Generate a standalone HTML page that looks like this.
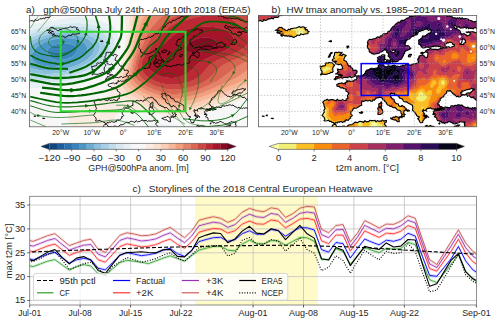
<!DOCTYPE html>
<html><head><meta charset="utf-8"><style>
html,body{margin:0;padding:0;background:#fff;width:500px;height:323px;overflow:hidden}
svg{display:block;font-family:"Liberation Sans",sans-serif}
</style></head><body>
<svg width="500" height="323" viewBox="0 0 500 323">
<defs>
<clipPath id="ca"><rect x="29.5" y="15.5" width="218.5" height="111.5"/></clipPath>
<clipPath id="cb"><rect x="258" y="15.5" width="218.8" height="111.5"/></clipPath>
<clipPath id="landb"><path d="M334.3 124L332.1 122.4L328.6 120.2L326.8 120.8L324 120.8L324.3 117.7L322.1 115.4L323.6 112.9L324.6 109.4L324 104.9L322.7 102.1L325.8 100.2L329.9 99.9L333.6 99.9L339.9 100.2L346.2 100.5L347.7 97L348 92.2L344.9 88.7L338 86.5L336.8 84.6L340.8 83.3L345.5 84L346.8 80.5L348 81.4L352.4 81.1L356.8 78.9L356.8 76.6L359.6 76L363 75L365.2 72.8L366.8 70L370.2 68.7L373.7 68.7L376.8 68.1L378.7 67.1L379.3 64.9L378.7 62.3L377.4 60.4L378.7 56.9L384.9 55L384.6 56.6L384 58.8L385.9 59.5L383 61.4L382.4 63.6L383.4 64.9L385.9 66.8L389.6 66.1L394.3 65.2L396.2 67.1L401.8 65.8L408 64.2L410.2 65.5L414 63.9L418.1 63L417.7 59.1L419.3 56L422.4 55L425.6 57.2L427.7 56.3L428.1 53.1L425.2 51.2L427.4 49.6L431.5 49L439.3 49.3L446.2 48L442.4 47.1L436.2 46.1L429.9 47.1L423.7 48L421.2 46.4L418.7 44.2L419 39.8L422.1 37.2L428.4 33.4L431.2 31.8L430.9 29.9L427.4 29.3L421.2 29.9L418.4 32.4L415.9 35L411.2 37.2L407.4 39.1L405.9 42.3L405.2 45.2L409.3 46.7L410.9 48.3L408 49.9L404.6 52.2L403.4 55.6L401.8 58.5L398.7 60.1L396.5 61.7L392.4 62.3L391.8 59.8L389.3 56.9L388.7 54.7L386.8 52.5L386.2 50.2L384.6 49.9L384.9 48L383 50.9L379.9 52.2L376.8 53.7L373.7 54.1L369.6 52.2L369.3 49.9L367.4 46.4L367.4 42.9L368.3 40.4L372.4 39.4L376.8 37.5L381.8 36.3L384.9 33.7L389.3 31.5L391.2 28.6L394.3 25.4L397.4 22.9L400.5 21.3L403.4 20.4L407.4 18.1L411.2 16.5L419 14.9L425.9 13L432.4 12.4L439.3 12.7L445.6 14.6L450.2 16.5L454.9 17.8L464.3 18.8L472.1 21L478.4 22.9L483.1 23.9L483.1 130.4L464 130.4L464 127.2L464.3 124L464.9 122.1L463.1 122.1L459.9 121.5L456.5 123.4L453.4 123.7L448.7 121.5L447.1 122.7L444.3 123.4L440.2 121.5L437.7 120.8L436.8 118L434.3 116.7L435.9 114.8L433.7 112.9L434.3 110.7L437.7 110L442.4 108.4L440.9 108.1L434.6 109.4L433.1 108.8L429 108.4L425.9 110.3L426.8 111.3L423.7 110.7L423.4 109.4L422.4 111.3L424.6 113.8L423.4 115.8L426.8 117L425.9 118L424 119.6L422.7 122.4L421.8 122.7L419.6 121.5L417.7 118.6L419.3 116.7L417.7 116.4L416.5 114.5L414.9 112.6L412.4 110L412.7 107.2L412.4 105.3L409.6 103.7L406.5 101.8L403 100.2L399.3 97.9L396.5 94.8L394.3 95.1L394.6 93.2L390.2 94.1L390.5 97L394.3 100.2L396.8 103.7L401.5 106.5L401.8 105.3L404.9 107.8L409.6 111L407.7 111.3L405.5 110L403.7 112.3L405.2 114.5L402.1 117.7L400.9 116.7L402.4 114.5L400.9 111.3L398.4 110.3L396.5 108.8L392.4 107.2L389.3 105.3L386.5 103.4L384.6 100.2L382.4 98.3L379.3 97.3L375.2 99.2L372.4 101.1L368.3 100.8L365.8 100.2L362.1 100.8L361.5 103.7L361.8 105.3L358.7 106.8L354.6 108.1L352.4 110.7L350.8 113.2L352.4 115.4L350.2 116.7L349.3 118.9L346.5 119.9L344.9 121.8L338 121.8L334.9 123.7ZM334 79.3L338.7 78.2L341.2 77.6L345.5 77.3L348.7 77L352.7 77L356.2 75.7L354.6 74.7L356.8 72.8L357.1 70.9L355.5 70.1L352.7 70.3L352.7 68.7L352.1 68.1L350.5 65.8L348 64.9L347.1 63L345.5 61.1L343.7 60.1L344 58.8L346.2 55.6L345.2 55L340.8 55L339.3 55.3L342.1 52.2L336.1 52.2L334.6 54.1L333.6 56.3L334.3 58.5L332.4 59.5L334.3 62.3L336.5 61.4L335.8 63.9L338 64.6L340.5 63.9L341.5 65.2L342.4 66.8L342.7 68.7L341.5 69L337.4 69L337.7 70.6L339 72.2L335.5 73.8L338.7 74.4L341.8 75L342.4 75.7L338.7 75.7L335.8 76.6ZM320.5 74.4L322.1 71.2L320.8 68.7L320.2 66.1L324.9 65.8L325.2 63.6L329 62.3L332.4 63L334.6 65.2L333 67.1L332.7 69L332.1 72.5L328.3 73.5L325.2 74.4L321.1 75ZM275.2 30.2L278.3 28.3L281.8 27.3L286.1 30.5L290.8 28.6L294.9 28L301.8 27L306.1 27.7L305.5 29.9L309.3 31.5L306.5 33.7L302.1 34.3L296.1 36.3L292.4 36.9L286.1 35.6L280.8 35.6L283 34L276.8 32.4L282.1 31.8ZM248.6 9.5L248.6 21.9L258 21.3L267.4 19.7L275.2 17.5L281.4 15.6L283 9.5ZM378.7 106.8L380.5 106.8L381.5 104.6L381.2 101.8L378.7 104L379 105.9ZM378 114.5L379.9 114.5L381.8 113.8L382.4 109.7L381.5 107.5L377.7 108.1L378.4 110.3L378 112.6ZM390.5 118L393.4 117L400.5 116.7L399 119.9L399.3 121.8L396.5 120.8L391.2 118.9ZM425.2 126.2L426.8 125.3L431.5 126.2L434 126.6L433.4 127.2L429 127.2ZM359.3 112.6L361.5 111.6L362.7 112.3L361.8 113.5L360.2 112.9ZM386.2 62.6L389.3 63.9L391.2 61.7L390.2 60.1L386.5 60.7ZM382.4 62.6L385.5 63.3L384.9 61.7L383 62ZM408.4 56.6L410.9 55.6L411.5 54.4L409.6 54.4ZM420.6 53.1L422.1 52.2L424.6 52.5L422.4 54.1ZM452.7 127.2L454.9 126.1L459.9 125L458.1 126.9L454.9 128.5ZM329.9 130.4L332.1 127.2L333.3 124.7L335.2 124.3L337.7 126.6L342.4 126.2L345.5 126.9L348.7 125L352.1 124.3L356.5 122.4L361.2 121.5L367.4 121.5L372.4 120.5L378.7 121.2L382.4 119.9L384 121.2L386.5 120.5L384.6 123.1L385.5 125.3L386.5 126.6L384.6 129.1L386.2 131L389.3 132L389.3 133.6ZM329 41.3L331.1 40.4L331.5 41.7ZM347.4 48L348.7 46.1L346.8 46.4ZM328.3 57.2L332.4 52.8L330.2 53.7ZM423.7 114.8L428.7 117.3L427.4 116.4ZM432.7 114.2L434.9 113.5L433.7 114.5ZM438.7 123.7L439.9 122.7L439.6 124ZM271.1 118.3L273.3 118.3L273 118.6ZM266.1 115.4L267.4 115.1L267.1 115.8ZM262.4 116.1L264.3 116.2L263 116.4Z"/></clipPath>
<clipPath id="cc"><rect x="29.7" y="196.3" width="446.7" height="108.7"/></clipPath>
</defs>
<rect width="500" height="323" fill="#fff"/>
<!-- MAP A -->
<g clip-path="url(#ca)">
<path fill="#3884bb" stroke="#3884bb" stroke-width="0.3" d="M52.9 58.9l1.6 0.6l1.5 0.3l1.6 0.2l1.5 0.1l1.6-0.1l1.6-0.1l1.5-0.3l1.6-0.3l1.6-0.4l0.1-0.1l1.4-0.5l1.6-0.7l0.9-0.4l0.6-0.3l1.6-1l0.4-0.3l1.2-0.9l0.6-0.6l0.9-1.3l0.3-0.3l0.5-1.6l0-1.6l-0.6-1.6l-0.2-0.3l-1.2-1.3l-0.3-0.2l-1.6-0.9l-0.9-0.5l-0.7-0.2l-1.5-0.4l-1.6-0.4l-1.5-0.2l-1.6-0.1l-1.6-0.1l-1.5 0.1l-1.6 0.1l-1.6 0.3l-1.5 0.3l-1.6 0.4l-0.9 0.2l-0.6 0.3l-1.6 0.7l-1.3 0.6l-0.3 0.2l-1.5 1.2l-0.3 0.2l-1.2 1.6l-0.1 0.1l-0.5 1.5l0 1.6l0.5 1.6l0.8 1.5l0.8 1l0.5 0.6l1 0.8l1.3 0.8z"/>
<path fill="#4a97c5" stroke="#4a97c5" stroke-width="0.3" d="M49.8 66.9l1.5 0l1.6 0l1.6 0l1.3-0.1l0.2 0l1.6-0.2l1.5-0.2l1.6-0.2l1.6-0.3l1.5-0.3l1.6-0.4l0.2 0l1.4-0.4l1.5-0.5l1.6-0.4l0.7-0.3l0.8-0.3l1.6-0.6l1.6-0.7l1.5-0.7l1.6-0.8l0.1-0.1l1.4-0.8l1.2-0.8l0.4-0.2l1.6-1.2l0.1-0.2l1.4-1.3l0.3-0.2l1.3-1.6l0-0.1l0.8-1.5l0.6-1.6l0.1-1.1l0.1-0.5l-0.1-0.8l0-0.8l-0.6-1.6l-0.9-1.5l-0.1-0.1l-1.5-1.5l-0.1-0.1l-1.4-1l-1-0.6l-0.6-0.3l-1.6-0.6l-1.5-0.6l-0.1 0l-1.5-0.5l-1.5-0.3l-1.6-0.3l-1.6-0.2l-1.5-0.2l-1.6-0.1l-1.1 0l-0.4-0.1l-1.6 0l-1.3 0.1l-0.3 0l-1.5 0l-1.6 0.2l-1.6 0.1l-1.5 0.3l-1.6 0.2l-1.5 0.3l-1.6 0.3l-0.6 0.2l-1 0.2l-1.5 0.5l-1.6 0.5l-1 0.3l-0.5 0.2l-1.6 0.7l-1.6 0.7l-0.1 0l-1.4 0.8l-1.4 0.8l-0.2 0.1l-1.5 1.1l-0.6 0.4l-1 0.8l-0.9 0.8l-0.7 0.7l-0.9 0.9l-0.6 0.8l-0.6 0.8l-1 1.6l-0.6 1.6l-0.4 1.5l0 1.6l0.5 1.6l0.5 1.1l0.3 0.5l1.3 1.4l0.2 0.2l1.3 1l0.9 0.6l0.7 0.3l1.6 0.7l1.3 0.6l0.2 0.1l1.6 0.4l1.5 0.4l1.6 0.3l1.6 0.2l1.5 0.2l0.2 0zM52.6 58.8l-1.3-0.8l-1-0.8l-0.5-0.6l-0.8-1l-0.8-1.5l-0.5-1.6l0-1.6l0.5-1.5l0.1-0.1l1.2-1.6l0.3-0.2l1.5-1.2l0.3-0.2l1.3-0.6l1.6-0.7l0.6-0.3l0.9-0.2l1.6-0.4l1.5-0.3l1.6-0.3l1.6-0.1l1.5-0.1l1.6 0.1l1.6 0.1l1.5 0.2l1.6 0.4l1.5 0.4l0.7 0.2l0.9 0.5l1.6 0.9l0.3 0.2l1.2 1.3l0.2 0.3l0.6 1.6l0 1.6l-0.5 1.6l-0.3 0.3l-0.9 1.3l-0.6 0.6l-1.2 0.9l-0.4 0.3l-1.6 1l-0.6 0.3l-0.9 0.4l-1.6 0.7l-1.4 0.5l-0.1 0.1l-1.6 0.4l-1.6 0.3l-1.5 0.3l-1.6 0.1l-1.6 0.1l-1.5-0.1l-1.6-0.2l-1.5-0.3l-1.6-0.6z"/>
<path fill="#6bacd0" stroke="#6bacd0" stroke-width="0.3" d="M38.9 70.1l1.5 0.2l1.6 0.2l1.5 0.2l1.6 0.1l1.6 0l1.5 0.1l1.6-0.1l1.5 0l1.6-0.1l1.6-0.1l1.5-0.1l1.6-0.2l1.5-0.2l0.8-0.1l0.8-0.2l1.6-0.3l1.5-0.3l1.6-0.3l1.6-0.4l0.4-0.1l1.1-0.3l1.6-0.5l1.5-0.5l1-0.3l0.6-0.2l1.6-0.6l1.5-0.7l0.4-0.1l1.2-0.5l1.5-0.7l0.8-0.4l0.8-0.4l1.6-0.8l0.6-0.4l0.9-0.5l1.6-1l0-0.1l1.5-1.1l0.7-0.5l0.9-0.8l0.8-0.8l0.8-0.8l0.6-0.8l0.9-1.2l0.3-0.3l0.8-1.6l0.5-1.1l0.2-0.5l0.3-1.6l0.1-1.6l-0.2-1.6l-0.4-1.1l-0.2-0.5l-1-1.6l-0.4-0.4l-1-1.2l-0.5-0.4l-1.5-1.1l-0.1-0.1l-1.6-0.9l-1.2-0.6l-0.3-0.2l-1.6-0.6l-1.5-0.5l-1-0.3l-0.6-0.2l-1.6-0.4l-1.5-0.3l-1.6-0.2l-1.5-0.2l-1.6-0.2l-1.5-0.1l-0.1 0l-1.5-0.1l-1.6 0l-1.5 0l-1.6 0l-1.6 0.1l-0.2 0l-1.3 0.1l-1.6 0.1l-1.6 0.2l-1.5 0.1l-1.6 0.3l-1.5 0.2l-1.6 0.3l-1.4 0.3l-0.2 0l-1.5 0.4l-1.6 0.4l-1.5 0.4l-1.2 0.4l-0.4 0.1l-1.6 0.5l-1.5 0.6l-0.9 0.4l-0.7 0.3l-1.5 0.7l-1.3 0.5l-0.3 0.2l-1.6 0.9l-1 0.5l-0.5 0.4l-1.6 1l-0.4 0.2l-1.1 0.9l-1.1 0.7l-0.5 0.4l-1.3 1.2l-0.3 0.2l-1.2 1.4l-0.3 0.3l0 1.3l0 1.6l0 1.6l0 1.5l0 1.6l0 1.6l0 1.6l0 1.6l0 1.6l0 1.6l1.5 1.1l0.8 0.5l0.8 0.4l1.6 0.7l1.1 0.5l0.4 0.1l1.6 0.5l1.5 0.4l1.6 0.4l0.9 0.2zM48.4 66.8l-0.2 0l-1.5-0.2l-1.6-0.2l-1.6-0.3l-1.5-0.4l-1.6-0.4l-0.2-0.1l-1.3-0.6l-1.6-0.7l-0.7-0.3l-0.9-0.6l-1.3-1l-0.2-0.2l-1.3-1.4l-0.3-0.5l-0.5-1.1l-0.5-1.6l0-1.6l0.4-1.5l0.6-1.6l1-1.6l0.6-0.8l0.6-0.8l0.9-0.9l0.7-0.7l0.9-0.8l1-0.8l0.6-0.4l1.5-1.1l0.2-0.1l1.4-0.8l1.4-0.8l0.1 0l1.6-0.7l1.6-0.7l0.5-0.2l1-0.3l1.6-0.5l1.5-0.5l1-0.2l0.6-0.2l1.6-0.3l1.5-0.3l1.6-0.2l1.5-0.3l1.6-0.1l1.6-0.2l1.5 0l0.3 0l1.3-0.1l1.6 0l0.4 0.1l1.1 0l1.6 0.1l1.5 0.2l1.6 0.2l1.6 0.3l1.5 0.3l1.5 0.5l0.1 0l1.5 0.6l1.6 0.6l0.6 0.3l1 0.6l1.4 1l0.1 0.1l1.5 1.5l0.1 0.1l0.9 1.5l0.6 1.6l0 0.8l0.1 0.8l-0.1 0.5l-0.1 1.1l-0.6 1.6l-0.8 1.5l0 0.1l-1.3 1.5l-0.3 0.3l-1.4 1.3l-0.1 0.2l-1.6 1.2l-0.4 0.2l-1.2 0.8l-1.4 0.8l-0.1 0.1l-1.6 0.8l-1.5 0.7l-1.6 0.7l-1.6 0.6l-0.8 0.3l-0.7 0.3l-1.6 0.4l-1.5 0.5l-1.4 0.4l-0.2 0l-1.6 0.4l-1.5 0.3l-1.6 0.3l-1.6 0.2l-1.5 0.2l-1.6 0.2l-0.2 0l-1.3 0.1l-1.6 0l-1.6 0l-1.5 0z"/>
<path fill="#8bc1dc" stroke="#8bc1dc" stroke-width="0.3" d="M35.7 73.3l1.6 0.2l1.6 0.2l1.5 0.1l1.6 0.1l1.5 0.1l1.6 0l1.6 0l1.5 0l1.6 0l1.5-0.1l1.6-0.1l1.6-0.2l1.5-0.1l1.6-0.2l1-0.2l0.5 0l1.6-0.3l1.6-0.3l1.5-0.3l1.6-0.3l1.4-0.3l0.2-0.1l1.5-0.4l1.6-0.4l1.5-0.5l0.8-0.2l0.8-0.3l1.6-0.5l1.5-0.6l0.6-0.2l1-0.4l1.5-0.7l1.3-0.5l0.3-0.1l1.6-0.8l1.5-0.7l1.6-0.8l1.4-0.8l0.1-0.1l1.6-1l0.8-0.5l0.8-0.5l1.4-1.1l0.1-0.1l1.6-1.3l0.1-0.2l1.4-1.4l0.2-0.2l1.3-1.6l0.1-0.1l1-1.4l0.6-1l0.3-0.6l0.7-1.6l0.4-1.6l0.1-0.5l0.2-1.1l-0.1-1.6l-0.1-0.7l-0.2-0.9l-0.6-1.6l-0.7-1.3l-0.2-0.3l-1.4-1.5l-1.6-1.4l-0.3-0.2l-1.2-0.8l-1.4-0.8l-0.2-0.1l-1.5-0.8l-1.6-0.6l-0.2-0.1l-1.4-0.5l-1.5-0.5l-1.6-0.4l-1-0.2l-0.5-0.1l-1.6-0.3l-1.6-0.3l-1.5-0.2l-1.6-0.1l-1.5-0.2l-1.6 0l-1.6-0.1l-1.5 0l-1.6 0l-1.5 0l-1.6 0.1l-1.6 0.1l-1.5 0.1l-1.6 0.1l-1.6 0.2l-1.5 0.1l-1.6 0.2l-1.5 0.3l-0.8 0.1l-0.8 0.1l-1.6 0.3l-1.5 0.3l-1.6 0.4l-1.5 0.3l-0.5 0.2l-1.1 0.3l-1.6 0.4l-1.5 0.5l-1.1 0.4l-0.5 0.1l-1.5 0.6l-1.6 0.6l-0.5 0.3l-1.1 0.4l-1.5 0.7l-0.9 0.5l-0.7 0.3l-1.5 0.8l-0.8 0.4l-0.8 0.5l-1.6 1l-0.2 0.1l-1.3 1l0 0.6l0 1.6l0 1.6l0 1.6l0 0.3l0.3-0.3l1.2-1.4l0.3-0.2l1.3-1.2l0.5-0.4l1.1-0.7l1.1-0.9l0.4-0.2l1.6-1l0.5-0.4l1-0.5l1.6-0.9l0.3-0.2l1.3-0.5l1.5-0.7l0.7-0.3l0.9-0.4l1.5-0.6l1.6-0.5l0.4-0.1l1.2-0.4l1.5-0.4l1.6-0.4l1.5-0.4l0.2 0l1.4-0.3l1.6-0.3l1.5-0.2l1.6-0.3l1.5-0.1l1.6-0.2l1.6-0.1l1.3-0.1l0.2 0l1.6-0.1l1.6 0l1.5 0l1.6 0l1.5 0.1l0.1 0l1.5 0.1l1.6 0.2l1.5 0.2l1.6 0.2l1.5 0.3l1.6 0.4l0.6 0.2l1 0.3l1.5 0.5l1.6 0.6l0.3 0.2l1.2 0.6l1.6 0.9l0.1 0.1l1.5 1.1l0.5 0.4l1 1.2l0.4 0.4l1 1.6l0.2 0.5l0.4 1.1l0.2 1.6l-0.1 1.6l-0.3 1.6l-0.2 0.5l-0.5 1.1l-0.8 1.6l-0.3 0.3l-0.9 1.2l-0.6 0.8l-0.8 0.8l-0.8 0.8l-0.9 0.8l-0.7 0.5l-1.5 1.1l0 0.1l-1.6 1l-0.9 0.5l-0.6 0.4l-1.6 0.8l-0.8 0.4l-0.8 0.4l-1.5 0.7l-1.2 0.5l-0.4 0.1l-1.5 0.7l-1.6 0.6l-0.6 0.2l-1 0.3l-1.5 0.5l-1.6 0.5l-1.1 0.3l-0.4 0.1l-1.6 0.4l-1.6 0.3l-1.5 0.3l-1.6 0.3l-0.8 0.2l-0.8 0.1l-1.5 0.2l-1.6 0.2l-1.5 0.1l-1.6 0.1l-1.6 0.1l-1.5 0l-1.6 0.1l-1.5-0.1l-1.6 0l-1.6-0.1l-1.5-0.2l-1.6-0.2l-1.5-0.2l-0.7-0.1l-0.9-0.2l-1.6-0.4l-1.5-0.4l-1.6-0.5l-0.4-0.1l-1.1-0.5l-1.6-0.7l-0.8-0.4l-0.8-0.5l-1.5-1.1l0 1.6l0 1.6l0 1.6l0 0.9l1.5 0.6l0.2 0.1l1.4 0.4l1.6 0.4l1.5 0.3l1.6 0.3l0.6 0.1z"/>
<path fill="#a7d0e4" stroke="#a7d0e4" stroke-width="0.3" d="M34.2 76.4l1.5 0.2l1.6 0.1l1.6 0.1l1.5 0.1l1.6 0.1l1.5 0l1.6 0l1.6 0l1.5-0.1l1.6-0.1l1.5-0.1l1.6-0.1l1.6-0.2l1-0.1l0.5 0l1.6-0.2l1.5-0.3l1.6-0.2l1.6-0.3l1.5-0.3l1.4-0.3l0.2 0l1.6-0.3l1.5-0.4l1.6-0.4l1.4-0.5l0.1 0l1.6-0.5l1.6-0.5l1.5-0.5l0.1 0l1.5-0.6l1.5-0.6l1.1-0.4l0.5-0.2l1.6-0.7l1.5-0.7l0.2 0l1.4-0.7l1.5-0.7l0.4-0.2l1.2-0.6l1.6-0.9l0.2-0.1l1.3-0.8l1.3-0.8l0.3-0.2l1.5-1.2l0.3-0.2l1.3-1l0.6-0.6l1-0.9l0.7-0.7l0.8-0.9l0.6-0.7l1-1.2l0.3-0.4l1.1-1.5l0.1-0.4l0.7-1.2l0.7-1.6l0.2-0.6l0.3-1l0.3-1.6l0.1-1.6l-0.1-1.6l-0.4-1.6l-0.2-0.6l-0.4-1l-0.9-1.5l-0.3-0.4l-1-1.2l-0.5-0.5l-1.3-1.1l-0.3-0.2l-1.5-1.1l-0.6-0.3l-1-0.6l-1.6-0.8l-0.5-0.2l-1-0.4l-1.6-0.6l-1.5-0.6l-0.2 0l-1.4-0.4l-1.6-0.4l-1.5-0.3l-1.6-0.3l-0.9-0.2l-0.6-0.1l-1.6-0.2l-1.6-0.2l-1.5-0.1l-1.6-0.1l-1.5-0.1l-1.6 0l-1.6 0l-1.5 0l-1.6 0l-1.5 0.1l-1.6 0.1l-1.6 0.1l-1.5 0.1l-1.6 0.1l-1.6 0.2l-0.9 0.1l-0.6 0.1l-1.6 0.2l-1.5 0.2l-1.6 0.2l-1.6 0.3l-1.5 0.3l-1.6 0.3l-1.5 0.3l-1.6 0.4l-1.6 0.4l-1.5 0.4l-0.3 0.1l-1.3 0.4l-1.5 0.5l-1.6 0.5l-0.4 0.2l-1.2 0.4l-1.5 0.6l-1.4 0.6l-0.2 0.1l-1.5 0.7l-1.6 0.7l-0.1 0.1l-1.5 0.8l-1.3 0.8l-0.2 0.1l0 1.4l0 1.6l0 1l1.3-1l0.2-0.1l1.6-1l0.8-0.5l0.8-0.4l1.5-0.8l0.7-0.3l0.9-0.5l1.5-0.7l1.1-0.4l0.5-0.3l1.6-0.6l1.5-0.6l0.5-0.1l1.1-0.4l1.5-0.5l1.6-0.4l1.1-0.3l0.5-0.2l1.5-0.3l1.6-0.4l1.5-0.3l1.6-0.3l0.8-0.1l0.8-0.1l1.5-0.3l1.6-0.2l1.5-0.1l1.6-0.2l1.6-0.1l1.5-0.1l1.6-0.1l1.6-0.1l1.5 0l1.6 0l1.5 0l1.6 0.1l1.6 0l1.5 0.2l1.6 0.1l1.5 0.2l1.6 0.3l1.6 0.3l0.5 0.1l1 0.2l1.6 0.4l1.5 0.5l1.4 0.5l0.2 0.1l1.6 0.6l1.5 0.8l0.2 0.1l1.4 0.8l1.2 0.8l0.3 0.2l1.6 1.4l1.4 1.5l0.2 0.3l0.7 1.3l0.6 1.6l0.2 0.9l0.1 0.7l0.1 1.6l-0.2 1.1l-0.1 0.5l-0.4 1.6l-0.7 1.6l-0.3 0.6l-0.6 1l-1 1.4l-0.1 0.1l-1.3 1.6l-0.2 0.2l-1.4 1.4l-0.1 0.2l-1.6 1.3l-0.1 0.1l-1.4 1.1l-0.8 0.5l-0.8 0.5l-1.6 1l-0.1 0.1l-1.4 0.8l-1.6 0.8l-1.5 0.7l-1.6 0.8l-0.3 0.1l-1.3 0.5l-1.5 0.7l-1 0.4l-0.6 0.2l-1.5 0.6l-1.6 0.5l-0.8 0.3l-0.8 0.2l-1.5 0.5l-1.6 0.4l-1.5 0.4l-0.2 0.1l-1.4 0.3l-1.6 0.3l-1.5 0.3l-1.6 0.3l-1.6 0.3l-0.5 0l-1 0.2l-1.6 0.2l-1.5 0.1l-1.6 0.2l-1.6 0.1l-1.5 0.1l-1.6 0l-1.5 0l-1.6 0l-1.6 0l-1.5-0.1l-1.6-0.1l-1.5-0.1l-1.6-0.2l-1.6-0.2l-0.9-0.2l-0.6-0.1l-1.6-0.3l-1.5-0.3l-1.6-0.4l-1.4-0.4l-0.2-0.1l-1.5-0.6l0 0.7l0 1.5l0 1.6l0 0.2l1.5 0.4l1.6 0.3l1.6 0.3l1.5 0.3l1.1 0.1z"/>
<path fill="#c1ddec" stroke="#c1ddec" stroke-width="0.3" d="M34.2 79.6l1.5 0.1l1.6 0.2l1.6 0l1.5 0.1l1.6 0l1.5 0l1.6 0l1.6-0.1l1.5-0.1l1.6-0.1l1.5-0.1l1.1-0.1l0.5 0l1.6-0.2l1.5-0.2l1.6-0.2l1.5-0.2l1.6-0.2l1.6-0.3l1.5-0.3l1.6-0.3l1.6-0.3l1.5-0.4l1.6-0.4l0.7-0.2l0.8-0.2l1.6-0.4l1.6-0.5l1.2-0.5l0.3-0.1l1.6-0.5l1.5-0.6l1-0.4l0.6-0.2l1.6-0.6l1.5-0.7l0.2 0l1.4-0.6l1.5-0.7l0.8-0.3l0.8-0.4l1.6-0.7l1-0.5l0.5-0.3l1.6-0.8l0.9-0.5l0.6-0.4l1.6-1l0.3-0.2l1.3-0.9l0.9-0.7l0.6-0.5l1.2-1.1l0.4-0.3l1.3-1.3l0.2-0.2l1.3-1.4l0.3-0.3l1.1-1.3l0.5-0.6l0.7-1l0.8-1.3l0.2-0.2l0.8-1.6l0.6-1.6l0.4-1.6l0.3-1.6l0.1-1.6l0-1.6l-0.1-1.6l-0.4-1.6l-0.3-1l-0.2-0.5l-0.9-1.6l-0.5-0.8l-0.6-0.8l-0.9-1l-0.7-0.6l-0.9-0.7l-1.2-0.9l-0.4-0.2l-1.5-1l-0.8-0.4l-0.8-0.4l-1.5-0.7l-1.3-0.5l-0.3-0.1l-1.6-0.6l-1.5-0.4l-1.6-0.5l-1.5-0.4l-1.6-0.3l-1.6-0.3l-1.5-0.3l-1.6-0.2l-0.8-0.1l-0.7-0.1l-1.6-0.1l-1.6-0.1l-1.5-0.1l-1.6 0l-1.5-0.1l-1.6 0l-1.6 0.1l-1.5 0l-1.6 0.1l-1.5 0.1l-1.6 0.1l-1.6 0.1l-0.2 0l-1.3 0.1l-1.6 0.2l-1.6 0.1l-1.5 0.2l-1.6 0.2l-1.5 0.2l-1.6 0.2l-1.6 0.3l-0.7 0.1l-0.8 0.2l-1.6 0.2l-1.5 0.3l-1.6 0.4l-1.6 0.3l-0.7 0.2l-0.8 0.2l-1.6 0.4l-1.5 0.4l-1.6 0.5l-0.3 0.1l-1.3 0.4l-1.5 0.6l-1.6 0.5l-0.1 0.1l-1.4 0.5l-1.6 0.7l-0.8 0.4l-0.8 0.3l-1.5 0.8l0 0.5l0 1.6l0 1.6l0 0.1l0.2-0.1l1.3-0.8l1.5-0.8l0.1-0.1l1.6-0.7l1.5-0.7l0.2-0.1l1.4-0.6l1.5-0.6l1.2-0.4l0.4-0.2l1.6-0.5l1.5-0.5l1.3-0.4l0.3-0.1l1.5-0.4l1.6-0.4l1.6-0.4l1.5-0.3l1.6-0.3l1.5-0.3l1.6-0.3l1.6-0.2l1.5-0.2l1.6-0.2l0.6-0.1l0.9-0.1l1.6-0.2l1.6-0.1l1.5-0.1l1.6-0.1l1.6-0.1l1.5-0.1l1.6 0l1.5 0l1.6 0l1.6 0l1.5 0.1l1.6 0.1l1.5 0.1l1.6 0.2l1.6 0.2l0.6 0.1l0.9 0.2l1.6 0.3l1.5 0.3l1.6 0.4l1.4 0.4l0.2 0l1.5 0.6l1.6 0.6l1 0.4l0.5 0.2l1.6 0.8l1 0.6l0.6 0.3l1.5 1.1l0.3 0.2l1.3 1.1l0.5 0.5l1 1.2l0.3 0.4l0.9 1.5l0.4 1l0.2 0.6l0.4 1.6l0.1 1.6l-0.1 1.6l-0.3 1.6l-0.3 1l-0.2 0.6l-0.7 1.6l-0.7 1.2l-0.1 0.4l-1.1 1.5l-0.3 0.4l-1 1.2l-0.6 0.7l-0.8 0.9l-0.7 0.7l-1 0.9l-0.6 0.6l-1.3 1l-0.3 0.2l-1.5 1.2l-0.3 0.2l-1.3 0.8l-1.3 0.8l-0.2 0.1l-1.6 0.9l-1.2 0.6l-0.4 0.2l-1.5 0.7l-1.4 0.7l-0.2 0l-1.5 0.7l-1.6 0.7l-0.5 0.2l-1.1 0.4l-1.5 0.6l-1.5 0.6l-0.1 0l-1.5 0.5l-1.6 0.5l-1.6 0.5l-0.1 0l-1.4 0.5l-1.6 0.4l-1.5 0.4l-1.6 0.3l-0.2 0l-1.4 0.3l-1.5 0.3l-1.6 0.3l-1.6 0.2l-1.5 0.3l-1.6 0.2l-0.5 0l-1 0.1l-1.6 0.2l-1.6 0.1l-1.5 0.1l-1.6 0.1l-1.5 0.1l-1.6 0l-1.6 0l-1.5 0l-1.6-0.1l-1.5-0.1l-1.6-0.1l-1.6-0.1l-1.5-0.2l-0.5-0.1l-1.1-0.1l-1.5-0.3l-1.6-0.3l-1.6-0.3l-1.5-0.4l0 1.4l0 1.6l0 0.7l1.5 0.2l1.6 0.2l1.6 0.3l1.5 0.2l0.5 0z"/>
<path fill="#d7e8f1" stroke="#d7e8f1" stroke-width="0.3" d="M29.5 82.7l1.6 0.2l1.5 0.2l1.6 0.1l1.5 0.1l1.6 0.1l1.6 0l1.5 0l1.6 0l1.5 0l1.6-0.1l1.6-0.1l1.5-0.1l1.6-0.1l1.5-0.1l1.6-0.2l0.4 0l1.2-0.1l1.5-0.2l1.6-0.2l1.5-0.2l1.6-0.3l1.6-0.2l1.5-0.3l0.6-0.1l1-0.2l1.6-0.3l1.5-0.3l1.6-0.4l1.5-0.4l1.6-0.4l1.6-0.5l1.5-0.5l0.6-0.2l1-0.3l1.5-0.6l1.6-0.6l0.2-0.1l1.4-0.5l1.5-0.6l1.1-0.5l0.5-0.1l1.5-0.7l1.6-0.6l0.4-0.2l1.2-0.4l1.5-0.6l1.3-0.5l0.3-0.2l1.5-0.6l1.6-0.8l0.1 0l1.5-0.8l1.2-0.8l0.3-0.2l1.6-1.1l0.3-0.3l1.2-1l0.8-0.6l0.8-0.8l0.9-0.8l0.7-0.6l1-1l0.5-0.5l1-1.1l0.6-0.6l0.8-1l0.7-0.9l0.5-0.7l0.9-1.6l0.2-0.4l0.5-1.1l0.6-1.6l0.4-1.6l0.1-0.4l0.2-1.2l0.2-1.6l0.1-1.6l0.1-1.6l0-1.6l-0.1-1.6l-0.3-1.5l-0.2-1.3l-0.1-0.3l-0.6-1.6l-0.8-1.6l-0.1-0.2l-1-1.4l-0.6-0.6l-1-1l-0.5-0.4l-1.6-1l-0.2-0.2l-1.3-0.7l-1.6-0.8l-0.2-0.1l-1.4-0.6l-1.5-0.6l-0.9-0.4l-0.7-0.2l-1.5-0.6l-1.6-0.4l-1.2-0.4l-0.4-0.1l-1.5-0.4l-1.6-0.3l-1.5-0.3l-1.6-0.3l-1.1-0.2l-0.5 0l-1.5-0.2l-1.6-0.2l-1.5-0.1l-1.6-0.1l-1.6-0.1l-1.5 0l-1.6 0l-1.5 0l-1.6 0.1l-1.6 0l-1.5 0.1l-1.6 0.1l-1.5 0.2l-1.6 0.1l-1.3 0.1l-0.3 0.1l-1.5 0.1l-1.6 0.2l-1.6 0.1l-1.5 0.2l-1.6 0.2l-1.5 0.2l-1.6 0.2l-1.6 0.3l-0.3 0l-1.2 0.2l-1.6 0.3l-1.5 0.2l-1.6 0.3l-1.6 0.3l-1.3 0.3l-0.2 0.1l-1.6 0.3l-1.5 0.4l-1.6 0.4l-1.5 0.4l-0.1 0l-1.5 0.5l-1.6 0.5l-1.5 0.5l-0.2 0.1l-1.4 0.5l-1.6 0.7l-0.9 0.4l-0.6 0.3l0 1.3l0 1.6l0 1.1l1.5-0.8l0.8-0.3l0.8-0.4l1.6-0.7l1.4-0.5l0.1-0.1l1.6-0.5l1.5-0.6l1.3-0.4l0.3-0.1l1.6-0.5l1.5-0.4l1.6-0.4l0.8-0.2l0.7-0.2l1.6-0.3l1.6-0.4l1.5-0.3l1.6-0.2l0.8-0.2l0.7-0.1l1.6-0.3l1.6-0.2l1.5-0.2l1.6-0.2l1.5-0.2l1.6-0.1l1.6-0.2l1.3-0.1l0.2 0l1.6-0.1l1.6-0.1l1.5-0.1l1.6-0.1l1.5 0l1.6-0.1l1.6 0l1.5 0.1l1.6 0l1.5 0.1l1.6 0.1l1.6 0.1l0.7 0.1l0.8 0.1l1.6 0.2l1.5 0.3l1.6 0.3l1.6 0.3l1.5 0.4l1.6 0.5l1.5 0.4l1.6 0.6l0.3 0.1l1.3 0.5l1.5 0.7l0.8 0.4l0.8 0.4l1.5 1l0.4 0.2l1.2 0.9l0.9 0.7l0.7 0.6l0.9 1l0.6 0.8l0.5 0.8l0.9 1.6l0.2 0.5l0.3 1l0.4 1.6l0.1 1.6l0 1.6l-0.1 1.6l-0.3 1.6l-0.4 1.6l-0.6 1.6l-0.8 1.6l-0.2 0.2l-0.8 1.3l-0.7 1l-0.5 0.6l-1.1 1.3l-0.3 0.3l-1.3 1.4l-0.2 0.2l-1.3 1.3l-0.4 0.3l-1.2 1.1l-0.6 0.5l-0.9 0.7l-1.3 0.9l-0.3 0.2l-1.6 1l-0.6 0.4l-0.9 0.5l-1.6 0.8l-0.5 0.3l-1 0.5l-1.6 0.7l-0.8 0.4l-0.8 0.3l-1.5 0.7l-1.4 0.6l-0.2 0l-1.5 0.7l-1.6 0.6l-0.6 0.2l-1 0.4l-1.5 0.6l-1.6 0.5l-0.3 0.1l-1.2 0.5l-1.6 0.5l-1.6 0.4l-0.8 0.2l-0.7 0.2l-1.6 0.4l-1.5 0.4l-1.6 0.3l-1.6 0.3l-1.5 0.3l-1.6 0.3l-1.6 0.2l-1.5 0.2l-1.6 0.2l-1.5 0.2l-1.6 0.2l-0.5 0l-1.1 0.1l-1.5 0.1l-1.6 0.1l-1.5 0.1l-1.6 0.1l-1.6 0l-1.5 0l-1.6 0l-1.5-0.1l-1.6 0l-1.6-0.2l-1.5-0.1l-1.1-0.1l-0.5 0l-1.5-0.2l-1.6-0.3l-1.6-0.2l-1.5-0.2l0 0.9l0 1.6l0 1.3l1.5 0.2l1.2 0.1z"/>
<path fill="#e7f0f4" stroke="#e7f0f4" stroke-width="0.3" d="M145 130.4l1.5 0l1.6 0l1.6 0l1.5 0l1.6 0l1.5 0l1.6 0l1.6 0l1.5 0l1.6 0l1.5 0l1.6 0l1.6 0l1.5 0l1.6 0l1.5 0l1.6 0l1.6 0l1.5 0l1.6 0l1.5 0l1.6 0l1.6 0l1.5 0l1.6 0l1.6 0l1.5 0l1.6 0l1.5 0l1.5 0l0-1.6l0-1.6l-1.5-0.3l-1.5-0.2l-1.6-0.2l-1.5-0.2l-1.6-0.2l-1.6-0.2l-1.5-0.2l-1.3-0.1l-0.3 0l-1.6-0.2l-1.5-0.1l-1.6-0.2l-1.5-0.1l-1.6-0.1l-1.6-0.1l-1.5-0.1l-1.6-0.1l-1.5-0.1l-1.6-0.1l-1.6-0.1l-1.5 0l-1.6-0.1l-1.5 0l-1.6 0l-1.6 0.1l-1.5 0.2l-1.6 0.2l-1.5 0.3l-1.6 0.4l-0.8 0.2l-0.8 0.3l-1.5 0.8l-0.8 0.5l0 1.6l0 1.6zM27.9 87.6l1.6 0.1l1.6 0.2l1.5 0.1l1.6 0.1l1.5 0.1l1.6 0l1.6 0.1l1.5 0l1.6-0.1l1.5 0l1.6-0.1l1.6-0.1l1.5-0.2l1.6-0.1l1.5-0.2l0.2-0.1l1.4-0.1l1.6-0.2l1.5-0.2l1.6-0.2l1.5-0.2l1.6-0.3l1.6-0.2l0.6-0.1l0.9-0.2l1.6-0.2l1.6-0.3l1.5-0.3l1.6-0.4l0.9-0.2l0.6-0.2l1.6-0.3l1.6-0.5l1.5-0.5l0.4-0.1l1.2-0.4l1.5-0.6l1.6-0.6l1.6-0.6l1.5-0.6l1-0.4l0.6-0.2l1.5-0.6l1.6-0.6l0.7-0.2l0.9-0.3l1.5-0.4l1.6-0.4l1.5-0.4l0.4-0.1l1.2-0.3l1.6-0.4l1.5-0.6l0.6-0.3l1-0.5l1.5-1.1l1.6-1.3l0.2-0.3l1.4-1.3l0.2-0.2l1.3-1.4l0.2-0.2l1.4-1.5l0.1-0.1l1.4-1.5l0.1-0.1l1.5-1.6l0.1 0l1.3-1.6l0.2-0.2l0.9-1.4l0.6-1.1l0.3-0.5l0.7-1.6l0.5-1.6l0.1-0.2l0.3-1.3l0.3-1.6l0.3-1.6l0.2-1.6l0.1-1.6l0.2-1.6l0.1-1.6l0-1l0.1-0.6l0-1.6l0-1.5l-0.1-1.3l0-0.3l-0.1-1.6l-0.3-1.6l-0.3-1.6l-0.5-1.6l-0.3-0.8l-0.4-0.8l-0.9-1.6l-0.3-0.4l-1.1-1.2l-0.4-0.4l-1.6-1.1l-0.1-0.1l-1.5-0.7l-1.5-0.7l-0.5-0.2l-1.1-0.3l-1.5-0.6l-1.6-0.5l-0.4-0.1l-1.2-0.5l-1.5-0.5l-1.6-0.4l-0.7-0.2l-0.8-0.3l-1.6-0.5l-1.6-0.4l-1.5-0.3l-0.5-0.1l-1.1-0.3l-1.5-0.3l-1.6-0.3l-1.6-0.3l-1.5-0.2l-1.6-0.2l-0.2 0l-1.3-0.2l-1.6-0.2l-1.6-0.1l-1.5-0.1l-1.6 0l-1.5 0.1l-1.6 0.2l-1.6 0.2l-0.2 0.1l-1.3 0.1l-1.6 0.3l-1.5 0.2l-1.6 0.3l-1.6 0.3l-1.5 0.4l-0.1 0l-1.5 0.2l-1.6 0.2l-1.5 0.3l-1.6 0.2l-1.5 0.3l-1.6 0.3l-0.6 0.1l-1 0.1l-1.5 0.2l-1.6 0.2l-1.5 0.3l-1.6 0.2l-1.6 0.3l-1.3 0.3l-0.2 0l-1.6 0.3l-1.5 0.2l-1.6 0.4l-1.6 0.3l-1.3 0.3l-0.2 0.1l-1.6 0.4l-1.5 0.4l-1.6 0.5l-0.7 0.2l-0.9 0.3l-1.5 0.6l0 0.7l0 1.6l0 1.6l0 1.6l0 0.3l0.6-0.3l0.9-0.4l1.6-0.7l1.4-0.5l0.2-0.1l1.5-0.5l1.6-0.5l1.5-0.5l0.1 0l1.5-0.4l1.6-0.4l1.5-0.4l1.6-0.3l0.2-0.1l1.3-0.3l1.6-0.3l1.6-0.3l1.5-0.2l1.6-0.3l1.2-0.2l0.3 0l1.6-0.3l1.6-0.2l1.5-0.2l1.6-0.2l1.5-0.2l1.6-0.1l1.6-0.2l1.5-0.1l0.3-0.1l1.3-0.1l1.6-0.1l1.5-0.2l1.6-0.1l1.5-0.1l1.6 0l1.6-0.1l1.5 0l1.6 0l1.5 0l1.6 0.1l1.6 0.1l1.5 0.1l1.6 0.2l1.5 0.2l0.5 0l1.1 0.2l1.6 0.3l1.5 0.3l1.6 0.3l1.5 0.4l0.4 0.1l1.2 0.4l1.6 0.4l1.5 0.6l0.7 0.2l0.9 0.4l1.5 0.6l1.4 0.6l0.2 0.1l1.6 0.8l1.3 0.7l0.2 0.2l1.6 1l0.5 0.4l1 1l0.6 0.6l1 1.4l0.1 0.2l0.8 1.6l0.6 1.6l0.1 0.3l0.2 1.3l0.3 1.5l0.1 1.6l0 1.6l-0.1 1.6l-0.1 1.6l-0.2 1.6l-0.2 1.2l-0.1 0.4l-0.4 1.6l-0.6 1.6l-0.5 1.1l-0.2 0.5l-0.9 1.5l-0.5 0.7l-0.7 0.9l-0.8 1l-0.6 0.6l-1 1.1l-0.5 0.5l-1 1l-0.7 0.6l-0.9 0.8l-0.8 0.8l-0.8 0.6l-1.2 1l-0.3 0.3l-1.6 1.1l-0.3 0.2l-1.2 0.8l-1.5 0.8l-0.1 0l-1.6 0.8l-1.5 0.6l-0.3 0.2l-1.3 0.5l-1.5 0.6l-1.2 0.4l-0.4 0.2l-1.6 0.6l-1.5 0.7l-0.5 0.1l-1.1 0.5l-1.5 0.6l-1.4 0.5l-0.2 0.1l-1.6 0.6l-1.5 0.6l-1 0.3l-0.6 0.2l-1.5 0.5l-1.6 0.5l-1.6 0.4l-1.5 0.4l-1.6 0.4l-1.5 0.3l-1.6 0.3l-1 0.2l-0.6 0.1l-1.5 0.3l-1.6 0.2l-1.6 0.3l-1.5 0.2l-1.6 0.2l-1.5 0.2l-1.2 0.1l-0.4 0l-1.6 0.2l-1.5 0.1l-1.6 0.1l-1.5 0.1l-1.6 0.1l-1.6 0.1l-1.5 0l-1.6 0l-1.5 0l-1.6 0l-1.6-0.1l-1.5-0.1l-1.6-0.1l-1.5-0.2l-1.6-0.2l-0.4 0l-1.2-0.1l-1.5-0.2l0 0.3l0 1.6l0 1.6l0 1.5l0 0.1z"/>
<path fill="#f7f7f7" stroke="#f7f7f7" stroke-width="0.3" d="M31.1 130.4l1.5 0l1.6 0l1.5 0l1.6 0l1.6 0l1.5 0l1.6 0l1.5 0l1.6 0l0-1.6l0-1.6l-1.6-0.6l-1.5-0.4l-1.6-0.4l-1.3-0.2l-0.2 0l-1.6-0.3l-1.6-0.1l-1.5 0l-1.6 0.2l-0.8 0.2l-0.7 0.2l-1.6 1.4l0 1.6l0 1.6zM120 130.4l1.6 0l1.5 0l1.6 0l1.6 0l1.5 0l1.6 0l1.5 0l1.6 0l1.6 0l1.5 0l1.6 0l1.5 0l1.6 0l1.6 0l1.5 0l0.8 0l0-1.6l0-1.6l0.8-0.5l1.5-0.8l0.8-0.3l0.8-0.2l1.6-0.4l1.5-0.3l1.6-0.2l1.5-0.2l1.6-0.1l1.6 0l1.5 0l1.6 0.1l1.5 0l1.6 0.1l1.6 0.1l1.5 0.1l1.6 0.1l1.5 0.1l1.6 0.1l1.6 0.1l1.5 0.1l1.6 0.2l1.5 0.1l1.6 0.2l0.3 0l1.3 0.1l1.5 0.2l1.6 0.2l1.6 0.2l1.5 0.2l1.6 0.2l1.5 0.2l1.5 0.3l0 1.6l0 1.6l0.1 0l1.6 0l1.5 0l1.6 0l1.5 0l1.6 0l1.6 0l1.5 0l1.6 0l1.5 0l1.6 0l1.6 0l1.5 0l1.6 0l1.5 0l1.6 0l1.6 0l1.5 0l1.6 0l1.5 0l1.6 0l1.6 0l1.5 0l1.6 0l1.5 0l1.6 0l1.6 0l1.5 0l1.6 0l1.5 0l1.6 0l1.6 0l1.5 0l1.6 0l1.5 0l1.6 0l1.6 0l0-1.6l0-1.6l1.5 0l1.6 0l0-1.6l0-1.6l0-1.6l0-1.6l0-1.5l0-1.6l0-1.6l0-1.6l0-1.6l0-1.6l0-1.6l0-1.6l0-1.6l0-1.6l0-0.3l-1.6 0l-1.5 0l-1.5 0.3l-0.1 0.1l-1.6 0.4l-1.5 0.4l-1.6 0.4l-1.3 0.3l-0.2 0.1l-1.6 0.4l-1.6 0.5l-1.5 0.4l-0.6 0.2l-1 0.3l-1.5 0.5l-1.6 0.5l-0.9 0.3l-0.7 0.2l-1.5 0.6l-1.6 0.5l-0.7 0.3l-0.8 0.3l-1.6 0.6l-1.6 0.6l-0.2 0.1l-1.3 0.6l-1.6 0.6l-1 0.4l-0.5 0.2l-1.6 0.7l-1.6 0.6l-0.1 0.1l-1.4 0.6l-1.6 0.6l-1.1 0.4l-0.4 0.1l-1.6 0.6l-1.6 0.5l-1.2 0.4l-0.3 0l-1.6 0.5l-1.5 0.3l-1.6 0.4l-1.6 0.2l-0.7 0.1l-0.8 0.2l-1.6 0.2l-1.5 0.2l-1.6 0.1l-1.6 0.1l-1.5 0.1l-1.6 0l-1.5 0.1l-1.6-0.1l-1.6 0l-1.5 0l-1.6-0.1l-1.6-0.1l-1.5-0.1l-1.6-0.1l-1.5-0.1l-1.6-0.2l-1.5-0.2l-0.1 0l-1.5-0.1l-1.6-0.2l-1.5-0.3l-1.6-0.2l-1.6-0.2l-1.5-0.3l-1.5-0.2l-0.1-0.1l-1.5-0.2l-1.6-0.3l-1.6-0.2l-1.5-0.3l-1.6-0.2l-1.5-0.2l-1.2-0.1l-0.4-0.1l-1.6-0.1l-1.5-0.1l-1.6-0.1l-1.5 0l-1.6 0l-1.6 0.1l-1.5 0.1l-1 0.2l-0.6 0.1l-1.5 0.3l-1.6 0.5l-1.6 0.6l-0.1 0.1l-1.4 0.7l-1.5 0.8l-0.1 0.1l-1.5 1l-0.8 0.5l-0.8 0.6l-1.5 1l-0.1 0.1l-1.5 1l-0.7 0.5l-0.9 0.6l-1.5 1l0 1.6l0 1.6zM27.9 127.4l1.6-0.2l-1.6 0l-1.5 0l0 0.3zM27.9 111.3l1.6 0l1-1.6l0.6-0.8l0.7-0.8l0.8-0.6l1.6-1l1.5-0.6l1.6-0.5l1.6-0.4l0.1-0.1l1.4-0.3l1.6-0.3l1.5-0.4l1.6-0.4l0.7-0.1l0.9-0.3l1.5-0.4l1.6-0.5l1.1-0.4l0.4-0.2l1.6-0.6l1.6-0.7l0.2-0.1l1.3-0.6l1.6-0.7l0.6-0.3l0.9-0.4l1.6-0.7l1.1-0.5l0.5-0.2l1.5-0.6l1.6-0.6l0.7-0.2l0.9-0.3l1.5-0.5l1.6-0.4l1.2-0.4l0.3-0.1l1.6-0.4l1.6-0.4l1.5-0.5l0.7-0.2l0.9-0.2l1.5-0.5l1.6-0.6l0.8-0.3l0.8-0.2l1.5-0.6l1.6-0.6l0.3-0.2l1.2-0.4l1.6-0.6l1.6-0.4l0.7-0.2l0.8-0.1l1.6-0.2l1.5 0l1.6-0.1l1.6-0.1l1.5-0.3l1.6-0.4l0.9-0.3l0.6-0.3l1.6-1l0.4-0.3l1.2-1.2l0.3-0.4l1-1.6l0.2-0.4l0.6-1.2l0.7-1.6l0.3-0.6l0.4-1l0.7-1.6l0.4-0.7l0.5-0.9l0.9-1.5l0.2-0.3l0.9-1.3l0.7-0.9l0.5-0.7l1-1.3l0.3-0.3l1.2-1.6l0.1-0.2l0.9-1.4l0.6-1.2l0.3-0.4l0.6-1.6l0.6-1.6l0.1-0.5l0.3-1.1l0.3-1.6l0.3-1.5l0.2-1.6l0.2-1.6l0.1-1.6l0.2-1.5l0-0.1l0.1-1.6l0.2-1.6l0.1-1.6l0.2-1.6l0.1-1.5l0.1-1.6l0-1.6l0-1.6l0-1.6l-0.1-1.6l-0.1-1.6l-0.2-1.6l-0.2-1.6l-0.2-1l-0.2-0.6l-0.4-1.6l-0.5-1.5l-0.5-1.1l-0.3-0.5l-1-1.6l-0.3-0.4l-1.1-1.2l-0.4-0.4l-1.4-1.2l-0.2-0.3l-0.7-1.3l-0.8-1.6l-1.6 0l-1.6 0l-1.5 0l-1.6 0l-1.5 0l-1.6 0l-1.6 0l-1.5 0l-1.6 0l-1.5 0l-1.6 0l-1.6 0l-1.5 0l-1.6 0l-1.5 0l-1.6 0l-1.6 0l-1.5 0l-1.6 0l-1.5 0l-1.6 0l-1.6 0l-1.5 0l-1.6 0l-1.5 0l-1.6 0l-1.6 0l-1.5 0l-1.6 0l-1.5 0l-1.6 0l-1.6 0l-1.5 0l-1.6 0l-1.6 0l-1.5 0l-1.6 0l-1.5 0l-1.6 0l-1.6 0l-1.5 0l-1.6 0l-1.5 0l-1.6 0l-1.6 0l-1.5 0l-1.6 0l-1.5 0l-1.6 0l-1.6 0l-1.5 0l-1.6 0l-1.5 0l-1.6 0l-1.6 0l-1.5 0l0 1.6l0 1.6l0 1.6l0 1.6l0 1.6l0 1.6l0 1.5l0 1.6l0 0.9l1.5-0.6l0.9-0.3l0.7-0.2l1.6-0.5l1.5-0.4l1.6-0.4l0.2-0.1l1.3-0.3l1.6-0.3l1.6-0.4l1.5-0.2l1.6-0.3l0.2 0l1.3-0.3l1.6-0.3l1.6-0.2l1.5-0.3l1.6-0.2l1.5-0.2l1-0.1l0.6-0.1l1.6-0.3l1.5-0.3l1.6-0.2l1.5-0.3l1.6-0.2l1.5-0.2l0.1 0l1.5-0.4l1.6-0.3l1.6-0.3l1.5-0.2l1.6-0.3l1.3-0.1l0.2-0.1l1.6-0.2l1.6-0.2l1.5-0.1l1.6 0l1.5 0.1l1.6 0.1l1.6 0.2l1.3 0.2l0.2 0l1.6 0.2l1.5 0.2l1.6 0.3l1.6 0.3l1.5 0.3l1.1 0.3l0.5 0.1l1.5 0.3l1.6 0.4l1.6 0.5l0.8 0.3l0.7 0.2l1.6 0.4l1.5 0.5l1.2 0.5l0.4 0.1l1.6 0.5l1.5 0.6l1.1 0.3l0.5 0.2l1.5 0.7l1.5 0.7l0.1 0.1l1.6 1.1l0.4 0.4l1.1 1.2l0.3 0.4l0.9 1.6l0.4 0.8l0.3 0.8l0.5 1.6l0.3 1.6l0.3 1.6l0.1 1.6l0 0.3l0.1 1.3l0 1.5l0 1.6l-0.1 0.6l0 1l-0.1 1.6l-0.2 1.6l-0.1 1.6l-0.2 1.6l-0.3 1.6l-0.3 1.6l-0.3 1.3l-0.1 0.2l-0.5 1.6l-0.7 1.6l-0.3 0.5l-0.6 1.1l-0.9 1.4l-0.2 0.2l-1.3 1.6l-0.1 0l-1.5 1.6l-0.1 0.1l-1.4 1.5l-0.1 0.1l-1.4 1.5l-0.2 0.2l-1.3 1.4l-0.2 0.2l-1.4 1.4l-0.2 0.2l-1.6 1.3l-1.5 1.1l-1 0.5l-0.6 0.3l-1.5 0.6l-1.6 0.4l-1.2 0.3l-0.4 0.1l-1.5 0.4l-1.6 0.4l-1.5 0.4l-0.9 0.3l-0.7 0.2l-1.6 0.6l-1.5 0.6l-0.6 0.2l-1 0.4l-1.5 0.6l-1.6 0.6l-1.6 0.6l-1.5 0.6l-1.2 0.4l-0.4 0.1l-1.5 0.5l-1.6 0.5l-1.6 0.3l-0.6 0.2l-0.9 0.2l-1.6 0.4l-1.5 0.3l-1.6 0.3l-1.6 0.2l-0.9 0.2l-0.6 0.1l-1.6 0.2l-1.6 0.3l-1.5 0.2l-1.6 0.2l-1.5 0.2l-1.6 0.2l-1.4 0.1l-0.2 0.1l-1.5 0.2l-1.6 0.1l-1.5 0.2l-1.6 0.1l-1.6 0.1l-1.5 0l-1.6 0.1l-1.5 0l-1.6-0.1l-1.6 0l-1.5-0.1l-1.6-0.1l-1.5-0.1l-1.6-0.2l-1.6-0.1l-1.5-0.1l0 1.5l0 1.6l0 1.6l0 1.6l0 1.6l0 1.6l0 1.6l0 1.6l0 1.6l0 1.6l0 1.5l0 1.6l0 1.6l0 1.6l0 1.6z"/>
<path fill="#f7f7f7" stroke="#f7f7f7" stroke-width="0.3" d="M27.9 130.4l1.6 0l0-1.6l0-1.6l1.6-1.4l0.7-0.2l0.8-0.2l1.6-0.2l1.5 0l1.6 0.1l1.6 0.3l0.2 0l1.3 0.2l1.6 0.4l1.5 0.4l1.6 0.6l0 1.6l0 1.6l1.6 0l1.5 0l1.6 0l1.5 0l1.6 0l1.6 0l1.5 0l1.6 0l1.5 0l1.6 0l1.6 0l1.5 0l1.6 0l1.6 0l1.5 0l1.6 0l1.5 0l1.6 0l1.6 0l1.5 0l0-1.6l0-1.6l-1.5-0.5l-1.6-0.7l-0.8-0.4l-0.8-0.5l-1.2-1.1l-0.3-0.4l-0.8-1.2l-0.6-1.6l-0.2-1.5l0-0.1l0.1-1.5l0.3-1.6l0.6-1.6l0.6-1l0.3-0.6l1.2-1.6l0-0.1l1.5-1.5l0.1-0.1l1.6-1.2l0.4-0.3l1.1-0.6l1.6-0.8l0.5-0.2l1-0.4l1.6-0.5l1.6-0.4l1-0.3l0.5-0.1l1.6-0.4l1.5-0.3l1.6-0.4l1-0.3l0.6-0.2l1.5-0.5l1.6-0.6l0.7-0.3l0.8-0.4l1.6-0.7l1.2-0.5l0.4-0.2l1.5-0.7l1.6-0.7l1.5-0.7l1.6-0.7l0.4-0.2l1.2-0.6l1.5-1l1.6-1.4l0.2-0.2l1-1.6l0.3-0.6l0.4-1l0.5-1.6l0.4-1.6l0.3-1.5l0-0.1l0.3-1.5l0.3-1.6l0.3-1.6l0.4-1.6l0.3-0.9l0.2-0.7l0.5-1.6l0.7-1.6l0.1-0.1l0.7-1.5l0.9-1.4l0.1-0.1l1-1.6l0.4-0.8l0.6-0.8l1-1.6l0.9-1.6l0.7-1.5l0-0.1l0.6-1.6l0.5-1.6l0.4-1.6l0-0.3l0.3-1.3l0.2-1.6l0.2-1.5l0.2-1.6l0.2-1.6l0.2-1.6l0.2-1.6l0.1-0.8l0.1-0.8l0.2-1.6l0.2-1.6l0.2-1.6l0.1-1.5l0.2-1.6l0.1-1.6l0.1-1.6l0.1-1.6l0-1.6l0-1.6l0-1.6l0-1.6l-0.1-1.6l-0.1-1.6l-0.1-1.5l-0.2-1.6l-0.2-1.6l-0.4-1.6l-0.2-0.7l-0.3-0.9l-0.2-1.6l-0.1-1.6l-1 0l-1.5 0l-1.6 0l-1.6 0l-1.5 0l-1.6 0l-1.5 0l0.8 1.6l0.7 1.3l0.2 0.3l1.4 1.2l0.4 0.4l1.1 1.2l0.3 0.4l1 1.6l0.3 0.5l0.5 1.1l0.5 1.5l0.4 1.6l0.2 0.6l0.2 1l0.2 1.6l0.2 1.6l0.1 1.6l0.1 1.6l0 1.6l0 1.6l0 1.6l-0.1 1.6l-0.1 1.5l-0.2 1.6l-0.1 1.6l-0.2 1.6l-0.1 1.6l0 0.1l-0.2 1.5l-0.1 1.6l-0.2 1.6l-0.2 1.6l-0.3 1.5l-0.3 1.6l-0.3 1.1l-0.1 0.5l-0.6 1.6l-0.6 1.6l-0.3 0.4l-0.6 1.2l-0.9 1.4l-0.1 0.2l-1.2 1.6l-0.3 0.3l-1 1.3l-0.5 0.7l-0.7 0.9l-0.9 1.3l-0.2 0.3l-0.9 1.5l-0.5 0.9l-0.4 0.7l-0.7 1.6l-0.4 1l-0.3 0.6l-0.7 1.6l-0.6 1.2l-0.2 0.4l-1 1.6l-0.3 0.4l-1.2 1.2l-0.4 0.3l-1.6 1l-0.6 0.3l-0.9 0.3l-1.6 0.4l-1.5 0.3l-1.6 0.1l-1.6 0.1l-1.5 0l-1.6 0.2l-0.8 0.1l-0.7 0.2l-1.6 0.4l-1.6 0.6l-1.2 0.4l-0.3 0.2l-1.6 0.6l-1.5 0.6l-0.8 0.2l-0.8 0.3l-1.6 0.6l-1.5 0.5l-0.9 0.2l-0.7 0.2l-1.5 0.5l-1.6 0.4l-1.6 0.4l-0.3 0.1l-1.2 0.4l-1.6 0.4l-1.5 0.5l-0.9 0.3l-0.7 0.2l-1.6 0.6l-1.5 0.6l-0.5 0.2l-1.1 0.5l-1.6 0.7l-0.9 0.4l-0.6 0.3l-1.6 0.7l-1.3 0.6l-0.2 0.1l-1.6 0.7l-1.6 0.6l-0.4 0.2l-1.1 0.4l-1.6 0.5l-1.5 0.4l-0.9 0.3l-0.7 0.1l-1.6 0.4l-1.5 0.4l-1.6 0.3l-1.4 0.3l-0.1 0.1l-1.6 0.4l-1.6 0.5l-1.5 0.6l-1.6 1l-0.8 0.6l-0.7 0.8l-0.6 0.8l-1 1.6l-1.6 0l-1.5 0l0 1.6l0 1.6l0 1.6l0 1.6l0 1.6l0 1.5l0 1.6l0 1.6l0 1.6l0 1.6l1.5 0l1.6 0l-1.6 0.2l-1.5 0.1l0 1.3l0 1.6zM104.4 130.4l1.6 0l1.5 0l1.6 0l1.5 0l1.6 0l1.6 0l1.5 0l1.6 0l1.5 0l0.1 0l0-1.6l0-1.6l1.5-1l0.9-0.6l0.7-0.5l1.5-1l0.1-0.1l1.5-1l0.8-0.6l0.8-0.5l1.5-1l0.1-0.1l1.5-0.8l1.4-0.7l0.1-0.1l1.6-0.6l1.6-0.5l1.5-0.3l0.6-0.1l1-0.2l1.5-0.1l1.6-0.1l1.6 0l1.5 0l1.6 0.1l1.5 0.1l1.6 0.1l0.4 0.1l1.2 0.1l1.5 0.2l1.6 0.2l1.5 0.3l1.6 0.2l1.6 0.3l1.5 0.2l0.1 0.1l1.5 0.2l1.5 0.3l1.6 0.2l1.6 0.2l1.5 0.3l1.6 0.2l1.5 0.1l0.1 0l1.5 0.2l1.6 0.2l1.5 0.1l1.6 0.1l1.5 0.1l1.6 0.1l1.6 0.1l1.5 0l1.6 0l1.6 0.1l1.5-0.1l1.6 0l1.5-0.1l1.6-0.1l1.6-0.1l1.5-0.2l1.6-0.2l0.8-0.2l0.7-0.1l1.6-0.2l1.6-0.4l1.5-0.3l1.6-0.5l0.3 0l1.2-0.4l1.6-0.5l1.6-0.6l0.4-0.1l1.1-0.4l1.6-0.6l1.4-0.6l0.1-0.1l1.6-0.6l1.6-0.7l0.5-0.2l1-0.4l1.6-0.6l1.3-0.6l0.2-0.1l1.6-0.6l1.6-0.6l0.8-0.3l0.7-0.3l1.6-0.5l1.5-0.6l0.7-0.2l0.9-0.3l1.6-0.5l1.5-0.5l1-0.3l0.6-0.2l1.5-0.4l1.6-0.5l1.6-0.4l0.2-0.1l1.3-0.3l1.6-0.4l1.5-0.4l1.6-0.4l0.1-0.1l1.5-0.3l1.5 0l1.6 0l0-1.2l0-1.6l0-1.6l0-1.6l0-1.1l-1.6 0l-1.5 0l-1.6 0.6l-1.5 0.5l-0.1 0l-1.5 0.5l-1.6 0.6l-1.5 0.5l-1.6 0.5l-1.6 0.6l-1.4 0.5l-0.1 0l-1.6 0.5l-1.5 0.6l-1.4 0.5l-0.2 0l-1.6 0.6l-1.5 0.5l-1.2 0.4l-0.4 0.2l-1.5 0.5l-1.6 0.6l-0.9 0.3l-0.7 0.3l-1.5 0.6l-1.6 0.5l-0.5 0.2l-1 0.4l-1.6 0.6l-1.5 0.6l-0.1 0l-1.5 0.6l-1.6 0.6l-1 0.4l-0.5 0.2l-1.6 0.6l-1.6 0.5l-0.7 0.3l-0.8 0.3l-1.6 0.5l-1.5 0.5l-0.9 0.3l-0.7 0.2l-1.6 0.5l-1.5 0.4l-1.6 0.4l-0.4 0.1l-1.1 0.2l-1.6 0.3l-1.6 0.3l-1.5 0.2l-1.6 0.2l-1.5 0.2l-1.6 0.1l-1.6 0l-0.8 0.1l-0.7 0l-1.6 0l-0.4 0l-1.2-0.1l-1.5 0l-1.6-0.1l-1.5-0.2l-1.6-0.1l-1.6-0.2l-1.5-0.2l-1.6-0.3l-1.5-0.3l-0.7-0.1l-0.9-0.2l-1.6-0.4l-1.5-0.3l-1.6-0.4l-1.1-0.3l-0.4-0.1l-1.6-0.4l-1.6-0.4l-1.5-0.4l-1.1-0.3l-0.5-0.1l-1.5-0.4l-1.6-0.4l-1.6-0.3l-1.5-0.4l-0.2 0l-1.4-0.3l-1.5-0.3l-1.6-0.4l-1.6-0.3l-1.3-0.3l-0.2 0l-1.6-0.4l-1.5-0.3l-1.6-0.4l-1.6-0.3l-0.7-0.2l-0.8-0.1l-1.6-0.3l-1.5-0.2l-1.6-0.1l-1.6 0.2l-1.4 0.5l-0.1 0.1l-1.6 1.1l-0.4 0.4l-1.2 1.6l-1 1.6l-0.5 0.9l-0.4 0.7l-1 1.6l-0.2 0.2l-0.9 1.4l-0.6 0.9l-0.6 0.7l-1 1.2l-0.3 0.3l-1.3 1.3l-0.3 0.3l-1.2 1.1l-0.6 0.5l-1 0.8l-1.2 0.8l-0.3 0.2l-1.6 0.9l-1.1 0.5l0 1.6l0 1.6zM248 130.4l1.5 0l1.6 0l0-1.6l0-1.6l-1.6 0l-1.5 0l0 1.6l0 1.6z"/>
<path fill="#faebe3" stroke="#faebe3" stroke-width="0.3" d="M76.3 130.4l1.6 0l1.5 0l1.6 0l1.6 0l1.5 0l1.6 0l1.5 0l1.6 0l1.6 0l1.5 0l1.6 0l1.5 0l1.6 0l1.6 0l1.5 0l1.6 0l1.5 0l0.5 0l0-1.6l0-1.6l1.1-0.5l1.6-0.9l0.3-0.2l1.2-0.8l1-0.8l0.6-0.5l1.2-1.1l0.3-0.3l1.3-1.3l0.3-0.3l1-1.2l0.6-0.7l0.6-0.9l0.9-1.4l0.2-0.2l1-1.6l0.4-0.7l0.5-0.9l1-1.6l1.2-1.6l0.4-0.4l1.6-1.1l0.1-0.1l1.4-0.5l1.6-0.2l1.6 0.1l1.5 0.2l1.6 0.3l0.8 0.1l0.7 0.2l1.6 0.3l1.6 0.4l1.5 0.3l1.6 0.4l0.2 0l1.3 0.3l1.6 0.3l1.6 0.4l1.5 0.3l1.4 0.3l0.2 0l1.5 0.4l1.6 0.3l1.6 0.4l1.5 0.4l0.5 0.1l1.1 0.3l1.5 0.4l1.6 0.4l1.6 0.4l0.4 0.1l1.1 0.3l1.6 0.4l1.5 0.3l1.6 0.4l0.9 0.2l0.7 0.1l1.5 0.3l1.6 0.3l1.5 0.2l1.6 0.2l1.6 0.1l1.5 0.2l1.6 0.1l1.5 0l1.2 0.1l0.4 0l1.6 0l0.7 0l0.8-0.1l1.6 0l1.6-0.1l1.5-0.2l1.6-0.2l1.5-0.2l1.6-0.3l1.6-0.3l1.1-0.2l0.4-0.1l1.6-0.4l1.5-0.4l1.6-0.5l0.7-0.2l0.9-0.3l1.5-0.5l1.6-0.5l0.8-0.3l0.7-0.3l1.6-0.5l1.6-0.6l0.5-0.2l1-0.4l1.6-0.6l1.5-0.6l0.1 0l1.5-0.6l1.6-0.6l1-0.4l0.5-0.2l1.6-0.5l1.5-0.6l0.7-0.3l0.9-0.3l1.6-0.6l1.5-0.5l0.4-0.2l1.2-0.4l1.5-0.5l1.6-0.6l0.2 0l1.4-0.5l1.5-0.6l1.6-0.5l0.1 0l1.4-0.5l1.6-0.6l1.6-0.5l1.5-0.5l1.6-0.6l1.5-0.5l0.1 0l1.5-0.5l1.6-0.6l1.5 0l1.6 0l0-0.5l0-1.6l0-1.6l0-1.2l-1.6 0l-1.5 0l-1.6 0.5l-1.6 0.5l-0.5 0.2l-1 0.4l-1.6 0.5l-1.5 0.5l-0.5 0.2l-1.1 0.4l-1.6 0.6l-1.5 0.5l-0.2 0.1l-1.4 0.5l-1.5 0.6l-1.5 0.5l-0.1 0l-1.6 0.6l-1.5 0.6l-1.2 0.4l-0.4 0.1l-1.5 0.6l-1.6 0.6l-0.8 0.3l-0.8 0.2l-1.5 0.6l-1.6 0.6l-0.4 0.2l-1.1 0.4l-1.6 0.6l-1.5 0.5l-0.1 0.1l-1.5 0.6l-1.6 0.5l-1.1 0.4l-0.4 0.2l-1.6 0.6l-1.6 0.6l-0.7 0.2l-0.8 0.3l-1.6 0.6l-1.5 0.5l-0.7 0.2l-0.9 0.3l-1.6 0.5l-1.5 0.5l-1.2 0.3l-0.4 0.1l-1.5 0.4l-1.6 0.4l-1.6 0.3l-1.5 0.3l-0.3 0.1l-1.3 0.2l-1.5 0.2l-1.6 0.2l-1.6 0.1l-1.5 0.1l-1.6 0.1l-1.6 0l-1.5 0l-1.6-0.1l-1.5-0.1l-1.6-0.2l-1.6-0.2l-1.5-0.3l-0.2 0l-1.4-0.3l-1.5-0.3l-1.6-0.4l-1.6-0.4l-0.6-0.2l-0.9-0.2l-1.6-0.5l-1.5-0.5l-1.3-0.4l-0.3-0.1l-1.6-0.4l-1.5-0.5l-1.6-0.5l-0.2-0.1l-1.3-0.4l-1.6-0.4l-1.6-0.5l-0.8-0.3l-0.7-0.2l-1.6-0.5l-1.5-0.5l-1.1-0.4l-0.5-0.1l-1.6-0.6l-1.5-0.7l-0.5-0.1l-1.1-0.5l-1.5-0.8l-0.8-0.3l-0.8-0.5l-1.6-0.8l-0.5-0.3l-1-0.6l-1.6-1l-0.1 0l-1.4-0.9l-1-0.7l-0.6-0.4l-1.6-1.2l-1.5-1.3l-0.3-0.3l-1.3-1.4l-0.1-0.2l-1-1.6l-0.5-0.9l-0.2-0.7l-0.5-1.6l-0.3-1.5l-0.1-1.6l-0.1-1.6l0.1-1.6l0.3-1.6l0.4-1.6l0.4-1.4l0.1-0.2l0.7-1.6l0.8-1.6l0-0.1l0.8-1.4l0.8-1.5l0.1-0.1l0.8-1.6l0.6-1.4l0.1-0.2l0.7-1.6l0.6-1.6l0.2-0.8l0.2-0.8l0.4-1.6l0.3-1.6l0.3-1.6l0.3-1.6l0.1-0.6l0.1-0.9l0.2-1.6l0.3-1.6l0.2-1.6l0.2-1.6l0.3-1.6l0.2-1.5l0-0.1l0.3-1.6l0.2-1.6l0.2-1.5l0.2-1.6l0.2-1.6l0.1-1.6l0.1-1.6l0.1-1.6l0.1-1.6l0-1.6l0.1-0.9l0-0.7l0-1.6l0.1-1.6l0-1.5l0-1.6l0-1.6l0-1.6l0-1.6l-0.1-1.6l0-1.2l0-0.4l-1.6 0l-1.5 0l-1.6 0l-0.6 0l0.1 1.6l0.2 1.6l0.3 0.9l0.2 0.7l0.4 1.6l0.2 1.6l0.2 1.6l0.1 1.5l0.1 1.6l0.1 1.6l0 1.6l0 1.6l0 1.6l0 1.6l-0.1 1.6l-0.1 1.6l-0.1 1.6l-0.2 1.6l-0.1 1.5l-0.2 1.6l-0.2 1.6l-0.2 1.6l-0.1 0.8l-0.1 0.8l-0.2 1.6l-0.2 1.6l-0.2 1.6l-0.2 1.6l-0.2 1.5l-0.2 1.6l-0.3 1.3l0 0.3l-0.4 1.6l-0.5 1.6l-0.6 1.6l0 0.1l-0.7 1.5l-0.9 1.6l-1 1.6l-0.6 0.8l-0.4 0.8l-1 1.6l-0.1 0.1l-0.9 1.4l-0.7 1.5l-0.1 0.1l-0.7 1.6l-0.5 1.6l-0.2 0.7l-0.3 0.9l-0.4 1.6l-0.3 1.6l-0.3 1.6l-0.3 1.5l0 0.1l-0.3 1.5l-0.4 1.6l-0.5 1.6l-0.4 1l-0.3 0.6l-1 1.6l-0.2 0.2l-1.6 1.4l-1.5 1l-1.2 0.6l-0.4 0.2l-1.6 0.7l-1.5 0.7l-1.6 0.7l-1.5 0.7l-0.4 0.2l-1.2 0.5l-1.6 0.7l-0.8 0.4l-0.7 0.3l-1.6 0.6l-1.5 0.5l-0.6 0.2l-1 0.3l-1.6 0.4l-1.5 0.3l-1.6 0.4l-0.5 0.1l-1 0.3l-1.6 0.4l-1.6 0.5l-1 0.4l-0.5 0.2l-1.6 0.8l-1.1 0.6l-0.4 0.3l-1.6 1.2l-0.1 0.1l-1.5 1.5l0 0.1l-1.2 1.6l-0.3 0.6l-0.6 1l-0.6 1.6l-0.3 1.6l-0.1 1.5l0 0.1l0.2 1.5l0.6 1.6l0.8 1.2l0.3 0.4l1.2 1.1l0.8 0.5l0.8 0.4l1.6 0.7l1.5 0.5l0 1.6l0 1.6z"/>
<path fill="#fce0cf" stroke="#fce0cf" stroke-width="0.3" d="M168.4 112.9l1.5 0.3l1.6 0.2l1.6 0.2l1.5 0.1l1.6 0.1l1.5 0l1.6 0l1.6-0.1l1.5-0.1l1.6-0.1l1.6-0.2l1.5-0.2l1.3-0.2l0.3-0.1l1.5-0.3l1.6-0.3l1.6-0.4l1.5-0.4l0.4-0.1l1.2-0.3l1.5-0.5l1.6-0.5l0.9-0.3l0.7-0.2l1.5-0.5l1.6-0.6l0.8-0.3l0.7-0.2l1.6-0.6l1.6-0.6l0.4-0.2l1.1-0.4l1.6-0.5l1.5-0.6l0.1-0.1l1.5-0.5l1.6-0.6l1.1-0.4l0.4-0.2l1.6-0.6l1.5-0.6l0.8-0.2l0.8-0.3l1.6-0.6l1.5-0.6l0.4-0.1l1.2-0.4l1.5-0.6l1.6-0.6l0.1 0l1.5-0.5l1.5-0.6l1.4-0.5l0.2-0.1l1.5-0.5l1.6-0.6l1.1-0.4l0.5-0.2l1.5-0.5l1.6-0.5l1-0.4l0.5-0.2l1.6-0.5l1.6-0.5l1.5 0l1.6 0l0-0.4l0-1.6l0-1.6l0-0.8l-1.6 0l-1.5 0l-1.6 0.5l-0.9 0.3l-0.7 0.3l-1.5 0.5l-1.6 0.6l-0.8 0.2l-0.7 0.3l-1.6 0.6l-1.6 0.5l-0.5 0.2l-1 0.4l-1.6 0.5l-1.5 0.6l-0.3 0.1l-1.3 0.5l-1.6 0.5l-1.5 0.6l-1.6 0.6l-1.5 0.6l-1.1 0.4l-0.5 0.2l-1.6 0.6l-1.5 0.5l-0.6 0.3l-1 0.3l-1.5 0.6l-1.6 0.6l-0.2 0.1l-1.4 0.5l-1.5 0.6l-1.3 0.5l-0.3 0.1l-1.5 0.5l-1.6 0.6l-0.9 0.4l-0.7 0.2l-1.5 0.5l-1.6 0.6l-0.8 0.2l-0.7 0.3l-1.6 0.5l-1.6 0.5l-1 0.3l-0.5 0.2l-1.6 0.5l-1.5 0.4l-1.6 0.4l-0.6 0.1l-1 0.3l-1.5 0.3l-1.6 0.3l-1.5 0.3l-1.6 0.2l-1.6 0.2l-0.3 0l-1.2 0.1l-1.6 0.1l-1.6 0l-1.5 0l-1.6 0l-1.5-0.1l-0.7-0.1l-0.9-0.1l-1.6-0.2l-1.5-0.3l-1.6-0.3l-1.5-0.4l-1.2-0.3l-0.4-0.1l-1.6-0.4l-1.5-0.5l-1.6-0.5l-0.2-0.1l-1.3-0.4l-1.6-0.5l-1.6-0.6l-0.3-0.1l-1.2-0.4l-1.6-0.5l-1.5-0.5l-0.3-0.1l-1.3-0.5l-1.6-0.5l-1.5-0.6l-0.1 0l-1.5-0.6l-1.5-0.7l-0.9-0.3l-0.7-0.4l-1.6-0.7l-1-0.5l-0.5-0.3l-1.6-0.8l-0.8-0.5l-0.7-0.5l-1.6-0.9l-0.3-0.2l-1.3-0.8l-1.1-0.8l-0.4-0.3l-1.6-1.1l-0.2-0.2l-1.3-1l-0.6-0.6l-1-1l-0.6-0.6l-1-1.3l-0.1-0.3l-0.8-1.5l-0.6-1.6l0-0.3l-0.3-1.3l-0.1-1.6l0.1-1.6l0.3-1.5l0-0.1l0.5-1.6l0.5-1.6l0.5-1.2l0.2-0.4l0.7-1.5l0.6-1.6l0.1-0.1l0.6-1.5l0.6-1.6l0.4-1.2l0.1-0.4l0.4-1.6l0.4-1.6l0.4-1.6l0.2-1.2l0.1-0.4l0.3-1.6l0.3-1.6l0.2-1.5l0.3-1.6l0.3-1.6l0.1-0.2l0.2-1.4l0.3-1.6l0.4-1.6l0.3-1.6l0.3-1.6l0-0.4l0.2-1.2l0.3-1.5l0.2-1.6l0.2-1.6l0.2-1.6l0.1-1.6l0.1-1.6l0.2-1.6l0.1-1.6l0-0.4l0.1-1.2l0.1-1.6l0.1-1.6l0.2-1.5l0.2-1.6l0.2-1.6l0.3-1.6l0.3-1.6l0-1.6l-0.1-1.6l-1.4 0l-1.6 0l-1.5 0l0 0.4l0 1.2l0.1 1.6l0 1.6l0 1.6l0 1.6l0 1.6l0 1.5l-0.1 1.6l0 1.6l0 0.7l-0.1 0.9l0 1.6l-0.1 1.6l-0.1 1.6l-0.1 1.6l-0.1 1.6l-0.2 1.6l-0.2 1.6l-0.2 1.5l-0.2 1.6l-0.3 1.6l0 0.1l-0.2 1.5l-0.3 1.6l-0.2 1.6l-0.2 1.6l-0.3 1.6l-0.2 1.6l-0.1 0.9l-0.1 0.6l-0.3 1.6l-0.3 1.6l-0.3 1.6l-0.4 1.6l-0.2 0.8l-0.2 0.8l-0.6 1.6l-0.7 1.6l-0.1 0.2l-0.6 1.4l-0.8 1.6l-0.1 0.1l-0.8 1.5l-0.8 1.4l0 0.1l-0.8 1.6l-0.7 1.6l-0.1 0.2l-0.4 1.4l-0.4 1.6l-0.3 1.6l-0.1 1.6l0.1 1.6l0.1 1.6l0.3 1.5l0.5 1.6l0.2 0.7l0.5 0.9l1 1.6l0.1 0.2l1.3 1.4l0.3 0.3l1.5 1.3l1.6 1.2l0.6 0.4l1 0.7l1.4 0.9l0.1 0l1.6 1l1 0.6l0.5 0.3l1.6 0.8l0.8 0.5l0.8 0.3l1.5 0.8l1.1 0.5l0.5 0.1l1.5 0.7l1.6 0.6l0.5 0.1l1.1 0.4l1.5 0.5l1.6 0.5l0.7 0.2l0.8 0.3l1.6 0.5l1.6 0.4l1.3 0.4l0.2 0.1l1.6 0.5l1.5 0.5l1.6 0.4l0.3 0.1l1.3 0.4l1.5 0.5l1.6 0.5l0.9 0.2l0.6 0.2l1.6 0.4l1.6 0.4l1.5 0.3l1.4 0.3z"/>
<path fill="#fbcdb6" stroke="#fbcdb6" stroke-width="0.3" d="M173.1 109.8l1.5 0.1l1.6 0l1.5 0l1.6 0l1.6-0.1l1.2-0.1l0.3 0l1.6-0.2l1.6-0.2l1.5-0.3l1.6-0.3l1.5-0.3l1-0.3l0.6-0.1l1.6-0.4l1.5-0.4l1.6-0.5l0.5-0.2l1-0.3l1.6-0.5l1.6-0.5l0.7-0.3l0.8-0.2l1.6-0.6l1.5-0.5l0.7-0.2l0.9-0.4l1.6-0.6l1.5-0.5l0.3-0.1l1.3-0.5l1.5-0.6l1.4-0.5l0.2-0.1l1.6-0.6l1.5-0.6l1-0.3l0.6-0.3l1.5-0.5l1.6-0.6l0.5-0.2l1.1-0.4l1.5-0.6l1.6-0.6l1.5-0.6l1.6-0.5l1.3-0.5l0.3-0.1l1.5-0.6l1.6-0.5l1-0.4l0.5-0.2l1.6-0.5l1.6-0.6l0.7-0.3l0.8-0.2l1.6-0.6l1.5-0.5l0.7-0.3l0.9-0.3l1.6-0.5l1.5 0l1.6 0l0-0.8l0-1.5l0-1.6l0-0.6l-1.6 0l-1.5 0l-1.5 0.6l-0.1 0l-1.6 0.6l-1.5 0.6l-1.1 0.4l-0.5 0.1l-1.5 0.6l-1.6 0.6l-0.7 0.2l-0.9 0.4l-1.5 0.5l-1.6 0.6l-0.3 0.1l-1.2 0.5l-1.6 0.6l-1.5 0.5l-0.1 0l-1.5 0.6l-1.6 0.6l-1 0.4l-0.5 0.2l-1.6 0.6l-1.6 0.6l-0.5 0.2l-1 0.4l-1.6 0.6l-1.5 0.6l-1.6 0.6l-1.6 0.6l-1 0.4l-0.5 0.2l-1.6 0.6l-1.5 0.6l-0.7 0.2l-0.9 0.3l-1.6 0.6l-1.5 0.5l-0.4 0.2l-1.2 0.4l-1.5 0.5l-1.6 0.5l-0.4 0.2l-1.2 0.3l-1.5 0.5l-1.6 0.4l-1.1 0.4l-0.4 0.1l-1.6 0.4l-1.6 0.4l-1.5 0.3l-1.5 0.3l-0.1 0.1l-1.5 0.2l-1.6 0.3l-1.6 0.2l-1.5 0.2l-1.6 0.1l-1.6 0.1l-1.5 0l-1.6 0l-1.5-0.1l-1.6-0.2l-1.6-0.2l-1.5-0.3l-1.6-0.3l-0.3-0.1l-1.2-0.3l-1.6-0.4l-1.6-0.5l-1.2-0.3l-0.3-0.1l-1.6-0.6l-1.5-0.5l-1.3-0.4l-0.3-0.1l-1.6-0.6l-1.5-0.5l-1.1-0.4l-0.5-0.2l-1.5-0.6l-1.6-0.6l-0.6-0.2l-1-0.4l-1.5-0.7l-1.3-0.5l-0.3-0.1l-1.5-0.8l-1.5-0.7l-0.1-0.1l-1.6-0.8l-1.2-0.7l-0.3-0.2l-1.6-0.9l-0.8-0.5l-0.7-0.5l-1.6-1l-0.1-0.1l-1.5-1.1l-0.6-0.5l-0.9-0.8l-0.8-0.8l-0.8-0.8l-0.6-0.7l-0.9-1.5l-0.1-0.1l-0.7-1.6l-0.4-1.6l-0.1-1.6l0.1-1.6l0.3-1.6l0.4-1.6l0.5-1.4l0-0.2l0.5-1.5l0.5-1.6l0.5-1.6l0-0.2l0.4-1.4l0.4-1.6l0.4-1.6l0.4-1.6l0.3-1.6l0.3-1.6l0.3-1.6l0.4-1.6l0.2-1.1l0.1-0.4l0.4-1.6l0.4-1.6l0.4-1.6l0.3-1.4l0.1-0.2l0.3-1.6l0.4-1.6l0.4-1.6l0.3-1.6l0.1-0.3l0.2-1.2l0.2-1.6l0.3-1.6l0.2-1.6l0.2-1.6l0.1-1.6l0.2-1.6l0.1-1.1l0.1-0.5l0.2-1.6l0.2-1.6l0.2-1.6l0.3-1.5l0.4-1.6l0.2-0.8l0.2-0.8l0.6-1.6l0.7-1.6l0-1.6l0-1.6l-1.5 0l-1.6 0l-1.5 0l-0.2 0l0.1 1.6l0 1.6l-0.3 1.6l-0.3 1.6l-0.2 1.6l-0.2 1.6l-0.2 1.5l-0.1 1.6l-0.1 1.6l-0.1 1.2l0 0.4l-0.1 1.6l-0.2 1.6l-0.1 1.6l-0.1 1.6l-0.2 1.6l-0.2 1.6l-0.2 1.6l-0.3 1.5l-0.2 1.2l0 0.4l-0.3 1.6l-0.3 1.6l-0.4 1.6l-0.3 1.6l-0.2 1.4l-0.1 0.2l-0.3 1.6l-0.3 1.6l-0.2 1.5l-0.3 1.6l-0.3 1.6l-0.1 0.4l-0.2 1.2l-0.4 1.6l-0.4 1.6l-0.4 1.6l-0.1 0.4l-0.4 1.2l-0.6 1.6l-0.6 1.5l-0.1 0.1l-0.6 1.6l-0.7 1.5l-0.2 0.4l-0.5 1.2l-0.5 1.6l-0.5 1.6l0 0.1l-0.3 1.5l-0.1 1.6l0.1 1.6l0.3 1.3l0 0.3l0.6 1.6l0.8 1.5l0.1 0.3l1 1.3l0.6 0.6l1 1l0.6 0.6l1.3 1l0.2 0.2l1.6 1.1l0.4 0.3l1.1 0.8l1.3 0.8l0.3 0.2l1.6 0.9l0.7 0.5l0.8 0.5l1.6 0.8l0.5 0.3l1 0.5l1.6 0.7l0.7 0.4l0.9 0.3l1.5 0.7l1.5 0.6l0.1 0l1.5 0.6l1.6 0.5l1.3 0.5l0.3 0.1l1.5 0.5l1.6 0.5l1.2 0.4l0.3 0.1l1.6 0.6l1.6 0.5l1.3 0.4l0.2 0.1l1.6 0.5l1.5 0.5l1.6 0.4l0.4 0.1l1.2 0.3l1.5 0.4l1.6 0.3l1.5 0.3l1.6 0.2l0.9 0.1z"/>
<path fill="#f7b799" stroke="#f7b799" stroke-width="0.3" d="M166.8 105l1.6 0.3l1.5 0.3l1.6 0.2l1.6 0.2l1.5 0.1l1.6 0l1.5 0l1.6-0.1l1.6-0.1l1.5-0.2l1.6-0.2l1.6-0.3l1.5-0.2l0.1-0.1l1.5-0.3l1.5-0.3l1.6-0.4l1.6-0.4l0.4-0.1l1.1-0.4l1.6-0.4l1.5-0.5l1.2-0.3l0.4-0.2l1.6-0.5l1.5-0.5l1.2-0.4l0.4-0.2l1.5-0.5l1.6-0.6l0.9-0.3l0.7-0.2l1.5-0.6l1.6-0.6l0.5-0.2l1-0.4l1.6-0.6l1.6-0.6l1.5-0.6l1.6-0.6l1-0.4l0.5-0.2l1.6-0.6l1.6-0.6l0.5-0.2l1-0.4l1.6-0.6l1.5-0.6l0.1 0l1.5-0.5l1.6-0.6l1.2-0.5l0.3-0.1l1.6-0.6l1.5-0.5l0.9-0.4l0.7-0.2l1.6-0.6l1.5-0.6l0.5-0.1l1.1-0.4l1.5-0.6l1.6-0.6l0.1 0l1.5-0.6l1.5 0l1.6 0l0-1l0-1.6l0-1.6l0-1.3l-1.6 0l-1.5 0l-1.6 0.8l-0.9 0.5l-0.7 0.3l-1.5 0.7l-1.3 0.6l-0.3 0.1l-1.5 0.7l-1.6 0.6l-0.4 0.2l-1.2 0.4l-1.5 0.7l-1.3 0.5l-0.3 0.1l-1.5 0.6l-1.6 0.6l-0.6 0.3l-1 0.3l-1.5 0.7l-1.5 0.5l-0.1 0.1l-1.5 0.6l-1.6 0.6l-0.8 0.3l-0.8 0.3l-1.5 0.7l-1.6 0.6l-0.1 0l-1.4 0.6l-1.6 0.6l-1 0.4l-0.6 0.2l-1.5 0.6l-1.6 0.7l-0.4 0.1l-1.1 0.5l-1.6 0.5l-1.5 0.6l-0.1 0l-1.5 0.6l-1.6 0.5l-1.4 0.5l-0.1 0.1l-1.6 0.5l-1.6 0.5l-1.5 0.4l-0.2 0.1l-1.4 0.4l-1.5 0.4l-1.6 0.4l-1.4 0.4l-0.2 0l-1.5 0.4l-1.6 0.3l-1.5 0.3l-1.6 0.3l-1.6 0.2l-0.5 0.1l-1 0.1l-1.6 0.1l-1.6 0.1l-1.5 0.1l-1.6 0l-1.5-0.1l-1.6-0.1l-1.6-0.2l-1.5-0.3l-1.6-0.3l-1.5-0.4l-1.6-0.4l-0.7-0.2l-0.9-0.3l-1.5-0.5l-1.6-0.5l-1-0.3l-0.5-0.2l-1.6-0.5l-1.6-0.6l-0.8-0.3l-0.7-0.3l-1.6-0.6l-1.5-0.6l-0.3-0.1l-1.3-0.5l-1.6-0.7l-0.8-0.4l-0.7-0.3l-1.6-0.8l-1-0.5l-0.5-0.3l-1.6-0.8l-0.8-0.5l-0.8-0.4l-1.5-1l-0.2-0.2l-1.4-0.9l-0.9-0.7l-0.6-0.4l-1.3-1.1l-0.3-0.3l-1.3-1.3l-0.3-0.4l-0.8-1.2l-0.7-1.4l-0.1-0.2l-0.5-1.6l-0.1-1.6l0-1.6l0.2-1.6l0.3-1.6l0.2-1l0.1-0.5l0.3-1.6l0.3-1.6l0.4-1.6l0.3-1.6l0.1-0.6l0.2-1l0.4-1.6l0.3-1.6l0.3-1.6l0.4-1.5l0-0.1l0.4-1.6l0.4-1.5l0.5-1.6l0.3-1l0.1-0.6l0.5-1.6l0.5-1.6l0.4-1.3l0.1-0.3l0.5-1.6l0.4-1.6l0.4-1.6l0.2-0.8l0.1-0.7l0.4-1.6l0.3-1.6l0.2-1.6l0.3-1.6l0.2-1.6l0.3-1.6l0.3-1.6l0.3-1.6l0.4-1.6l0.3-1.1l0.1-0.5l0.6-1.5l0.7-1.6l0.2-0.5l0.6-1.1l0.9-1.6l1.2-1.6l-0.1-1.6l0-1.6l-1.1 0l-1.5 0l-1.6 0l-1.6 0l0 1.6l0 1.6l-0.7 1.6l-0.6 1.6l-0.2 0.8l-0.2 0.8l-0.4 1.6l-0.3 1.5l-0.2 1.6l-0.2 1.6l-0.2 1.6l-0.1 0.5l-0.1 1.1l-0.2 1.6l-0.1 1.6l-0.2 1.6l-0.2 1.6l-0.3 1.6l-0.2 1.6l-0.2 1.2l-0.1 0.3l-0.3 1.6l-0.4 1.6l-0.4 1.6l-0.3 1.6l-0.1 0.2l-0.3 1.4l-0.4 1.6l-0.4 1.6l-0.4 1.6l-0.1 0.4l-0.2 1.1l-0.4 1.6l-0.3 1.6l-0.3 1.6l-0.3 1.6l-0.4 1.6l-0.4 1.6l-0.4 1.6l-0.4 1.4l0 0.2l-0.5 1.6l-0.5 1.6l-0.5 1.5l0 0.2l-0.5 1.4l-0.4 1.6l-0.3 1.6l-0.1 1.6l0.1 1.6l0.4 1.6l0.7 1.6l0.1 0.1l0.9 1.5l0.6 0.7l0.8 0.8l0.8 0.8l0.9 0.8l0.6 0.5l1.5 1.1l0.1 0.1l1.6 1l0.7 0.5l0.8 0.5l1.6 0.9l0.3 0.2l1.2 0.7l1.6 0.8l0.1 0.1l1.5 0.7l1.5 0.8l0.3 0.1l1.3 0.5l1.5 0.7l1 0.4l0.6 0.2l1.6 0.6l1.5 0.6l0.5 0.2l1.1 0.4l1.5 0.5l1.6 0.6l0.3 0.1l1.3 0.4l1.5 0.5l1.6 0.6l0.3 0.1l1.2 0.3l1.6 0.5l1.6 0.4l1.2 0.3z"/>
<path fill="#f29f7e" stroke="#f29f7e" stroke-width="0.3" d="M169.9 101.8l1.6 0.2l1.6 0.1l1.5 0.1l1.6 0l1.5-0.1l1.6-0.1l1.6-0.1l1-0.1l0.5-0.1l1.6-0.2l1.6-0.3l1.5-0.3l1.6-0.3l1.5-0.4l0.2 0l1.4-0.4l1.6-0.4l1.5-0.4l1.4-0.4l0.2-0.1l1.5-0.4l1.6-0.5l1.6-0.5l0.1-0.1l1.4-0.5l1.6-0.5l1.5-0.6l0.1 0l1.5-0.6l1.6-0.5l1.1-0.5l0.4-0.1l1.6-0.7l1.5-0.6l0.6-0.2l1-0.4l1.6-0.6l1.4-0.6l0.1 0l1.6-0.6l1.5-0.7l0.8-0.3l0.8-0.3l1.6-0.6l1.5-0.6l0.1-0.1l1.5-0.5l1.5-0.7l1-0.3l0.6-0.3l1.6-0.6l1.5-0.6l0.3-0.1l1.3-0.5l1.5-0.7l1.2-0.4l0.4-0.2l1.6-0.6l1.5-0.7l0.3-0.1l1.3-0.6l1.5-0.7l0.7-0.3l0.9-0.5l1.6-0.8l1.5 0l1.6 0l0-0.3l0-1.6l0-1.6l0-1.6l0-1.5l0-1.6l0-0.8l-1.6 0l-1.5 0l-0.9 0.8l-0.7 0.5l-1.3 1.1l-0.3 0.1l-1.5 1.2l-0.3 0.2l-1.3 0.9l-1 0.7l-0.5 0.3l-1.6 1l-0.5 0.3l-1.1 0.6l-1.5 1l-0.1 0l-1.5 0.8l-1.5 0.8l-1.6 0.7l-1.6 0.8l-0.1 0.1l-1.4 0.6l-1.6 0.8l-0.4 0.2l-1.1 0.5l-1.6 0.7l-0.9 0.4l-0.7 0.3l-1.5 0.7l-1.4 0.6l-0.2 0l-1.5 0.7l-1.6 0.7l-0.3 0.1l-1.3 0.6l-1.5 0.6l-1 0.4l-0.6 0.3l-1.5 0.6l-1.6 0.6l-0.2 0.1l-1.4 0.5l-1.5 0.6l-1.3 0.5l-0.3 0.1l-1.5 0.6l-1.6 0.5l-1.3 0.4l-0.3 0.1l-1.5 0.5l-1.6 0.4l-1.5 0.5l-0.5 0.1l-1.1 0.3l-1.6 0.4l-1.5 0.3l-1.6 0.4l-1.1 0.2l-0.4 0.1l-1.6 0.3l-1.6 0.2l-1.5 0.2l-1.6 0.2l-1.6 0.1l-1.5 0.1l-1.6 0l-1.5-0.1l-1.6-0.1l-1.6-0.2l-1.5-0.2l-1.6-0.3l-1.3-0.3l-0.2-0.1l-1.6-0.4l-1.6-0.4l-1.5-0.5l-0.7-0.2l-0.9-0.3l-1.5-0.5l-1.6-0.5l-0.7-0.3l-0.9-0.3l-1.5-0.6l-1.6-0.6l-0.2-0.1l-1.3-0.5l-1.6-0.7l-0.7-0.4l-0.9-0.4l-1.5-0.8l-0.8-0.4l-0.8-0.4l-1.5-0.9l-0.5-0.3l-1.1-0.7l-1.3-0.8l-0.3-0.2l-1.5-1.2l-0.3-0.2l-1.3-1.2l-0.4-0.4l-1.1-1.4l-0.2-0.2l-0.9-1.6l-0.5-1.4l-0.1-0.2l-0.3-1.6l-0.1-1.6l0-1.6l0.1-1.5l0.2-1.6l0.2-1.5l0-0.1l0.2-1.6l0.3-1.6l0.3-1.6l0.3-1.6l0.3-1.6l0.2-0.5l0.2-1.1l0.5-1.6l0.4-1.6l0.4-1.2l0.1-0.3l0.6-1.6l0.6-1.6l0.3-0.8l0.3-0.8l0.6-1.6l0.6-1.6l0-0.1l0.6-1.5l0.5-1.6l0.5-1.6l0.5-1.5l0.4-1.6l0.4-1.6l0.3-0.9l0.2-0.7l0.4-1.6l0.5-1.6l0.4-1.4l0.1-0.2l0.6-1.6l0.6-1.6l0.3-0.6l0.5-1l0.9-1.6l0.1-0.2l0.9-1.3l0.7-1l0.5-0.6l1.1-1.4l0.2-0.2l1.3-1.6l0-0.1l1.2-1.5l0-1.6l0-1.6l-1.2 0l-1.5 0l-1.6 0l-1.6 0l-1.5 0l-0.5 0l0 1.6l0.1 1.6l-1.2 1.6l-0.9 1.6l-0.6 1.1l-0.2 0.5l-0.7 1.6l-0.6 1.5l-0.1 0.5l-0.3 1.1l-0.4 1.6l-0.3 1.6l-0.3 1.6l-0.3 1.6l-0.2 1.6l-0.3 1.6l-0.2 1.6l-0.3 1.6l-0.4 1.6l-0.1 0.7l-0.2 0.8l-0.4 1.6l-0.4 1.6l-0.5 1.6l-0.1 0.3l-0.4 1.3l-0.5 1.6l-0.5 1.6l-0.1 0.6l-0.3 1l-0.5 1.6l-0.4 1.5l-0.4 1.6l0 0.1l-0.4 1.5l-0.3 1.6l-0.3 1.6l-0.4 1.6l-0.2 1l-0.1 0.6l-0.3 1.6l-0.4 1.6l-0.3 1.6l-0.3 1.6l-0.1 0.5l-0.2 1l-0.3 1.6l-0.2 1.6l0 1.6l0.1 1.6l0.5 1.6l0.1 0.2l0.7 1.4l0.8 1.2l0.3 0.4l1.3 1.3l0.3 0.3l1.3 1.1l0.6 0.4l0.9 0.7l1.4 0.9l0.2 0.2l1.5 1l0.8 0.4l0.8 0.5l1.6 0.8l0.5 0.3l1 0.5l1.6 0.8l0.7 0.3l0.8 0.4l1.6 0.7l1.3 0.5l0.3 0.1l1.5 0.6l1.6 0.6l0.7 0.3l0.8 0.3l1.6 0.6l1.6 0.5l0.5 0.2l1 0.3l1.6 0.5l1.5 0.5l0.9 0.3l0.7 0.2l1.6 0.4l1.5 0.4l1.6 0.3l1.5 0.3z"/>
<path fill="#e58268" stroke="#e58268" stroke-width="0.3" d="M166.8 97.3l1.6 0.3l1.5 0.2l1.6 0.2l1.6 0.1l1.5 0.1l1.6 0l1.5-0.1l1.6-0.1l1.6-0.2l1.5-0.2l1.6-0.2l1.6-0.3l0.4-0.1l1.1-0.2l1.6-0.4l1.5-0.3l1.6-0.4l1.1-0.3l0.5-0.1l1.5-0.5l1.6-0.4l1.5-0.5l0.3-0.1l1.3-0.4l1.6-0.5l1.5-0.6l0.3-0.1l1.3-0.5l1.5-0.6l1.4-0.5l0.2-0.1l1.6-0.6l1.5-0.6l0.6-0.3l1-0.4l1.5-0.6l1.3-0.6l0.3-0.1l1.6-0.7l1.5-0.7l0.2 0l1.4-0.6l1.5-0.7l0.7-0.3l0.9-0.4l1.6-0.7l1.1-0.5l0.4-0.2l1.6-0.8l1.4-0.6l0.1-0.1l1.6-0.8l1.6-0.7l1.5-0.8l1.5-0.8l0.1 0l1.5-1l1.1-0.6l0.5-0.3l1.6-1l0.5-0.3l1-0.7l1.3-0.9l0.3-0.2l1.5-1.2l0.3-0.1l1.3-1.1l0.7-0.5l0.9-0.8l1.5 0l1.6 0l0-0.8l0-1.6l0-1.6l0-1.6l0-1.6l0-1.3l-1.6 0l-1.5 0l-1.6 0.8l-1.2 0.5l-0.4 0.2l-1.5 0.8l-1.1 0.6l-0.5 0.2l-1.5 0.9l-0.9 0.5l-0.7 0.4l-1.6 1l-0.2 0.2l-1.3 0.8l-1.1 0.8l-0.5 0.3l-1.5 1.1l-0.2 0.2l-1.4 1l-0.7 0.6l-0.9 0.6l-1.1 0.9l-0.4 0.3l-1.6 1.2l-0.1 0.1l-1.4 1.1l-0.7 0.5l-0.9 0.7l-1.3 0.9l-0.3 0.2l-1.5 1l-0.7 0.4l-0.9 0.5l-1.5 1l-0.3 0.1l-1.3 0.7l-1.6 0.9l-1.5 0.8l-1.6 0.8l-1.5 0.7l-1.6 0.7l-0.3 0.2l-1.3 0.5l-1.5 0.7l-0.9 0.3l-0.7 0.3l-1.5 0.6l-1.6 0.6l-0.4 0.1l-1.2 0.4l-1.5 0.6l-1.6 0.5l-0.5 0.1l-1 0.3l-1.6 0.5l-1.6 0.4l-1.5 0.4l-0.3 0l-1.3 0.3l-1.5 0.3l-1.6 0.3l-1.6 0.3l-1.5 0.2l-1.6 0.2l-0.5 0l-1.1 0.1l-1.5 0.1l-1.6 0l-1.5 0l-1.6-0.1l-0.9-0.1l-0.7-0.1l-1.5-0.2l-1.6-0.2l-1.5-0.4l-1.6-0.3l-1.4-0.4l-0.2 0l-1.5-0.5l-1.6-0.4l-1.5-0.5l-0.4-0.2l-1.2-0.4l-1.6-0.5l-1.5-0.7l-1.6-0.6l-1.5-0.7l-0.5-0.3l-1.1-0.5l-1.6-0.8l-0.4-0.2l-1.1-0.7l-1.6-0.9l-1.5-1.1l-0.8-0.5l-0.8-0.6l-1.1-1l-0.5-0.4l-1-1.2l-0.5-0.7l-0.6-0.9l-0.7-1.6l-0.3-0.8l-0.2-0.8l-0.3-1.6l-0.1-1.5l0-1.6l0-1.6l0.1-1.6l0.2-1.6l0.3-1.6l0-0.3l0.3-1.3l0.4-1.6l0.4-1.6l0.5-1.6l0.6-1.6l0.6-1.5l0.3-0.8l0.4-0.8l0.8-1.6l0.4-0.9l0.4-0.7l0.7-1.6l0.5-1l0.3-0.6l0.7-1.6l0.5-1.3l0.1-0.3l0.7-1.6l0.6-1.5l0.2-0.4l0.5-1.2l0.7-1.6l0.3-0.9l0.4-0.7l0.8-1.6l0.4-0.8l0.5-0.8l1-1.6l0.1-0.1l1.1-1.5l0.4-0.6l0.8-1l0.8-0.8l0.6-0.8l0.9-1l0.5-0.6l1.1-1.1l0.4-0.4l1.2-1.3l0.3-0.3l1.2-1.3l0.3-0.3l1.3-1.2l0.5-0.4l1-0.8l1.2-0.8l0-1.6l0-1.6l-1.2 0l-1.5 0l-1.6 0l-1.5 0l-1.6 0l-1.6 0l-1.5 0l-0.4 0l0 1.6l0 1.6l-1.2 1.5l0 0.1l-1.3 1.6l-0.2 0.2l-1.1 1.4l-0.5 0.6l-0.7 1l-0.9 1.3l-0.1 0.2l-0.9 1.6l-0.5 1l-0.3 0.6l-0.6 1.6l-0.6 1.6l-0.1 0.2l-0.4 1.4l-0.5 1.6l-0.4 1.6l-0.2 0.7l-0.3 0.9l-0.4 1.6l-0.4 1.6l-0.5 1.5l-0.5 1.6l-0.5 1.6l-0.6 1.5l0 0.1l-0.6 1.6l-0.6 1.6l-0.3 0.8l-0.3 0.8l-0.6 1.6l-0.6 1.6l-0.1 0.3l-0.4 1.2l-0.4 1.6l-0.5 1.6l-0.2 1.1l-0.2 0.5l-0.3 1.6l-0.3 1.6l-0.3 1.6l-0.3 1.6l-0.2 1.6l0 0.1l-0.2 1.5l-0.2 1.6l-0.1 1.5l0 1.6l0.1 1.6l0.3 1.6l0.1 0.2l0.5 1.4l0.9 1.6l0.2 0.2l1.1 1.4l0.4 0.4l1.3 1.2l0.3 0.2l1.5 1.2l0.3 0.2l1.3 0.8l1.1 0.7l0.5 0.3l1.5 0.9l0.8 0.4l0.8 0.4l1.5 0.8l0.9 0.4l0.7 0.4l1.6 0.7l1.3 0.5l0.2 0.1l1.6 0.6l1.5 0.6l0.9 0.3l0.7 0.3l1.6 0.5l1.5 0.5l0.9 0.3l0.7 0.2l1.5 0.5l1.6 0.4l1.6 0.4l0.2 0.1z"/>
<path fill="#d96651" stroke="#d96651" stroke-width="0.3" d="M171.5 93.9l1.6 0.1l1.5 0l1.6 0l1.5-0.1l1.1-0.1l0.5 0l1.6-0.2l1.5-0.2l1.6-0.3l1.6-0.3l1.5-0.3l1.3-0.3l0.3 0l1.5-0.4l1.6-0.4l1.6-0.5l1-0.3l0.5-0.1l1.6-0.5l1.5-0.6l1.2-0.4l0.4-0.1l1.6-0.6l1.5-0.6l0.7-0.3l0.9-0.3l1.5-0.7l1.3-0.5l0.3-0.2l1.6-0.7l1.5-0.7l1.6-0.8l1.5-0.8l1.6-0.9l1.3-0.7l0.3-0.1l1.5-1l0.9-0.5l0.7-0.4l1.5-1l0.3-0.2l1.3-0.9l0.9-0.7l0.7-0.5l1.4-1.1l0.1-0.1l1.6-1.2l0.4-0.3l1.1-0.9l0.9-0.6l0.7-0.6l1.4-1l0.2-0.2l1.5-1.1l0.5-0.3l1.1-0.8l1.3-0.8l0.2-0.2l1.6-1l0.7-0.4l0.9-0.5l1.5-0.9l0.5-0.2l1.1-0.6l1.5-0.8l0.4-0.2l1.2-0.5l1.6-0.8l1.5 0l1.6 0l0-0.3l0-1.6l0-1.6l0-1.6l0-1.4l-1.6 0l-1.5 0l-1.6 0.6l-1.6 0.6l-0.5 0.2l-1 0.4l-1.6 0.7l-1.3 0.5l-0.2 0.2l-1.6 0.6l-1.6 0.7l-0.4 0.1l-1.1 0.5l-1.6 0.7l-1.1 0.4l-0.4 0.2l-1.6 0.7l-1.6 0.7l-0.1 0l-1.4 0.7l-1.6 0.7l-0.4 0.2l-1.1 0.6l-1.6 0.9l-0.1 0.1l-1.5 1l-0.8 0.6l-0.7 0.6l-1.2 1l-0.4 0.4l-1.2 1.2l-0.3 0.4l-1.1 1.2l-0.5 0.5l-0.9 1l-0.7 0.8l-0.8 0.8l-0.7 0.8l-0.9 0.8l-0.7 0.6l-1.1 1l-0.4 0.3l-1.6 1.2l-0.2 0.1l-1.4 0.9l-1.1 0.7l-0.4 0.2l-1.6 0.9l-1 0.5l-0.5 0.2l-1.6 0.8l-1.4 0.6l-0.2 0.1l-1.5 0.6l-1.6 0.6l-0.8 0.3l-0.7 0.2l-1.6 0.5l-1.6 0.5l-1.3 0.3l-0.2 0.1l-1.6 0.4l-1.5 0.3l-1.6 0.4l-1.6 0.2l-1.2 0.2l-0.3 0.1l-1.6 0.2l-1.6 0.1l-1.5 0.1l-1.6 0.1l-1.5 0l-1.6-0.1l-1.6-0.1l-1.5-0.2l-1.3-0.2l-0.3 0l-1.5-0.3l-1.6-0.3l-1.6-0.4l-1.5-0.4l-0.6-0.2l-1-0.2l-1.5-0.5l-1.6-0.6l-0.7-0.2l-0.9-0.4l-1.5-0.6l-1.3-0.6l-0.3-0.1l-1.5-0.8l-1.3-0.7l-0.3-0.2l-1.6-0.9l-0.8-0.5l-0.7-0.5l-1.5-1.1l-0.1-0.1l-1.5-1.4l-0.2-0.1l-1.3-1.6l-0.1-0.1l-0.9-1.5l-0.7-1.4l0-0.2l-0.5-1.5l-0.2-1.6l-0.1-1.6l0-1.6l0.1-1.6l0.2-1.6l0.3-1.6l0.2-1l0.2-0.6l0.6-1.6l0.6-1.6l0.2-0.4l0.6-1.2l0.8-1.5l0.2-0.4l0.7-1.2l0.8-1.4l0.1-0.2l1-1.6l0.5-0.8l0.4-0.8l0.9-1.6l0.2-0.4l0.7-1.2l0.9-1.6l0.9-1.6l0.7-1.2l0.2-0.4l1-1.5l0.3-0.5l0.8-1.1l0.8-1.1l0.4-0.5l1.1-1.4l0.2-0.2l1.4-1.6l1.4-1.6l0.2-0.1l1.3-1.5l0.2-0.2l1.3-1.4l0.3-0.3l1.2-1.3l0.3-0.3l1.3-1.3l0.3-0.2l1.5-1.3l0.1-0.1l1.5-1.2l0.5-0.3l1.1-0.7l1.5-0.9l1.6-0.8l1.6-0.7l0.1-0.1l1.4-0.6l1.6-0.7l0.8-0.3l0-1.6l0-1.6l-0.8 0l-1.6 0l-1.5 0l-1.6 0l-1.6 0l-1.5 0l-1.6 0l-1.5 0l-1.6 0l-0.4 0l0 1.6l0 1.6l-1.2 0.8l-1 0.8l-0.5 0.4l-1.3 1.2l-0.3 0.3l-1.2 1.3l-0.3 0.3l-1.2 1.3l-0.4 0.4l-1.1 1.1l-0.5 0.6l-0.9 1l-0.6 0.8l-0.8 0.8l-0.8 1l-0.4 0.6l-1.1 1.5l-0.1 0.1l-1 1.6l-0.5 0.8l-0.4 0.8l-0.8 1.6l-0.4 0.7l-0.3 0.9l-0.7 1.6l-0.5 1.2l-0.2 0.4l-0.6 1.5l-0.7 1.6l-0.1 0.3l-0.5 1.3l-0.7 1.6l-0.3 0.6l-0.5 1l-0.7 1.6l-0.4 0.7l-0.4 0.9l-0.8 1.6l-0.4 0.8l-0.3 0.8l-0.6 1.5l-0.6 1.6l-0.5 1.6l-0.4 1.6l-0.4 1.6l-0.3 1.3l0 0.3l-0.3 1.6l-0.2 1.6l-0.1 1.6l0 1.6l0 1.6l0.1 1.5l0.3 1.6l0.2 0.8l0.3 0.8l0.7 1.6l0.6 0.9l0.5 0.7l1 1.2l0.5 0.4l1.1 1l0.8 0.6l0.8 0.5l1.5 1.1l1.6 0.9l1.1 0.7l0.4 0.2l1.6 0.8l1.1 0.5l0.5 0.3l1.5 0.7l1.6 0.6l1.5 0.7l1.6 0.5l1.2 0.4l0.4 0.2l1.5 0.5l1.6 0.4l1.5 0.5l0.2 0l1.4 0.4l1.6 0.3l1.5 0.4l1.6 0.2l1.5 0.2l0.7 0.1zM248 15.9l1.5 0l1.6 0l0-1.6l0-1.6l-1.6 0l-1.5 0l0 1.6l0 1.6z"/>
<path fill="#ca4842" stroke="#ca4842" stroke-width="0.3" d="M168.4 89.2l1.5 0.2l1.6 0.1l1.6 0.1l1.5 0l1.6-0.1l1.5-0.1l1.6-0.1l1.6-0.2l0.3-0.1l1.2-0.2l1.6-0.2l1.6-0.4l1.5-0.3l1.6-0.4l0.2-0.1l1.3-0.3l1.6-0.5l1.6-0.5l0.7-0.2l0.8-0.3l1.6-0.6l1.5-0.6l0.2-0.1l1.4-0.6l1.6-0.8l0.5-0.2l1-0.5l1.6-0.9l0.4-0.2l1.1-0.7l1.4-0.9l0.2-0.1l1.6-1.2l0.4-0.3l1.1-1l0.7-0.6l0.9-0.8l0.7-0.8l0.8-0.8l0.7-0.8l0.9-1l0.5-0.5l1.1-1.2l0.3-0.4l1.2-1.2l0.4-0.4l1.2-1l0.7-0.6l0.8-0.6l1.5-1l0.1-0.1l1.6-0.9l1.1-0.6l0.4-0.2l1.6-0.7l1.4-0.7l0.1 0l1.6-0.7l1.6-0.7l0.4-0.2l1.1-0.4l1.6-0.7l1.1-0.5l0.4-0.1l1.6-0.7l1.6-0.6l0.2-0.2l1.3-0.5l1.6-0.7l1-0.4l0.5-0.2l1.6-0.6l1.6-0.6l1.5 0l1.6 0l0-0.1l0-1.6l0-1.6l0-1.6l0-1.6l0-1.6l0-1.5l-1.6 0l-1.5 0l-1.6 1.5l-1.6 1.1l-0.6 0.5l-0.9 0.6l-1.6 1l-1.5 0.8l-1.3 0.8l-0.3 0.1l-1.6 0.8l-1.2 0.7l-0.3 0.1l-1.6 0.8l-1.5 0.7l-1.6 0.7l-1.6 0.7l-0.4 0.1l-1.1 0.5l-1.6 0.6l-1.2 0.5l-0.3 0.2l-1.6 0.6l-1.6 0.6l-0.5 0.2l-1 0.5l-1.6 0.6l-1.1 0.5l-0.4 0.2l-1.6 0.8l-1.1 0.6l-0.5 0.3l-1.5 1l-0.5 0.3l-1.1 0.8l-0.9 0.8l-0.6 0.6l-1.1 1l-0.5 0.6l-0.9 1l-0.7 0.8l-0.6 0.8l-0.9 1.1l-0.4 0.5l-1.2 1.3l-0.2 0.2l-1.3 1.5l-0.2 0.1l-1.4 1.3l-0.4 0.3l-1.2 0.9l-1 0.7l-0.5 0.4l-1.6 0.9l-0.5 0.3l-1 0.5l-1.6 0.7l-0.9 0.4l-0.7 0.3l-1.5 0.5l-1.6 0.5l-0.8 0.3l-0.7 0.2l-1.6 0.4l-1.6 0.3l-1.5 0.3l-1.6 0.2l-1 0.2l-0.6 0l-1.5 0.2l-1.6 0.1l-1.5 0l-1.6 0l-1.6-0.1l-1.5-0.2l-0.7 0l-0.9-0.1l-1.5-0.3l-1.6-0.3l-1.6-0.3l-1.5-0.4l-0.7-0.2l-0.9-0.3l-1.5-0.5l-1.6-0.6l-0.5-0.2l-1.1-0.5l-1.5-0.7l-0.8-0.4l-0.8-0.4l-1.5-0.9l-0.5-0.3l-1.1-0.7l-1.2-0.9l-0.4-0.3l-1.4-1.3l-0.1-0.1l-1.3-1.5l-0.3-0.4l-0.7-1.1l-0.7-1.6l-0.1-0.6l-0.3-1l-0.2-1.6l0-1.6l0.2-1.6l0.3-1.2l0.1-0.4l0.5-1.6l0.7-1.6l0.2-0.3l0.7-1.3l0.9-1.4l0.1-0.2l1.1-1.5l0.3-0.5l0.8-1.1l0.8-1.1l0.4-0.5l1.1-1.6l0.1-0.1l1-1.5l0.5-0.7l0.6-0.9l1-1.3l0.2-0.3l1.2-1.6l0.1-0.2l1.2-1.4l0.4-0.5l1-1l0.6-0.7l0.8-0.9l0.7-0.8l0.8-0.8l0.8-0.8l0.7-0.8l0.8-0.9l0.8-0.7l0.8-0.9l0.7-0.7l0.9-0.8l0.7-0.8l0.8-0.7l0.9-0.9l0.7-0.5l1.2-1.1l0.3-0.2l1.6-1.1l0.4-0.3l1.2-0.6l1.5-0.8l0.3-0.2l1.3-0.5l1.5-0.7l1-0.3l0.6-0.2l1.6-0.6l1.5-0.5l1.3-0.3l0.3-0.1l1.6-0.5l1.5-0.4l1.6-0.4l0.7-0.2l0.8-0.3l1.6-0.4l1.6-0.4l1.5-0.3l0.7-0.2l0.9-0.3l1.5-0.4l1.6-0.4l1.6-0.5l0-1.6l0-1.6l-1.6 0l-1.6 0l-1.5 0l-1.6 0l-1.5 0l-1.6 0l-1.6 0l-1.5 0l-1.6 0l-1.5 0l-1.6 0l-1.6 0l-1.5 0l-1.6 0l-1.6 0l-0.7 0l0 1.6l0 1.6l-0.8 0.3l-1.6 0.7l-1.4 0.6l-0.1 0.1l-1.6 0.7l-1.6 0.8l-1.5 0.9l-1.1 0.7l-0.5 0.3l-1.5 1.2l-0.1 0.1l-1.5 1.3l-0.3 0.2l-1.3 1.3l-0.3 0.3l-1.2 1.3l-0.3 0.3l-1.3 1.4l-0.2 0.2l-1.3 1.5l-0.2 0.1l-1.4 1.6l-1.4 1.6l-0.2 0.2l-1.1 1.4l-0.4 0.5l-0.8 1.1l-0.8 1.1l-0.3 0.5l-1 1.6l-0.2 0.3l-0.7 1.2l-0.9 1.6l-0.9 1.6l-0.7 1.2l-0.2 0.4l-0.9 1.6l-0.4 0.8l-0.5 0.8l-1 1.6l-0.1 0.2l-0.8 1.4l-0.7 1.2l-0.2 0.4l-0.8 1.5l-0.6 1.2l-0.2 0.4l-0.6 1.6l-0.6 1.6l-0.2 0.6l-0.2 1l-0.3 1.6l-0.2 1.6l-0.1 1.6l0 1.6l0.1 1.6l0.2 1.6l0.5 1.5l0 0.2l0.7 1.4l0.9 1.5l0.1 0.1l1.3 1.6l0.2 0.1l1.5 1.4l0.1 0.1l1.5 1.1l0.7 0.5l0.8 0.5l1.6 0.9l0.3 0.2l1.3 0.7l1.5 0.8l0.3 0.1l1.3 0.6l1.5 0.6l0.9 0.4l0.7 0.2l1.6 0.6l1.5 0.5l1 0.2l0.6 0.2l1.5 0.4l1.6 0.4l1.6 0.3l1.5 0.3l0.3 0zM248 36.1l1.5 0l1.6 0l0-1.1l0-1.6l0-1.6l0-1.6l0-1.6l0-1.6l0-1.6l0-1.6l0-1.5l0-1.6l0-1.6l0-1.6l0-1.6l-1.6 0l-1.5 0l0-1.6l0-1.6l-1.6 0l-1.6 0l-1.5 0l-1.6 0l-1.5 0l-1.6 0l-1.6 0l-1.5 0l-1.6 0l-1.5 0l-1.6 0l-1.6 0l-1.5 0l-0.7 0l0 1.6l0 1.6l0.7 0.6l1.1 1l0.4 0.3l1.6 1.1l0.2 0.2l1.4 0.9l1 0.7l0.5 0.3l1.6 1.2l0.1 0.1l1.4 1l0.7 0.5l0.9 0.8l0.9 0.8l0.7 0.7l1 0.9l0.5 0.6l0.9 1l0.7 0.8l0.7 0.8l0.8 1.1l0.4 0.5l1.1 1.6l0.1 0.1l0.9 1.5z"/>
<path fill="#bb2a34" stroke="#bb2a34" stroke-width="0.3" d="M168.4 84.3l1.5 0.2l1.6 0.1l1.6 0l1.5 0l1.6-0.1l1.5-0.2l0.6 0l1-0.2l1.6-0.2l1.5-0.3l1.6-0.3l1.6-0.4l0.7-0.2l0.8-0.3l1.6-0.5l1.5-0.5l0.7-0.3l0.9-0.4l1.6-0.7l1-0.5l0.5-0.3l1.6-0.9l0.5-0.4l1-0.7l1.2-0.9l0.4-0.3l1.4-1.3l0.2-0.1l1.3-1.5l0.2-0.2l1.2-1.3l0.4-0.5l0.9-1.1l0.6-0.8l0.7-0.8l0.9-1l0.5-0.6l1.1-1l0.6-0.6l0.9-0.8l1.1-0.8l0.5-0.3l1.5-1l0.5-0.3l1.1-0.6l1.6-0.8l0.4-0.2l1.1-0.5l1.6-0.6l1-0.5l0.5-0.2l1.6-0.6l1.6-0.6l0.3-0.2l1.2-0.5l1.6-0.6l1.1-0.5l0.4-0.1l1.6-0.7l1.6-0.7l1.5-0.7l1.6-0.8l0.3-0.1l1.2-0.7l1.6-0.8l0.3-0.1l1.3-0.8l1.5-0.8l1.6-1l0.9-0.6l0.6-0.5l1.6-1.1l1.6-1.5l1.5 0l1.6 0l0-0.1l0-1.6l0-1.6l0-1.5l0-1.6l0-1.6l0-0.5l-1.6 0l-1.5 0l-0.7-1.1l-0.9-1.5l-0.1-0.1l-1.1-1.6l-0.4-0.5l-0.8-1.1l-0.7-0.8l-0.7-0.8l-0.9-1l-0.5-0.6l-1-0.9l-0.7-0.7l-0.9-0.8l-0.9-0.8l-0.7-0.5l-1.4-1l-0.1-0.1l-1.6-1.2l-0.5-0.3l-1-0.7l-1.4-0.9l-0.2-0.2l-1.6-1.1l-0.4-0.3l-1.1-1l-0.7-0.6l0-1.6l0-1.6l-0.9 0l-1.5 0l-1.6 0l-1.6 0l-1.5 0l-1.6 0l-1.5 0l-1.6 0l-1.6 0l-1.5 0l-1.6 0l-1.5 0l-1.6 0l-1.6 0l-1.5 0l-1.6 0l-1.5 0l0 1.6l0 1.6l-1.6 0.5l-1.6 0.4l-1.5 0.4l-0.9 0.3l-0.7 0.2l-1.5 0.3l-1.6 0.4l-1.6 0.4l-0.8 0.3l-0.7 0.2l-1.6 0.4l-1.5 0.4l-1.6 0.5l-0.3 0.1l-1.3 0.3l-1.5 0.5l-1.6 0.6l-0.6 0.2l-1 0.3l-1.5 0.7l-1.3 0.5l-0.3 0.2l-1.5 0.8l-1.2 0.6l-0.4 0.3l-1.6 1.1l-0.3 0.2l-1.2 1.1l-0.7 0.5l-0.9 0.9l-0.8 0.7l-0.7 0.8l-0.9 0.8l-0.7 0.7l-0.8 0.9l-0.8 0.7l-0.8 0.9l-0.7 0.8l-0.8 0.8l-0.8 0.8l-0.7 0.8l-0.8 0.9l-0.6 0.7l-1 1l-0.4 0.5l-1.2 1.4l-0.1 0.2l-1.2 1.6l-0.2 0.3l-1 1.3l-0.6 0.9l-0.5 0.7l-1 1.5l-0.1 0.1l-1.1 1.6l-0.4 0.5l-0.8 1.1l-0.8 1.1l-0.3 0.5l-1.1 1.5l-0.1 0.2l-0.9 1.4l-0.7 1.3l-0.2 0.3l-0.7 1.6l-0.5 1.6l-0.1 0.4l-0.3 1.2l-0.2 1.6l0 1.6l0.2 1.6l0.3 1l0.1 0.6l0.7 1.6l0.7 1.1l0.3 0.4l1.3 1.5l0.1 0.1l1.4 1.3l0.4 0.3l1.2 0.9l1.1 0.7l0.5 0.3l1.5 0.9l0.8 0.4l0.8 0.4l1.5 0.7l1.1 0.5l0.5 0.2l1.6 0.6l1.5 0.5l0.9 0.3l0.7 0.2l1.5 0.4l1.6 0.3l1.6 0.3l1.5 0.3l0.9 0.1zM170 77.9l-0.1 0l-1.5-0.1l-1.6-0.2l-1.5-0.2l-1.6-0.4l-1.6-0.3l-1.1-0.4l-0.4-0.1l-1.6-0.6l-1.5-0.7l-0.4-0.2l-1.2-0.6l-1.6-0.9l-0.1-0.1l-1.4-0.9l-0.9-0.6l-0.7-0.6l-1.2-1l-0.3-0.5l-0.9-1.1l-0.7-1.4l-0.1-0.2l-0.2-1.6l0.1-1.6l0.2-0.8l0.3-0.8l0.8-1.6l0.5-0.7l0.5-0.9l1-1.3l0.2-0.3l1.3-1.6l0.1 0l1.2-1.5l0.3-0.4l1.1-1.2l0.5-0.7l0.8-0.9l0.8-0.9l0.7-0.7l0.8-0.9l0.7-0.7l0.9-0.9l0.8-0.7l0.7-0.7l1-0.9l0.6-0.5l1.2-1.1l0.4-0.3l1.4-1.3l0.1-0.1l1.6-1.4l0-0.1l1.5-1.4l0.2-0.1l1.4-1.3l0.3-0.3l1.3-1.1l0.7-0.5l0.8-0.6l1.5-1l0.1-0.1l1.5-0.8l1.4-0.7l0.2-0.1l1.6-0.6l1.5-0.6l1-0.3l0.6-0.2l1.6-0.4l1.5-0.4l1.6-0.4l0.7-0.2l0.8-0.2l1.6-0.3l1.6-0.3l1.5-0.2l1.6-0.2l1.5-0.2l1.3-0.2l0.3 0l1.6-0.1l1.5-0.1l1.6-0.1l1.5 0l1.6 0l1.6 0l1.5 0.1l1.6 0.1l1.4 0.1l0.1 0l1.6 0.2l1.6 0.3l1.5 0.3l1.6 0.4l1.5 0.4l1.6 0.6l1.6 0.6l0.9 0.4l0.6 0.3l1.6 0.9l0.6 0.4l0.9 0.7l1.1 0.9l0.5 0.5l1 1.1l0.6 0.8l0.4 0.8l0.7 1.6l0.3 1.6l0 1.5l-0.5 1.6l-0.8 1.6l-0.1 0.2l-1.1 1.4l-0.5 0.5l-1.2 1.1l-0.4 0.2l-1.5 1.1l-0.4 0.3l-1.2 0.7l-1.5 0.8l-0.1 0.1l-1.5 0.7l-1.6 0.7l-0.3 0.2l-1.2 0.5l-1.6 0.6l-1.1 0.5l-0.4 0.1l-1.6 0.7l-1.6 0.6l-0.4 0.1l-1.1 0.5l-1.6 0.6l-1.2 0.5l-0.3 0.2l-1.6 0.7l-1.5 0.7l-0.1 0.1l-1.5 0.8l-1.4 0.7l-0.2 0.1l-1.5 1l-0.9 0.5l-0.7 0.5l-1.5 1.1l-0.1 0.1l-1.5 1.3l-0.2 0.2l-1.4 1.4l-0.2 0.2l-1.3 1.4l-0.2 0.2l-1.4 1.5l-0.1 0.1l-1.5 1.4l-0.2 0.2l-1.3 1.1l-0.7 0.4l-0.9 0.7l-1.5 0.9l-0.1 0l-1.5 0.8l-1.6 0.6l-0.6 0.2l-0.9 0.3l-1.6 0.4l-1.6 0.4l-1.5 0.2l-1.6 0.2l-1.5 0.1l-0.1 0l-1.5 0z"/>
<path fill="#a61429" stroke="#a61429" stroke-width="0.3" d="M171.5 77.9l1.5 0l0.1 0l1.5-0.1l1.6-0.2l1.5-0.2l1.6-0.4l1.6-0.4l0.9-0.3l0.6-0.2l1.6-0.6l1.5-0.8l0.1 0l1.5-0.9l0.9-0.7l0.7-0.4l1.3-1.1l0.2-0.2l1.5-1.4l0.1-0.1l1.4-1.5l0.2-0.2l1.3-1.4l0.2-0.2l1.4-1.4l0.2-0.2l1.5-1.3l0.1-0.1l1.5-1.1l0.7-0.5l0.9-0.5l1.5-1l0.2-0.1l1.4-0.7l1.5-0.8l0.1-0.1l1.5-0.7l1.6-0.7l0.3-0.2l1.2-0.5l1.6-0.6l1.1-0.5l0.4-0.1l1.6-0.6l1.6-0.7l0.4-0.1l1.1-0.5l1.6-0.6l1.2-0.5l0.3-0.2l1.6-0.7l1.5-0.7l0.1-0.1l1.5-0.8l1.2-0.7l0.4-0.3l1.5-1.1l0.4-0.2l1.2-1.1l0.5-0.5l1.1-1.4l0.1-0.2l0.8-1.6l0.5-1.6l0-1.5l-0.3-1.6l-0.7-1.6l-0.4-0.8l-0.6-0.8l-1-1.1l-0.5-0.5l-1.1-0.9l-0.9-0.7l-0.6-0.4l-1.6-0.9l-0.6-0.3l-0.9-0.4l-1.6-0.6l-1.6-0.6l-1.5-0.4l-1.6-0.4l-1.5-0.3l-1.6-0.3l-1.6-0.2l-0.1 0l-1.4-0.1l-1.6-0.1l-1.5-0.1l-1.6 0l-1.6 0l-1.5 0l-1.6 0.1l-1.5 0.1l-1.6 0.1l-0.3 0l-1.3 0.2l-1.5 0.2l-1.6 0.2l-1.5 0.2l-1.6 0.3l-1.6 0.3l-0.8 0.2l-0.7 0.2l-1.6 0.4l-1.5 0.4l-1.6 0.4l-0.6 0.2l-1 0.3l-1.5 0.6l-1.6 0.6l-0.2 0.1l-1.4 0.7l-1.5 0.8l-0.1 0.1l-1.5 1l-0.8 0.6l-0.7 0.5l-1.3 1.1l-0.3 0.3l-1.4 1.3l-0.2 0.1l-1.5 1.4l0 0.1l-1.6 1.4l-0.1 0.1l-1.4 1.3l-0.4 0.3l-1.2 1.1l-0.6 0.5l-1 0.9l-0.7 0.7l-0.8 0.7l-0.9 0.9l-0.7 0.7l-0.8 0.9l-0.7 0.7l-0.8 0.9l-0.8 0.9l-0.5 0.7l-1.1 1.2l-0.3 0.4l-1.2 1.5l-0.1 0l-1.3 1.6l-0.2 0.3l-1 1.3l-0.5 0.9l-0.5 0.7l-0.8 1.6l-0.3 0.8l-0.2 0.8l-0.1 1.6l0.2 1.6l0.1 0.2l0.7 1.4l0.9 1.1l0.3 0.5l1.2 1l0.7 0.6l0.9 0.6l1.4 0.9l0.1 0.1l1.6 0.9l1.2 0.6l0.4 0.2l1.5 0.7l1.6 0.6l0.4 0.1l1.1 0.4l1.6 0.3l1.6 0.4l1.5 0.2l1.6 0.2l1.5 0.1l0.1 0zM189.6 52.5l-0.9-0.2l-1.6-0.5l-1.2-0.9l-0.3-0.9l-0.2-0.7l0.1-1.6l0.1 0l0.7-1.6l0.8-1.2l0.3-0.4l1.3-1.2l0.3-0.4l1.2-0.9l1-0.7l0.6-0.3l1.6-0.8l0.9-0.4l0.6-0.3l1.6-0.5l1.5-0.5l1.4-0.3l0.2-0.1l1.6-0.2l1.5-0.2l1.6-0.1l1.5 0l1.6 0l1.6 0.2l1.5 0.3l0.3 0.1l1.3 0.4l1.5 0.7l0.9 0.5l0.7 0.6l0.8 0.9l0.3 1.6l-0.5 1.6l-0.6 0.7l-0.8 0.9l-0.8 0.5l-1.5 1l-0.2 0.1l-1.4 0.6l-1.5 0.6l-1 0.4l-0.6 0.2l-1.6 0.5l-1.5 0.4l-1.6 0.5l-1.5 0.3l-1.6 0.3l-1.6 0.3l-1.5 0.3l-1.6 0.2l-1.4 0.2l-0.1 0l-1.6 0.1l-1.6-0.1z"/>
<path fill="#860a24" stroke="#860a24" stroke-width="0.3" d="M190.2 52.5l1.6 0.1l1.6-0.1l0.1 0l1.4-0.2l1.6-0.2l1.5-0.3l1.6-0.3l1.6-0.3l1.5-0.3l1.6-0.5l1.5-0.4l1.6-0.5l0.6-0.2l1-0.4l1.5-0.6l1.4-0.6l0.2-0.1l1.5-1l0.8-0.5l0.8-0.9l0.6-0.7l0.5-1.6l-0.3-1.6l-0.8-0.9l-0.7-0.6l-0.9-0.5l-1.5-0.7l-1.3-0.4l-0.3-0.1l-1.5-0.3l-1.6-0.2l-1.6 0l-1.5 0l-1.6 0.1l-1.5 0.2l-1.6 0.2l-0.2 0.1l-1.4 0.3l-1.5 0.5l-1.6 0.5l-0.6 0.3l-0.9 0.4l-1.6 0.8l-0.6 0.3l-1 0.7l-1.2 0.9l-0.3 0.4l-1.3 1.2l-0.3 0.4l-0.8 1.2l-0.7 1.6l-0.1 0l-0.1 1.6l0.2 0.7l0.3 0.9l1.2 0.9l1.6 0.5l0.9 0.2z"/>

<path fill="none" stroke="#000" stroke-width="0.9" stroke-linejoin="round" d="M105.7 124L105 122.6L103.5 122.4L102.6 121.3L100.9 121.4L100 120.2L98.2 120.8L96.8 121L95.4 120.8L96.3 119.3L95.7 117.7L94.7 116.5L93.5 115.4L94.3 114.2L95 112.9L96 111.9L95.2 110.4L96 109.4L96.5 108.2L95.9 107.1L95.5 106.1L95.4 104.9L94.8 103.5L94.1 102.1L95.1 101.3L96 100.4L97.2 100.2L98.5 99.2L100 100.4L101.3 99.9L102.5 99.6L103.8 99.5L105 99.9L106.3 100.3L107.5 100.9L108.8 99.1L110 100.5L111.3 100.2L112.5 100.6L113.8 99.6L115 100.2L116.3 100.5L117.5 100.5L117.6 99.1L119.4 98.5L119.1 97L118.8 95.8L119.5 94.6L120.1 93.5L119.4 92.2L118.4 91.6L117.2 91L117.4 89.2L116.3 88.7L115 88.6L114.1 87.6L112.7 88L111.6 87.6L110.7 86.4L109.4 86.5L108.3 85.9L108.1 84.6L109.4 83.9L110.8 83.4L112.2 83.3L113.5 82.9L114.5 83.8L115.8 83.3L116.9 84L116.6 82.5L118.4 81.9L118.1 80.5L119.4 81.4L120.4 80.7L121.6 81.5L122.7 81.2L123.8 81.1L125.1 81.1L125.8 79.6L127.2 79.8L128.1 78.9L128.1 76.6L129.4 75.6L130.9 76L132.2 76.1L133.2 75.3L134.4 75L135.6 74.1L136.6 72.8L137.1 71.3L138.1 70L139.4 70.1L140.6 69.7L141.5 68.7L142.7 68.2L143.8 68.2L145 68.7L146.5 68.2L148.1 68.1L150 67.1L149.5 65.8L150.6 64.9L150.8 63.5L150 62.3L148.8 61.7L148.7 60.4L149.7 59.5L148.7 57.8L150 56.9L151.2 56.3L152.4 56L153.5 54.9L154.8 54.9L156.2 55L155.9 56.6L156.1 57.9L155.3 58.8L157.1 59.5L155.7 59.4L155.1 60.5L154.3 61.4L153.3 62.3L153.7 63.6L154.7 64.9L155.6 66.3L157.1 66.8L158.5 67.1L159.5 65.7L160.9 66.1L162.2 66.6L163.3 66L164.4 65.4L165.6 65.2L167 65.7L167.4 67.1L168.4 66L169.6 66.2L170.9 66.9L171.9 66L173.1 65.8L174.2 65.1L175.8 66L176.7 64.5L178.1 64.8L179.3 64.2L180.5 64.7L181.5 65.5L182.6 64.7L183.9 64.2L185.2 63.9L186.6 63.6L187.9 63.2L189.3 63L189.8 61.6L189.1 60.4L189 59.1L190.1 58.4L190.1 57L190.5 56L192.1 55.4L193.7 55L195 55.3L195.6 56.7L196.8 57.2L198.2 57.6L199 56.3L199.1 54.7L199.3 53.1L198.7 52L197.2 52.2L196.5 51.2L197.7 50.6L198.7 49.6L200 49.6L201.2 48.4L202.7 49L203.8 49.2L204.9 49.4L206 49.4L207.2 49.2L208.3 50L209.4 49.2L210.5 49.3L211.5 48.3L212.8 48.7L213.9 48.2L214.9 47.6L216.1 47.6L217.4 48L216 48.2L214.7 48L213.6 47.1L212.3 47.5L211.2 46.2L209.9 46.5L208.7 46L207.4 46.1L206.1 45.9L204.9 46.6L203.6 46.3L202.4 47.1L201.2 47.1L199.9 47.4L198.5 46.7L197.4 47.5L196.1 47.6L194.9 48L193.5 47.6L192.4 46.4L192.1 45.1L191.2 44.5L189.9 44.2L190 43.1L190.3 42L189.8 40.8L190.2 39.8L191.5 39.2L192.7 38.5L193.4 37.2L194 35.9L195.7 36.4L196.8 35.9L197.7 35L198.7 34.3L199.6 33.4L201.2 33.1L202.4 31.8L202.1 29.9L200.9 29.7L199.7 30.3L198.7 29.3L197.3 28.7L196.1 29.3L194.9 30L193.7 30.5L192.4 29.9L192.1 31.5L190.1 31.1L189.6 32.4L188.8 33.3L188.4 34.6L187.1 35L185.6 34.8L184.8 36.2L183.3 36.1L182.4 37.2L181.4 38.3L180.3 39.2L178.7 39.1L178.2 40.2L176.8 40.8L177.1 42.3L176 43.5L176.5 45.2L177.8 45.8L179.4 45.6L180.6 46.7L181 47.9L182.1 48.3L180.9 49.4L179.3 49.9L178.1 50.5L176.8 51L175.9 52.2L175.8 53.5L174.7 54.4L174.6 55.6L173.6 57L173.1 58.5L172.2 59.5L171 59.6L169.9 60.1L169.2 61.3L167.8 61.7L166.4 61.9L165 61.5L163.7 62.3L163.5 61L163.1 59.8L161.7 59.3L161.3 58L160.6 56.9L159.4 56.1L160 54.7L159.7 53L158.1 52.5L158.1 51.3L157.5 50.2L155.9 49.9L156.2 48L156 49.3L155.3 50.1L154.3 50.9L153.3 51.4L152.4 52L151.2 52.2L150.5 53.3L149.3 53.5L148.1 53.7L146.5 54L145 54.1L143.9 53.7L142.8 53.4L142.1 52.3L140.9 52.2L140.4 51.1L140.6 49.9L139.8 48.9L138.9 47.9L138.7 46.4L138.8 45.3L139.6 44.1L138.7 42.9L139.1 41.6L139.7 40.4L140.9 39.4L142.3 39.5L143.7 39.4L144.7 38.7L146 38.7L147.1 38.3L148.1 37.5L149.2 36.8L150.8 37.7L151.7 35.9L153.1 36.3L153.7 34.8L154.6 33.9L156.2 33.7L157.6 33.8L158.7 33.3L159.2 31.4L160.6 31.5L161.4 30.6L162.2 29.8L162.5 28.6L163.4 28L163.8 26.8L165.2 26.7L165.6 25.4L166.6 24.6L167.5 23.5L168.7 22.9L169.6 22L171.2 22.7L171.8 21.3L173 20.3L174.6 20.4L175.7 19.9L176.7 19.3L177.6 18.6L178.7 18.1L180.1 18L180.9 16.4L182.4 16.5L183.6 16.8L184.6 16L185.9 16.5L186.8 15.4L187.9 14.6L189 14.5L190.2 14.9L191.6 15.3L192.5 14.1L193.5 13.3L195 14.2L196 13.5L197.1 13L198.2 12.5L199.2 12.4L200.4 12.8L201.4 12.4L202.5 12.2L203.7 12.4L204.8 12.7L206 12.2L207.1 12.4L208.2 12.2L209.4 12.6L210.5 12.7L211.7 13.4L213 13.6L214.5 13.1L215.3 14.8L216.8 14.6L217.7 15.7L218.8 16.4L220.5 15.4L221.4 16.5L222.8 16L223.7 17.7L224.8 17.9L226.1 17.8L227.2 18.5L228.5 17.9L229.6 18.2L230.9 17.7L231.9 19L233.2 17.8L234.3 18.7L235.5 18.8L236.8 18.5L237.9 18.8L239 19L239.9 20L241.1 20.2L242.2 20.6L243.3 21L244.4 21.9L245.8 21.7L247.3 21.4L248.5 21.8L249.5 22.9L250.5 24L251.9 23.1L253 23.9L254.2 23.9L253.5 25L253.5 26.1L254.8 27.2L255.1 28.3L254.2 29.5L254 30.6L254.2 31.7L254.8 32.8L254.7 33.9L253.4 35.1L253.7 36.2L254.9 37.3L254.2 38.4L254.5 39.5L254.7 40.7L254.5 41.8L254.6 42.9L254.3 44L253.7 45.2L253.6 46.3L255.1 47.4L253.3 48.5L254.6 49.6L254.9 50.8L253.7 51.9L253.4 53L254 54.1L253.9 55.2L254.1 56.4L254.1 57.5L255 58.6L253.5 59.7L255 60.9L253.4 62L255 63.1L253.9 64.2L254.6 65.3L253.3 66.5L254.1 67.6L254.5 68.7L254.5 69.8L254.8 70.9L253.6 72.1L254 73.2L254.4 74.3L253.3 75.4L254.8 76.6L254.1 77.7L253.7 78.8L253.7 79.9L254.5 81L253.4 82.2L253.7 83.3L253.8 84.4L253.8 85.5L254.6 86.6L254.4 87.8L255 88.9L254.6 90L253.8 91.1L253.9 92.3L253.5 93.4L253.7 94.5L254.4 95.6L254.6 96.7L253.8 97.9L253.9 99L254.8 100.1L255.1 101.2L253.4 102.3L253.4 103.5L254.7 104.6L254.2 105.7L254.1 106.8L254.5 108L254.7 109.1L253.4 110.2L255.1 111.3L255.1 112.4L254.1 113.6L254.2 114.7L253.8 115.8L254.4 116.9L253.7 118L254.3 119.2L255 120.3L254.2 121.4L254.8 122.5L253.6 123.7L254.9 124.8L253.5 125.9L253.7 127L254.6 128.1L253.8 129.3L254.2 130.4L253.1 129.7L252 129.6L250.9 130.9L249.7 129.5L248.6 129.5L247.5 131.2L246.4 130.9L245.3 130.1L244.1 129.8L243 131.1L241.9 130.9L240.8 130.7L239.7 130.4L238.5 130.4L237.4 131.3L236.3 130.4L235.2 130.4L236 128.8L235.2 127.2L236.1 125.7L235.5 124L236.1 122.1L234.2 122.1L232.6 122L231.1 121.5L230.2 122.5L228.9 123L227.7 123.4L226.2 124L224.6 123.7L223.6 122.8L222.3 122.4L221.2 121.6L219.9 121.5L218.3 122.7L216.9 122.8L215.5 123.4L214.7 122.5L213.2 123L212.7 121.3L211.5 121.5L210.3 120.6L209 120.8L208.1 119.5L208 118L206.9 117.2L205.5 116.7L206.5 115.9L207.1 114.8L205.4 114.5L204.9 112.9L204.5 111.6L205.5 110.7L206.8 111L207.9 110.9L209 110L210.1 109.6L211.3 109.1L212.6 109.1L213.6 108.4L212.1 108.1L210.9 108.5L209.6 109L208.4 109.5L207 108.7L205.8 109.4L204.3 108.8L202.9 108.9L201.6 107.7L200.2 108.4L198.8 108.4L197.7 109L197.1 110.3L198 111.3L196.6 110.3L194.9 110.7L194.6 109.4L193.7 111.3L194.8 111.8L194.9 113.2L195.8 113.8L195.2 114.8L194.6 115.8L195.7 116.3L196.7 117.1L198 117L197.1 118L195.6 118.1L195.2 119.6L194.1 120.8L194 122.4L193 122.7L191.6 122.7L190.9 121.5L190.5 120.4L189.7 119.5L189 118.6L190.1 117.9L190.5 116.7L189 116.4L188 115.7L187.7 114.5L186.7 113.8L186.2 112.6L185.5 111.6L184.5 110.9L183.7 110L184 108.6L184 107.2L183.7 105.3L182.2 104.6L180.9 103.7L179.7 103.2L178.7 102.5L177.7 101.8L176.3 101.9L175.1 101.5L174.3 100.2L173.5 98.7L171.9 98.5L170.6 97.9L170.3 96.3L168.9 95.7L167.8 94.8L166.7 95.5L165.6 95.1L165.9 93.2L164.9 93.7L163.7 93.8L162.4 93.1L161.5 94.1L162.3 95.5L161.8 97L162.9 97.6L163.5 98.9L165 99L165.6 100.2L165.7 101.9L166.8 102.9L168.1 103.7L169.5 103.9L170 105.8L171.2 106.4L172.8 106.5L173.1 105.3L174.1 106.1L175.4 106.6L176.2 107.8L177.2 108.3L177.6 109.8L178.8 110.1L180.1 110L180.9 111L179 111.3L178 110.4L176.8 110L175.4 110.8L174.9 112.3L175 113.9L176.5 114.5L175.4 115L175.5 116.7L173.6 116.3L173.4 117.7L172.1 116.7L172.8 115.5L173.7 114.5L172.5 113.8L172.3 112.5L172.1 111.3L171 110.4L169.6 110.3L168.5 109.8L167.8 108.8L166.7 107.5L165.1 107.7L163.7 107.2L162.9 106.1L161.3 106.5L160.6 105.3L159.3 105.2L158.4 104.4L157.8 103.4L157.3 102.2L156 101.5L155.9 100.2L154.2 99.9L153.7 98.3L152.2 97.5L150.6 97.3L149.6 97.8L148.3 97.7L147.2 98.1L146.5 99.2L145.8 100.2L144.2 99.8L143.7 101.1L142.4 101.2L141.1 100.2L139.7 100.8L138.3 100.8L137.2 100.2L136 100.9L134.8 101.4L133.4 100.8L132.9 102.2L132.8 103.7L133.1 105.3L132 105.6L131 106.1L130 106.8L128.8 107.6L127.4 108.2L125.9 108.1L124.7 108.5L124.2 109.6L123.8 110.7L122.3 111.5L122.2 113.2L122.6 114.6L123.8 115.4L122.9 116.5L121.6 116.7L121.9 118.1L120.6 118.9L119.5 120.3L117.8 119.9L116.4 120.3L116.3 121.8L115.1 121.6L114 122.5L112.8 121.8L111.7 121.5L110.5 122.3L109.4 121.8L108.7 123L107 122.5L106.3 123.7ZM105.3 79.3L106.7 79.8L107.8 79.3L108.7 77.9L110 78.2L111.2 77.8L112.5 77.6L113.7 78.3L114.7 77.6L115.8 77.4L116.9 77.3L118.5 77.8L120 77L121.4 76.5L122.7 77.7L124.1 77L125.3 76.7L126.3 76.1L127.5 75.7L125.9 74.7L127.1 73.9L128.1 72.8L128.4 70.9L126.9 70.1L125.5 70.4L124.1 70.3L124.1 68.7L123.4 68.1L122.3 67.2L121.9 65.8L120.3 66.2L119.4 64.9L118.4 63L118 61.7L116.9 61.1L115 60.1L115.3 58.8L115.8 57.6L116.5 56.5L117.5 55.6L116.6 55L115.5 54.6L114.4 54.1L113.3 55.9L112.2 55L110.6 55.3L111.9 54.5L112.8 53.4L113.5 52.2L112.3 52.9L111.1 52.3L109.9 52.1L108.7 52.7L107.5 52.2L106.1 52.5L106 54.1L105.9 55.3L105 56.3L105.1 57.5L105.7 58.5L103.8 59.5L103.8 60.9L105.3 61.2L105.7 62.3L106.4 61.1L107.8 61.4L107 62.5L107.2 63.9L108.4 64L109.4 64.6L110.7 64.6L111.9 63.9L112.8 65.2L113.8 66.8L114.1 68.7L112.8 69L111.5 69.5L110.1 69.4L108.8 69L109.1 70.6L110.3 72.2L109 72.2L108.3 73.8L106.9 73.8L108.5 73.8L110 74.4L111.6 74.4L113.1 75L113.8 75.7L112.5 76.3L111.3 75.5L110 75.7L108.8 76.6L107.2 76.6L106.9 78.4ZM91.9 74.4L93.1 73.7L93.4 72.5L93.5 71.2L92.4 70.2L92.2 68.7L91.8 67.5L91.6 66.1L92.8 66.8L94 66.1L95.1 65.9L96.3 65.8L97.1 64.8L96.6 63.6L97.7 62.8L99.3 63.5L100.3 62.3L101.5 62.7L102.6 62.7L103.8 63L104.8 64.2L106 65.2L105.3 66.3L104.4 67.1L104.1 69L104.3 70.3L104.5 71.5L103.5 72.5L102.1 72.4L101 73.4L99.7 73.5L98.3 74.3L96.6 74.4L95.2 74.2L93.8 73.9L92.5 75ZM46.7 30.2L48.1 30.3L49 29.4L49.8 28.3L50.8 27.4L52 27.5L53.2 27.3L53.9 28.8L55.3 29L56.5 29.8L57.6 30.5L59 30.7L59.8 29.2L61.4 29.8L62.3 28.6L63.7 28.6L65 28.2L66.3 28L67.5 28L68.6 27.5L69.7 27.1L70.8 26.5L72.1 27.6L73.2 27L74.3 26.9L75.4 27L76.4 27.9L77.6 27.7L76.4 28.5L76.9 29.9L78.5 29.6L79.3 31.3L80.7 31.5L79.5 31.9L79.3 33.6L77.9 33.7L76.8 34L75.7 34L74.7 34.7L73.5 34.3L72.1 33.9L71.3 35.5L69.9 35.3L68.5 35.1L67.6 36.3L66.4 36.8L65.2 37.5L63.8 36.9L62.7 36.1L61.3 36.6L60.2 35.7L58.7 36.3L57.6 35.6L56.3 36L54.9 35.1L53.6 36.2L52.3 35.6L53.2 34.6L54.5 34L53.1 34L51.8 34L50.8 32.9L49.4 33.2L48.2 32.4L49.5 31.6L51 32.9L52.1 31.3L53.5 31.8L52.4 31.3L51.3 31.2L50.2 30.3L48.9 31.1L47.9 30.1ZM20.1 9.5L19.4 10.7L19.6 11.8L20.7 12.9L20.3 14L19.4 15.2L20 16.3L20.1 17.4L19.5 18.6L20.6 19.7L19.4 20.8L20.1 21.9L21.3 22.1L22.5 21.8L23.7 21.8L24.8 21.5L26 21.1L27.1 20.6L28.4 21.8L29.5 21.3L30.6 20.8L31.8 20.5L33.1 21.1L34.3 21.4L35.2 19.4L36.6 20.5L37.7 20.3L38.9 19.7L39.8 18.7L41 18.9L42.2 18.8L43.2 17.9L44.7 19L45.4 17.4L46.7 17.5L48 17.3L49.4 17.5L50.3 16.1L51.4 15.2L52.9 15.6L53.7 14.5L53.3 13.1L54.2 12.1L53.7 10.6L54.5 9.5L53.4 10L52.3 9L51.1 10.2L50 9.8L48.9 9.9L47.8 10.2L46.7 9.4L45.6 10L44.5 10.3L43.4 8.8L42.3 10.2L41.2 9.3L40.1 9.5L39 8.9L37.9 9.9L36.7 9.1L35.6 10.2L34.5 9.1L33.4 9.7L32.3 9.3L31.2 9.8L30.1 9L29 8.9L27.9 10L26.8 10L25.7 9.7L24.6 10.3L23.5 9L22.4 10.2L21.2 8.9ZM150 106.8L151.8 106.8L153 106L152.8 104.6L153.1 103.1L152.5 101.8L152 102.9L150.9 103.4L150 104L150.3 105.9ZM149.3 114.5L151.2 114.5L153.1 113.8L154.1 112.6L154 111.2L153.7 109.7L152.7 108.8L152.8 107.5L151.6 107.9L150.2 107.1L149 108.1L149.2 109.3L149.7 110.3L149.5 111.5L149.3 112.6ZM161.8 118L163.5 118.3L164.6 117L165.9 117.5L167 116.3L168.2 116.7L169.5 117.6L170.6 116.9L171.8 116.7L171.3 117.7L170.2 118.5L170.3 119.9L170.6 121.8L169 121.7L167.8 120.8L166.9 119.8L165.7 119.9L164.6 119.7L163.6 119.2L162.5 118.9ZM196.5 126.2L198 125.3L199.1 126.3L200.3 126.3L201.7 125.4L202.7 126.2L204 126.2L205.2 126.6L204.6 127.2L203.5 126.4L202.4 127.1L201.3 127.2L200.2 127.2L199.1 126.3L197.6 127ZM130.6 112.6L132 112.8L132.8 111.6L134.1 112.3L133.1 113.5L131.6 112.9ZM157.5 62.6L158.2 63.8L159.4 64L160.6 63.9L161.1 62.4L162.5 61.7L161.5 60.1L160.3 60.5L158.9 59.8L157.8 60.7ZM153.7 62.6L155.1 63.7L156.8 63.3L156.2 61.7L154.3 62ZM179.6 56.6L181.1 56.9L182.1 55.6L182.7 54.4L180.9 54.4L179.8 55.2ZM191.8 53.1L193.4 52.2L194.5 53.1L195.8 52.5L194.5 52.9L193.7 54.1ZM223.9 127.2L225.4 127.4L226.1 126.1L227.5 126.3L228.5 125L229.8 125.1L231.1 125L229.6 125.4L229.2 126.9L228.1 127.3L227.1 127.9L226.1 128.5L225.3 127.3ZM101.3 130.4L102.6 129.8L103.1 128.5L103.5 127.2L103.6 125.7L104.7 124.7L106.6 124.3L107.5 125L107.8 126.4L109.1 126.6L110.3 126.6L111.4 126.4L112.6 127L113.8 126.2L115.4 126.1L116.9 126.9L118.3 126.9L119.1 125.8L120 125L121.1 124.7L122.3 124.7L123.4 124.3L124.5 123.7L125.5 123L126.4 122.1L127.8 122.4L129.1 122.6L130.1 121.7L131.3 121.3L132.5 121.5L133.7 121.9L135 122.4L136.2 120.6L137.5 121.9L138.7 121.5L140 121.6L141.1 120.3L142.5 120.6L143.7 120.5L145 120.7L146.3 120.3L147.4 121.8L148.8 120.6L150 121.2L151.3 121L152.7 121.1L153.7 119.9L155.3 121.2L156.5 120.5L157.8 120.5L157.5 122.3L155.9 123.1L155.9 124.4L156.8 125.3L157.8 126.6L157 128L155.9 129.1L156.4 130.3L157.5 131L159.2 131.1L160.6 132L160.6 133.6L159.5 133.9L158.4 132.9L157.3 134L156.2 133.6L155.1 133.6L154 133.8L152.9 133L151.8 133.6L150.7 133.8L149.6 132.2L148.5 133.6L147.4 132.7L146.3 132.8L145.2 132.1L144.1 133.1L143 132.2L141.9 133.3L140.8 132.1L139.7 132.6L138.6 132.2L137.5 132.5L136.5 131.7L135.4 131.6L134.2 132.6L133.1 132.6L132 132.2L130.9 132.8L129.9 131.4L128.7 132.5L127.7 131.2L126.5 132.6L125.4 131.9L124.3 131.8L123.2 132.5L122.1 132L121 132L120 130.5L118.9 131.1L117.8 130.5L116.7 130.6L115.6 130.6L114.4 131.8L113.4 130.3L112.3 130.6L111.2 130.9L110 131.5L108.9 131.7L107.9 131.1L106.8 130.1L105.7 130.7L104.6 130.9L103.5 129.6L102.4 130.8ZM100.3 41.3L101.7 41.6L102.5 40.4L102.8 41.7L101.7 41ZM118.8 48L120 47.5L120 46.1L118.1 46.4ZM99.7 57.2L101.1 56.9L101.7 55.8L101.7 54.2L102.9 53.6L103.8 52.8L102.4 52.6L101.6 53.7L100.9 54.8L100.3 56.1ZM194.9 114.8L195.6 116L196.7 116.3L198.2 115.8L199 116.7L199.9 117.3L198.7 116.4L197.7 115.1L196.2 115.2ZM204 114.2L205.3 114.6L206.1 113.5L204.9 114.5ZM209.9 123.7L211.1 122.7L210.8 124ZM42.6 118.3L44.8 118.3L44.5 118.6ZM37.6 115.4L38.9 115.1L38.6 115.8ZM33.9 116.1L35.7 116.2L34.5 116.4ZM209 103.4L210.3 102.6L210.2 101.1L211.4 100.4L211.4 98.6L212.7 97.9L213.4 97L214.8 96.9L215.1 95.6L215.8 94.8L216.6 93.8L217.9 93.1L217.8 91.4L218.9 90.6L220.3 91.2L221.4 90.3L222.1 91.4L223 92.2L223.7 93.3L224.6 94.1L225.7 94.8L226.9 95.5L227.7 96.7L228.9 96L229.9 97L231.3 96.8L232.3 95.7L233.6 95.4L234.7 94.7L236 95.1L237 94.4L238 95.1L238.7 96.4L240.4 95.1L241.1 96.4L242 97.2L243 97.6L244.5 97.1L245.2 98.3L246.2 98.9L247 99.9L248 100.4L249.3 100.3L249.7 102.1L251.1 101.8L252 102.5L252.1 103.8L253 104.6L253 106.2L251.5 106.2L250.8 107.8L249.5 108.1L248.3 108.9L247 108.1L245.9 107.6L244.8 108.4L243.7 107.7L242.5 108.6L241.4 108.1L240.1 108.3L239 107.1L237.6 108L236.4 107.2L235.1 106.7L233.9 106L233 104.9L231.7 105.6L230.5 104.8L229.2 104.9L227.7 105.6L226.1 105.3L225.2 106.3L223.9 105.9L222.3 105.7L221.5 107.6L219.9 107.5L218.7 107.3L217.5 107.4L216.3 106.8L215.1 107.9L214 107.5L212.7 106.6L211.1 106.5L210.5 104.9L209.2 104.6ZM232.4 94.1L233.9 94.4L235.1 95.1L236.3 94.7L237.4 94.1L238.4 93L239.8 92.9L241.4 93.2L242.4 91.9L243.2 91.2L243.9 90.3L245.1 90L245.5 88.7L244.3 89.3L242.9 88.2L241.7 89L240.5 89.1L239.4 89.5L238.2 89.6L237 90L235.7 90.5L234.4 91.1L233 90.9L233.1 92.4L231.7 92.9ZM206.5 109.7L208.1 109.8L209 108.4L210.2 108.9L211.3 107.7L212.5 108L213.6 108.1L214.8 109.3L216.4 109.1L215 109.4L213.6 110L212.5 110.1L211.3 109.5L210.2 110.7L209 110.3L207.8 109.5L206.5 110ZM231.7 33.1L232.6 34.1L233.7 34.2L235.1 33.5L236 34.2L237 34.7L238 35.9L239.5 35.6L240.7 34.9L241.7 34L240.5 32.4L238.9 32.2L237.4 32.1L238.6 32.6L239.7 31.4L241 32.5L242.1 31.8L243.3 31.5L244.5 31.8L245.6 32.4L246.9 32.5L248 33.1L248.7 32.1L249.8 31.8L249.9 30.3L251.6 30.1L251.7 28.8L252.7 28L254.2 27L253.8 25.9L254.2 24.8L252.8 25.1L251.7 26.1L249.9 26L248.9 27.7L247.9 28.7L246.6 27.5L245.5 27.7L244.5 28.9L243.3 28.3L242.1 28.4L241 28.1L239.8 28.6L238.8 27.1L237.5 28.3L236.4 27.6L235.3 27L234.1 28L233 27.7L231.5 28.2L230.4 26.6L229 27.2L227.7 26.7L226.8 25.6L225.5 25.1L225.3 26.3L224.3 27L225.5 27.2L226.2 28.6L227.8 28.1L228.6 29.3L229.8 29.9L230.9 30.7L231.7 31.8ZM216.1 43.9L217.8 43.8L218.6 42.3L219.8 42.9L221.2 41.9L222.4 42.6L223.5 43.1L224.1 44.5L225.5 44.5L225.5 46.1L224.1 46.5L222.8 47.1L221.4 47.7L220 46.7L218.3 47.1L217 46.6L216.1 45.5ZM230.8 43.9L232.2 43.5L232.8 42.3L233.3 41L233.3 39.7L234.2 38.8L236.1 39.8L236.6 41.1L236.7 42.6L235.3 43L234.9 44.5L233.6 44.4L232.4 44.5ZM161.5 51.2L163.3 51.1L164.3 49.6L165.5 50.4L166.8 50.2L166.7 51.5L165.6 52.2L164 52.6L162.5 52.8ZM167.1 54.7L168.5 54L169 52.6L169.3 51.2L169.9 51.8L169.8 53.1L168.8 53.8L168.1 54.7Z"/>
<g fill="none" stroke="#006400" stroke-linecap="butt" stroke-linejoin="round"><path d="M30.3 28L38.1 16.3" stroke-width="0.60" stroke-opacity="0.80"/><path d="M37.5 31.9L49.8 17" stroke-width="0.60" stroke-opacity="0.80"/><path d="M63.5 42L63.4 42.4L63.3 42.9L63.2 43.3L63 43.7L62.9 44.2L62.6 44.6L62.3 44.9L62 45.3L61.6 45.6L61.2 46L60.7 46.3L60.3 46.5L59.8 46.8L59.2 47L58.7 47.1L58.1 47.3L57.5 47.4L56.9 47.5L56.3 47.5L55.7 47.5L55.1 47.5L54.5 47.4L53.9 47.3L53.3 47.1L52.8 47L52.3 46.8L51.7 46.5L51.3 46.3L50.8 46L50.4 45.6L50 45.3L49.7 44.9L49.4 44.6L49.1 44.1L48.9 43.7L48.7 43.3L48.6 42.9L48.5 42.4L48.5 42L48.5 41.6L48.6 41.1L48.7 40.7L48.9 40.3L49.1 39.9L49.4 39.4L49.7 39.1L50 38.7L50.4 38.4L50.8 38L51.3 37.7L51.7 37.5L52.3 37.2L52.8 37L53.3 36.9L53.9 36.7L54.5 36.6L55.1 36.5L55.7 36.5L56.3 36.5L56.9 36.5L57.5 36.6L58.1 36.7L58.7 36.9L59.2 37L59.8 37.2L60.3 37.5L60.7 37.7L61.2 38L61.6 38.4L62 38.7L62.3 39.1L62.6 39.4L62.9 39.8L63 40.3L63.2 40.7L63.3 41.1L63.4 41.6L63.5 42" stroke-width="0.70" stroke-opacity="0.80"/><path d="M78 41L77.8 41.7L77.7 42.4L77.6 43.1L77.4 43.8L77.2 44.5L76.9 45.2L76.6 45.9L76.1 46.5L75.6 47.2L75.1 47.8L74.5 48.4L73.9 49L73.2 49.5L72.5 50.1L71.7 50.6L70.9 51L70 51.5L69.2 51.9L68.3 52.3L67.3 52.6L66.3 52.9L65.3 53.2L64.3 53.4L63.3 53.6L62.2 53.8L61.2 53.9L60.1 54L59 54L58 54L56.9 54L55.8 53.9L54.8 53.8L53.7 53.6L52.7 53.4L51.7 53.2L50.7 52.9L49.7 52.6L48.8 52.3L47.8 51.9L46.9 51.5L46.1 51L45.3 50.6L44.5 50.1L43.8 49.5L43.1 49L42.5 48.4L41.9 47.8L41.4 47.2L40.9 46.6L40.4 45.9L40.1 45.2L39.7 44.5L39.5 43.8L39.3 43.1L39.1 42.4L39 41.7L39 41L39 40.3L39.1 39.6L39.3 38.9L39.5 38.2L39.7 37.5L40.1 36.8L40.4 36.1L40.9 35.4L41.4 34.8L41.9 34.2L42.5 33.6L43.1 33L43.8 32.5L44.5 31.9L45.3 31.4L46.1 31L46.9 30.5L47.8 30.1L48.8 29.7L49.7 29.4L50.7 29.1L51.7 28.8L52.7 28.6L53.7 28.4L54.8 28.2L55.8 28.1L56.9 28L58 28L59 28L60.1 28L61.2 28.1L62.2 28.2L63.3 28.4L64.3 28.6L65.3 28.8L66.3 29.1L67.3 29.4L68.3 29.7L69.2 30.1L70 30.5L70.9 31L71.7 31.4L72.5 31.9L73.2 32.5L73.9 33L74.5 33.6L75.1 34.2L75.6 34.8L76.1 35.5L76.6 36.1L76.9 36.8L77.2 37.5L77.4 38.2L77.6 38.9L77.7 39.6L77.8 40.3L78 41" stroke-width="0.80" stroke-opacity="0.80"/><path d="M30.3 36L30.5 37.7L30.7 39.5L30.9 41.2L31.1 42.9L31.5 44.5L32 46L32.7 47.3L33.5 48.6L34.4 49.7L35.4 50.8L36.6 51.7L38.1 52.6L39.9 53.4L42 54.1L44.3 54.7L46.6 55.2L48.9 55.6L51 55.9L52.9 56.2L54.7 56.3L56.4 56.4L58.1 56.4L59.8 56.2L61.5 55.9L63.3 55.4L65.1 54.6L66.9 53.7L68.7 52.7L70.4 51.7L72 50.7L73.5 49.7L74.9 48.7L76.3 47.7L77.6 46.5L78.8 45.3L80 44L81.2 42.5L82.3 41L83.4 39.3L84.4 37.6L85.3 35.8L86 34L86.5 32.1L86.8 30L87 27.8L87.1 25.7L87.1 23.7L87 22L86.8 20.5L86.6 19.3L86.2 18.2L85.8 17.1L85.4 16.1L85 15" stroke-width="1.20" stroke-opacity="0.90"/><path d="M30.3 55.2L31.8 56L33.2 56.8L34.6 57.6L36.1 58.4L37.7 59.1L39.4 59.8L41.4 60.4L43.5 61.1L45.8 61.6L48.1 62.2L50.3 62.6L52.4 63L54.2 63.3L55.9 63.6L57.4 63.9L59 64L60.8 64L62.8 63.7L65.2 63.2L67.8 62.5L70.6 61.6L73.5 60.6L76.1 59.6L78.4 58.5L80.4 57.4L82.2 56.1L83.8 54.8L85.3 53.5L86.7 52.2L88 51L89.2 49.9L90.3 49L91.4 48L92.3 47.1L93.2 46.1L94 45L94.8 43.8L95.6 42.6L96.3 41.3L96.9 39.9L97.5 38.5L97.9 37L98.2 35.4L98.5 33.8L98.7 32.1L98.8 30.3L98.8 28.5L98.6 26.7L98.3 24.8L97.8 22.9L97.2 20.9L96.5 19L95.9 17L95.3 15" stroke-width="1.60" stroke-opacity="1.00"/><path d="M30.3 63.7L33.3 64.5L36.3 65.3L39.3 66.2L42.3 67L45.4 67.7L48.5 68.2L51.7 68.5L54.9 68.7L58.2 68.8L61.5 68.8L64.7 68.8L68 68.9" stroke-width="2.00" stroke-opacity="1.00"/><path d="M69.3 72.8L71.8 71.9L74.4 71.1L77 70.2L79.5 69.3L81.8 68.4L84 67.5L85.9 66.6L87.6 65.7L89.2 64.7L90.7 63.8L92.1 62.8L93.6 61.7L95.1 60.6L96.5 59.4L97.9 58.2L99.2 56.9L100.5 55.5L101.8 54L103 52.3L104.3 50.5L105.4 48.6L106.5 46.5L107.5 44.4L108.3 42.3L108.9 40.1L109.4 37.7L109.8 35.2L110 32.8L110.2 30.3L110.3 28L110.3 25.8L110.1 23.6L109.9 21.4L109.6 19.3L109.3 17.2L109 15" stroke-width="2.10" stroke-opacity="1.00"/><path d="M30.3 74.1L34.4 74.8L38.5 75.6L42.6 76.4L46.7 77.1L50.8 77.7L55 78L59.4 78L64.1 77.9L68.7 77.6L73.2 77.1L77.4 76.6L81 76L84 75.4L86.4 74.6L88.5 73.8L90.4 72.9L92.2 71.9L94 70.8L95.9 69.6L97.6 68.2L99.2 66.7L100.9 65.2L102.4 63.6L104 62L105.6 60.4L107.2 58.7L108.8 57L110.3 55.3L111.7 53.6L113 52L114.1 50.4L115 48.9L115.9 47.4L116.6 45.9L117.3 44.5L118 43L118.7 41.7L119.3 40.5L119.9 39.4L120.5 38.1L120.9 36.5L121.3 34.5L121.6 31.9L121.7 28.8L121.8 25.4L121.9 21.9L121.9 18.4L122 15" stroke-width="2.30" stroke-opacity="1.00"/><path d="M30.3 79.9L35.5 80.8L40.7 81.8L45.8 82.9L51 83.8L56.2 84.4L61.5 84.5L67 84.1L72.7 83.3L78.4 82.1L84 80.8L89.1 79.4L93.6 78L97.4 76.7L100.5 75.5L103.3 74.2L105.8 72.8L108.3 71L110.9 68.9L113.7 66.2L116.6 63.1L119.5 59.7L122.1 56.2L124.5 52.9L126.5 50L128 47.6L129 45.6L129.7 43.8L130.3 41.9L130.9 39.7L131.7 37.1L132.6 33.9L133.6 30.4L134.6 26.6L135.6 22.7L136.6 18.8L137.6 15" stroke-width="2.30" stroke-opacity="1.00"/><path d="M42 87.6L47.1 88.1L52.3 88.7L57.5 89.3L62.5 89.9L67.4 90.2L71.9 90.2L76 89.9L79.8 89.5L83.3 88.8L86.7 87.9L90.1 86.9L93.6 85.8L97.3 84.5L101.1 83.1L104.8 81.5L108.5 79.8L111.8 78L114.8 76L117.3 73.8L119.5 71.5L121.5 69L123.2 66.4L124.9 64L126.5 61.7L128 59.6L129.4 57.7L130.7 55.9L131.9 54.1L133.1 52.1L134.3 50L135.5 47.6L136.6 44.9L137.7 42.2L138.8 39.4L139.8 36.8L140.8 34.5L141.8 32.5L142.7 30.6L143.5 28.9L144.4 27.3L145.2 25.7L146 24.1L146.8 22.5L147.6 21L148.3 19.5L149 18L149.8 16.5L150.5 15" stroke-width="2.30" stroke-opacity="1.00"/><path d="M40.1 92.8L44.8 93.4L49.5 94.1L54.2 94.8L58.9 95.4L63.5 95.9L68 96.1L72.4 96.1L76.8 95.8L81.1 95.4L85.3 94.9L89.5 94.2L93.6 93.5L97.7 92.7L101.9 91.9L106 90.9L109.9 89.8L113.8 88.5L117.4 87L120.8 85.2L124 83.2L127 81L129.9 78.7L132.8 76.4L135.6 74.1L138.4 71.8L141.2 69.4L144 66.9L146.5 64.5L148.9 62.2L151 60L152.7 58L153.9 56.3L155 54.6L156 52.8L157.2 51L158.6 48.8L160.3 46.3L162.1 43.6L164 40.7L166.1 37.7L168.3 34.8L170.7 31.9L173.3 29.1L176.2 26.3L179.2 23.4L182.4 20.6L185.5 17.8L188.5 15" stroke-width="2.10" stroke-opacity="1.00"/><path d="M30.3 96.7L35.5 97.8L40.7 99L45.8 100.1L51 101.2L56.2 102.1L61.5 102.6L66.8 102.8L72.1 102.7L77.4 102.4L82.8 101.9L88.2 101.3L93.6 100.6L99.2 99.8L105.1 98.9L111 97.9L116.7 96.7L122 95.4L126.5 94.1L130.2 92.7L133.2 91.2L135.8 89.5L138.2 87.8L140.5 86L143 84L145.7 81.8L148.5 79.3L151.3 76.7L154 74.1L156.4 71.7L158.6 69.5L160.4 67.7L161.8 66.1L162.9 64.6L164.1 63.2L165.3 61.7L166.8 60L168.6 58.1L170.6 56.1L172.8 54.1L174.9 52L176.8 50L178.5 48L179.8 46.1L180.7 44.4L181.5 42.6L182.4 40.8L183.5 39L185 37.1L187.1 34.9L189.6 32.5L192.3 30.1L195.2 27.7L198 25.7L200.6 24.1L203 23L205.3 22.3L207.5 21.8L209.8 21.6L212.3 21.5L214.9 21.5L217.8 21.6L221 21.8L224.3 22.1L227.6 22.6L230.8 23.3L233.7 24.1L236.3 25.1L238.8 26.3L241.1 27.7L243.4 29.2L245.7 30.6L248 32" stroke-width="1.70" stroke-opacity="1.00"/><path d="M140.8 57L142.3 55.2L143.8 53.3L145.4 51.4L146.9 49.6L148.4 47.8L149.9 46.2L151.4 44.8L153 43.5L154.5 42.3L156 41.2L157.4 39.9L158.6 38.4L159.6 36.7L160.3 34.9L160.9 33L161.5 31L162.2 29L163 27L164 25L165.1 23L166.3 21L167.6 19L168.8 17L170 15" stroke-width="1.50" stroke-opacity="1.00"/><path d="M30.3 100.6L34.3 101.7L38.3 102.8L42.2 104L46.3 105L50.5 105.9L55 106.5L59.8 106.8L64.8 106.9L70 106.8L75.4 106.5L80.8 106.2L86.2 105.8L91.9 105.3L97.9 104.6L104.1 103.8L110 103L115.4 102.4L120 101.9L123.7 101.5L126.6 101.2L129 100.9L131.2 100.9L133.3 101.2L135.6 101.9L138.1 103.2L140.7 105L143.2 107.2L145.6 109.5L147.9 111.7L149.9 113.6L151.7 115.3L153.2 116.8L154.6 118.3L155.9 119.8L157.2 121.2L158.6 122.7" stroke-width="1.20" stroke-opacity="0.90"/><path d="M30.3 105.8L34.3 107L38.1 108.3L42 109.5L46 110.7L50.3 111.7L55 112.3L60.3 112.5L66.1 112.4L72.2 112.1L78.4 111.7L84.4 111.3L90.1 111L95.7 110.8L101.4 110.6L106.9 110.4L112.1 110.2L116.5 110L120 109.7L122.2 109.2L123.3 108.5L123.7 107.8L123.8 107.2L124.2 106.9L125.2 107.1L126.9 107.8L129 108.8L131.3 110.1L133.6 111.7L135.9 113.3L138 115L139.9 116.8L141.7 118.7L143.4 120.7L145.1 122.8L146.9 125L148.6 127" stroke-width="1.00" stroke-opacity="0.90"/><path d="M30.3 112.3L31.4 112.9L32.3 113.5L33.2 114L34.3 114.6L35.9 115.1L38.1 115.6L41 116L44.4 116.5L48.3 116.9L52.5 117.3L56.9 117.5L61.5 117.5L66.3 117.3L71.6 117L77 116.5L82.6 115.9L88.1 115.4L93.6 114.9" stroke-width="0.80" stroke-opacity="0.80"/><path d="M30.3 120.1L45.9 126.6" stroke-width="0.70" stroke-opacity="0.80"/><path d="M61.5 124L67 123.8L72.6 123.6L78.2 123.4L83.6 123.2L88.8 123L93.6 122.7L98 122.3L102 121.6L105.7 121L109.3 120.4L112.7 120.1L116.1 120.1L119.4 120.5L122.5 121.3L125.5 122.2L128.4 123.3L131.3 124.3L134.3 125.3" stroke-width="0.80" stroke-opacity="0.80"/><path d="M116.1 105.2L118.1 105.2L120 105.2L122 105.1L124 105.2L125.9 105.4L127.8 105.8L129.6 106.5L131.4 107.5L133.1 108.7L134.8 109.9L136.5 111.1L138.2 112.3" stroke-width="0.80" stroke-opacity="0.80"/><path d="M143.4 96.7L158.6 111" stroke-width="0.70" stroke-opacity="0.80"/><path d="M183 18.9L190.8 15" stroke-width="1.20" stroke-opacity="0.90"/><path d="M225.9 15.5L227.9 15.8L229.8 16.1L231.8 16.3L233.8 16.7L235.7 17.1L237.6 17.6L239.4 18.3L241.2 19.2L242.9 20.1L244.6 21.1L246.3 22.1L248 23" stroke-width="1.20" stroke-opacity="0.90"/><path d="M159 69.5L161.6 67.4L164.3 65.4L167 63.3L169.6 61.2L172.2 59.1L174.6 57L176.8 54.8L178.9 52.5L180.8 50.2L182.8 47.9L184.8 45.7L186.9 43.6L189.2 41.6L191.5 39.6L193.9 37.8L196.4 36L198.8 34.5L201.2 33.2L203.6 32.2L205.9 31.4L208.2 30.8L210.5 30.3L213 30.1L215.5 30L218.2 30.1L221 30.3L223.9 30.8L226.8 31.4L229.6 32.2L232.4 33.2L235.1 34.5L237.7 36.1L240.3 38L242.8 39.9L245.4 41.8L248 43.6" stroke-width="0.90" stroke-opacity="0.80"/><path d="M190.8 48.8L194.3 47.3L197.9 45.7L201.5 44L205.1 42.6L208.4 41.5L211.6 41L214.4 41.1L217 41.8L219.4 42.8L221.8 44.1L224.4 45.5L227.2 46.9L230.4 48.3L233.7 50L237.3 51.7L240.9 53.5L244.5 55.3L248 57" stroke-width="0.70" stroke-opacity="0.80"/><path d="M223.3 37.1L225 37.9L226.6 38.7L228.3 39.5L229.9 40.4L231.7 41.3L233.7 42.3L235.9 43.4L238.2 44.7L240.6 46L243.1 47.4L245.6 48.8L248 50.1" stroke-width="0.70" stroke-opacity="0.80"/><path d="M202.5 50.1L206.5 50.8L210.7 51.4L214.9 52.1L219 52.8L222.7 53.4L225.9 54L228.5 54.5L230.7 55L232.6 55.4L234.2 55.9L235.9 56.4L237.6 57L239.4 57.7L241.2 58.5L242.9 59.4L244.6 60.3L246.3 61.1L248 62" stroke-width="0.70" stroke-opacity="0.80"/><path d="M159 74.7L161.2 74.4L163.5 73.9L165.8 73.5L168.1 73.2L170.1 73.1L172 73.4L173.7 74.1L175.2 75.2L176.5 76.5L177.8 78L178.9 79.6L179.8 81.2L180.6 82.8L181.3 84.5L181.8 86.2L182.2 88.1L182.4 90L182.4 92L182.2 94.2L181.6 96.6L180.9 99.2L180.2 101.6L179.6 103.9L179.2 105.8L179 107.3L178.8 108.4L178.7 109.3L178.8 110.1L179.2 111.1L179.8 112.3L180.7 113.9L181.7 115.7L183 117.6L184.6 119.5L186.5 121.3L188.9 122.7L191.8 123.8L195.3 124.6L199.1 125.2L203.2 125.8L207.2 126.4L211 127" stroke-width="0.70" stroke-opacity="0.80"/><path d="M188.2 59.6L191.8 60L195.6 60.3L199.4 60.6L203 60.9L206.3 61.5L209 62.2L211.2 63.2L213.1 64.3L214.6 65.5L215.7 66.9L216.5 68.4L216.8 70L216.5 71.7L215.7 73.6L214.4 75.6L213 77.7L211.5 79.7L210.3 81.7" stroke-width="0.70" stroke-opacity="0.80"/><path d="M183 64.8L185.3 65.6L187.7 66.2L190.2 66.9L192.4 67.7L194.4 68.7L196 70L197.1 71.7L197.9 73.6L198.4 75.8L198.6 78.2L198.7 80.6L198.6 83L198.3 85.6L197.8 88.4L197.1 91.2L196.3 94L195.5 96.7L194.7 99L194 100.9L193.2 102.6L192.5 104.1L191.7 105.5L191 106.9L190.2 108.4" stroke-width="0.70" stroke-opacity="0.80"/><path d="M199.3 50L203.5 51.2L207.8 52.3L212.2 53.4L216.3 54.6L220.1 55.8L223.3 57L225.9 58.3L228.2 59.5L230 60.9L231.5 62.2L232.7 63.5L233.7 64.8L234.4 66L234.9 67.1L235.1 68.2L235 69.4L234.5 70.8L233.7 72.6L232.4 74.8L230.6 77.4L228.5 80.1L226.2 83L224 85.7L222 88.2L220.2 90.4L218.6 92.5L216.9 94.6L215.3 96.5L213.7 98.3L212 100L210.2 101.6L208.5 103.1L206.7 104.4L204.8 105.7L203 107L201.2 108.4" stroke-width="0.70" stroke-opacity="0.80"/><path d="M245.4 80.4L244.1 81.6L242.7 82.8L241.4 84L240 85.2L238.8 86.5L237.6 88L236.5 89.6L235.6 91.4L234.7 93.3L233.8 95.2L232.9 97.1L232 99" stroke-width="0.60" stroke-opacity="0.80"/><path d="M161.6 85L162.4 87.1L163.2 89.2L164 91.3L164.9 93.5L165.8 95.7L166.8 98L167.9 100.5L169.1 103.1L170.4 105.8L171.7 108.5L173.1 111.1L174.6 113.6L176.2 116L177.9 118.2L179.6 120.4L181.4 122.6L183.2 124.8L185 127" stroke-width="0.60" stroke-opacity="0.80"/><path d="M205.1 111L206.2 110.8L207.2 110.6L208.1 110.5L209.2 110.2L210.8 109.8L212.9 109L215.9 107.8L219.5 106.2L223.6 104.4L227.8 102.6L231.7 100.8L235 99.3L237.7 98L240 96.9L242.1 95.8L244 94.8L245.9 93.8L248 92.8" stroke-width="0.80" stroke-opacity="0.80"/><path d="M183 118.8L187.4 119.2L191.8 119.7L196.2 120.2L200.5 120.7L204.8 120.9L209 120.8L213.1 120.5L217.3 120.1L221.4 119.4L225.3 118.5L229 117.3L232.4 115.6L235.5 113.4L238.2 110.7L240.7 107.6L243.1 104.3L245.5 101.1L248 98" stroke-width="1.00" stroke-opacity="0.90"/><path d="M202.5 127L206.9 126.6L211.4 126.2L215.9 125.8L220.3 125.4L224.5 124.8L228.5 124L232.1 123L235.5 121.8L238.7 120.4L241.7 119L244.8 117.6L248 116.2" stroke-width="1.00" stroke-opacity="0.90"/><path d="M222 85L221.2 87.8L220.4 90.7L219.5 93.6L218.7 96.4L218.2 98.8L218.1 100.6L218.3 101.9L218.7 102.9L219.4 103.5L220.4 103.8L221.7 103.7L223.3 103.2L225.4 102.2L228.1 100.7L231 98.8L234.1 96.7L237.2 94.7L240.2 92.8" stroke-width="0.60" stroke-opacity="0.80"/><path d="M159 103.2L161.2 105.4L163.3 107.6L165.5 109.9L167.7 112.1L169.8 114.1L172 116L174.2 117.6L176.3 119L178.5 120.3L180.7 121.5L182.8 122.7L185 124" stroke-width="0.60" stroke-opacity="0.80"/></g><g fill="#006400" stroke="none"><path d="M62.8 44.2L62.3 40.7L65.2 41.6Z" fill-opacity="0.80"/><path d="M78.6 43.3L76.2 40.5L79.3 39.7Z" fill-opacity="0.80"/><path d="M86.8 31.4L87.4 35.6L83.9 34.5Z" fill-opacity="0.90"/><path d="M65.8 63.2L61.9 65.9L61.2 61.9Z" fill-opacity="1.00"/><path d="M98.2 23.6L100.8 27.7L96.7 28.2Z" fill-opacity="1.00"/><path d="M109.4 38.9L110.1 44.4L105.6 42.9Z" fill-opacity="1.00"/><path d="M97.2 68.9L94 73.7L91.4 69.5Z" fill-opacity="1.00"/><path d="M113.7 66.5L111.4 71.8L108.2 68Z" fill-opacity="1.00"/><path d="M75.6 90.1L70.5 92.7L70.3 87.8Z" fill-opacity="1.00"/><path d="M147.7 20.8L147.6 26.5L143.1 24.3Z" fill-opacity="1.00"/><path d="M138.4 71.9L136 76.8L133 73.1Z" fill-opacity="1.00"/><path d="M236.7 25.1L231.8 25.7L233.1 21.7Z" fill-opacity="1.00"/><path d="M88.9 105.6L85.2 107.7L85 104.1Z" fill-opacity="0.90"/><path d="M92.6 110.9L89.1 112.7L89 109.3Z" fill-opacity="0.90"/><path d="M40.4 116L36.9 117L37.4 113.9Z" fill-opacity="0.80"/><path d="M130.1 106.5L126.4 107L127.4 104Z" fill-opacity="0.80"/><path d="M218 30L214.5 31.6L214.5 28.4Z" fill-opacity="0.80"/><path d="M229.3 47.8L225.8 47.9L227 45.1Z" fill-opacity="0.80"/><path d="M235.7 43.4L232.2 43.2L233.6 40.5Z" fill-opacity="0.80"/><path d="M178.9 108.1L177.8 104.7L180.8 105.1Z" fill-opacity="0.80"/><path d="M211.1 63L207.6 63.3L208.7 60.5Z" fill-opacity="0.80"/><path d="M189.2 110.5L189.2 106.9L192 108.2Z" fill-opacity="0.80"/><path d="M232.7 74.6L232.7 71.1L235.5 72.5Z" fill-opacity="0.80"/><path d="M199.4 109.8L201 106.6L202.9 109Z" fill-opacity="0.80"/><path d="M243.8 81.9L245 78.7L247 80.8Z" fill-opacity="0.80"/><path d="M215.1 108.1L212.6 110.8L211.4 107.9Z" fill-opacity="0.80"/><path d="M234.6 114.3L232.4 117.6L230.7 114.6Z" fill-opacity="0.90"/></g>
<rect x="60.7" y="31.8" width="124.8" height="79.5" fill="none" stroke="#2dd42d" stroke-width="2"/>
</g>
<rect x="29.5" y="15.5" width="218.1" height="111.3" fill="none" stroke="#555" stroke-width="0.75"/>
<!-- MAP B -->
<g clip-path="url(#cb)">
<g clip-path="url(#landb)">
<path fill="#fcffa4" stroke="#fcffa4" stroke-width="0.3" d="M329.9 130.4l0.8 0l0.8 0l0.7 0l0.8 0l0.8 0l0.8 0l0.8 0l0.8 0l0.7 0l0.8 0l0.8 0l0.8 0l0.8 0l0.7 0l0.8 0l0.8 0l0.8 0l0.8 0l0.3 0l-0.3-0.4l-0.6-0.4l-0.2-0.1l-0.8-0.3l-0.8-0.2l-0.6-0.2l-0.2 0l-0.7-0.3l-0.8-0.5l-0.8-0.6l-0.4-0.2l-0.4-0.1l-0.6 0.1l-0.2 0.1l-0.6 0.7l-0.1 0.1l-0.8 0.7l-0.1 0l-0.7 0.2l-0.8-0.1l-0.7-0.1l-0.1 0l-0.8-0.2l-0.7-0.2l-0.8-0.1l-0.8 0.5l-0.5 0.8l-0.3 0.8zM364.3 130.4l0.8 0l0.7 0l0.8 0l0.8 0l0.8 0l0.8 0l0.8 0l0.7 0l0.8 0l0.8 0l0.8 0l0.8 0l0.7 0l0.8 0l0.8 0l0.8 0l0.8 0l0.8 0l0.7 0l0.8 0l0.5 0l-0.5-0.8l0-0.1l-0.4-0.7l-0.4-0.5l-0.1-0.3l-0.6-0.8l-0.5-0.8l-0.3-0.5l-0.2-0.3l-0.3-0.8l-0.3-0.6l-0.1-0.2l-0.6-0.8l-0.1-0.1l-0.8-0.6l-0.1-0.1l-0.7-0.3l-0.7-0.1l-0.8 0.2l-0.2 0.2l-0.4 0.8l-0.2 0.4l-0.1 0.4l-0.3 0.8l-0.3 0.8l-0.1 0.2l-0.3 0.6l-0.4 0.8l-0.1 0.2l-0.4 0.6l-0.3 0.4l-0.8 0.3l-0.8 0l-0.8 0l-0.8 0.1l-0.1 0l-0.7 0.2l-0.7 0.3l-0.7 0.3l-0.1 0.1l-0.8 0.7zM426 128.8l0.8 0l0.8 0l0.5 0l-0.5-0.8l-0.8-0.6l-0.7-0.2l-0.1 0l-0.8 0l-0.2 0l-0.5 0.1l0.7 0.7zM297.7 37.6l0.2-0.2l0.7 0l0.8 0l0.8-0.8l0.8 0l0.8 0l0.5 0l0.2-0.8l0.3-0.8l0-0.8l0-0.8l-0.1-0.8l-0.2-0.4l-0.1-0.4l-0.6-0.7l-0.2-0.1l-0.6-0.3l-0.8-0.2l-0.8 0.1l-0.8 0.4l-0.6 0.8l-0.1 0.4l-0.2 0.4l-0.1 0.8l0 0.8l0 0.8l0 0.8l0 0.8l0 0.8z"/>
<path fill="#f1ef75" stroke="#f1ef75" stroke-width="0.3" d="M329.1 130.4l0.3-0.8l0.5-0.8l0.8-0.5l0.8 0.1l0.7 0.2l0.8 0.2l0.1 0l0.7 0.1l0.8 0.1l0.7-0.2l0.1 0l0.8-0.7l0.1-0.1l0.6-0.7l0.2-0.1l0.6-0.1l0.4 0.1l0.4 0.2l0.8 0.6l0.8 0.5l0.7 0.3l0.2 0l0.6 0.2l0.8 0.2l0.8 0.3l0.2 0.1l0.6 0.4l0.3 0.4l0.4 0l0.8 0l0.8 0l0.6 0l-0.6-0.6l-0.1-0.2l-0.7-0.6l-0.2-0.2l-0.6-0.4l-0.5-0.4l-0.2-0.2l-0.8-0.5l-0.3-0.1l-0.5-0.3l-0.8-0.4l-0.1-0.1l-0.7-0.5l-0.3-0.3l-0.4-0.4l-0.4-0.4l-0.4-0.4l-0.5-0.4l-0.3-0.2l-0.8-0.3l-0.8 0l-0.7 0.1l-0.8 0.2l-0.8 0l-0.8-0.2l-0.7-0.4l-0.1 0l-0.8-0.4l-0.7-0.4l-0.8-0.3l-0.6-0.5l-0.2-0.1l-0.5-0.7l-0.3-0.4l-0.2-0.4l-0.6-0.6l-0.1-0.1l-0.6-0.6l-0.3-0.2l-0.5-0.7l-0.1-0.1l-0.3-0.8l-0.1-0.8l0.1-0.8l0.1-0.8l0-0.8l0.1-0.8l0.1-0.8l0-0.8l0-0.8l-0.2-0.8l-0.5-0.8l-0.8-0.5l-0.8-0.1l-0.8 0.4l-0.2 0.2l-0.5 0.8l0 0.2l-0.2 0.6l-0.1 0.8l-0.2 0.8l0 0.8l-0.1 0.8l0 0.8l0.1 0.8l0.1 0.8l0.1 0.8l0.2 0.8l0.1 0.3l0 0.5l0 0.2l-0.1 0.6l-0.5 0.7l-0.1 0.2l0.7 0.6l0.7 0.8l0.8 0.8l0.8 0l0.8 0l0.8 0l0.8 0l0.7 0l0.8 0l0.8 0.8l0.8 0l0.8 0.8l0 0.8l-0.8 0.8l0 0.8l-0.8 0.8l0 0.8l-0.8 0.8l-0.8 0.8l0 0.8zM350.2 130.4l0.8 0l0.8 0l0.8 0l0.7 0l0.8 0l0.8 0l0.8 0l0.8 0l0.8 0l0.7 0l0.8 0l0.8 0l0.8 0l0.8 0l0.7 0l0.8 0l0.8 0l0.8-0.7l0.1-0.1l0.7-0.3l0.7-0.3l0.7-0.2l0.1 0l0.8-0.1l0.8 0l0.8 0l0.8-0.3l0.3-0.4l0.4-0.6l0.1-0.2l0.4-0.8l0.3-0.6l0.1-0.2l0.3-0.8l0.3-0.8l0.1-0.4l0.2-0.4l0.4-0.8l0.2-0.2l0.8-0.2l0.7 0.1l0.7 0.3l0.1 0.1l0.8 0.6l0.1 0.1l0.6 0.8l0.1 0.2l0.3 0.6l0.3 0.8l0.2 0.3l0.3 0.5l0.5 0.8l0.6 0.8l0.1 0.3l0.4 0.5l0.4 0.7l0 0.1l0.5 0.8l0.3 0l0.8 0l0.8 0l0.7 0l0.8 0l0.3 0l-0.3-0.5l-0.1-0.3l-0.4-0.8l-0.3-0.5l-0.1-0.3l-0.2-0.8l-0.1-0.8l-0.2-0.8l-0.1-0.6l-0.2-0.2l-0.6-0.5l-0.8-0.3l-0.8-0.1l-0.8-0.5l-0.1-0.2l-0.6-0.5l-0.3-0.3l-0.5-0.4l-0.4-0.4l-0.4-0.3l-0.6-0.5l-0.2-0.1l-0.8-0.6l0-0.1l-0.8-0.5l-0.5-0.2l-0.2-0.2l-0.8-0.1l-0.8 0l-0.6 0.3l-0.2 0l-0.8 0.7l-0.5 0.8l-0.2 0.8l0.1 0.8l0.1 0.8l-0.1 0.8l-0.1 0.8l0 0.1l-0.4 0.7l-0.4 0.6l-0.3 0.2l-0.5 0.3l-0.8 0.3l-0.6 0.2l-0.2 0l-0.8 0.2l-0.7 0.2l-0.8 0.1l-0.8 0.1l-0.8-0.1l-0.4-0.5l-0.1-0.8l0.1-0.8l0.2-0.8l0.1-0.8l-0.2-0.8l-0.5-0.6l-0.1-0.2l-0.6-0.3l-0.8-0.2l-0.8 0l-0.8 0.2l-0.6 0.3l-0.2 0.4l-0.1 0.4l0.1 0.6l0.1 0.2l0.2 0.8l0 0.8l0 0.8l-0.2 0.8l-0.1 0.1l-0.3 0.7l-0.4 0.6l-0.3 0.2l-0.5 0.5l-0.5 0.3l-0.3 0.2l-0.8 0l-0.3-0.2l-0.5-0.2l-0.8-0.3l-0.7-0.2l-0.8 0l-0.8 0.3l-0.6 0.4l-0.2 0.2l-0.7 0.6zM476 130.4l0.8 0l0.8 0l0.8 0l0.8 0l0.7 0l0-0.8l0-0.8l0-0.8l0-0.8l0-0.8l0-0.8l0-0.3l-0.7 0.2l-0.5 0.1l-0.3 0.1l-0.8 0.3l-0.7 0.4l-0.1 0.1l-0.5 0.7l-0.3 0.8l-0.1 0.8l-0.2 0.8l-0.4 0.8zM427.6 128l0.5 0.8l0.3 0l0.7 0l0.4 0l-0.3-0.8l-0.1-0.1l-0.3-0.7l-0.4-0.8l-0.7-0.8l-0.1-0.2l-0.8-0.5l-0.4-0.1l-0.4-0.1l-0.6 0l-0.2 0.1l-0.7 0.8l-0.8 0.8l0.8 0.8l0 0.1l0.5-0.1l0.2 0l0.8 0l0.1 0l0.7 0.2l0.8 0.6zM421.3 124.8l0.8 0l0.4-0.4l-0.4-0.1l-0.6-0.3l-0.2-0.1l-0.7-0.4l-0.5-0.3l-0.3-0.2l-0.4-0.2l0.4 0.4l0.8 0.8zM418.2 119l0.3-0.5l-0.3-0.6l-0.2 0.6zM422.1 108.9l0.1 0l0.7-0.3l0.4-0.5l0.4-0.6l0.1-0.2l-0.1-0.4l-0.8-0.2l-0.8 0.4l-0.5 0.2l-0.3 0.4l-0.3 0.4l0.3 0.5l0.7 0.3zM419 101.2l0.8 0.1l0.8 0.1l0.7 0l0.8 0l0.8-0.1l0.8-0.3l0.8-0.5l0.3-0.3l0.4-0.4l0.6-0.4l0.2-0.2l0.8-0.6l0.4-0.8l0.1-0.8l-0.3-0.8l-0.2-0.2l-0.6-0.6l-0.2-0.1l-0.8-0.5l-0.1-0.2l-0.6-0.4l-0.4-0.4l-0.4-0.4l-0.4-0.4l-0.4-0.4l-0.3-0.4l-0.5-0.5l-0.6-0.3l-0.2-0.1l-0.7 0.1l-0.1 0l-0.7 0.5l-0.4 0.3l-0.4 0.4l-0.3 0.4l-0.4 0.8l-0.1 0.2l-0.2 0.6l-0.2 0.8l-0.3 0.8l-0.1 0.2l-0.4 0.6l-0.4 0.3l-0.5 0.5l-0.2 0.8l0.4 0.8l0.3 0.3l0.4 0.5l0.4 0.3l0.8 0.5zM442.4 84.9l0.8 0.1l0.8-0.4l0.4-0.3l0.4-0.6l0.1-0.2l0.1-0.8l-0.2-0.8l-0.5-0.8l-0.3-0.3l-0.7-0.5l-0.1-0.1l-0.8 0l-0.2 0.1l-0.5 0.4l-0.3 0.4l-0.2 0.8l0 0.8l0.2 0.8l0.3 0.7l0 0.1zM323.6 72.4l0.2-0.1l0.6 0l0.8-0.3l0.8-0.4l0-0.1l0.8-0.5l0.3-0.2l0.5-0.3l0.7-0.5l0.2 0l0.6-0.3l0.8-0.2l0.8-0.1l0.7-0.2l-0.3-0.8l-0.4-0.3l-0.8-0.5l-0.8-0.3l-0.8-0.3l-0.7-0.2l-0.8 0l-0.1 0l-0.7 0.1l-0.8 0.4l-0.5 0.3l-0.3 0.1l-0.8 0.5l-0.2 0.2l-0.5 0.3l-0.8 0.3l-0.7 0.2l-0.1 0l-0.8 0.1l-0.5-0.1l-0.3-0.1l-0.7-0.3l0 0.4l0.7 0.8l0 0.8l0 0.8l0 0.1l0.8 0l0.8 0.2l0.8 0.2l0.8 0.2l0.4 0zM331.5 62.1l0.7 0l0.7-0.1l0.1 0l0.8-0.6l0.1-0.2l0.3-0.8l0.2-0.8l0.2-0.8l0-0.1l0.2-0.7l0.3-0.8l0.3-0.4l0.3-0.4l0.5-0.5l0.1-0.3l0.2-0.7l-0.3-0.8l0-0.1l-0.7-0.7l-0.1-0.1l-0.8-0.4l-0.8 0.2l-0.4 0.3l-0.4 0.4l-0.3 0.4l-0.5 0.6l-0.1 0.2l-0.6 0.4l-0.8 0.3l0 0.1l-0.8 0.5l-0.2 0.2l-0.2 0.4l0.4 0.4l0.8-0.8l0.8 0l0.7 0.8l0 0.8l-0.7 0.8l-0.8 0.8l-0.8 0.8l-0.1 0l0.1 0.4l0.2 0.4l0.6 0.6l0.5 0.2zM293.2 39l0.7 0l0.8-0.8l0.8 0l0.8 0l0.8 0l0.6-0.6l-0.1-0.2l0-0.8l0-0.8l0-0.8l0-0.8l0-0.8l0.1-0.8l0.2-0.4l0.1-0.4l0.6-0.8l0.8-0.4l0.8-0.1l0.8 0.2l0.6 0.3l0.2 0.1l0.6 0.7l0.1 0.4l0.2 0.4l0.1 0.8l0 0.8l0 0.8l-0.3 0.8l-0.2 0.8l0.2 0l0.8-0.8l0.8 0l0.8 0l0.8 0l0.8 0l0.7-0.8l0.8-0.8l0.8 0l0.8-0.8l0.8-0.8l0.7-0.8l-0.4-0.4l-0.3 0.1l-0.4 0.3l-0.4 0.4l-0.3 0.4l-0.5 0.6l-0.2 0.2l-0.6 0.4l-0.6 0.4l-0.2 0.1l-0.7 0.1l-0.8-0.1l-0.2-0.1l-0.4-0.8l-0.2-0.8l0-0.6l0-0.2l0-0.8l-0.2-0.8l-0.6-0.6l-0.2-0.2l-0.6-0.3l-0.8-0.4l-0.1-0.1l-0.6-0.3l-0.7-0.5l-0.1 0l-0.7-0.8l-0.1 0l-0.5-0.8l-0.3-0.4l-0.2-0.4l-0.6 0l-0.7 0l-0.8 0l-0.8 0l-0.8 0.8l-0.8 0l-0.8 0l-0.7 0l-0.8 0l-0.8 0l-0.6 0.7l-0.1 0.1l-0.1 0.3l-0.1 0.5l0 0.8l0.1 0.6l0.1 0.2l0.7 0.8l0.1 0l0.7 0.3l0.8 0.2l0.7 0.1l0.8 0.1l0.2 0.1l0.6 0.4l0.2 0.4l0.2 0.8l0.1 0.8l0 0.8l-0.1 0.8l-0.2 0.8l-0.2 0.3l-0.4 0.5l-0.4 0.3l-0.7 0.5l-0.1 0l-0.7 0.7l0 0.1l-0.2 0.8zM286.9 38.2l0.8 0l0.5 0l-0.5-0.3l-0.8-0.3l-0.7-0.1z"/>
<path fill="#fbbe23" stroke="#fbbe23" stroke-width="0.3" d="M346.3 129.8l0.6 0.6l0.2 0l0.8 0l0.8 0l0.7 0l0.1 0l0.7-0.6l0.2-0.2l0.6-0.4l0.8-0.3l0.8 0l0.7 0.2l0.8 0.3l0.5 0.2l0.3 0.2l0.8 0l0.3-0.2l0.5-0.3l0.5-0.5l0.3-0.2l0.4-0.6l0.3-0.7l0.1-0.1l0.2-0.8l0-0.8l0-0.8l-0.2-0.8l-0.1-0.2l-0.1-0.6l0.1-0.4l0.2-0.4l0.6-0.3l0.8-0.2l0.8 0l0.8 0.2l0.6 0.3l0.1 0.2l0.5 0.6l0.2 0.8l-0.1 0.8l-0.2 0.8l-0.1 0.8l0.1 0.8l0.4 0.5l0.8 0.1l0.8-0.1l0.8-0.1l0.7-0.2l0.8-0.2l0.2 0l0.6-0.2l0.8-0.3l0.5-0.3l0.3-0.2l0.4-0.6l0.4-0.7l0-0.1l0.1-0.8l0.1-0.8l-0.1-0.8l-0.1-0.8l0.2-0.8l0.5-0.8l0.8-0.7l0.2 0l0.6-0.3l0.8 0l0.8 0.1l0.2 0.2l0.5 0.2l0.8 0.5l0 0.1l0.8 0.6l0.2 0.1l0.6 0.5l0.4 0.3l0.4 0.4l0.5 0.4l0.3 0.3l0.6 0.5l0.1 0.2l0.8 0.5l0.8 0.1l0.8 0.3l0.6 0.5l0.2 0.2l0.1 0.6l0.2 0.8l0.1 0.8l0.2 0.8l0.1 0.3l0.3 0.5l0.4 0.8l0.1 0.3l0.3 0.5l0.5 0l0.8 0l0.8 0l0.7 0l0.8 0l-0.8-0.8l0-0.8l0.8-0.8l0-0.8l0.8-0.8l-0.3-0.4l-0.4 0.4l-0.1 0.1l-0.5 0.7l-0.3 0.4l-0.4 0.4l-0.3 0.2l-0.8-0.1l-0.1-0.1l-0.4-0.8l0-0.8l0-0.8l0-0.8l-0.1-0.8l-0.2-0.8l0-0.1l-0.3-0.7l-0.5-0.4l-0.8-0.3l-0.4-0.1l-0.3 0l-0.8-0.2l-0.8-0.2l-0.8-0.3l-0.2-0.1l-0.6-0.2l-0.7-0.5l-0.1-0.1l-0.7-0.5l-0.3-0.2l-0.5 0l-0.8 0l-0.8-0.8l-0.8 0l-0.7 0l-0.8 0l-0.8 0l-0.8 0l-0.8 0.8l-0.7 0l-0.8 0l-0.8 0l-0.8 0l-0.8 0l-0.8 0l-0.7 0l-0.8 0l-0.8 0l-0.8 0l-0.8 0l-0.7 0l-0.8 0.7l-0.8 0l-0.8 0l-0.8 0l-0.7 0l-0.8 0.8l-0.8 0l-0.8 0l-0.8 0.8l-0.8 0l-0.3 0.4l0.2 0.4l0.1 0.3l0.4 0.5l0.4 0.5l0.4 0.3l0.4 0.4l0.4 0.4l0.4 0.7l0 0.1l0 0.7l0 0.1l-0.8 0.5l-0.8-0.1l-0.8-0.2l-0.7-0.1l-0.8 0.1l-0.8 0.4l-0.2 0.2l-0.6 0.3l-0.7 0.5l-0.1 0l-0.7 0.3l-0.8 0l-0.8-0.3l-0.1 0l-0.7-0.6l-0.2-0.2l-0.6-0.7l-0.1-0.1l-0.4-0.8l0.3-0.8l0.1-0.1l-0.7-0.7l0.8-0.8l0.8-0.8l0.8-0.8l0.8 0l0.8-0.8l0.7 0l0.8-0.8l0.8-0.7l0.8-0.8l0-0.8l0.8-0.8l0.7-0.8l0.1 0l-0.1 0l-0.7-0.2l-0.5 0.2l-0.3 0.1l-0.8 0.5l-0.3 0.2l-0.5 0.3l-0.8 0.4l-0.1 0.1l-0.6 0.3l-0.5 0.5l-0.3 0.3l-0.4 0.5l-0.4 0.4l-0.3 0.3l-0.5 0.6l-0.3 0.2l-0.5 0.5l-0.4 0.3l-0.4 0.5l-0.3 0.3l-0.4 0.8l-0.8 0.7l-0.8-0.6l0-0.1l-0.4-0.8l-0.4-0.6l-0.1-0.2l-0.4-0.8l-0.3-0.3l-0.5-0.5l-0.2-0.1l-0.8-0.2l-0.8 0.3l-0.1 0l-0.7 0.4l-0.8 0.4l-0.7 0.4l-0.8 0.3l-0.8 0.1l-0.8-0.2l-0.8-0.3l-0.3-0.3l-0.5-0.4l-0.3-0.4l-0.4-0.6l-0.1-0.1l-0.5-0.8l-0.2-0.3l-0.6-0.5l-0.2-0.2l-0.8-0.6l-0.6-0.8l-0.2-0.6l0-0.2l-0.1-0.8l0.1-0.8l0-0.2l0.2-0.6l0.2-0.8l0.1-0.8l0-0.8l0-0.8l-0.1-0.8l-0.3-0.8l-0.1 0l-0.7-0.6l-0.3-0.2l-0.5-0.2l-0.8-0.3l-0.8-0.2l-0.4-0.1l-0.4-0.1l-0.8-0.2l-0.7-0.1l-0.5 0.4l-0.3 0.5l0 0.3l0 0.8l0.8 0.8l0 0.8l-0.8 0.8l0 0.8l0 0.8l0 0.8l-0.8 0.8l-0.6 0.6l0 0.2l-0.2 0.5l0 0.3l0 0.8l0.8 0.8l0.8 0.8l0 0.8l0 0.8l0 0.7l0.1 0.2l0.1-0.2l0.5-0.7l0.1-0.6l0-0.2l0-0.5l-0.1-0.3l-0.2-0.8l-0.1-0.8l-0.1-0.8l-0.1-0.8l0-0.8l0.1-0.8l0-0.8l0.2-0.8l0.1-0.8l0.2-0.6l0-0.2l0.5-0.8l0.2-0.2l0.8-0.4l0.8 0.1l0.8 0.5l0.5 0.8l0.2 0.8l0 0.8l0 0.8l-0.1 0.8l-0.1 0.8l0 0.8l-0.1 0.8l-0.1 0.8l0.1 0.8l0.3 0.8l0.1 0.1l0.5 0.7l0.3 0.2l0.6 0.6l0.1 0.1l0.6 0.6l0.2 0.4l0.3 0.4l0.5 0.7l0.2 0.1l0.6 0.5l0.8 0.3l0.7 0.4l0.8 0.4l0.1 0l0.7 0.4l0.8 0.2l0.8 0l0.8-0.2l0.7-0.1l0.8 0l0.8 0.3l0.3 0.2l0.5 0.4l0.4 0.4l0.4 0.4l0.4 0.4l0.3 0.3l0.7 0.5l0.1 0.1l0.8 0.4l0.5 0.3l0.3 0.1l0.8 0.5l0.2 0.2l0.5 0.4l0.6 0.4l0.2 0.2l0.7 0.6zM462.8 130.4l0.7 0l0.4 0l-0.4-0.3l-0.7-0.3l-0.6 0zM473.7 130.4l0.8 0l0.8 0l0.4-0.8l0.2-0.8l0.1-0.8l0.3-0.8l0.5-0.7l0.1-0.1l0.7-0.4l0.8-0.3l0.3-0.1l0.5-0.1l0.7-0.2l0-0.5l0-0.8l0-0.3l-0.7 0.2l-0.6 0.1l-0.2 0.1l-0.8 0.2l-0.8 0.2l-0.8 0.2l-0.2 0.1l-0.5 0.4l-0.4 0.4l-0.4 0.7l-0.1 0.1l-0.2 0.8l-0.1 0.8l-0.2 0.8l-0.2 0.4l-0.2 0.4l-0.4 0.8zM429.9 128.8l0.8 0l0.2 0l-0.2-0.4l-0.1-0.4l-0.3-0.8l-0.2-0.8l-0.1-0.8l-0.1-0.2l0-0.6l-0.1-0.8l-0.7 0l-0.7 0l-0.8-0.8l-0.8 0l-0.8 0.8l-0.6 0.7l0.6 0l0.4 0.1l0.4 0.1l0.8 0.5l0.1 0.2l0.7 0.8l0.4 0.8l0.3 0.7l0.1 0.1l0.3 0.8zM346.3 124.6l0.8-0.2l0.8-0.3l0.2-0.1l0.6-0.3l0.7-0.5l-0.7 0l-0.8 0l-0.8 0.8l-0.8 0l-0.7 0.8zM422.1 124.3l0.4 0.1l0.4-0.4l0.8-0.8l0.8-0.8l0.7-0.8l0-0.8l0.8-0.8l0.8-0.7l0.1-0.1l-0.1-0.1l-0.8-0.6l-0.8-0.3l-0.7 0.2l-0.1 0.1l-0.7 0.8l0 0.1l-0.4 0.6l-0.4 0.7l-0.8-0.2l-0.1-0.5l-0.1-0.7l0.1-0.8l0-0.8l-0.1-0.8l-0.2-0.8l-0.2-0.8l-0.1-0.8l0.4-0.8l0.3-0.2l0.8-0.2l0.8-0.2l0.6-0.2l0.2-0.1l0.7-0.6l0.2-0.1l0.2-0.8l0.1-0.8l0.3-0.8l0-0.1l0.4-0.7l0.4-0.6l0.1-0.2l0.7-0.8l0.4-0.8l0.3-0.8l0.1-0.5l0-0.3l0.1-0.8l0-0.7l0.1-0.8l0.2-0.8l0.3-0.7l0.1-0.1l0.5-0.8l0.2-0.4l0.3-0.4l0.3-0.8l0.1-0.8l0.1-0.7l0-0.1l0.2-0.8l0.3-0.8l0.3-0.7l0-0.1l0.3-0.8l0.2-0.8l0-0.8l-0.1-0.8l-0.3-0.8l-0.1-0.2l-0.8-0.5l-0.8 0.1l-0.8 0.2l-0.7 0.3l-0.2 0.1l-0.6 0.5l-0.3 0.3l-0.5 0.4l-0.8 0.3l-0.8-0.4l-0.2-0.3l-0.3-0.8l-0.1-0.8l-0.1-0.2l-0.4-0.6l-0.4-0.2l-0.8-0.1l-0.8 0l-0.8 0.1l-0.6 0.2l-0.1 0.1l-0.8 0.4l-0.5 0.3l-0.3 0.2l-0.8 0.6l0 0.1l-0.8 0.6l-0.1 0.1l-0.7 0.5l-0.4 0.3l-0.3 0.3l-0.8 0.4l-0.5 0.1l-0.3 0.1l-0.3-0.1l-0.5-0.1l-0.8-0.2l-0.7-0.2l-0.8-0.1l-0.8 0.1l-0.8 0.3l-0.4 0.2l-0.4 0.4l-0.3 0.4l-0.3 0.8l-0.1 0.8l0.2 0.8l0.4 0.8l0.1 0.2l0.5 0.6l0.3 0.4l0.4 0.4l0.4 0.4l0.4 0.4l0.4 0.3l0.7 0.5l0.1 0l0.7 0.4l0.6 0.4l0.2 0.1l0.7 0.7l0.1 0.1l0.3 0.7l-0.2 0.8l-0.1 0l-0.8 0.2l-0.8 0l-0.7-0.2l-0.3 0l-0.5-0.2l-0.8 0l-0.4 0.2l-0.4 0.3l-0.2 0.4l0 0.8l0.2 0.8l0.8 0.8l0 0.8l0 0.8l-0.2 0.2l0 0.6l-0.3 0.8l-0.3 0.4l-0.3 0.4l-0.5 0.5l-0.2 0.3l-0.6 0.6l-0.1 0.2l-0.6 0.8l0.7 0l0.8 0l0.8-0.8l0.8-0.8l0.8-0.8l0.8 0.8l0.7 0.8l0.8 0.8l0 0.8l0.8 0.8l0.8 0.8l0.8 0.8l0.7 0.8l0 0.8l-0.7 0.8l0 0.8l0.7 0.7l0.8 0.8l0.8 0.8l0.8 0.8l0.4 0.4l0.4 0.2l0.3 0.2l0.5 0.3l0.7 0.4l0.2 0.1zM418 118.5l0.2-0.6l0.3 0.6l-0.3 0.5zM415 113.7l-0.3-0.8l0-0.8l0.4-0.3l0.6 0.3l0.2 0.2l0.1 0.6l-0.1 0.6l-0.3 0.2l-0.5 0.1zM422 108.9l-0.7-0.3l-0.3-0.5l0.3-0.4l0.3-0.4l0.5-0.2l0.8-0.4l0.8 0.2l0.1 0.4l-0.1 0.2l-0.4 0.6l-0.4 0.5l-0.7 0.3l-0.1 0zM418.2 101l-0.8-0.5l-0.4-0.3l-0.4-0.5l-0.3-0.3l-0.4-0.8l0.2-0.8l0.5-0.5l0.4-0.3l0.4-0.6l0.1-0.2l0.3-0.8l0.2-0.8l0.2-0.6l0.1-0.2l0.4-0.8l0.3-0.4l0.4-0.4l0.4-0.3l0.7-0.5l0.1 0l0.7-0.1l0.2 0.1l0.6 0.3l0.5 0.5l0.3 0.4l0.4 0.4l0.4 0.4l0.4 0.4l0.4 0.4l0.6 0.4l0.1 0.2l0.8 0.5l0.2 0.1l0.6 0.6l0.2 0.2l0.3 0.8l-0.1 0.8l-0.4 0.8l-0.8 0.6l-0.2 0.2l-0.6 0.4l-0.4 0.4l-0.3 0.3l-0.8 0.5l-0.8 0.3l-0.8 0.1l-0.8 0l-0.7 0l-0.8-0.1l-0.8-0.1zM400.9 121l0.1-0.2l0-0.8l0.8-0.7l0.8 0l0.3-0.4l0.1-0.4l-0.1-0.8l-0.3-0.8l-0.5-0.8l-0.3-0.6l-0.1-0.2l-0.2-0.8l0-0.8l0.2-0.8l0.1-0.4l0.1-0.4l0.2-0.8l0.1-0.8l0.1-0.8l0-0.8l-0.1-0.8l-0.1-0.8l-0.3-0.8l-0.7-0.8l-0.1 0l-0.8-0.6l-0.2-0.2l-0.5-0.4l-0.7-0.4l-0.1 0l-0.8-0.2l-0.6 0.2l-0.2 0.1l-0.7 0.7l-0.1 0.1l-0.2 0.7l-0.1 0.8l0.1 0.8l0.2 0.8l0 0.2l0.2 0.6l0.1 0.8l0 0.8l0 0.3l0.5 0.5l0.8 0.8l0.8 0l0.8 0.8l0.7 0.8l-0.7 0.8l-0.8 0l-0.8 0l-0.8 0l-0.8 0.8l-0.8 0l-0.4 0l0.4 0.8l0 0.1l0.5 0.7l0.3 0.3l0.8 0.3l0.3 0.2l0.5 0.2l0.6 0.6l0.2 0.1l0.4 0.7l0.4 0.4l0.2 0.3l0.5 0.6l0.4 0.2zM272.8 120.8l0.7-0.6l-0.5-0.2l-0.2 0l-0.7-0.5l-0.5-0.2l-0.3-0.2l-0.2 0l0.2 0.2l0.8 0.7zM273.9 119.8l0.5-0.5l0.8-0.8l-0.8-0.8l-0.8-0.8l0-0.1l0 0.1l0 0.2l0.1 0.6l0.1 0.8l0.1 0.8zM406.8 115l0.5-0.5l-0.5-0.5l-0.1 0.5zM383.5 114l0.3-0.3l0-0.8l0-0.2l-0.1 0.2l-0.2 0.8zM322.1 104.9l0.8-0.3l0.2-0.5l0.5-0.7l0.1 0l0.6-0.8l0.1-0.2l0.5-0.6l0.3-0.4l0.4-0.4l0.4-0.7l0.1-0.1l0.3-0.8l0.1-0.8l-0.3-0.8l-0.2 0l-0.8 0.8l-0.8 0.8l-0.8 0l-0.7 0.8l-0.8 0.8l-0.8 0.8l0 0.8l0 0.8l0 0.7zM437 93.4l0.7 0.2l0.8 0.1l0.8-0.2l0.8-0.4l0.1-0.1l0.5-0.8l0.2-0.6l0-0.2l0.3-0.8l0.3-0.8l0.2-0.2l0.4-0.6l0.3-0.2l0.8-0.5l0-0.1l0.8-0.5l0.3-0.3l0.5-0.4l0.2-0.3l0.6-0.8l0.5-0.8l0.2-0.4l0.2-0.4l0.3-0.8l0.1-0.8l0-0.8l-0.2-0.8l-0.4-0.7l0-0.1l-0.6-0.8l-0.1-0.2l-0.8-0.6l-0.8-0.4l-0.8-0.1l-0.8 0l-0.7 0.1l-0.8 0.3l-0.2 0.1l-0.6 0.5l-0.4 0.3l-0.4 0.7l-0.1 0.1l-0.4 0.8l-0.1 0.8l-0.1 0.8l0 0.8l0.1 0.8l0 0.8l-0.2 0.7l0 0.1l-0.5 0.8l-0.3 0.3l-0.2 0.4l-0.5 0.8l-0.5 0.8l-0.3 0.8l0 0.3l-0.1 0.5l0 0.8l0.1 0.7l0 0.1l0.3 0.8zM441.7 84.3l0-0.1l-0.3-0.7l-0.2-0.8l0-0.8l0.2-0.8l0.3-0.4l0.5-0.4l0.2-0.1l0.8 0l0.1 0.1l0.7 0.5l0.3 0.3l0.5 0.8l0.2 0.8l-0.1 0.8l-0.1 0.2l-0.4 0.6l-0.4 0.3l-0.8 0.4l-0.8-0.1zM431.5 88l0.8-0.2l0.3-0.4l0.5-0.4l0.2-0.3l0.5-0.6l0.2-0.2l0.6-0.5l0.4-0.3l0.4-0.4l0.6-0.4l0.2-0.4l0.3-0.4l0.2-0.8l-0.3-0.8l-0.2-0.3l-0.4-0.5l-0.4-0.3l-0.8-0.4l-0.3-0.1l-0.5-0.1l-0.7 0.1l-0.1 0l-0.7 0.5l-0.2 0.3l-0.4 0.8l-0.2 0.3l-0.2 0.5l-0.3 0.8l-0.3 0.5l-0.1 0.3l-0.3 0.8l-0.1 0.8l0.2 0.8l0.3 0.5l0.2 0.2zM321.3 77.1l0.8 0l0.8 0l0.7-0.8l0.8 0l0.8 0l0.8 0l0.8-0.8l0.8 0l0.7 0l0.8 0l0.8-0.8l0.8 0l0.8 0l0.7-0.8l0.6-0.5l0-0.3l0.2-0.2l0.5-0.6l0.3-0.2l0.5-0.2l0.3-0.3l0-0.8l0.8-0.8l0.6 0.6l0.2-0.2l0.3-0.4l0.3-0.8l-0.2-0.8l-0.1-0.4l-0.3 0.4l-0.8 0.8l-0.8-0.8l0-0.8l0.5-0.6l-0.5-0.2l-0.8-0.5l-0.5-0.3l0-0.8l0.5-0.2l0.8-0.2l0.8-0.4l0.8-0.6l0.1-0.2l0.3-0.8l0-0.8l0-0.8l0-0.8l0.1-0.8l0.2-0.3l0.4-0.5l0.4-0.4l0.6-0.4l0.2-0.1l0.8-0.4l0.6-0.3l0.2-0.1l0.7-0.3l0.3 0.4l0.5 0.7l0.1 0.1l0.4 0.8l0.3 0.8l0.4 0.8l0.4 0.5l0.8 0.2l0.7-0.3l0.5-0.4l0.3-0.2l0.5-0.6l0.3-0.3l0-0.5l0-0.8l0.8-0.8l0.1 0l-0.1-0.4l-0.1-0.4l-0.4-0.8l-0.3-0.4l-0.3-0.3l-0.5-0.4l-0.8-0.2l-0.7 0.1l-0.8 0.3l-0.3 0.2l-0.5 0.3l-0.8 0.4l-0.8 0l-0.7-0.7l0-0.1l-0.7-0.7l-0.1-0.2l-0.7-0.6l-0.1-0.2l-0.6-0.6l-0.2-0.2l-0.4-0.6l-0.4-0.6l-0.1-0.2l-0.2-0.8l-0.4 0l-0.8 0.8l-0.8 0.8l-0.8 0.8l-0.8 0l-0.8-0.8l-0.7-0.8l-0.8 0.8l-0.8 0.8l-0.8 0.8l-0.8 0.8l-0.7 0.8l0.7 0.7l0.8 0.8l0.4 0.4l0.2-0.4l0.2-0.2l0.8-0.5l0-0.1l0.8-0.3l0.6-0.4l0.1-0.2l0.5-0.6l0.3-0.4l0.4-0.4l0.4-0.3l0.8-0.2l0.8 0.4l0.1 0.1l0.7 0.7l0 0.1l0.3 0.8l-0.2 0.7l-0.1 0.3l-0.5 0.5l-0.3 0.4l-0.3 0.4l-0.3 0.8l-0.2 0.7l0 0.1l-0.2 0.8l-0.2 0.8l-0.3 0.8l-0.1 0.2l-0.8 0.6l-0.1 0l-0.7 0.1l-0.7 0l-0.3-0.1l-0.5-0.2l-0.6-0.6l-0.2-0.4l-0.1-0.4l-0.7 0l-0.8 0l-0.7 0.8l-0.8 0l-0.3 0l0 0.8l-0.3 0.8l-0.2 0.4l-0.3 0.4l-0.5 0.5l-0.3 0.3l-0.5 0.4l-0.4 0.4l-0.4 0.3l-0.6 0.5l-0.1 0.1l-0.8 0.4l-0.8 0.2l-0.8-0.1l-0.8-0.6l-0.1-0.7l-0.6 0.7l-0.8 0.8l0.8 0.8l0 0.8l0 0.4l0.7 0.3l0.3 0.1l0.5 0.1l0.8-0.1l0.1 0l0.7-0.2l0.8-0.3l0.5-0.3l0.2-0.2l0.8-0.5l0.3-0.1l0.5-0.3l0.8-0.4l0.7-0.1l0.1 0l0.8 0l0.7 0.2l0.8 0.3l0.8 0.3l0.8 0.5l0.4 0.3l0.3 0.8l-0.7 0.2l-0.8 0.1l-0.8 0.2l-0.6 0.3l-0.2 0l-0.7 0.5l-0.5 0.3l-0.3 0.2l-0.8 0.5l0 0.1l-0.8 0.4l-0.8 0.3l-0.6 0l-0.2 0.1l-0.3-0.1l-0.4 0l-0.8-0.2l-0.8-0.2l-0.8-0.2l-0.8 0l0 0.6l-0.7 0.8l0 0.8l0 0.8l0.7 0.8l0.8 0.8zM472.1 58.4l0.8-0.1l0.5-0.3l0.3-0.3l0.2-0.5l-0.2-0.2l-0.8 0l-0.6 0.2l-0.2 0.2l-0.7 0.6zM329.1 43.7l0.8 0l0.8 0l0.8-0.8l0.7-0.8l0.8-0.8l-0.8-0.8l-0.7-0.7l-0.8-0.8l-0.8 0l-0.8 0l-0.8 0.8l-0.4 0.4l0.4-0.2l0.7 0.5l-0.7 0.7l-0.7-0.2l-0.2-0.3l-0.6 0.6l0.8 0.8l0.7 0.8zM290.8 39l0.8 0l0.8 0l0.6 0l0.2-0.8l0-0.1l0.7-0.7l0.1 0l0.7-0.5l0.4-0.3l0.4-0.5l0.2-0.3l0.2-0.8l0.1-0.8l0-0.8l-0.1-0.8l-0.2-0.8l-0.2-0.4l-0.6-0.4l-0.2-0.1l-0.8-0.1l-0.7-0.1l-0.8-0.2l-0.7-0.3l-0.1 0l-0.7-0.8l-0.1-0.2l-0.1-0.6l0-0.8l0.1-0.5l0.1-0.3l0.1-0.1l-0.2 0.1l-0.8 0l-0.7 0l-0.8 0.8l-0.4 0l-0.4 0.6l-0.2 0.2l-0.6 0.7l-0.1 0.1l-0.5 0.8l-0.2 0.3l-0.2 0.5l-0.3 0.8l-0.2 0.4l-0.3 0.4l-0.5 0.5l-0.3 0.3l-0.5 0.4l-0.3 0.4l-0.5 0.8l-0.2 0.8l-0.2 0.8l-0.2 0.8l0.6 0l0.8 0l0.8 0l0.8 0l0.7 0l0.1 0.1l0.7 0.1l0.8 0.3l0.5 0.3l0.3 0l0.8 0l0.7 0zM289.7 35.8l-0.4-0.3l-0.5-0.5l0.5-0.7l0.7-0.1l0.8 0.3l0.7 0.5l-0.6 0.8l-0.1 0l-0.8 0.1zM305.7 34.3l0.8 0.1l0.7-0.1l0.2-0.1l0.6-0.4l0.6-0.4l0.2-0.2l0.5-0.6l0.3-0.4l0.4-0.4l0.4-0.3l0.3-0.1l-0.3-0.4l-0.8-0.8l-0.8-0.8l-0.8-0.8l0-0.8l-0.8-0.8l-0.7-0.8l-0.8-0.7l-0.8 0.7l-0.1 0l-0.7 0.3l-0.8 0.1l-0.8-0.3l-0.1-0.1l-0.6-0.4l-0.4-0.4l-0.2-0.2l-0.2 0.2l-0.8 0l-0.8 0l-0.2 0l0.2 0.4l0.3 0.4l0.5 0.8l0.1 0l0.7 0.8l0.1 0l0.7 0.5l0.6 0.3l0.1 0.1l0.8 0.4l0.6 0.3l0.2 0.2l0.6 0.6l0.2 0.8l0 0.8l0 0.2l0 0.6l0.2 0.8l0.4 0.8z"/>
<path fill="#f98c0a" stroke="#f98c0a" stroke-width="0.3" d="M454.2 130.4l0.7 0l0.8 0l0.8-0.8l0.8 0l0.8-0.8l0.7-0.8l0.3-0.3l-0.3 0.1l-0.7 0.2l-0.8 0.3l-0.8 0.4l-0.2 0.1l-0.6 0.3l-0.8 0.4l-0.1 0.1l-0.6 0.3l-0.4 0.1zM462.8 129.8l0.7 0.3l0.4 0.3l0.4 0l0.8 0l0.8 0l0.8 0l0.7 0l0.8 0l0.8 0l0.8 0l0.8 0l0.7 0l0.8 0l0.8 0l0.2 0l0.4-0.8l0.2-0.4l0.2-0.4l0.2-0.8l0.1-0.8l0.2-0.8l0.1-0.1l0.4-0.7l0.4-0.4l0.5-0.4l0.2-0.1l0.8-0.2l0.8-0.2l0.8-0.2l0.2-0.1l0.6-0.1l0.7-0.2l0-0.5l0-0.8l0-0.1l-0.5 0.1l-0.2 0.1l-0.8 0.2l-0.8 0.2l-0.8 0.1l-0.8 0.2l-0.2 0l-0.5 0.2l-0.8 0.3l-0.4 0.3l-0.4 0.4l-0.4 0.4l-0.4 0.7l0 0.1l-0.3 0.8l-0.2 0.8l-0.3 0.7l0 0.1l-0.7 0.8l-0.1 0.1l-0.7 0.4l-0.8 0.2l-0.8 0.1l-0.8 0l-0.8-0.1l-0.7-0.3l-0.8-0.4l-0.1 0l-0.7-0.4l-0.6-0.4l-0.2-0.1l-0.8-0.4l-0.7-0.3l-0.8-0.1l0 0.1l0 0.8l0 0.8l0 0.8l0.2 0.2zM347.1 128l0.8 0.3l0.8 0l0.7-0.3l0.1 0l0.7-0.5l0.6-0.3l0.2-0.2l0.8-0.4l0.8-0.1l0.7 0.1l0.8 0.2l0.8 0.1l0.8-0.5l0-0.1l0-0.7l0-0.1l-0.4-0.7l-0.4-0.4l-0.4-0.4l-0.4-0.3l-0.4-0.5l-0.4-0.5l-0.1-0.3l-0.2-0.4l-0.4 0.4l-0.8 0l-0.8 0l-0.8 0l-0.8 0.8l-0.7 0.5l-0.6 0.3l-0.2 0.1l-0.8 0.3l-0.8 0.2l-0.7 0.2l-0.1 0l-0.1-0.1l-0.1 0.1l-0.3 0.8l0.4 0.8l0.1 0.1l0.6 0.7l0.2 0.2l0.7 0.6zM385.4 128.1l0.8 0.1l0.3-0.2l0.4-0.4l0.3-0.4l0.5-0.7l0.1-0.1l0.4-0.4l-0.5-0.4l-0.8-0.8l0-0.8l0-0.8l0-0.8l0.8-0.8l0.6-0.6l0.1-0.2l0.1 0l-0.8-0.8l-0.8-0.7l-0.7-0.8l-0.8 0l-0.8 0.8l-0.8 0l-0.8-0.8l-0.7-0.8l-0.8 0.8l-0.8 0l-0.8 0l-0.8 0.8l-0.7 0l-0.8 0l-0.3 0l0.3 0.2l0.7 0.5l0.1 0.1l0.7 0.5l0.6 0.2l0.2 0.1l0.8 0.3l0.8 0.2l0.8 0.2l0.3 0l0.4 0.1l0.8 0.3l0.5 0.4l0.3 0.7l0 0.1l0.2 0.8l0.1 0.8l0 0.8l0 0.8l0 0.8l0.4 0.8zM430.7 128.4l0.2 0.4l0.6 0l0.8 0l0.3-0.4l-0.3-0.4l-0.4-0.8l-0.1-0.8l0-0.8l0.1-0.8l0.3-0.8l-0.7 0l-0.8 0l-0.8 0l-0.1 0l0.1 0.8l0 0.6l0.1 0.2l0.1 0.8l0.2 0.8l0.3 0.8zM342.4 123.3l0.8 0.6l0.8-0.7l0.4-0.8l0.3-0.3l0.4-0.5l0.4-0.3l0.5-0.5l0.3-0.2l0.5-0.6l0.3-0.3l0.4-0.4l0.4-0.5l0.3-0.3l0.5-0.5l0.6-0.3l0.1-0.1l0.8-0.4l0.5-0.3l0.3-0.2l0.8-0.5l0.3-0.1l0.5-0.2l0.7 0.2l0.1 0l0.7-0.8l-0.8-0.8l0-0.8l0-0.8l0-0.8l0.8-0.8l0-0.8l0.2-0.2l-0.2-0.4l-0.1-0.2l-0.4-0.8l-0.3-0.4l-0.1-0.4l-0.5-0.8l-0.1-0.1l-0.7-0.7l-0.1-0.1l-0.8-0.4l-0.8-0.2l-0.8 0.4l-0.2 0.3l-0.2 0.8l0.1 0.8l0.2 0.8l0.1 0.3l0.3 0.5l0.4 0.8l0.1 0.3l0.2 0.5l-0.2 0.8l-0.8 0.7l-0.1 0.1l-0.6 0.3l-0.8 0.2l-0.8 0.1l-0.8 0.2l-0.8 0.2l-0.8 0.3l-0.6 0.3l-0.1 0l-0.8 0.4l-0.8 0.3l-0.8 0l-0.8-0.2l-0.7-0.2l-0.8-0.1l-0.8 0.1l-0.8 0.3l-0.2 0.2l-0.6 0.4l-0.7 0.4l-0.8 0.3l-0.6-0.3l-0.2-0.1l-0.7-0.7l-0.1-0.1l-0.6-0.7l-0.2-0.2l-0.4-0.6l-0.4-0.7l0-0.1l-0.3-0.8l-0.2-0.8l-0.2-0.8l0-0.1l-0.1-0.7l0-0.8l0.1-0.2l0.1-0.6l0.5-0.8l0.1-0.2l0.5-0.6l0.3-0.4l0.3-0.4l0.4-0.8l0.1-0.7l0-0.1l0-0.2l-0.1-0.5l-0.3-0.8l-0.4-0.6l-0.5-0.2l-0.3-0.4l-0.7-0.1l-0.2 0.5l-0.6 0.6l-0.1 0.2l-0.7 0.6l-0.1 0.2l-0.7 0.5l-0.3 0.2l-0.5 0.4l-0.7 0.3l-0.8 0l-0.8-0.6l0-0.1l0-0.2l0.1-0.5l0.5-0.8l0.2-0.2l0.6-0.6l0.2-0.2l0.7-0.5l0.5-0.1l0.3-0.1l0.8-0.1l0.8 0l0.8 0.1l0.4-0.7l0.3-0.5l0.1-0.3l0.3-0.8l0.3-0.8l-0.7 0l-0.7 0l-0.8 0l-0.8 0l-0.8 0l-0.8 0l-0.7 0l-0.8 0l-0.6 0l0.3 0.8l-0.1 0.8l-0.3 0.8l-0.1 0.1l-0.4 0.7l-0.4 0.4l-0.3 0.4l-0.5 0.6l-0.1 0.2l-0.6 0.8l-0.1 0l-0.5 0.7l-0.2 0.5l-0.8 0.3l-0.8-0.8l0.8 0.8l0 0.8l0 0.8l0 0.5l0.3-0.5l0.5-0.4l0.7 0.1l0.8 0.2l0.4 0.1l0.4 0.1l0.8 0.2l0.8 0.3l0.5 0.2l0.3 0.2l0.7 0.6l0.1 0l0.3 0.8l0.1 0.8l0 0.8l0 0.8l-0.1 0.8l-0.2 0.8l-0.2 0.6l0 0.2l-0.1 0.8l0.1 0.8l0 0.2l0.2 0.6l0.6 0.8l0.8 0.6l0.2 0.2l0.6 0.5l0.2 0.3l0.5 0.7l0.1 0.2l0.4 0.6l0.3 0.4l0.5 0.4l0.3 0.3l0.8 0.3l0.8 0.2l0.8-0.1l0.8-0.3l0.7-0.4l0.8-0.4l0.7-0.4l0.1 0l0.8-0.3l0.8 0.2l0.2 0.1l0.5 0.5l0.3 0.3l0.4 0.8l0.1 0.2l0.4 0.6l0.4 0.8zM397.9 122.9l0.1 0.3l0.7 0l0.8-0.8l0.7-0.8l0.7-0.6l-0.3-0.2l-0.4-0.2l-0.5-0.6l-0.2-0.3l-0.4-0.4l-0.4-0.7l-0.2-0.1l-0.6-0.6l-0.5-0.2l-0.3-0.2l-0.8-0.3l-0.3-0.3l-0.5-0.7l0-0.1l-0.4-0.8l-0.3 0l-0.8 0l-0.8 0l-0.8 0l-0.8 0l-0.7 0.8l-0.8 0.8l-0.8 0.8l0 0.8l0.6 0.6l0.2-0.3l0.4-0.3l0.4-0.6l0.7 0.2l0.1 0.4l0.2 0.8l0.3 0.7l0.2 0.4l0.3 0.4l0.5 0.5l0.8 0.2l0.8 0l0.7 0l0.7 0.1l0.1 0.1l0.8 0.3l0.5 0.4zM273.5 120.2l0.1-0.2l0.3-0.2l0-0.5l-0.1-0.8l-0.1-0.8l-0.1-0.6l0-0.2l0-0.1l-0.8-0.7l-0.7 0.8l-0.8 0.8l-0.8 0.8l0.6 0.6l0.2 0l0.3 0.2l0.5 0.2l0.7 0.5l0.2 0zM422.1 120.5l0.8 0.2l0.4-0.7l0.4-0.6l0-0.1l0.7-0.8l0.1-0.1l0.7-0.2l0.8 0.3l0.8 0.6l0.1 0.1l0.7-0.7l0.8-0.8l0-0.8l-0.8-0.8l-0.8-0.8l-0.8-0.8l0.8-0.8l-0.8-0.8l0.8-0.8l0.8-0.8l0.8-0.8l0.7 0l0.8 0l0.8 0l0.2 0l0.5-0.8l0.1-0.1l0.4-0.7l-0.1-0.8l-0.3-0.6l-0.1-0.2l-0.4-0.8l-0.2-0.8l-0.1-0.4l0-0.4l0-0.2l0.1-0.6l0.4-0.7l0.3-0.5l0.5-0.3l0.3-0.2l0.8-0.3l0.7-0.2l0.3-0.1l0.5-0.3l0.7-0.5l0.1-0.1l0.7-0.7l0.1-0.2l0.5-0.6l0.3-0.5l0.3-0.3l0.4-0.7l0.2-0.1l0.6-0.5l0.8-0.3l0.3 0l0.5 0l0.8-0.1l0.8-0.6l0-0.1l0.7-0.8l0.7-0.8l0.1-0.1l0.8-0.6l0.2-0.1l0.6-0.2l0.8-0.2l0.7 0.1l0.8 0.2l0.2 0.1l0.6 0.3l0.8 0l0.5-0.3l0.3-0.1l0.7-0.7l0.1 0l0.7-0.6l0.3-0.2l0.5-0.4l0.8-0.3l0.8 0l0.8 0.2l0.7 0.3l0.8-0.6l-0.5-0.8l-0.3-0.3l-0.7-0.3l-0.5-0.2l-0.3 0l-0.8-0.2l-0.8-0.2l-0.8 0l-0.8 0l-0.7 0l-0.8 0l-0.8-0.2l-0.2-0.2l-0.6-0.7l0-0.1l-0.1-0.8l0.1-0.7l0-0.2l0.2-0.6l0.3-0.8l0.3-0.6l0.1-0.2l0.3-0.8l0.3-0.8l0.1-0.6l0.1-0.2l-0.1-0.8l0-0.1l-0.3-0.7l-0.5-0.8l0-0.1l-0.5-0.7l-0.3-0.3l-0.5-0.5l-0.3-0.2l-0.7-0.5l-0.4-0.1l-0.4-0.1l-0.8-0.1l-0.8-0.1l-0.8 0l-0.7 0l-0.8 0.1l-0.8 0.2l-0.8 0.3l-0.8 0.2l-0.8 0.2l-0.7 0.1l-0.8 0l-0.8 0l-0.8 0l-0.4 0l-0.4 0l-0.7 0.2l-0.8 0.2l-0.8 0.4l-0.8 0.7l0 0.1l-0.5 0.8l-0.3 0.8l-0.4 0.8l-0.4 0.5l-0.2 0.3l-0.5 0.4l-0.5 0.4l-0.3 0.3l-0.7 0.5l-0.1 0l-0.8 0.6l-0.3 0.2l-0.5 0.2l-0.7 0.3l-0.8 0.1l-0.8 0l-0.8-0.1l-0.8-0.1l-0.7 0.2l-0.2 0.2l-0.6 0.5l-0.2 0.3l-0.6 0.6l-0.1 0.2l-0.7 0.5l-0.2 0.2l-0.6 0.4l-0.8 0.4l-0.7 0.3l-0.8 0.2l-0.8 0.1l-0.6 0.2l-0.2 0.1l-0.8 0.3l-0.7 0.2l-0.8 0.2l-0.1 0l-0.7 0.2l-0.8 0.2l-0.8 0.2l-0.6 0.2l-0.2 0.1l-0.7 0.3l-0.8 0.2l-0.7 0.2l-0.1 0.1l-0.8 0.2l-0.8 0.2l-0.7 0.2l-0.3 0.1l-0.5 0.2l-0.8 0.1l-0.8 0l-0.8-0.2l-0.2-0.1l-0.5-0.2l-0.8-0.2l-0.8 0l-0.8 0.1l-0.8 0.3l-0.1 0l-0.7 0.5l-0.3 0.3l-0.4 0.5l-0.3 0.3l-0.3 0.8l-0.1 0.8l0.1 0.2l0.6 0.6l0.7 0l0.8 0l0.8 0.8l0.8 0.8l0.8 0.8l0.8 0.8l0.7 0l0.8 0.8l0.8 0.8l0.8 0l0.8 0.8l0.7 0l0.8 0.8l0.8 0l0.8 0l0.8 0.7l0.7 0.8l0.8 0l0.8 0.8l-0.2-0.8l0-0.8l0.2-0.4l0.4-0.3l0.4-0.2l0.8 0l0.5 0.2l0.3 0l0.7 0.2l0.8 0l0.8-0.2l0.1 0l0.2-0.8l-0.3-0.7l-0.1-0.1l-0.7-0.7l-0.2-0.1l-0.6-0.4l-0.7-0.4l-0.1 0l-0.7-0.5l-0.4-0.3l-0.4-0.4l-0.4-0.4l-0.4-0.4l-0.3-0.4l-0.5-0.6l-0.1-0.2l-0.4-0.8l-0.2-0.8l0.1-0.8l0.3-0.8l0.3-0.4l0.4-0.4l0.4-0.2l0.8-0.3l0.8-0.1l0.8 0.1l0.7 0.2l0.8 0.2l0.5 0.1l0.3 0.1l0.3-0.1l0.5-0.1l0.8-0.4l0.3-0.3l0.4-0.3l0.7-0.5l0.1-0.1l0.8-0.6l0-0.1l0.8-0.6l0.3-0.2l0.5-0.3l0.8-0.4l0.1-0.1l0.6-0.2l0.8-0.1l0.8 0l0.8 0.1l0.4 0.2l0.4 0.6l0.1 0.2l0.1 0.8l0.3 0.8l0.2 0.3l0.8 0.4l0.8-0.3l0.5-0.4l0.3-0.3l0.6-0.5l0.2-0.1l0.7-0.3l0.8-0.2l0.8-0.1l0.8 0.5l0.1 0.2l0.3 0.8l0.1 0.8l0 0.8l-0.2 0.8l-0.3 0.8l0 0.1l-0.3 0.7l-0.3 0.8l-0.2 0.8l0 0.1l-0.1 0.7l-0.1 0.8l-0.3 0.8l-0.3 0.4l-0.2 0.4l-0.5 0.8l-0.1 0.1l-0.3 0.7l-0.2 0.8l-0.1 0.8l0 0.7l-0.1 0.8l0 0.3l-0.1 0.5l-0.3 0.8l-0.4 0.8l-0.7 0.8l-0.1 0.2l-0.4 0.6l-0.4 0.7l0 0.1l-0.3 0.8l-0.1 0.8l-0.2 0.8l-0.2 0.1l-0.7 0.6l-0.2 0.1l-0.6 0.2l-0.8 0.2l-0.8 0.2l-0.3 0.2l-0.4 0.8l0.1 0.8l0.2 0.8l0.2 0.8l0.1 0.8l0 0.8l-0.1 0.8l0.1 0.7zM436.5 93l-0.3-0.8l0-0.1l-0.1-0.7l0-0.8l0.1-0.5l0-0.3l0.3-0.8l0.5-0.8l0.5-0.8l0.2-0.4l0.3-0.3l0.5-0.8l0-0.1l0.2-0.7l0-0.8l-0.1-0.8l0-0.8l0.1-0.8l0.1-0.8l0.4-0.8l0.1-0.1l0.4-0.7l0.4-0.3l0.6-0.5l0.2-0.1l0.8-0.3l0.7-0.1l0.8 0l0.8 0.1l0.8 0.4l0.8 0.6l0.1 0.2l0.6 0.8l0 0.1l0.4 0.7l0.2 0.8l0 0.8l-0.1 0.8l-0.3 0.8l-0.2 0.4l-0.2 0.4l-0.5 0.8l-0.6 0.8l-0.2 0.3l-0.5 0.4l-0.3 0.3l-0.8 0.5l0 0.1l-0.8 0.5l-0.3 0.2l-0.4 0.6l-0.2 0.2l-0.3 0.8l-0.3 0.8l0 0.2l-0.2 0.6l-0.5 0.8l-0.1 0.1l-0.8 0.4l-0.8 0.2l-0.8-0.1l-0.7-0.2zM430.9 87.4l-0.2-0.2l-0.3-0.5l-0.2-0.8l0.1-0.8l0.3-0.8l0.1-0.3l0.3-0.5l0.3-0.8l0.2-0.5l0.2-0.3l0.4-0.8l0.2-0.3l0.7-0.5l0.1 0l0.7-0.1l0.5 0.1l0.3 0.1l0.8 0.4l0.4 0.3l0.4 0.5l0.2 0.3l0.3 0.8l-0.2 0.8l-0.3 0.4l-0.2 0.4l-0.6 0.4l-0.4 0.4l-0.4 0.3l-0.6 0.5l-0.2 0.2l-0.5 0.6l-0.2 0.3l-0.5 0.4l-0.3 0.4l-0.8 0.2zM402.9 118.9l0.5-0.4l0.7-0.8l0.8-0.8l0.8-0.8l0.8-0.8l0.3-0.3l-0.1-0.5l0.1-0.5l-0.3-0.3l0.8-0.8l0.6-0.8l0.1-0.2l0.6-0.6l0.2-0.3l0.5-0.5l0.3-0.4l0.3-0.4l0.3-0.8l0-0.6l-0.6 0.6l-0.8-0.8l-0.8 0l-0.7-0.8l-0.8-0.8l-0.8 0l-0.8-0.8l-0.8-0.8l-0.7 0l-0.8-0.8l-0.8-0.7l-0.8 0.7l-0.8 0l-0.7-0.7l-0.8-0.8l-0.8 0l-0.8-0.8l0-0.8l-0.8-0.8l-0.4-0.5l0 0.5l-0.4 0.7l0 0.1l-0.7 0.8l-0.7 0.8l-0.1 0.2l-0.3 0.6l-0.2 0.7l0.1 0.8l0.1 0.8l0.3 0.8l0.2 0.8l0.3 0.8l0.1 0.8l-0.1 0.8l0.3 0l0.7 0.8l0.8 0l0.3 0.3l0-0.3l0-0.8l-0.1-0.8l-0.2-0.6l0-0.2l-0.2-0.8l-0.1-0.8l0.1-0.8l0.2-0.7l0.1-0.1l0.7-0.7l0.2-0.1l0.6-0.2l0.8 0.2l0.1 0l0.7 0.4l0.5 0.4l0.2 0.2l0.8 0.6l0.1 0l0.7 0.8l0.3 0.8l0.1 0.8l0.1 0.8l0 0.8l-0.1 0.8l-0.1 0.8l-0.2 0.8l-0.1 0.4l-0.1 0.4l-0.2 0.8l0 0.8l0.2 0.8l0.1 0.2l0.3 0.6l0.5 0.8l0.3 0.8l0.1 0.8zM404.9 110.5l0-0.8l0-0.2l0.4-0.6l0.4-0.3l0.8 0.2l0 0.1l0 0.2l-0.2 0.6l-0.5 0.8l-0.1 0.1l-0.8-0.1zM380.7 116.1l0.8 0l0.8-0.8l0.7-0.8l0.5-0.5l0-0.3l0.2-0.8l0.1-0.2l0-0.6l0-0.8l0.8-0.8l0-0.8l-0.8-0.8l0-0.8l-0.8-0.8l-0.7-0.8l0.7-0.8l0-0.8l0-0.8l0-0.7l0.8-0.8l0.8 0.8l0.8 0.7l0.8 0.8l0.7 0.8l0.8 0.8l0.8 0l0.7 0.8l0.1-0.1l0.3-0.7l0.4-0.8l0.1-0.2l0.3-0.6l0.5-0.6l0.1-0.2l0.6-0.7l0-0.1l0.5-0.7l0.1-0.8l-0.1-0.8l-0.5-0.8l-0.7-0.8l-0.8-0.7l-0.2-0.1l-0.6-0.5l-0.4-0.3l-0.4-0.3l-0.8-0.4l-0.6-0.1l-0.2 0l-0.3 0l-0.4 0.1l-0.8 0.5l-0.2 0.2l-0.3 0.8l-0.2 0.8l-0.1 0.6l0 0.2l-0.3 0.8l-0.5 0.5l-0.1 0.1l0.1 0.2l-0.8 0.8l-0.4-0.5l-0.3 0.2l-0.4 0.3l-0.4 0.3l-0.3 0.5l-0.2 0.7l0 0.8l0.3 0.8l0.2 0.3l0.4 0.5l0.4 0.5l0.3 0.3l0.4 0.5l0.3 0.3l0.2 0.8l-0.2 0.8l-0.3 0.4l-0.2 0.4l-0.5 0.8l-0.1 0l-0.7 0.8l-0.8 0.8l-0.8 0.8l0 0.1l-0.2 0.7l0.2 0.5l0.1 0.3l0.5 0.8zM320.7 114.5l0-0.2l-0.2 0.2l0 0.5zM360.4 115.3l0.8 0l0.7 0l0.8-0.8l0.8-0.8l0.8-0.8l0-0.8l-0.8-0.8l-0.8-0.8l-0.8-0.8l-0.7 0l-0.8 0.8l-0.8 0.8l-0.8 0.8l-0.8 0.8l0.8 0.8l0.8 0.8zM415.1 113.8l0.5-0.1l0.3-0.2l0.1-0.6l-0.1-0.6l-0.2-0.2l-0.6-0.3l-0.4 0.3l0 0.8l0.3 0.8zM370.5 103.4l0.8 0l0.5 0l0.3-0.1l0.2-0.1l0.6-0.6l0.5 0l0.3-0.5l0.1-0.3l-0.1-0.8l0-0.2l-0.3-0.6l-0.5-0.8l-0.8-0.6l-0.6-0.2l-0.2-0.1l-0.8 0l-0.7 0.1l-0.1 0l-0.7 0.2l-0.8 0.4l-0.3 0.2l-0.5 0.4l-0.4 0.4l-0.4 0.7l0 0.1l-0.1 0.8l0.1 0.3l0.1 0.5l0.7 0l0.8 0l0.8 0l0.8 0zM453.4 82.8l0.8 0.1l0.1-0.2l0.2-0.8l-0.2-0.8l-0.1-0.2l-0.8-0.1l-0.2 0.3l-0.3 0.8l0.3 0.8zM333 78.7l0.8-0.1l0.5-0.7l0.1-0.8l0-0.6l-0.6 0.6l-0.8 0.8l-0.6 0.6zM479.2 75.7l0.7 0.4l0-0.6l0-0.8l0-0.8l0-0.8l-0.7 0.5l-0.3 0.3l-0.3 0.8l0.3 0.8zM334.6 73.9l0.6-0.8l0.2-0.1l0.7-0.7l0.1 0l0.7-0.6l0.1-0.1l0.7-0.8l0-0.1l0.5-0.7l0.3-0.7l0-0.1l0.3-0.8l0.3-0.8l0.2-0.5l0.2-0.3l0.6-0.8l0.7-0.5l0.7-0.3l0.1-0.1l0.8-0.1l0.8-0.2l0.8-0.2l0.4-0.2l0.3-0.2l0.8-0.6l0.7-0.8l0.1-0.1l0.5-0.7l0.3-0.4l0.2-0.4l0.2-0.3l-0.4-0.5l-0.8-0.8l0-0.3l-0.3 0.3l-0.5 0.6l-0.3 0.2l-0.5 0.4l-0.7 0.3l-0.8-0.2l-0.4-0.5l-0.4-0.8l-0.3-0.8l-0.4-0.8l-0.1-0.1l-0.5-0.7l-0.3-0.4l-0.7 0.3l-0.2 0.1l-0.6 0.3l-0.8 0.4l-0.2 0.1l-0.6 0.4l-0.4 0.4l-0.4 0.5l-0.2 0.3l-0.1 0.8l0 0.8l0 0.8l0 0.8l-0.3 0.8l-0.1 0.2l-0.8 0.6l-0.8 0.4l-0.8 0.2l-0.5 0.2l0 0.8l0.5 0.3l0.8 0.5l0.5 0.2l0.3-0.2l0.8-0.8l0.7 0l0.8 0.8l-0.8 0.8l-0.4 0.4l0.1 0.4l0.2 0.8l-0.3 0.8l-0.3 0.4l-0.2 0.2l0.2 0.2l0 0.8l-0.8 0.7l-0.8 0.8l0 0.8l0 0.1zM332.8 73.4l0.2-0.3l0.8-0.8l0.5-0.4l-0.5 0.2l-0.3 0.2l-0.5 0.6l-0.2 0.2zM319.7 66l0.8 0.6l0.8 0.1l0.8-0.2l0.8-0.4l0.1-0.1l0.6-0.5l0.4-0.3l0.4-0.4l0.5-0.4l0.3-0.3l0.5-0.5l0.3-0.4l0.2-0.4l0.3-0.8l0-0.8l-0.5 0l-0.8 0.8l-0.8 0.8l-0.8 0.8l-0.7 0l-0.8 0.8l-0.8 0l-0.8 0l-0.8 0.8l-0.1 0.1l0.1 0.7zM443.2 62.9l0.8 0.2l0.8-0.2l0-0.1l0.7-0.8l0.1-0.2l0.1-0.6l-0.1-0.6l-0.2-0.2l-0.6-0.2l-0.8 0.1l-0.2 0.1l-0.6 0.6l-0.1 0.2l-0.2 0.8l0.2 0.8zM468.2 62.6l0.8 0.2l0.8-0.1l0.8-0.2l0.7-0.3l0.5-0.2l0.3-0.2l0.8-0.3l0.6-0.3l0.2-0.1l0.8-0.3l0.6-0.4l0.2-0.1l0.7-0.7l0.6-0.8l0.2-0.3l0.3-0.5l0.5-0.8l0-0.1l0.4-0.7l0.3-0.8l-0.1-0.7l-0.5-0.8l-0.1-0.2l-0.8-0.6l-0.8-0.6l-0.7-0.2l0-0.1l-0.2 0.1l-0.6 0.1l-0.8 0.6l-0.1 0.1l-0.7 0.3l-0.8 0.2l-0.8 0.2l-0.4 0.1l-0.3 0l-0.8 0.1l-0.8 0.1l-0.8 0.2l-0.6 0.4l-0.2 0.2l-0.1 0.5l-0.1 0.8l-0.1 0.8l0 0.8l-0.1 0.8l-0.1 0.8l0 0.8l0.2 0.8l0.3 0.7l0.1 0.1zM471.4 58l0.7-0.6l0.2-0.2l0.6-0.2l0.8 0l0.2 0.2l-0.2 0.5l-0.3 0.3l-0.5 0.3l-0.8 0.1zM437 59.1l0.7-0.2l0.2-0.1l0.4-0.8l-0.4-0.8l-0.2-0.1l-0.7-0.1l-0.6 0.2l-0.2 0.4l-0.2 0.4l0.2 0.5l0.2 0.3zM453.4 59l0.8 0.1l0.7 0l0.8-0.2l0.3-0.1l0.5-0.2l0.8-0.4l0.2-0.2l0.6-0.5l0.2-0.3l0.4-0.8l-0.1-0.8l-0.5-0.7l0-0.1l-0.8-0.7l-0.1 0l-0.7-0.5l-0.6-0.3l-0.2-0.1l-0.8-0.3l-0.7-0.1l-0.8 0.3l-0.4 0.2l-0.4 0.4l-0.3 0.4l-0.4 0.8l-0.1 0.4l-0.1 0.3l0 0.8l0 0.8l0.1 0.5l0.1 0.3l0.7 0.7l0.1 0.1zM347.1 56.8l0.1 0.4l0.7-0.8l0-0.8l-0.8-0.7l-0.8-0.8l-0.8-0.8l-0.8 0l-0.7-0.8l-0.8-0.8l-0.8-0.8l-0.8-0.8l-0.8 0l-0.7 0l-0.8 0l-0.8 0l-0.8 0l-0.8 0l-0.3 0l0.2 0.8l0.1 0.2l0.4 0.6l0.4 0.6l0.2 0.2l0.6 0.6l0.1 0.2l0.7 0.6l0.1 0.2l0.7 0.7l0 0.1l0.7 0.7l0.8 0l0.8-0.4l0.5-0.3l0.3-0.2l0.8-0.3l0.7-0.1l0.8 0.2l0.5 0.4l0.3 0.3l0.3 0.4l0.4 0.8zM473.7 51.2l0.8 0.4l0.6-0.7l0.2-0.4l0.1-0.4l0.1-0.8l0.1-0.8l0.1-0.8l0.1-0.8l0.1-0.8l0.1-0.4l0.1-0.4l0-0.8l-0.1-0.2l-0.3-0.6l-0.4-0.2l-0.8-0.2l-0.8 0l-0.8 0.1l-0.8 0l-0.8 0.2l-0.7 0.1l-0.8 0.7l-0.1 0.1l0.1 0.6l0 0.2l0.4 0.8l0.4 0.8l0.4 0.8l0.3 0.7l0.1 0.1l0.5 0.8l0.2 0.4l0.4 0.4l0.4 0.5l0.5 0.3zM347.1 49.3l0.8 0l0.8-0.8l0.7-0.8l0.8-0.8l0.8-0.8l-0.8-0.8l-0.8-0.8l-0.7-0.8l-0.8 0.8l-0.8 0l-0.8 0.8l-0.8 0.8l-0.8 0.8l0.8 0.8l0.8 0.8zM366.5 46.9l0.1-0.1l0.3-0.7l-0.3-0.4l-0.3-0.4l-0.5-0.3l0 0.3l0 0.8l0 0.8l0 0.1zM327.6 41l0.7 0.2l0.7-0.7l-0.7-0.5l-0.4 0.2l-0.3 0.3l-0.2 0.2zM282.2 37.4l0.2 0l0.2-0.8l0.2-0.8l0.2-0.8l0.5-0.8l0.3-0.4l0.5-0.4l0.3-0.3l0.5-0.5l0.3-0.4l0.2-0.4l0.3-0.8l0.2-0.5l0.2-0.3l0.5-0.8l0.1-0.1l0.6-0.7l0.2-0.2l0.4-0.6l-0.4 0l-0.8 0l-0.8 0.8l-0.7-0.8l-0.5-0.5l-0.3 0.2l-0.8 0.1l-0.8-0.1l-0.8-0.2l-0.6-0.3l-0.2 0l-0.7-0.2l-0.8 0l-0.8 0.2l-0.6 0.8l0 0.8l0.4 0.8l0.2 0.3l0.3 0.5l0.5 0.7l0 0.1l0.3 0.8l0 0.8l-0.2 0.8l-0.1 0.2l-0.4 0.6l-0.4 0.7l-0.2 0.1l0.2 0l0.8 0l0.8 0.8l0.7 0.8zM290 35.9l0.8-0.1l0.1 0l0.6-0.8l-0.7-0.5l-0.8-0.3l-0.7 0.1l-0.5 0.7l0.5 0.5l0.4 0.3zM277.5 35l0.7 0l-0.7-0.6l-0.1-0.2l-0.5-0.8l-0.1-0.1l-0.4-0.7l-0.4-0.8l0-0.2l-0.2-0.6l0-0.8l0.1-0.8l0.1-0.5l0-0.3l0-0.8l-0.8 0.8l-0.8 0.8l-0.8 0.8l0.8 0.8l0.8 0.8l0 0.8l0.8 0.8l0.8 0.8zM302.5 26.3l0.8 0.3l0.8-0.1l0.7-0.3l0.1 0l0.8-0.7l0-0.1l-0.8 0l-0.8 0l-0.8 0l-0.8 0l-0.7-0.8l-0.6 0.6l0.2 0.2l0.4 0.4l0.6 0.4z"/>
<path fill="#ea632a" stroke="#ea632a" stroke-width="0.3" d="M454.2 129.9l0.6-0.3l0.1-0.1l0.8-0.4l0.6-0.3l0.2-0.1l0.8-0.4l0.8-0.3l0.7-0.2l0.3-0.1l0.5-0.5l0.8-0.8l0.8-0.8l-0.7-0.6l-0.1 0l-0.8 0.6l-0.8 0.4l-0.7 0.4l-0.1 0l-0.7 0.3l-0.8 0.3l-0.6 0.2l-0.2 0.1l-0.8 0.3l-0.7 0.4l-0.1 0l-0.7 0.3l-0.8 0.1l-0.4 0l0.4 0.4l0.8 0.8l0.4 0.4zM465.9 128.8l0.8 0.4l0.7 0.3l0.8 0.1l0.8 0l0.8-0.1l0.8-0.2l0.7-0.4l0.1-0.1l0.7-0.8l0-0.1l0.3-0.7l0.2-0.8l0.3-0.8l0-0.1l0.4-0.7l0.4-0.4l0.4-0.4l0.4-0.3l0.8-0.3l0.5-0.2l0.2 0l0.8-0.2l0.8-0.1l0.8-0.2l0.8-0.2l0.2-0.1l0.5-0.1l0-0.7l0-0.8l0-0.2l-0.6 0.2l-0.1 0.1l-0.8 0.3l-0.8 0.2l-0.8 0.1l-0.7 0.1l-0.1 0l-0.7 0.1l-0.8 0.2l-0.8 0.4l-0.2 0.1l-0.6 0.4l-0.5 0.4l-0.3 0.3l-0.6 0.5l-0.2 0.2l-0.7 0.6l-0.8 0.4l-0.8 0.2l-0.6 0.2l-0.2 0.1l-0.8 0.2l-0.7 0.3l-0.8 0l-0.8-0.1l-0.8-0.4l-0.2-0.1l-0.6-0.4l-0.6-0.4l-0.1-0.1l-0.8-0.3l-0.4 0l0.4 0.4l-0.8 0.8l0.8 0.8l0 0.7l0.8 0.1l0.7 0.3l0.8 0.4l0.2 0.1l0.6 0.4l0.7 0.4zM432.6 128.4l0.5-0.4l0.7-0.8l0.8-0.8l-0.8-0.8l-0.7-0.8l-0.8-0.8l-0.1 0l-0.3 0.8l-0.1 0.8l0 0.8l0.1 0.8l0.4 0.8zM397.1 123.2l0.8 0l0.1 0l-0.1-0.3l-0.3-0.5l-0.5-0.4l-0.8-0.3l-0.1-0.1l-0.7-0.1l-0.7 0l-0.8 0l-0.8-0.2l-0.5-0.5l-0.3-0.4l-0.2-0.4l-0.3-0.7l-0.2-0.8l-0.1-0.4l-0.7-0.2l-0.4 0.6l-0.4 0.3l-0.2 0.3l0.2 0.2l0.8 0.7l0.7 0.8l0.8 0.8l0.8 0l0.8 0l0.8 0.8l0.7 0l0.8 0zM437 121.6l0-0.1l-0.3-0.7l-0.1-0.8l0-0.7l-0.1-0.8l-0.3-0.8l0-0.1l-0.6-0.7l-0.2-0.3l-0.4-0.5l-0.4-0.7l-0.1-0.1l-0.5-0.8l-0.2-0.4l-0.2-0.4l-0.1-0.8l0.1-0.8l0.2-0.3l0.4-0.5l0.4-0.5l0.2-0.3l0.3-0.8l-0.1-0.8l-0.3-0.8l-0.1-0.2l-0.3-0.6l-0.3-0.8l-0.2-0.6l0-0.2l0-0.2l0.2-0.6l0.6-0.7l0.1-0.1l0.7-0.5l0.3-0.2l0.5-0.5l0.5-0.3l0.3-0.2l0.7-0.5l0.8-0.1l0.8 0l0.8 0l0.8 0.1l0.8 0l0.6-0.1l0.1-0.1l0.8-0.2l0.8-0.3l0.6-0.2l0.2-0.1l0.8-0.4l0.7-0.2l0.5-0.1l0.3-0.1l0.8-0.2l0.8-0.2l0.8-0.2l0.2-0.1l0.5-0.6l0.2-0.2l0.1-0.8l0.2-0.8l0.2-0.8l0.1-0.2l0.5-0.6l0.3-0.3l0.8-0.3l0.8 0l0.8 0.2l0.7 0.1l0.8 0l0.8-0.1l0.8-0.1l0.8-0.2l0.4-0.1l0.3-0.1l0.8-0.2l0.8-0.3l0.6-0.2l0.2-0.1l0.8-0.3l0.7-0.4l0.1 0l0.7-0.4l0.8 0l0.8 0.2l0.8 0.1l0.8 0l0.7-0.3l0.8-0.3l0.1-0.1l0.7-0.5l0.4-0.3l0.4-0.6l0.1-0.2l0-0.8l-0.1-0.8l0-0.4l-0.1-0.4l0-0.8l-0.1-0.7l-0.1-0.8l-0.2-0.8l-0.2-0.8l-0.1-0.2l-0.3-0.6l-0.5-0.8l-0.8-0.6l-0.7-0.2l-0.1 0l-0.7 0l-0.4 0l-0.4 0l-0.8 0.1l-0.8 0.2l-0.7 0.2l-0.5 0.3l-0.3 0.3l-0.3 0.5l-0.1 0.8l0.1 0.8l0.1 0.8l0 0.8l-0.1 0.7l-0.3 0.8l-0.2 0.3l-0.8 0.4l-0.8 0l-0.8-0.3l-0.3-0.4l-0.4-0.3l-0.3-0.5l-0.5-0.7l-0.4-0.8l-0.2-0.8l0-0.8l0.2-0.8l0.2-0.8l0.1-0.8l0-0.8l0-0.8l0.1-0.8l0-0.1l0.3-0.7l0.5-0.8l0.6-0.8l0.1-0.2l0.4-0.6l0.4-0.8l0-0.6l0-0.2l-0.8-0.6l-0.7 0.2l-0.8 0.1l-0.8 0.1l-0.8 0.1l-0.8 0.1l-0.2 0l-0.5 0.2l-0.8 0.3l-0.4 0.3l-0.4 0.4l-0.4 0.4l-0.4 0.6l-0.2 0.2l-0.6 0.6l-0.6 0.2l-0.2 0.1l-0.2-0.1l-0.5-0.1l-0.8-0.6l-0.1-0.1l-0.7-0.7l-0.1-0.1l-0.7-0.5l-0.8-0.2l-0.4-0.1l-0.3 0l-0.8-0.1l-0.8 0l-0.8-0.1l-0.8-0.1l-0.7-0.1l-0.8 0l-0.8 0l-0.8 0.1l-0.8 0l-0.8-0.1l-0.7-0.3l-0.2-0.1l-0.6-0.8l0-0.1l-0.2-0.7l0.1-0.8l0.1-0.1l0.1-0.6l0.1-0.8l-0.2-0.8l-0.8-0.2l-0.6 0.2l-0.2 0l-0.8 0.7l0 0.1l-0.4 0.8l-0.2 0.7l0.1 0.8l0 0.8l-0.2 0.8l0 0.1l-0.5 0.7l-0.3 0.3l-0.8 0.5l-0.1 0l-0.7 0.4l-0.8 0.4l-0.1 0l-0.7 0.5l-0.4 0.3l-0.3 0.5l-0.4 0.3l-0.4 0.7l-0.1 0.1l-0.7 0.5l-0.8-0.5l-0.3-0.8l-0.5-0.4l-0.4-0.4l-0.3-0.2l-0.8-0.2l-0.8 0.2l-0.4 0.2l-0.4 0.3l-0.6 0.5l-0.2 0.1l-0.7 0.2l-0.8-0.1l-0.8-0.1l-0.8 0l-0.8 0.4l-0.2 0.3l-0.3 0.8l-0.1 0.8l0 0.8l0 0.8l0.1 0.8l-0.1 0.8l-0.2 0.5l-0.1 0.3l-0.6 0.7l-0.2 0.1l-0.6 0.2l-0.8 0.3l-0.6 0.3l-0.2 0.1l-0.8 0.6l0 0.1l-0.7 0.7l0 0.1l-0.8 0.7l-0.1 0l-0.7 0.4l-0.8 0.3l-0.8 0.1l-0.1 0l-0.7 0.1l-0.7 0l-0.8 0l-0.8 0.1l-0.8 0.2l-0.8 0.4l-0.7 0.3l-0.8 0.2l-0.8 0.1l-0.8-0.1l-0.8-0.2l-0.7-0.1l-0.8 0l-0.8 0.2l-0.8 0.2l-0.6 0.2l-0.2 0.1l-0.8 0.4l-0.5 0.3l-0.2 0.2l-0.8 0.6l-0.8 0.6l-0.3 0.2l-0.5 0.3l-0.8 0.2l-0.7-0.1l-0.8-0.2l-0.8-0.1l-0.8 0l-0.8-0.1l-0.8 0l-0.7 0.2l-0.8 0.4l-0.3 0.2l-0.5 0.5l-0.3 0.3l-0.5 0.6l-0.2 0.2l-0.5 0.8l-0.1 0l-0.4 0.8l-0.3 0.8l-0.4 0.8l-0.4 0.6l-0.2 0.2l-0.6 0.6l-0.1 0.2l-0.7 0.6l-0.1 0.2l-0.6 0.8l-0.1 0.2l-0.2 0.6l-0.2 0.7l-0.1 0.8l-0.2 0.8l0 0.2l-0.8 0.2l-0.4-0.4l-0.4-0.5l0 0.5l0 0.8l0 0.8l-0.8 0.8l0 0.8l0 0.8l0 0.8l0 0.8l0 0.8l0 0.8l0 0.8l0.8 0.8l0.8 0.8l0.8 0.8l0.7 0l0.8 0l0.6 0l-0.5-0.8l-0.1-0.3l-0.2-0.5l0.2-0.7l0-0.1l0.8-0.8l0.8-0.8l0.7-0.8l0.1 0l0.5-0.8l0.2-0.4l0.3-0.4l0.2-0.8l-0.2-0.8l-0.3-0.3l-0.4-0.5l-0.3-0.3l-0.4-0.5l-0.4-0.5l-0.2-0.3l-0.3-0.8l0-0.8l0.2-0.7l0.3-0.5l0.4-0.3l0.4-0.3l0.3-0.2l-0.3-0.3l-0.8-0.8l0.8-0.8l0.7 0.8l0.7 0.6l0.1-0.1l0.5-0.5l0.3-0.8l0-0.2l0.1-0.6l0.2-0.8l0.3-0.8l0.2-0.2l0.8-0.5l0.4-0.1l0.3 0l0.2 0l0.6 0.1l0.8 0.4l0.4 0.3l0.4 0.3l0.6 0.5l0.2 0.1l0.8 0.7l0.7 0.8l0.5 0.8l0.1 0.8l-0.1 0.8l-0.5 0.7l0 0.1l-0.6 0.7l-0.1 0.2l-0.5 0.6l-0.3 0.6l-0.1 0.2l-0.4 0.8l-0.3 0.7l-0.1 0.1l0.1 0l0.8 0.8l0.8 0l0.7 0.8l0.8 0l0.8 0.8l0.8 0l0.5 0l0.1-0.8l-0.1-0.8l-0.3-0.8l-0.2-0.8l-0.3-0.8l-0.1-0.8l-0.1-0.8l0.2-0.7l0.3-0.6l0.1-0.2l0.7-0.8l0.7-0.8l0-0.1l0.4-0.7l0-0.5l-0.4-0.3l-0.7-0.8l-0.8-0.8l-0.8-0.8l-0.8-0.8l0.8-0.8l0.8 0.8l0.2 0.2l-0.1-0.2l0.1-0.8l0.3-0.8l0.3-0.3l0.4-0.5l0.3-0.3l0.7-0.5l0.1 0l0.8-0.3l0.8-0.1l0.8 0l0.8 0.2l0.5 0.2l0.2 0.1l0.8 0.2l0.8 0l0.8-0.1l0.5-0.2l0.3-0.1l0.7-0.2l0.8-0.2l0.8-0.2l0.1-0.1l0.7-0.2l0.8-0.2l0.7-0.3l0.2-0.1l0.6-0.2l0.8-0.2l0.8-0.2l0.7-0.2l0.1 0l0.8-0.2l0.7-0.2l0.8-0.3l0.2-0.1l0.6-0.2l0.8-0.1l0.8-0.2l0.7-0.3l0.8-0.4l0.6-0.4l0.2-0.2l0.7-0.6l0.1-0.1l0.6-0.6l0.2-0.3l0.6-0.5l0.2-0.2l0.7-0.2l0.8 0.1l0.8 0.1l0.8 0l0.8-0.1l0.7-0.3l0.5-0.2l0.3-0.2l0.8-0.6l0.1 0l0.7-0.5l0.3-0.3l0.5-0.4l0.5-0.4l0.2-0.3l0.4-0.5l0.4-0.8l0.3-0.8l0.5-0.8l0-0.1l0.8-0.7l0.8-0.4l0.8-0.2l0.7-0.2l0.4 0l0.4 0l0.8 0l0.8 0l0.8 0l0.7-0.1l0.8-0.2l0.8-0.2l0.8-0.3l0.8-0.2l0.8-0.1l0.7 0l0.8 0l0.8 0.1l0.8 0.1l0.4 0.1l0.4 0.1l0.7 0.5l0.3 0.2l0.5 0.5l0.3 0.3l0.5 0.7l0 0.1l0.5 0.8l0.3 0.7l0 0.1l0.1 0.8l-0.1 0.2l-0.1 0.6l-0.3 0.8l-0.3 0.8l-0.1 0.2l-0.3 0.6l-0.3 0.8l-0.2 0.6l0 0.2l-0.1 0.7l0.1 0.8l0 0.1l0.6 0.7l0.2 0.2l0.8 0.2l0.8 0l0.7 0l0.8 0l0.8 0l0.8 0.2l0.8 0.2l0.3 0l0.5 0.2l0.7 0.3l0.3 0.3l0.5 0.8l-0.8 0.6l-0.7-0.3l-0.8-0.2l-0.8 0l-0.8 0.3l-0.5 0.4l-0.3 0.2l-0.7 0.6l-0.1 0l-0.7 0.7l-0.3 0.1l-0.5 0.3l-0.8 0l-0.6-0.3l-0.2-0.1l-0.8-0.2l-0.7-0.1l-0.8 0.2l-0.6 0.2l-0.2 0.1l-0.8 0.6l-0.1 0.1l-0.7 0.8l-0.7 0.8l0 0.1l-0.8 0.6l-0.8 0.1l-0.5 0l-0.3 0l-0.8 0.3l-0.6 0.5l-0.2 0.1l-0.4 0.7l-0.3 0.3l-0.3 0.5l-0.5 0.6l-0.1 0.2l-0.7 0.7l-0.1 0.1l-0.7 0.5l-0.5 0.3l-0.3 0.1l-0.7 0.2l-0.8 0.3l-0.3 0.2l-0.5 0.3l-0.3 0.5l-0.4 0.7l-0.1 0.6l0 0.2l0 0.4l0.1 0.4l0.2 0.8l0.4 0.8l0.1 0.2l0.3 0.6l0.1 0.8l-0.4 0.7l-0.1 0.1l-0.5 0.8l0.6 0l0.8 0.8l0 0.8l-0.8 0.8l0.8 0.8l0.8 0.8l0.7 0.8l-0.7 0.8l-0.8 0.8l0.8 0.8l0.7 0.8l0.8 0.8l0.8 0.7l0.8 0.8l0.8 0.8l0 0.1zM449.5 85.9l0-0.1l0.4-0.7l0.3-0.3l0.4 0.3l0.2 0.8l-0.6 0.4l-0.7-0.4zM453.2 82.7l-0.3-0.8l0.3-0.8l0.2-0.3l0.8 0.1l0.1 0.2l0.2 0.8l-0.2 0.8l-0.1 0.2l-0.8-0.1zM388.3 121l0.2-0.2l-0.1 0zM335.4 116.4l0.8-0.3l0.7-0.4l0.6-0.4l0.2-0.2l0.8-0.3l0.8-0.1l0.8 0.1l0.7 0.2l0.8 0.2l0.8 0l0.8-0.3l0.8-0.4l0.1 0l0.6-0.3l0.8-0.3l0.8-0.2l0.8-0.2l0.8-0.1l0.8-0.2l0.6-0.3l0.1-0.1l0.8-0.7l0.2-0.8l-0.2-0.5l-0.1-0.3l-0.4-0.8l-0.3-0.5l-0.1-0.3l-0.2-0.8l-0.1-0.8l0.2-0.8l0.2-0.3l0.8-0.4l0.8 0.2l0.8 0.4l0.1 0.1l0.7 0.7l0.1 0.1l0.5 0.8l0.1 0.4l0.3 0.4l0.4 0.8l0.1 0.2l0.2 0.4l0.6-0.6l0.8 0l0.8 0l0.8-0.8l0.7 0l0.8 0l0.8-0.8l0.8 0l0.8-0.8l0.7-0.8l0.8-0.8l0.8-0.8l0-0.8l0-0.7l0.8-0.8l0.8 0l0.7-0.8l0.8 0.8l0.1 0l-0.1-0.5l-0.1-0.3l0.1-0.8l0-0.1l0.4-0.7l0.4-0.4l0.5-0.4l0.3-0.2l0.8-0.4l0.7-0.2l0.1 0l0.7-0.1l0.8 0l0.2 0.1l0.6 0.2l0.8 0.6l0.5 0.8l0.3 0.6l0 0.2l0.1 0.8l-0.1 0.3l-0.3 0.5l0.3 0l0.7-0.8l0.8-0.8l0.8 0l0.2-0.2l-0.2-0.4l-0.1-0.2l-0.4-0.8l-0.3-0.5l-0.2-0.3l-0.5-0.8l-0.1-0.2l-0.4-0.6l-0.3-0.5l-0.5-0.3l-0.3-0.2l-0.8-0.2l-0.8-0.1l-0.7-0.3l-0.1-0.1l-0.3-0.7l-0.4-0.8l0-0.1l-0.6-0.7l-0.2-0.1l-0.8-0.3l-0.8 0l-0.8 0.2l-0.3 0.2l-0.5 0.5l-0.1 0.3l-0.1 0.8l0.2 0.8l0 0.4l0.1 0.4l-0.1 0.4l0 0.4l-0.7 0.5l-0.8 0.2l-0.6 0.1l-0.2 0l-0.8 0l-0.8 0l-0.7 0.3l-0.3 0.5l-0.1 0.8l0.1 0.8l0.3 0.4l0.2 0.4l0.5 0.7l0.1 0.1l0.5 0.8l0.2 0.8l-0.5 0.7l-0.3 0.2l-0.7 0.2l-0.8 0.1l-0.8 0l-0.8-0.1l-0.8 0l-0.7 0l-0.8 0l-0.8 0l-0.8-0.1l-0.8-0.1l-0.3-0.2l-0.5-0.1l-0.7-0.3l-0.8-0.2l-0.7-0.1l-0.1-0.1l-0.8-0.1l-0.8 0.1l-0.1 0.1l-0.6 0.1l-0.8 0.6l-0.4 0.8l-0.2 0.8l0 0.8l0 0.8l0 0.8l0.1 0.8l0 0.8l-0.1 0.8l-0.2 0.4l-0.4 0.4l-0.4 0.2l-0.8 0.3l-0.8 0.2l-0.4 0.1l-0.3 0.1l-0.8 0.1l-0.8 0l-0.8 0l-0.8-0.1l-0.6-0.1l-0.1 0l-0.3 0l-0.5 0l-0.8 0.2l-0.8 0.2l-0.8 0.2l-0.7 0.2l-0.8-0.1l-0.8-0.5l-0.3-0.2l-0.5-0.6l-0.1-0.2l-0.4-0.8l-0.2-0.8l0.1-0.8l0.3-0.8l0.3-0.4l0.3-0.4l0.5-0.6l0.1-0.2l0.4-0.8l0.3-0.7l0-0.1l0.1-0.8l0.1-0.7l-0.1-0.8l0-0.8l-0.1-0.4l-0.1-0.4l-0.3-0.8l-0.2-0.8l-0.1-0.8l0.1-0.8l-0.2 0l-0.8 0l-0.8 0l-0.1 0l-0.3 0.8l-0.3 0.8l-0.1 0.3l-0.3 0.5l-0.4 0.7l-0.8-0.1l-0.8 0l-0.8 0.1l-0.3 0.1l-0.5 0.1l-0.7 0.5l-0.2 0.2l-0.6 0.6l-0.2 0.2l-0.5 0.8l-0.1 0.5l0 0.2l0 0.1l0.8 0.6l0.8 0l0.7-0.3l0.5-0.4l0.3-0.2l0.7-0.5l0.1-0.2l0.7-0.6l0.1-0.2l0.6-0.6l0.2-0.5l0.7 0.1l0.3 0.4l0.5 0.2l0.4 0.6l0.3 0.8l0.1 0.5l0 0.2l0 0.1l-0.1 0.7l-0.4 0.8l-0.3 0.4l-0.3 0.4l-0.5 0.6l-0.1 0.2l-0.5 0.8l-0.1 0.6l-0.1 0.2l0 0.8l0.1 0.7l0 0.1l0.2 0.8l0.2 0.8l0.3 0.8l0 0.1l0.4 0.7l0.4 0.6l0.2 0.2l0.6 0.7l0.1 0.1l0.7 0.7l0.2 0.1zM404.9 110.5l0.8 0.1l0.1-0.1l0.5-0.8l0.2-0.6l0-0.2l0-0.1l-0.8-0.2l-0.4 0.3l-0.4 0.6l0 0.2l0 0.8zM372.1 103.4l0.2-0.2l-0.2 0.1l-0.3 0.1zM349.4 100.2l0.8 0.3l0.8 0.2l0.8 0l0.8-0.3l0.2-0.2l0.4-0.8l0.1-0.8l0-0.8l-0.2-0.8l-0.1-0.8l-0.4-0.8l0-0.2l-0.7-0.6l-0.1-0.1l-0.8-0.1l-0.8 0.2l-0.1 0l-0.7 0.3l-0.7 0.3l-0.8 0l-0.8-0.1l-0.8-0.3l-0.1-0.1l-0.7 0.7l0 0.8l0 0.8l0 0.8l-0.3 0.3l0.3 0.1l0.8 0.2l0.4 0.2l0.4 0.1l0.8 0.5l0.1 0.2l0.7 0.4l0.7 0.4zM358.8 95.8l0.8 0.1l0.6-0.5l0.2-0.3l0.1-0.5l0.1-0.8l-0.2-0.8l0-0.1l-0.4-0.7l-0.4-0.5l-0.4-0.3l-0.4-0.2l-0.8-0.2l-0.7 0.2l-0.3 0.2l-0.4 0.8l-0.1 0.8l0.2 0.8l0.4 0.8l0.2 0.1l0.7 0.7l0.1 0zM345.7 91.4l0.3-0.8l0.1-0.8l-0.1-0.8l-0.1-0.8l-0.4-0.7l0-0.1l-0.5-0.7l-0.3-0.3l-0.5-0.5l-0.2-0.6l-0.1-0.2l0-0.8l0-0.8l-0.1-0.8l-0.1-0.8l-0.5 0l-0.8 0l-0.8-0.8l-0.8 0l-0.7 0.8l-0.8 0l-0.8 0l-0.8 0.8l-0.8 0.8l-0.7 0.8l-0.8 0.8l0 0.8l0.8 0.8l0.7 0.7l0.8 0.8l0.8 0l0.8 0.8l0.8 0l0.7 0l0.8 0.8l0.8 0l0.8 0l0.8 0.8l0.7 0l0.8 0.8l0.2 0.2zM337.5 85.1l-0.1-0.8l0.3-0.3l0.5 0.3l-0.2 0.8l-0.3 0.1zM348.7 86.8l0.7 0.2l0.8 0.1l0.8-0.1l0.8-0.2l0.4-0.1l0.4-0.4l0.2-0.4l0.1-0.8l-0.1-0.8l-0.1-0.8l-0.1-0.6l-0.1-0.2l-0.2-0.8l-0.2-0.8l-0.3-0.5l-0.8 0.1l-0.8 0.1l-0.8 0.1l-0.7 0.1l-0.7 0.1l-0.1 0l-0.8 0.6l-0.2 0.2l-0.5 0.8l-0.1 0.5l-0.1 0.3l0 0.8l0.1 0.4l0.1 0.4l0.5 0.8l0.2 0.1l0.8 0.5l0.3 0.2zM334.6 81.1l0.8 0l0.8 0l0.7-0.8l0.8 0l0.8 0l0.8 0l0.3-0.4l-0.3 0.2l-0.8-0.2l-0.2-0.4l-0.3-0.8l-0.2-0.8l-0.1-0.6l0-0.2l-0.2-0.8l-0.4-0.8l-0.2-0.7l0-0.1l0.3-0.8l0.5-0.6l0.1-0.2l0.6-0.8l0.1-0.1l0.4-0.6l0.4-0.8l0.5-0.8l0.3-0.4l0.4-0.4l0.3-0.3l0.8-0.3l0.8 0.1l0.7 0.5l0.1 0l0.8 0.8l0.7 0.6l0.8 0.1l0.8-0.4l0.4-0.3l0.4-0.7l0.1-0.1l0.2-0.8l0-0.8l-0.1-0.8l-0.1-0.8l0-0.8l0.1-0.8l0.4-0.8l0.2-0.3l0.2-0.5l0.5-0.8l-0.7-0.8l-0.4-0.3l-0.2 0.3l-0.2 0.4l-0.3 0.4l-0.5 0.7l-0.1 0.1l-0.7 0.8l-0.8 0.6l-0.3 0.2l-0.4 0.2l-0.8 0.2l-0.8 0.2l-0.8 0.1l-0.1 0.1l-0.7 0.3l-0.7 0.5l-0.6 0.8l-0.2 0.3l-0.2 0.5l-0.3 0.8l-0.3 0.8l0 0.1l-0.3 0.7l-0.5 0.7l0 0.1l-0.7 0.8l-0.1 0.1l-0.7 0.6l-0.1 0l-0.7 0.7l-0.2 0.1l-0.6 0.8l0 0.1l0.8 0.7l0 0.8l-0.8 0.8l-0.2 0.2l0 0.6l-0.1 0.8l-0.5 0.7l-0.8 0.1l-0.6-0.2l-0.2 0.2l0.8 0.8l0.8 0.8zM340.8 79.5l0.8 0l0.8 0l0.8 0l0-0.1l-0.7-0.7l-0.1 0l-0.8-0.1l-0.2 0.1l-0.6 0.3l-0.5 0.5zM477.6 77.3l0.8 0.3l0.8 0.2l0.7 0.1l0-0.8l0-0.8l0-0.2l-0.7-0.4l-0.3-0.2l-0.3-0.8l0.3-0.8l0.3-0.3l0.7-0.5l0-0.8l0-0.7l0-0.2l-0.4 0.2l-0.3 0.1l-0.8 0.4l-0.3 0.2l-0.5 0.5l-0.3 0.3l-0.5 0.7l0 0.1l-0.3 0.8l0 0.8l0.2 0.8l0.1 0.3l0.5 0.5zM458.8 71.7l0.8 0.3l0.4-0.4l0.4-0.5l0.1-0.3l0.3-0.8l0.1-0.8l-0.2-0.8l-0.3-0.7l-0.1-0.1l-0.7-0.8l-0.1 0l-0.7-0.3l-0.7 0.1l-0.2 0.2l-0.5 0.8l-0.1 0.6l0 0.2l0 0.3l0 0.5l0.3 0.8l0.5 0.7l0 0.1l0.7 0.8zM441.7 65.3l0.7 0.3l0.8 0.2l0.8-0.1l0.8-0.2l0.5-0.3l0.3-0.2l0.7-0.5l0.1-0.1l0.7-0.6l0.4-0.2l0.4-0.3l0.8-0.4l0.4-0.1l0.4-0.1l0.7-0.2l0.8-0.2l0.6-0.3l0.2-0.1l0.8-0.4l0.5-0.3l0.3-0.1l0.8-0.2l0.7-0.1l0.8-0.2l0.8-0.2l0.8-0.1l0.8-0.2l0.7-0.1l0.8 0.1l0.8 0.3l0.1 0l0.4 0.8l0.1 0.8l0.2 0.8l0 0.1l0.4 0.7l0.4 0.4l0.6 0.4l0.2 0.1l0.7 0.3l0.8 0.3l0.6 0.1l0.2 0l0.8 0.1l0.8 0l0.7 0l0.8 0l0.8 0.1l0.8 0.1l0.8 0.1l0.7 0l0.8-0.2l0.3-0.2l0.5-0.3l0.7-0.5l0.1-0.1l0.8-0.4l0.7-0.3l0.1 0l0.7-0.3l0.8-0.2l0.8-0.2l0.8-0.1l0.2 0l0.6 0l0.7 0l0-0.8l0-0.8l0-0.8l0-0.8l0-0.8l0-0.8l0-0.8l0-0.8l0-0.8l0-0.7l0-0.8l0-0.8l0-0.8l0-0.6l-0.5-0.2l-0.2-0.2l-0.8-0.6l0-0.1l-0.3-0.7l0-0.8l0.2-0.8l0.1-0.1l0.6-0.7l0.2-0.2l0.7-0.5l0-0.1l0-0.8l0-0.8l-0.7-0.7l-0.1-0.1l-0.5-0.8l-0.2-0.2l-0.4-0.6l-0.4-0.4l-0.5-0.4l-0.3-0.2l-0.8-0.2l-0.7-0.1l-0.8 0.1l-0.8 0.1l-0.8 0.1l-0.8 0l-0.8 0l-0.7-0.2l-0.8-0.3l-0.1-0.1l-0.7-0.4l-0.8-0.3l-0.8 0l-0.7 0.7l-0.1 0l-0.4 0.8l-0.3 0.6l-0.1 0.2l-0.3 0.8l-0.1 0.8l0.4 0.8l0.1 0.1l0.8 0.4l0.6 0.3l0.1 0.1l0.8 0.5l0.2 0.2l0.6 0.7l0.1 0.1l0.3 0.8l0.3 0.8l0 0.8l-0.4 0.8l-0.3 0.1l-0.8 0.1l-0.8-0.1l-0.2-0.1l-0.5-0.2l-0.8-0.4l-0.4-0.2l-0.4-0.4l-0.5-0.4l-0.3-0.4l-0.4-0.4l-0.4-0.4l-0.7-0.4l-0.5 0l-0.3 0l-0.1 0l-0.7 0.2l-0.8 0.6l-0.1 0.8l0.1 0.8l0 0.3l0.1 0.5l0 0.8l-0.1 0.4l-0.2 0.4l-0.6 0.3l-0.8-0.1l-0.7-0.2l-0.8-0.5l-0.4-0.3l-0.4-0.4l-0.4-0.4l-0.4-0.4l-0.6-0.4l-0.2-0.1l-0.7-0.1l-0.8 0.1l-0.6 0.1l-0.2 0l-0.8 0.2l-0.8 0.2l-0.8 0.3l0 0.1l-0.7 0.3l-0.8 0.4l-0.3 0.1l-0.5 0.2l-0.8 0.3l-0.6 0.3l-0.2 0.1l-0.6 0.7l-0.1 0.2l-0.4 0.6l-0.4 0.4l-0.5 0.4l-0.3 0.1l-0.8 0.3l-0.8 0.2l-0.7 0.1l-0.5 0l-0.3 0.1l-0.1-0.1l-0.7-0.1l-0.8-0.3l-0.8-0.3l-0.8-0.4l-0.7-0.2l-0.8 0l-0.8 0.3l-0.3 0.3l-0.5 0.5l-0.2 0.2l-0.4 0.8l-0.2 0.8l-0.1 0.8l0.1 0.8l0 0.3l0.2 0.5l0.5 0.8l0.1 0.2l0.8 0.6l0.8 0.4l0.8 0.3l0.7 0.1l0.8 0.2l0.8 0.6l0.6 0.8l0.2 0.3l0.3 0.5l0.5 0.4l0.5 0.4zM443.1 62.8l-0.2-0.8l0.2-0.8l0.1-0.2l0.6-0.6l0.2-0.1l0.8-0.1l0.6 0.2l0.2 0.2l0.1 0.6l-0.1 0.6l-0.1 0.2l-0.7 0.8l0 0.1l-0.8 0.2l-0.8-0.2zM467.5 62l-0.1-0.1l-0.3-0.7l-0.2-0.8l0-0.8l0.1-0.8l0.1-0.8l0-0.8l0.1-0.8l0.1-0.8l0.1-0.5l0.2-0.2l0.6-0.4l0.8-0.2l0.8-0.1l0.8-0.1l0.3 0l0.4-0.1l0.8-0.2l0.8-0.2l0.7-0.3l0.1-0.1l0.8-0.6l0.6-0.1l0.2-0.1l0 0.1l0.7 0.2l0.8 0.6l0.8 0.6l0.1 0.2l0.5 0.8l0.1 0.7l-0.3 0.8l-0.4 0.7l0 0.1l-0.5 0.8l-0.3 0.5l-0.2 0.3l-0.6 0.8l-0.7 0.7l-0.2 0.1l-0.6 0.4l-0.8 0.3l-0.2 0.1l-0.6 0.3l-0.8 0.3l-0.3 0.2l-0.5 0.2l-0.7 0.3l-0.8 0.2l-0.8 0.1l-0.8-0.2zM436.4 58.8l-0.2-0.3l-0.2-0.5l0.2-0.4l0.2-0.4l0.6-0.2l0.7 0.1l0.2 0.1l0.4 0.8l-0.4 0.8l-0.2 0.1l-0.7 0.2zM452.7 58.8l-0.1-0.1l-0.7-0.7l-0.1-0.3l-0.1-0.5l0-0.8l0-0.8l0.1-0.3l0.1-0.4l0.4-0.8l0.3-0.4l0.4-0.4l0.4-0.2l0.8-0.3l0.7 0.1l0.8 0.3l0.2 0.1l0.6 0.3l0.7 0.5l0.1 0l0.8 0.7l0 0.1l0.5 0.7l0.1 0.8l-0.4 0.8l-0.2 0.3l-0.6 0.5l-0.2 0.2l-0.8 0.4l-0.5 0.2l-0.3 0.1l-0.8 0.2l-0.7 0l-0.8-0.1zM473.4 50.9l-0.5-0.3l-0.4-0.5l-0.4-0.4l-0.2-0.4l-0.5-0.8l-0.1-0.1l-0.3-0.7l-0.4-0.8l-0.4-0.8l-0.4-0.8l0-0.2l-0.1-0.6l0.1-0.1l0.8-0.7l0.7-0.1l0.8-0.2l0.8 0l0.8-0.1l0.8 0l0.8 0.2l0.4 0.2l0.3 0.6l0.1 0.2l0 0.8l-0.1 0.4l-0.1 0.4l-0.1 0.8l-0.1 0.8l-0.1 0.8l-0.1 0.8l-0.1 0.8l-0.1 0.4l-0.2 0.4l-0.6 0.7l-0.8-0.4zM367.4 49l0.8 0l0.8-0.2l0.7-0.3l0.1 0l0.6-0.8l0-0.8l-0.3-0.8l-0.3-0.5l-0.2-0.3l-0.6-0.6l-0.2-0.2l-0.6-0.5l-0.5-0.3l-0.3-0.1l-0.8-0.4l-0.5-0.3l-0.3-0.1l0 0.1l0 0.8l0 0.8l0 0.5l0.5 0.3l0.3 0.4l0.3 0.4l-0.3 0.7l-0.1 0.1l-0.7 0.1l0 0.7l0.8 0.8l0 0.5zM455.7 47.1l0.8 0.3l0.7-0.5l0.1-0.8l-0.5-0.8l-0.3-0.2l-0.8-0.2l-0.5 0.4l0 0.8l0.4 0.8zM448.7 44.7l0.8 0.3l0.7 0.1l0.8-0.3l0.7-0.3l0.1-0.1l0.7-0.7l0.1-0.6l0-0.2l-0.3-0.8l-0.5-0.6l-0.1-0.2l-0.7-0.5l-0.3-0.3l-0.5-0.2l-0.7-0.2l-0.8 0.1l-0.7 0.3l-0.1 0.1l-0.5 0.7l-0.1 0.8l0.1 0.8l0.3 0.8l0.2 0.4l0.5 0.4zM277.5 34.4l0.7 0.6l0.1 0l0.6 0l0.2-0.1l0.4-0.7l0.4-0.6l0.1-0.2l0.2-0.8l0-0.8l-0.3-0.8l0-0.1l-0.5-0.7l-0.3-0.5l-0.2-0.3l-0.4-0.8l0-0.8l0.6-0.8l0.8-0.2l0.8 0l0.7 0.2l0.2 0l0.6 0.3l0.8 0.2l0.8 0.1l0.8-0.1l0.3-0.2l-0.3-0.3l-0.8 0l-0.8-0.8l-0.8-0.8l-0.8 0l-0.7 0l-0.8 0.8l-0.8 0l-0.8 0l-0.8 0.8l-0.7 0l-0.8 0.8l0 0.8l0 0.3l-0.1 0.5l-0.1 0.8l0 0.8l0.2 0.6l0 0.2l0.4 0.8l0.4 0.7l0.1 0.1l0.5 0.8zM255.7 23.8l0.7-0.7l0.8 0l0.8 0l0.8 0l0.8 0l0.7 0l-0.7-0.6l-0.5-0.2l-0.3-0.1l-0.8-0.1l-0.8-0.1l-0.8 0.1l-0.7 0.1l-0.5 0.1l-0.3 0l0 0.8l0 0.7zM268.9 21.5l0.1-0.1l-0.1 0l-0.4 0.1zM274.4 19.9l0.8 0l0.8-0.8l0.8 0l0.7 0l0.5-0.5l-0.5 0l-0.7 0.1l-0.8 0.2l-0.7 0.2l-0.1 0l-0.8 0.6l-0.2 0.2z"/>
<path fill="#cc4248" stroke="#cc4248" stroke-width="0.3" d="M452.6 128.4l0.8-0.1l0.7-0.3l0.1 0l0.7-0.4l0.8-0.3l0.2-0.1l0.6-0.2l0.8-0.3l0.7-0.3l0.1 0l0.7-0.4l0.8-0.4l0.8-0.6l0.1 0l-0.1-0.2l-0.8-0.8l0.8-0.8l0.8 0.8l0.4 0.4l0.4 0l0.8 0.3l0.1 0.1l0.6 0.4l0.6 0.4l0.2 0.1l0.8 0.4l0.8 0.1l0.8 0l0.7-0.3l0.8-0.2l0.2-0.1l0.6-0.2l0.8-0.2l0.8-0.4l0.7-0.6l0.2-0.2l0.6-0.5l0.3-0.3l0.5-0.4l0.6-0.4l0.2-0.1l0.8-0.4l0.8-0.2l0.7-0.1l0.1 0l0.7-0.1l0.8-0.1l0.8-0.2l0.8-0.3l0.1-0.1l0.6-0.2l0-0.6l0-0.7l0-0.5l-0.7 0.3l-0.4 0.2l-0.4 0.1l-0.8 0.3l-0.8 0.2l-0.8 0.1l-0.6 0l-0.1 0.1l-0.8 0.1l-0.8 0.2l-0.8 0.4l-0.1 0l-0.7 0.4l-0.8 0.4l-0.7 0.3l-0.8 0.1l-0.8 0l-0.8 0.1l-0.7 0.3l-0.1 0.1l-0.7 0.5l-0.7 0.2l-0.1 0.1l-0.7-0.1l-0.1 0l-0.8-0.5l-0.3-0.3l-0.5-0.4l-0.4-0.4l-0.3-0.3l-0.8-0.4l-0.8 0l-0.8 0.3l-0.5 0.4l-0.3 0.6l-0.1 0.2l-0.2 0.8l-0.5 0.8l-0.7 0.8l-0.8 0.5l-0.8 0.3l-0.8 0.3l-0.8 0.3l-0.6 0.2l-0.1 0.1l-0.8 0.3l-0.8 0.2l-0.8-0.1l-0.4-0.1l-0.4 0.4l0.8 0.8l0.4 0.4zM442.4 124.8l0.4 0l-0.4-0.4l-0.2-0.4l-0.5-0.6l-0.2-0.2l-0.6-0.5l-0.4-0.3l-0.4-0.3l-0.5-0.5l-0.3-0.4l-0.1-0.4l-0.1-0.8l0.1-0.7l-0.1-0.8l-0.3-0.8l-0.3-0.4l-0.3-0.4l-0.5-0.6l-0.1-0.2l-0.6-0.8l0-0.1l-0.4-0.7l-0.2-0.8l0.2-0.8l0.4-0.7l0-0.1l0.5-0.8l0.2-0.4l0.3-0.4l0.2-0.8l-0.3-0.8l-0.2-0.2l-0.4-0.6l-0.3-0.4l-0.2-0.4l-0.3-0.8l0.1-0.8l0.4-0.5l0.3-0.3l0.4-0.2l0.8-0.1l0.8 0.2l0.2 0.1l0.6 0.6l0.2 0.2l0.4 0.8l0.2 0.4l0.3 0.4l0.5 0.5l0.7-0.1l0.4-0.4l0.4-0.7l0-0.1l0.3-0.8l0.3-0.8l0.2-0.4l0.2-0.4l0.5-0.7l0.1-0.1l0.8-0.7l0.7-0.5l0.8-0.2l0.8-0.1l0.8 0.1l0.8 0.2l0.7 0.3l0.6 0.2l0.2 0l0.8 0.2l0.8-0.1l0.3-0.1l0.5-0.5l0.2-0.3l0.2-0.8l0-0.8l0.1-0.8l0.1-0.8l0.2-0.5l0.1-0.3l0.6-0.5l0.6-0.3l0.2-0.1l0.8-0.2l0.8-0.1l0.8-0.1l0.7 0l0.8-0.1l0.8 0l0.8-0.2l0.1 0l0.7-0.2l0.8-0.1l0.7-0.1l0.8-0.1l0.8 0l0.8-0.1l0.8-0.1l0.4-0.1l0.3-0.1l0.8-0.2l0.8-0.1l0.8 0.1l0.8 0.1l0.7 0.2l0.2 0l0.6 0.1l0.4-0.1l0.4-0.1l0.5-0.7l0.2-0.8l0-0.8l0.1-0.8l0-0.8l-0.1-0.8l-0.1-0.8l-0.3-0.8l-0.3-0.4l-0.2-0.4l-0.4-0.8l-0.2-0.4l0-0.3l-0.1-0.8l0-0.8l0.1-0.8l0-0.1l0.8-0.4l0.8 0.2l0.8 0.1l0.8-0.2l0.7-0.3l0.2-0.1l0.6-0.4l0.7-0.4l0.1-0.1l0.8-0.5l0.3-0.2l0.5-0.3l0.7-0.2l0-0.3l0-0.8l0-0.8l0-0.8l0-0.8l-0.7-0.1l-0.8-0.2l-0.8-0.3l-0.3-0.2l-0.5-0.5l-0.1-0.3l-0.2-0.8l0-0.8l0.3-0.8l0-0.1l0.5-0.7l0.3-0.3l0.5-0.5l0.3-0.2l0.8-0.4l0.3-0.1l0.4-0.2l0-0.6l0-0.8l0-0.8l-0.7 0.3l-0.8 0.4l-0.1 0.1l-0.7 0.3l-0.6 0.5l-0.2 0.1l-0.8 0.6l0 0.1l-0.6 0.7l-0.1 0.3l-0.2 0.5l-0.2 0.8l-0.2 0.8l-0.1 0.8l-0.1 0.8l0 0.1l-0.2 0.7l-0.2 0.8l-0.3 0.8l-0.1 0.1l-0.4 0.7l-0.4 0.8l-0.4 0.8l-0.4 0.8l-0.8 0.5l-0.4-0.5l-0.3-0.2l-0.7-0.6l-0.1-0.1l-0.8-0.6l-0.2-0.1l-0.6-0.2l-0.8-0.2l-0.7 0l-0.8 0l-0.8-0.1l-0.8 0l-0.8-0.1l-0.7-0.2l-0.1 0l-0.5-0.8l0.3-0.8l0.2-0.8l0.1 0l0.2-0.8l0-0.8l0-0.8l-0.1-0.8l0-0.8l0.1-0.8l0.2-0.7l0.3-0.8l0.1 0l0.3-0.8l0.4-0.8l0.1 0l0.7-0.8l0-0.1l0.8-0.4l0.8-0.2l0.7-0.1l0.8 0.1l0.8 0.3l0.5 0.4l0.3 0.2l0.6 0.6l0.2 0.2l0.6 0.6l0.1 0.1l0.8 0.4l0.8 0.2l0.8-0.2l0.8-0.5l0.6-0.8l0.2-0.2l0.4-0.6l0.3-0.7l0.1-0.1l0.4-0.8l0.3-0.4l0.3-0.4l0.5-0.4l0.8-0.4l0.8-0.1l0.7 0l0-0.7l0-0.8l0-0.8l-0.7 0l-0.6 0l-0.2 0l-0.8 0.1l-0.8 0.2l-0.8 0.2l-0.7 0.3l-0.1 0l-0.7 0.3l-0.8 0.4l-0.1 0.1l-0.7 0.5l-0.5 0.3l-0.3 0.2l-0.8 0.2l-0.7 0l-0.8-0.1l-0.8-0.1l-0.8-0.1l-0.8 0l-0.7 0l-0.8 0l-0.8-0.1l-0.2 0l-0.6-0.1l-0.8-0.3l-0.7-0.3l-0.2-0.1l-0.6-0.4l-0.4-0.4l-0.4-0.7l0-0.1l-0.2-0.8l-0.1-0.8l-0.4-0.8l-0.1 0l-0.8-0.3l-0.8-0.1l-0.7 0.1l-0.8 0.2l-0.8 0.1l-0.8 0.2l-0.8 0.2l-0.7 0.1l-0.8 0.2l-0.3 0.1l-0.5 0.3l-0.8 0.4l-0.2 0.1l-0.6 0.3l-0.8 0.2l-0.7 0.2l-0.4 0.1l-0.4 0.1l-0.8 0.4l-0.4 0.3l-0.4 0.2l-0.7 0.6l-0.1 0.1l-0.7 0.5l-0.3 0.2l-0.5 0.3l-0.8 0.2l-0.8 0.1l-0.8-0.2l-0.7-0.3l-0.3-0.1l-0.5-0.4l-0.5-0.4l-0.3-0.5l-0.2-0.3l-0.6-0.8l-0.8-0.6l-0.8-0.2l-0.7-0.1l-0.8-0.3l-0.8-0.4l-0.8-0.6l-0.1-0.2l-0.5-0.8l-0.2-0.5l0-0.3l-0.1-0.8l0.1-0.8l0.2-0.8l0.4-0.8l0.2-0.2l0.5-0.5l0.3-0.3l0.8-0.3l0.8 0l0.7 0.2l0.8 0.4l0.8 0.3l0.8 0.3l0.7 0.1l0.1 0.1l0.3-0.1l0.5 0l0.7-0.1l0.8-0.2l0.8-0.3l0.3-0.1l0.5-0.4l0.4-0.4l0.4-0.6l0.1-0.2l0.6-0.7l0.2-0.1l0.6-0.3l0.8-0.3l0.5-0.2l0.3-0.1l0.8-0.4l0.7-0.3l0-0.1l0.8-0.3l0.8-0.2l0.8-0.2l0.2 0l0.6-0.1l0.8-0.1l0.7 0.1l0.2 0.1l0.6 0.4l0.4 0.4l0.4 0.4l0.4 0.4l0.4 0.3l0.8 0.5l0.7 0.2l0.8 0.1l0.6-0.3l0.2-0.4l0.1-0.4l0-0.8l-0.1-0.5l0-0.3l-0.1-0.8l0.1-0.8l0.8-0.6l0.7-0.2l0.1 0l0.3 0l0.5 0l0.7 0.4l0.4 0.4l0.4 0.4l0.3 0.4l0.5 0.4l0.4 0.4l0.4 0.2l0.8 0.4l0.5 0.2l0.2 0.1l0.8 0.1l0.8-0.1l0.3-0.1l0.4-0.8l0-0.8l-0.3-0.8l-0.3-0.8l-0.1-0.1l-0.6-0.7l-0.2-0.2l-0.8-0.5l-0.1-0.1l-0.6-0.3l-0.8-0.4l-0.1-0.1l-0.4-0.8l0.1-0.8l0.3-0.8l0.1-0.2l0.3-0.6l0.4-0.8l0.1 0l0.7-0.7l0.8 0l0.8 0.3l0.7 0.4l0.1 0.1l0.8 0.3l0.7 0.2l0.8 0l0.8 0l0.8-0.1l0.8-0.1l0.8-0.1l0.7 0.1l0.8 0.2l0.3 0.2l0.5 0.4l0.4 0.4l0.4 0.6l0.2 0.2l0.5 0.8l0.1 0.1l0.7 0.7l0-0.8l0-0.8l0-0.8l0-0.8l0-0.1l-0.7-0.5l-0.2-0.2l-0.6-0.5l-0.3-0.3l-0.5-0.4l-0.8-0.2l-0.8 0l-0.7 0.2l-0.8 0.2l-0.8 0.2l-0.7 0l-0.1 0.1l-0.1-0.1l-0.7 0l-0.8-0.4l-0.4-0.3l-0.3-0.4l-0.4-0.4l-0.4-0.8l0-0.1l-0.3-0.7l-0.1-0.8l-0.2-0.8l-0.2-0.5l-0.3-0.3l-0.5-0.3l-0.8-0.1l-0.7 0l-0.8 0.1l-0.5 0.3l-0.3 0.2l-0.4 0.6l-0.1 0.8l0.2 0.8l0.2 0.8l0.1 0.4l0.1 0.4l0 0.8l-0.1 0.2l-0.1 0.5l-0.3 0.8l-0.3 0.8l-0.1 0.2l-0.4 0.6l-0.4 0.6l-0.2 0.2l-0.5 0.6l-0.3 0.2l-0.5 0.3l-0.8 0.2l-0.8 0l-0.7-0.5l-0.1 0l-0.6-0.8l-0.2-0.1l-0.5-0.7l-0.2-0.2l-0.7-0.6l-0.1-0.1l-0.8-0.3l-0.8-0.2l-0.8-0.1l-0.1-0.1l-0.6-0.2l-0.8-0.4l-0.3-0.2l-0.5-0.2l-0.8-0.5l-0.8-0.4l-0.8-0.3l-0.6-0.1l-0.1-0.1l-0.8 0.1l-0.8 0.2l-0.8 0.4l-0.2 0.2l-0.6 0.5l-0.1 0.2l-0.4 0.8l-0.1 0.8l0 0.8l0 0.8l0.1 0.8l0.1 0.8l0.4 0.8l0.1 0l0.7 0.6l0.4 0.2l0.4 0.4l0.4 0.4l0 0.8l-0.4 0.4l-0.7 0.4l-0.1 0l-0.8 0.2l-0.7 0l-0.8 0.1l-0.8 0.4l-0.1 0.1l-0.7 0.8l-0.5 0.8l-0.3 0.3l-0.4 0.5l-0.3 0.3l-0.8 0.3l-0.8-0.1l-0.8-0.3l-0.3-0.2l-0.5-0.3l-0.7-0.5l-0.1 0l-0.7-0.4l-0.8-0.1l-0.8 0l-0.8 0.3l-0.2 0.2l-0.6 0.4l-0.3 0.4l-0.4 0.4l-0.5 0.4l-0.3 0.3l-0.8 0.4l-0.8 0l-0.8-0.1l-0.8-0.2l-0.7 0l-0.8 0.3l-0.1 0.1l-0.1 0.8l0.1 0.7l0.1 0.7l0 0.1l0 0.4l0 0.4l-0.2 0.8l-0.3 0.8l-0.3 0.8l0 0.6l0 0.2l0.3 0.8l0.5 0.7l0 0.1l0.6 0.8l0.2 0.2l0.3 0.6l0.4 0.8l0 0.3l0.2 0.5l0 0.8l-0.1 0.8l-0.1 0.1l-0.2 0.7l-0.5 0.6l-0.2 0.2l-0.6 0.5l-0.5 0.3l-0.3 0.3l-0.5 0.5l-0.1 0.8l0.3 0.8l0.3 0.3l0.4 0.4l0.4 0.4l0.5 0.4l0.3 0.7l0 0.1l0 0.1l-0.8 0.5l-0.8 0.1l-0.8 0l-0.8-0.1l-0.7-0.1l-0.8-0.3l-0.3-0.2l-0.5-0.4l-0.3-0.4l-0.5-0.5l-0.2-0.3l-0.6-0.5l-0.3-0.2l-0.4-0.3l-0.8-0.1l-0.8 0.3l-0.1 0.1l-0.7 0.3l-0.3 0.4l-0.5 0.6l-0.1 0.2l-0.3 0.8l-0.3 0.8l-0.1 0.1l-0.2 0.7l-0.3 0.8l-0.2 0.6l-0.1 0.2l-0.3 0.8l-0.2 0.8l-0.2 0.8l0 0.3l-0.1 0.5l-0.2 0.8l-0.2 0.8l-0.3 0.7l-0.1 0.1l-0.6 0.8l-0.1 0l-0.8 0.6l-0.1 0.2l-0.6 0.5l-0.3 0.3l-0.5 0.8l0 0.1l-0.4 0.7l-0.4 0.6l-0.2 0.1l-0.6 0.5l-0.8 0.2l-0.8-0.1l-0.7-0.3l-0.6-0.3l-0.2 0l-0.8-0.2l-0.8 0.1l-0.6 0.1l-0.2 0.1l-0.7 0.4l-0.8 0.3l-0.3 0l-0.5 0.1l-0.8 0.1l-0.8 0.2l-0.7 0.2l-0.8 0.2l0 0.1l-0.8 0.2l-0.8 0.3l-0.6 0.2l-0.2 0.1l-0.8 0.2l-0.7 0.3l-0.6 0.2l-0.2 0.2l-0.8 0.3l-0.8 0.3l-0.1 0l-0.7 0.1l-0.7 0l-0.8 0l-0.8 0.1l-0.8 0l-0.8-0.1l-0.3-0.1l-0.5 0l-0.7-0.1l-0.8 0l-0.1 0.1l-0.7 0.6l-0.1 0.2l-0.4 0.8l-0.3 0.6l-0.1 0.2l-0.5 0.8l-0.2 0.3l-0.4 0.5l-0.3 0.5l-0.3 0.3l-0.5 0.7l-0.1 0.1l-0.7 0.8l0 0.1l-0.7 0.7l-0.1 0l-0.8 0.4l-0.7 0l-0.6-0.4l-0.2-0.2l-0.6-0.6l-0.2-0.4l-0.2-0.4l-0.3-0.8l-0.2-0.8l-0.1-0.8l0-0.6l0-0.2l-0.1-0.8l-0.1-0.8l-0.3-0.8l-0.3-0.2l-0.4 0.2l-0.4 0.2l-0.7 0.4l-0.7 0.2l-0.1 0l-0.3 0l-0.5 0l-0.8-0.4l-0.6-0.4l-0.2-0.1l-0.7-0.5l-0.4-0.2l-0.4-0.2l-0.8-0.2l-0.8 0.1l-0.8 0.1l-0.7 0.2l-0.1 0l-0.7 0.1l-0.8 0l-0.4-0.1l-0.4-0.1l-0.8-0.4l-0.3-0.3l-0.5-0.5l-0.2-0.3l-0.4-0.8l0-0.8l0-0.7l-0.1-0.7l-0.1-0.1l-0.5-0.8l-0.2-0.2l-0.8-0.6l-0.1 0l-0.7-0.3l-0.8-0.3l-0.7-0.2l-0.3 0l-0.5-0.2l-0.7-0.6l-0.1-0.4l-0.1-0.4l0.1-0.4l0.1-0.4l0.2-0.8l0.1-0.8l0.1-0.8l-0.1-0.8l-0.1-0.8l-0.1-0.8l-0.2-0.5l-0.3-0.3l-0.5-0.2l-0.8 0l-0.8 0l-0.7 0l-0.8 0.1l-0.3 0.1l-0.5 0.2l-0.8 0.5l-0.1 0.1l-0.7 0.6l-0.3 0.2l-0.4 0.3l-0.8 0.1l-0.8-0.1l-0.6-0.3l-0.2-0.1l-0.5-0.7l-0.3-0.8l0.3-0.8l0.5-0.4l0.3-0.4l0.5-0.4l0.3-0.4l0.5-0.4l0.4-0.4l0.4-0.3l0.7-0.3l0.8 0l0.8-0.1l0.1 0l0.6-0.8l0.1-0.5l0-0.3l0-0.2l-0.3-0.6l-0.5-0.5l-0.4-0.3l-0.4-0.3l-0.3-0.5l-0.5-0.7l0-0.1l-0.3-0.8l-0.1-0.8l0.1-0.8l0.3-0.8l-0.7-0.8l0-0.8l-0.1 0l-0.5 0.8l-0.2 0.5l-0.2 0.3l-0.4 0.8l-0.1 0.8l0 0.8l0.1 0.8l0.1 0.8l0 0.8l-0.2 0.8l-0.1 0.1l-0.4 0.7l-0.4 0.3l-0.8 0.4l-0.8-0.1l-0.7-0.6l-0.8-0.8l-0.1 0l-0.7-0.5l-0.8-0.1l-0.8 0.3l-0.3 0.3l-0.4 0.4l-0.3 0.4l-0.5 0.8l-0.4 0.8l-0.4 0.6l-0.1 0.1l-0.6 0.8l-0.1 0.2l-0.5 0.6l-0.3 0.8l0 0.1l0.2 0.7l0.4 0.8l0.2 0.8l0 0.2l0.1 0.6l0.2 0.8l0.3 0.8l0.2 0.4l0.8 0.2l0.3-0.2l0.5-0.4l0.2 0l0.5-0.5l0.6-0.3l0.2-0.1l0.8 0.1l0.1 0l0.7 0.7l0 0.1l0.8 0l0.7 0l0.8 0.8l-0.8 0.8l-0.7 0.8l-0.3 0l0.1 0.8l0.1 0.8l0 0.8l0 0.8l0.1 0.2l0.2 0.6l0.5 0.5l0.3 0.3l0.5 0.7l0.4 0.8l0.1 0.8l0.1 0.8l-0.1 0.8l-0.3 0.8l0 0.2l0.6 0.6l0 0.8l0 0.8l0 0.8l-0.1 0.1l0.1 0.1l0.8 0.3l0.8 0.1l0.8 0l0.7-0.3l0.7-0.3l0.1 0l0.8-0.2l0.8 0.1l0.1 0.1l0.7 0.6l0 0.2l0.4 0.8l0.1 0.8l0.2 0.8l0 0.8l-0.1 0.8l-0.4 0.8l-0.2 0.2l-0.8 0.3l-0.8 0l-0.8-0.2l-0.8-0.3l-0.7-0.4l-0.7-0.4l-0.1-0.2l-0.8-0.5l-0.4-0.1l-0.4-0.2l-0.8-0.2l-0.3-0.1l-0.5 0.5l-0.7 0l-0.8 0l-0.8 0l-0.8 0l-0.8 0l-0.7 0l-0.8-0.8l-0.8 0l-0.8 0l-0.8 0l-0.7 0l-0.8 0l-0.6 0l-0.1 0.8l0.1 0.8l0.2 0.8l0.3 0.8l0.1 0.4l0.1 0.4l0 0.8l0.1 0.8l-0.1 0.7l-0.1 0.8l0 0.1l-0.3 0.7l-0.4 0.8l-0.1 0.2l-0.5 0.6l-0.3 0.4l-0.3 0.4l-0.3 0.8l-0.1 0.8l0.2 0.8l0.4 0.8l0.1 0.2l0.5 0.6l0.3 0.2l0.8 0.5l0.8 0.1l0.7-0.2l0.8-0.2l0.8-0.2l0.8-0.2l0.5 0l0.3 0l0.1 0l0.6 0.1l0.8 0.1l0.8 0l0.8 0l0.8-0.1l0.3-0.1l0.4-0.1l0.8-0.2l0.8-0.3l0.4-0.2l0.4-0.4l0.2-0.4l0.1-0.8l0-0.8l-0.1-0.8l0-0.8l0-0.8l0-0.8l0.2-0.8l0.4-0.8l0.8-0.6l0.6-0.1l0.1-0.1l0.8-0.1l0.8 0.1l0.1 0.1l0.7 0.1l0.8 0.2l0.7 0.3l0.5 0.1l0.3 0.2l0.8 0.1l0.8 0.1l0.8 0l0.8 0l0.7 0l0.8 0l0.8 0.1l0.8 0l0.8-0.1l0.7-0.2l0.3-0.2l0.5-0.7l-0.2-0.8l-0.5-0.8l-0.1-0.1l-0.5-0.7l-0.2-0.4l-0.3-0.4l-0.1-0.8l0.1-0.8l0.3-0.5l0.7-0.3l0.8 0l0.8 0l0.2 0l0.6-0.1l0.8-0.2l0.7-0.5l0-0.4l0.1-0.4l-0.1-0.4l0-0.4l-0.2-0.8l0.1-0.8l0.1-0.3l0.5-0.5l0.3-0.2l0.8-0.2l0.8 0l0.8 0.3l0.2 0.1l0.6 0.7l0 0.1l0.4 0.8l0.3 0.7l0.1 0.1l0.7 0.3l0.8 0.1l0.8 0.2l0.3 0.2l0.5 0.3l0.3 0.5l0.4 0.6l0.1 0.2l0.5 0.8l0.2 0.3l0.3 0.5l0.4 0.8l0.1 0.2l0.2 0.4l0.6-0.6l0.8 0l0.8-0.8l0.7 0l0.8 0l0.8 0.8l-0.8 0.8l-0.8 0.8l-0.7 0.8l-0.8 0.8l-0.8 0.7l0 0.8l0 0.3l0.4 0.5l0.4 0.4l0.8-0.2l0-0.2l0.2-0.8l0.1-0.8l0.2-0.7l0.2-0.6l0.1-0.2l0.6-0.8l0.1-0.2l0.7-0.6l0.1-0.2l0.6-0.6l0.2-0.2l0.4-0.6l0.4-0.8l0.3-0.8l0.4-0.8l0.1 0l0.5-0.8l0.2-0.2l0.5-0.6l0.3-0.3l0.5-0.5l0.3-0.2l0.8-0.4l0.7-0.2l0.8 0l0.8 0.1l0.8 0l0.8 0.1l0.8 0.2l0.7 0.1l0.8-0.2l0.5-0.3l0.3-0.2l0.8-0.6l0.8-0.6l0.2-0.2l0.5-0.3l0.8-0.4l0.2-0.1l0.6-0.2l0.8-0.2l0.8-0.2l0.8 0l0.7 0.1l0.8 0.2l0.8 0.1l0.8-0.1l0.8-0.2l0.7-0.3l0.8-0.4l0.8-0.2l0.8-0.1l0.8 0l0.7 0l0.7-0.1l0.1 0l0.8-0.1l0.8-0.3l0.7-0.4l0.1 0l0.8-0.7l0-0.1l0.7-0.7l0-0.1l0.8-0.6l0.2-0.1l0.6-0.3l0.8-0.3l0.6-0.2l0.2-0.1l0.6-0.7l0.1-0.3l0.2-0.5l0.1-0.8l-0.1-0.8l0-0.8l0-0.8l0.1-0.8l0.3-0.8l0.2-0.3l0.8-0.4l0.8 0l0.8 0.1l0.8 0.1l0.7-0.2l0.2-0.1l0.6-0.5l0.4-0.3l0.4-0.2l0.8-0.2l0.8 0.2l0.3 0.2l0.4 0.4l0.5 0.4l0.3 0.8l0.8 0.5l0.7-0.5l0.1-0.1l0.4-0.7l0.4-0.3l0.3-0.5l0.4-0.3l0.7-0.5l0.1 0l0.8-0.4l0.7-0.4l0.1 0l0.8-0.5l0.3-0.3l0.5-0.7l0-0.1l0.2-0.8l0-0.8l-0.1-0.8l0.2-0.7l0.4-0.8l0-0.1l0.8-0.7l0.2 0l0.6-0.2l0.8 0.2l0.2 0.8l-0.1 0.8l-0.1 0.6l-0.1 0.1l-0.1 0.8l0.2 0.7l0 0.1l0.6 0.8l0.2 0.1l0.7 0.3l0.8 0.1l0.8 0l0.8-0.1l0.8 0l0.8 0l0.7 0.1l0.8 0.1l0.8 0.1l0.8 0l0.8 0.1l0.3 0l0.4 0.1l0.8 0.2l0.7 0.5l0.1 0.1l0.7 0.7l0.1 0.1l0.8 0.6l0.5 0.1l0.2 0.1l0.2-0.1l0.6-0.2l0.6-0.6l0.2-0.2l0.4-0.6l0.4-0.4l0.4-0.4l0.4-0.3l0.8-0.3l0.5-0.2l0.2 0l0.8-0.1l0.8-0.1l0.8-0.1l0.8-0.1l0.7-0.2l0.8 0.6l0 0.2l0 0.6l-0.4 0.8l-0.4 0.6l-0.1 0.2l-0.6 0.8l-0.5 0.8l-0.3 0.7l0 0.1l-0.1 0.8l0 0.8l0 0.8l-0.1 0.8l-0.2 0.8l-0.2 0.8l0 0.8l0.2 0.8l0.4 0.8l0.5 0.7l0.3 0.5l0.4 0.3l0.3 0.4l0.8 0.3l0.8 0l0.8-0.4l0.2-0.3l0.3-0.8l0.1-0.7l0-0.8l-0.1-0.8l-0.1-0.8l0.1-0.8l0.3-0.5l0.3-0.3l0.5-0.3l0.7-0.2l0.8-0.2l0.8-0.1l0.4 0l0.4 0l0.7 0l0.1 0l0.7 0.2l0.8 0.6l0.5 0.8l0.3 0.6l0.1 0.2l0.2 0.8l0.2 0.8l0.1 0.8l0.1 0.7l0 0.8l0.1 0.4l0 0.4l0.1 0.8l0 0.8l-0.1 0.2l-0.4 0.6l-0.4 0.3l-0.7 0.5l-0.1 0.1l-0.8 0.3l-0.7 0.3l-0.8 0l-0.8-0.1l-0.8-0.2l-0.8 0l-0.7 0.4l-0.1 0l-0.7 0.4l-0.8 0.3l-0.2 0.1l-0.6 0.2l-0.8 0.3l-0.8 0.2l-0.3 0.1l-0.4 0.1l-0.8 0.2l-0.8 0.1l-0.8 0.1l-0.8 0l-0.7-0.1l-0.8-0.2l-0.8 0l-0.8 0.3l-0.3 0.3l-0.5 0.6l-0.1 0.2l-0.2 0.8l-0.2 0.8l-0.1 0.8l-0.2 0.2l-0.5 0.6l-0.2 0.1l-0.8 0.2l-0.8 0.2l-0.8 0.2l-0.3 0.1l-0.5 0.1l-0.7 0.2l-0.8 0.4l-0.2 0.1l-0.6 0.2l-0.8 0.3l-0.8 0.2l-0.1 0.1l-0.6 0.1l-0.8 0l-0.8-0.1l-0.8 0l-0.8 0l-0.8 0.1l-0.7 0.5l-0.3 0.2l-0.5 0.3l-0.5 0.5l-0.3 0.2l-0.7 0.5l-0.1 0.1l-0.6 0.7l-0.2 0.6l0 0.2l0 0.2l0.2 0.6l0.3 0.8l0.3 0.6l0.1 0.2l0.3 0.8l0.1 0.8l-0.3 0.8l-0.2 0.3l-0.4 0.5l-0.4 0.5l-0.2 0.3l-0.1 0.8l0.1 0.8l0.2 0.4l0.2 0.4l0.5 0.8l0.1 0.1l0.4 0.7l0.4 0.5l0.2 0.3l0.6 0.7l0 0.1l0.3 0.8l0.1 0.8l0 0.7l0.1 0.8l0.3 0.7l0 0.1l0 0.1l0.7 0.7l0.8 0.8l0.8 0l0.8 0l0.8 0.8l0.8 0zM335.8 109.7l-0.1-0.8l0.3-0.8l0.2-0.2l0.2-0.6l0.3-0.8l0.2-0.6l0.1-0.2l0.1-0.8l0.2-0.8l0.1-0.7l0.2-0.8l0.1-0.5l0.3-0.3l0.5-0.5l0.8 0.2l0.5 0.3l0.3 0.1l0.7 0.1l0.8 0.1l0.8 0l0.8 0l0.8 0.3l0.2 0.2l0.5 0.4l0.3 0.4l0.4 0.7l0.1 0.4l0.1 0.4l0.1 0.8l0.1 0.8l0 0.8l-0.1 0.8l-0.2 0.8l-0.6 0.8l-0.2 0.1l-0.7 0.4l-0.8 0.1l-0.8 0.1l-0.8-0.1l-0.8 0l-0.7-0.1l-0.8 0l-0.8 0l-0.8 0.1l-0.8 0l-0.7-0.2zM358.1 95.4l-0.1 0l-0.7-0.7l-0.2-0.1l-0.4-0.8l-0.2-0.8l0.1-0.8l0.4-0.8l0.3-0.2l0.7-0.2l0.8 0.2l0.4 0.2l0.4 0.3l0.4 0.5l0.4 0.7l0 0.1l0.2 0.8l-0.1 0.8l-0.1 0.5l-0.2 0.3l-0.6 0.5l-0.8-0.1zM348.2 86.7l-0.3-0.2l-0.8-0.5l-0.2-0.1l-0.5-0.8l-0.1-0.4l-0.1-0.4l0-0.8l0.1-0.3l0.1-0.5l0.5-0.8l0.2-0.2l0.8-0.6l0.1 0l0.7-0.1l0.7-0.1l0.8-0.1l0.8-0.1l0.8-0.1l0.3 0.5l0.2 0.8l0.2 0.8l0.1 0.2l0.1 0.6l0.1 0.8l0.1 0.8l-0.1 0.8l-0.2 0.4l-0.4 0.4l-0.4 0.1l-0.8 0.2l-0.8 0.1l-0.8-0.1l-0.7-0.2zM443.2 72.3l-0.8-0.4l-0.7-0.3l-0.1 0l-0.7-0.6l-0.2-0.2l-0.4-0.8l-0.1-0.8l0.2-0.8l0.5-0.4l0.8-0.1l0.7 0l0.8 0.1l0.8-0.1l0.8-0.2l0.2-0.1l0.6-0.3l0.7-0.5l0.2 0l0.6-0.4l0.8-0.4l0.5 0l0.3 0l0.1 0l0.7 0.3l0.4 0.5l0.3 0.7l0.1 0.1l-0.1 0.1l0 0.7l-0.5 0.8l-0.2 0.3l-0.4 0.5l-0.4 0.5l-0.2 0.3l-0.6 0.7l0 0.1l-0.8 0.7l-0.8 0.5l-0.7 0.3l-0.8-0.1l-0.8-0.2l-0.8-0.4zM453.2 72.3l-0.3-0.7l0-0.8l0.2-0.8l0.2-0.8l0.1-0.1l0.8-0.1l0 0.2l0.5 0.8l0.2 0.2l0.3 0.6l0.2 0.8l-0.3 0.7l-0.2 0.1l-0.7 0.2l-0.8-0.2zM458.8 71.6l-0.7-0.8l0-0.1l-0.5-0.7l-0.3-0.8l0-0.5l0-0.3l0-0.2l0.1-0.6l0.5-0.8l0.2-0.2l0.7-0.1l0.7 0.3l0.1 0l0.7 0.8l0.1 0.1l0.3 0.7l0.2 0.8l-0.1 0.8l-0.3 0.8l-0.1 0.3l-0.4 0.5l-0.4 0.4l-0.8-0.3zM455.6 46.9l-0.4-0.8l0-0.8l0.5-0.4l0.8 0.2l0.3 0.2l0.5 0.8l-0.1 0.8l-0.7 0.5l-0.8-0.3zM448.4 44.5l-0.5-0.4l-0.2-0.4l-0.3-0.8l-0.1-0.8l0.1-0.8l0.5-0.7l0.1-0.1l0.7-0.3l0.8-0.1l0.7 0.2l0.5 0.2l0.3 0.3l0.7 0.5l0.1 0.2l0.5 0.6l0.3 0.8l0 0.2l-0.1 0.6l-0.7 0.7l-0.1 0.1l-0.7 0.3l-0.8 0.3l-0.7-0.1l-0.8-0.3zM447.1 124.8l0.1 0l-0.1 0zM478.4 89.2l0.8 0.2l0.7 0.1l0-0.5l0-0.8l0-0.8l0-0.7l0-0.8l0-0.8l0-0.2l-0.3 0.2l-0.4 0.1l-0.8 0.5l-0.3 0.2l-0.5 0.6l-0.2 0.2l-0.3 0.7l0.2 0.8l0.3 0.3l0.5 0.5zM449.5 85.9l0.7 0.4l0.6-0.4l-0.2-0.8l-0.4-0.3l-0.3 0.3l-0.4 0.7l0 0.1zM337.7 85.2l0.3-0.1l0.2-0.8l-0.5-0.3l-0.3 0.3l0.1 0.8zM421.3 68.4l0.3 0l0.5-0.1l0.8-0.3l0.5-0.4l0.3-0.6l0-0.2l0-0.8l0-0.2l-0.2-0.6l-0.3-0.8l-0.3-0.6l-0.2-0.2l-0.6-0.7l-0.2-0.1l-0.6-0.3l-0.7 0.1l-0.2 0.2l-0.6 0.6l-0.1 0.2l-0.3 0.8l-0.1 0.8l0 0.8l0.1 0.8l0.3 0.8l0.1 0.1l0.8 0.6l0.4 0.1zM369.8 53.4l0.1-0.1l0.6-0.5l0.6-0.3l0.2-0.2l0.8-0.4l0.5-0.2l0.3-0.1l0.8-0.2l0.7-0.2l0.8-0.2l0.4-0.1l0.4-0.2l0.8-0.5l0.1-0.1l0.6-0.8l0.1-0.1l0.2-0.7l0-0.8l-0.1-0.8l-0.1-0.7l-0.1-0.1l-0.3-0.8l-0.4-0.8l0-0.2l-0.3-0.6l0.1-0.8l0.2-0.1l0.5-0.7l0.3-0.1l0.8-0.5l0.1-0.2l0.6-0.4l0.6-0.4l0.2-0.2l0.4-0.5l-0.1-0.8l-0.3-0.3l-0.8-0.2l-0.7 0.1l-0.8 0.2l-0.3 0.2l-0.5 0.4l-0.3 0.4l-0.5 0.7l0 0.2l-0.2 0.6l-0.2 0.8l-0.2 0.8l-0.2 0.2l-0.4 0.6l-0.4 0.2l-0.7 0.4l-0.8 0l-0.8-0.3l-0.2-0.3l-0.6-0.5l-0.2-0.3l-0.6-0.7l0-0.1l-0.5-0.8l-0.2-0.6l-0.1-0.2l-0.1-0.7l0.2-0.2l0.2-0.6l0.5-0.8l0.1 0l0.3-0.4l-0.4 0.4l-0.7 0l-0.8 0l-0.8 0.8l-0.7 0.7l0.1 0.1l-0.2 0.2l-0.8 0.5l-0.8 0.8l0 0.8l0 0.7l0.3 0.1l0.5 0.3l0.8 0.4l0.3 0.1l0.5 0.3l0.6 0.5l0.2 0.2l0.6 0.6l0.2 0.3l0.3 0.5l0.3 0.8l0 0.8l-0.6 0.8l-0.1 0l-0.7 0.3l-0.8 0.2l-0.8 0l-0.8 0l0 0.3l0.8 0.8l0 0.8l0 0.8l0.8 0.8l0.8 0.8l0.2 0.2zM479.9 51.9l0-0.2l0-0.8l0-0.8l0-0.8l0-0.8l0-0.8l0-0.7l-0.7 0.5l-0.2 0.2l-0.6 0.7l-0.1 0.1l-0.2 0.8l0 0.8l0.3 0.7l0 0.1l0.8 0.6l0.2 0.2zM476 36.6l0.8 0.1l0.5-0.1l0.3-0.1l0.8-0.7l0.5-0.8l0.3-0.7l0.1-0.1l0.4-0.8l-0.5-0.5l-0.2-0.3l-0.6-0.3l-0.8-0.4l-0.2-0.1l-0.6-0.2l-0.8-0.1l-0.7-0.1l-0.8 0.1l-0.7 0.3l-0.1 0l-0.8 0.8l0 0.1l-0.3 0.7l0.2 0.8l0.1 0.1l0.5 0.7l0.3 0.2l0.7 0.6l0.1 0l0.8 0.5l0.7 0.3zM255.2 22.3l0.5-0.1l0.7-0.1l0.8-0.1l0.8 0.1l0.8 0.1l0.3 0.1l0.5 0.2l0.7 0.6l0.8 0l0.8-0.8l0.8 0l0.8 0l0.8 0l0.7 0l0.8 0l0.8-0.8l0.8 0l0.8 0l0.3 0l0.4-0.1l0.1 0l0.7-0.7l0.8 0l0.8 0l0.8 0l0.7-0.8l0.8 0l0.6 0l0.2-0.2l0.8-0.6l0.1 0l0.7-0.2l0.8-0.2l0.7-0.1l0.5 0l0.3-0.3l0.8 0l0.8 0l0.8-0.8l0.4 0l-0.4-0.5l-0.6-0.3l-0.2-0.1l-0.8-0.1l-0.8 0l-0.8 0.1l-0.4 0.1l-0.3 0l-0.8 0.2l-0.8 0.1l-0.8 0.1l-0.8 0.2l-0.8 0.2l-0.7 0.2l-0.8 0.1l-0.8-0.1l-0.4-0.2l-0.4-0.3l-0.3-0.5l-0.2-0.8l-0.1-0.8l-0.1-0.8l-0.1-0.4l0-0.4l-0.3-0.8l-0.4 0l-0.8 0l-0.8 0l-0.8 0l-0.8 0l-0.3 0l-0.4 0.8l0 0.2l-0.4 0.6l-0.4 0.5l-0.7 0.3l-0.1 0.1l-0.8 0.1l-0.8 0.1l-0.8 0.2l-0.6 0.3l-0.1 0.1l-0.8 0.5l-0.3 0.2l-0.5 0.5l-0.8 0.3l-0.2 0l-0.6 0l-0.5 0l-0.2 0l-0.8 0l0 0.8l0 0.8l0 0.8l0 0.8l0 0.8l0 0.8z"/>
<path fill="#a82e5f" stroke="#a82e5f" stroke-width="0.3" d="M451.8 126.9l0.8 0.1l0.8-0.2l0.8-0.3l0.1-0.1l0.6-0.2l0.8-0.3l0.8-0.3l0.8-0.3l0.8-0.5l0.7-0.8l0.5-0.8l0.2-0.8l0.1-0.2l0.3-0.6l0.5-0.4l0.8-0.3l0.8 0l0.8 0.4l0.3 0.3l0.4 0.4l0.5 0.4l0.3 0.3l0.8 0.5l0.1 0l0.7 0.1l0.1-0.1l0.7-0.2l0.7-0.5l0.1-0.1l0.7-0.3l0.8-0.1l0.8 0l0.8-0.1l0.7-0.3l0.8-0.4l0.7-0.4l0.1 0l0.8-0.4l0.8-0.2l0.8-0.1l0.1-0.1l0.6 0l0.8-0.1l0.8-0.2l0.8-0.3l0.4-0.1l0.4-0.2l0.7-0.3l0-0.3l0-0.8l0-0.8l0-0.1l0 0.1l-0.7 0.3l-0.8 0.5l-0.8 0.3l-0.8 0.1l-0.8 0.1l-0.7-0.1l-0.8-0.2l-0.8-0.1l-0.8 0.3l-0.4 0.4l-0.4 0.2l-0.8 0.4l-0.7 0.1l-0.8-0.1l-0.8-0.2l-0.8-0.3l-0.7-0.1l-0.1-0.1l-0.7-0.1l-0.8-0.2l-0.8-0.3l-0.4-0.1l-0.4-0.2l-0.8 0l-0.3 0.2l-0.4 0.1l-0.8 0.4l-0.5 0.3l-0.3 0.1l-0.8 0.3l-0.8 0.2l-0.8 0.1l0 0.1l-0.7 0.1l-0.8 0.2l-0.8 0l-0.8 0l-0.5-0.3l-0.3-0.1l-0.7-0.7l0-0.1l-0.8-0.7l0-0.1l-0.1 0.1l-0.5 0.8l0.4 0.8l0.2 0.1l0.8 0.4l0.4 0.2l0.3 0.2l0.8 0.5l0.1 0.1l0.7 0.7l0.1 0.1l0.4 0.8l-0.1 0.8l-0.4 0.5l-0.4 0.3l-0.4 0.2l-0.8 0.3l-0.7 0.3l-0.1 0l-0.7 0.2l-0.8 0.1l-0.7-0.2l0.7 0.7l-0.8 0.8l-0.4 0.4zM444 125.6l0.8 0l0.8-0.8l0.7 0l0.8 0l0.1 0l0.7-0.8l0.8-0.8l0.8 0.8l0.7 0l0.8 0.8l0.7 0l-0.6-0.8l-0.1-0.1l-0.3-0.7l-0.5-0.7l0-0.1l-0.7-0.5l-0.8 0.1l-0.8 0.4l-0.8 0.5l-0.4 0.3l-0.4 0.2l-0.7 0.3l-0.8 0.1l-0.8-0.4l-0.1-0.2l-0.6-0.8l-0.1-0.2l-0.3-0.6l-0.5-0.7l0-0.1l-0.5-0.8l-0.2-0.4l-0.2-0.3l-0.5-0.8l-0.1-0.3l-0.4-0.5l-0.4-0.6l-0.2-0.2l-0.6-0.8l-0.6-0.8l-0.2-0.3l-0.2-0.5l-0.1-0.8l0.3-0.8l0.7-0.8l0.1-0.1l0.8-0.5l0.7-0.2l0.1 0l0.8-0.2l0.7-0.1l0.8-0.3l0.3-0.2l0.5-0.5l0.3-0.3l0.4-0.8l0.1-0.2l0.2-0.6l0.2-0.8l0.2-0.8l0.2-0.5l0.1-0.3l0.3-0.8l0.3-0.4l0.4-0.4l0.4-0.3l0.8-0.2l0.8 0l0.8 0.2l0.7 0.3l0.1 0l0.7 0.3l0.8 0.2l0.8 0.1l0.8-0.1l0.8-0.2l0.3-0.3l0.4-0.3l0.5-0.4l0.2-0.8l0.1-0.8l-0.1-0.8l0-0.8l0.1-0.6l0.1-0.2l0.5-0.8l0.2-0.2l0.8-0.3l0.8-0.1l0.7 0l0.8 0l0.8 0l0.8-0.1l0.5-0.1l0.3-0.1l0.8-0.1l0.7 0l0.8 0l0.8 0l0.8 0l0.8 0l0.7 0l0.8-0.2l0.8 0l0.8 0l0.8 0.1l0.7 0.3l0.8 0.4l0.8 0.3l0.8-0.1l0.8-0.3l0.4-0.3l0.4-0.3l0.5-0.5l0.2-0.5l0.2-0.3l0-0.8l-0.2-0.6l0-0.2l-0.1-0.8l0.1-0.8l0-0.2l0.3-0.6l0.5-0.4l0.8-0.2l0.8-0.1l0.6-0.1l0.2 0l0.7 0l0-0.8l0-0.8l0-0.3l-0.7-0.1l-0.8-0.2l-0.3-0.2l-0.5-0.5l-0.3-0.3l-0.2-0.8l0.3-0.7l0.2-0.2l0.5-0.6l0.3-0.2l0.8-0.5l0.4-0.1l0.3-0.2l0-0.6l0-0.8l0-0.8l0-0.8l0-0.5l-0.7 0.2l-0.5 0.3l-0.3 0.2l-0.8 0.5l-0.1 0.1l-0.7 0.4l-0.6 0.4l-0.2 0.1l-0.7 0.3l-0.8 0.2l-0.8-0.1l-0.8-0.2l-0.8 0.4l0 0.1l-0.1 0.8l0 0.8l0.1 0.8l0 0.3l0.2 0.4l0.4 0.8l0.2 0.4l0.3 0.4l0.3 0.8l0.1 0.8l0.1 0.8l0 0.8l-0.1 0.8l0 0.8l-0.2 0.8l-0.5 0.7l-0.4 0.1l-0.4 0.1l-0.6-0.1l-0.2 0l-0.7-0.2l-0.8-0.1l-0.8-0.1l-0.8 0.1l-0.8 0.2l-0.3 0.1l-0.4 0.1l-0.8 0.1l-0.8 0.1l-0.8 0l-0.8 0.1l-0.7 0.1l-0.8 0.1l-0.7 0.2l-0.1 0l-0.8 0.2l-0.8 0l-0.8 0.1l-0.7 0l-0.8 0.1l-0.8 0.1l-0.8 0.2l-0.2 0.1l-0.6 0.3l-0.6 0.5l-0.1 0.3l-0.2 0.5l-0.1 0.8l-0.1 0.8l0 0.8l-0.2 0.8l-0.2 0.3l-0.5 0.5l-0.3 0.1l-0.8 0.1l-0.8-0.2l-0.2 0l-0.6-0.2l-0.7-0.3l-0.8-0.2l-0.8-0.1l-0.8 0.1l-0.8 0.2l-0.7 0.5l-0.8 0.7l-0.1 0.1l-0.5 0.7l-0.2 0.4l-0.2 0.4l-0.3 0.8l-0.3 0.8l0 0.1l-0.4 0.7l-0.4 0.4l-0.7 0.1l-0.5-0.5l-0.3-0.4l-0.2-0.4l-0.4-0.8l-0.2-0.2l-0.6-0.6l-0.2-0.1l-0.8-0.2l-0.8 0.1l-0.4 0.2l-0.3 0.3l-0.4 0.5l-0.1 0.8l0.3 0.8l0.2 0.4l0.3 0.4l0.4 0.6l0.2 0.2l0.3 0.8l-0.2 0.8l-0.3 0.4l-0.2 0.4l-0.5 0.8l0 0.1l-0.4 0.7l-0.2 0.8l0.2 0.8l0.4 0.7l0 0.1l0.6 0.8l0.1 0.2l0.5 0.6l0.3 0.4l0.3 0.4l0.3 0.8l0.1 0.8l-0.1 0.7l0.1 0.8l0.1 0.4l0.3 0.4l0.5 0.5l0.4 0.3l0.4 0.3l0.6 0.5l0.2 0.2l0.5 0.6l0.2 0.4l0.4 0.4l0.4 0zM472.9 115.8l0.6-0.5l0.2-0.3l0.1-0.5l-0.1-0.3l-0.5-0.5l-0.3-0.1l-0.2 0.1l-0.6 0.6l0 0.2l0 0.3l0.2 0.5zM479.9 111.9l0-0.6l0-0.8l0-0.8l0-0.8l0-0.8l0-0.8l0-0.8l0-0.3l-0.1 0.3l-0.2 0.8l0 0.8l-0.1 0.8l0 0.8l0 0.8l0.2 0.8zM336.2 110.1l0.7 0.2l0.8 0l0.8-0.1l0.8 0l0.8 0l0.7 0.1l0.8 0l0.8 0.1l0.8-0.1l0.8-0.1l0.7-0.4l0.2-0.1l0.6-0.8l0.2-0.8l0.1-0.8l0-0.8l-0.1-0.8l-0.1-0.8l-0.1-0.4l-0.1-0.4l-0.4-0.7l-0.3-0.4l-0.5-0.4l-0.2-0.2l-0.8-0.3l-0.8 0l-0.8 0l-0.8-0.1l-0.7-0.1l-0.3-0.1l-0.5-0.3l-0.8-0.2l-0.5 0.5l-0.3 0.3l-0.1 0.5l-0.2 0.8l-0.1 0.7l-0.2 0.8l-0.1 0.8l-0.1 0.2l-0.2 0.6l-0.3 0.8l-0.2 0.6l-0.2 0.2l-0.3 0.8l0.1 0.8zM339.3 108.1l-0.3-0.8l0-0.8l0.2-0.8l0.1-0.1l0.4-0.7l0.4-0.2l0.7-0.4l0.8-0.2l0.8 0.1l0.8 0.3l0.5 0.4l0.3 0.5l0.1 0.3l0.1 0.8l0 0.8l-0.2 0.5l-0.3 0.3l-0.5 0.4l-0.8 0.2l-0.8 0.1l-0.8-0.1l-0.7-0.2zM378.4 99l0.7 0l0.8-0.4l0.1 0l0.7-0.7l0-0.1l0.7-0.8l0.1-0.1l0.5-0.7l0.3-0.3l0.3-0.5l0.4-0.5l0.2-0.3l0.5-0.8l0.1-0.2l0.3-0.6l0.4-0.8l0.1-0.2l0.7-0.6l0.1-0.1l0.8 0l0.7 0.1l0.5 0l0.3 0.1l0.8 0.1l0.8 0l0.8-0.1l0.8 0l0.7 0l0.7-0.1l0.1 0l0.8-0.3l0.8-0.3l0.2-0.2l0.6-0.2l0.7-0.3l0.8-0.2l0.2-0.1l0.6-0.2l0.8-0.3l0.8-0.2l0-0.1l0.8-0.2l0.7-0.2l0.8-0.2l0.8-0.1l0.5-0.1l0.3 0l0.8-0.3l0.7-0.4l0.2-0.1l0.6-0.1l0.8-0.1l0.8 0.2l0.2 0l0.6 0.3l0.7 0.3l0.8 0.1l0.8-0.2l0.6-0.5l0.2-0.1l0.4-0.6l0.4-0.7l0-0.1l0.5-0.8l0.3-0.3l0.6-0.5l0.1-0.2l0.8-0.6l0.1 0l0.6-0.8l0.1-0.1l0.3-0.7l0.2-0.8l0.2-0.8l0.1-0.5l0-0.3l0.2-0.8l0.2-0.8l0.3-0.8l0.1-0.2l0.2-0.6l0.3-0.8l0.2-0.7l0.1-0.1l0.3-0.8l0.3-0.8l0.1-0.2l0.5-0.6l0.3-0.4l0.7-0.3l0.1-0.1l0.8-0.3l0.8 0.1l0.4 0.3l0.3 0.2l0.6 0.5l0.2 0.3l0.5 0.5l0.3 0.4l0.5 0.4l0.3 0.2l0.8 0.3l0.7 0.1l0.8 0.1l0.8 0l0.8-0.1l0.8-0.5l0-0.1l0-0.1l-0.3-0.7l-0.5-0.4l-0.4-0.4l-0.4-0.4l-0.3-0.3l-0.3-0.8l0.1-0.8l0.5-0.5l0.3-0.3l0.5-0.3l0.6-0.5l0.2-0.2l0.5-0.6l0.2-0.7l0.1-0.1l0.1-0.8l0-0.8l-0.2-0.5l0-0.3l-0.4-0.8l-0.3-0.6l-0.2-0.2l-0.6-0.8l0-0.1l-0.5-0.7l-0.3-0.8l0-0.2l0-0.6l0.3-0.8l0.3-0.8l0.2-0.8l0-0.4l0-0.4l0-0.1l-0.1-0.7l-0.1-0.7l0.1-0.8l0.1-0.1l0.8-0.3l0.7 0l0.8 0.2l0.8 0.1l0.8 0l0.8-0.4l0.3-0.3l0.5-0.4l0.4-0.4l0.3-0.4l0.6-0.4l0.2-0.2l0.8-0.3l0.8 0l0.8 0.1l0.7 0.4l0.1 0l0.7 0.5l0.5 0.3l0.3 0.2l0.8 0.3l0.8 0.1l0.8-0.3l0.3-0.3l0.4-0.5l0.3-0.3l0.5-0.8l0.7-0.8l0.1-0.1l0.8-0.4l0.8-0.1l0.7 0l0.8-0.2l0.1 0l0.7-0.4l0.4-0.4l0-0.8l-0.4-0.4l-0.4-0.4l-0.4-0.2l-0.7-0.6l-0.1 0l-0.4-0.8l-0.1-0.8l-0.1-0.8l0-0.8l0-0.8l0.1-0.8l0.4-0.8l0.1-0.2l0.6-0.5l0.2-0.2l0.8-0.4l0.8-0.2l0.8-0.1l0.1 0.1l0.6 0.1l0.8 0.3l0.8 0.4l0.8 0.5l0.5 0.2l0.3 0.2l0.8 0.4l0.6 0.2l0.1 0.1l0.8 0.1l0.8 0.2l0.8 0.3l0.1 0.1l0.7 0.6l0.2 0.2l0.5 0.7l0.2 0.1l0.6 0.8l0.1 0l0.7 0.5l0.8 0l0.8-0.2l0.5-0.3l0.3-0.2l0.5-0.6l0.2-0.2l0.4-0.6l0.4-0.6l0.1-0.2l0.3-0.8l0.3-0.8l0.1-0.5l0.1-0.2l0-0.8l-0.1-0.4l-0.1-0.4l-0.2-0.8l-0.2-0.8l0.1-0.8l0.4-0.6l0.3-0.2l0.5-0.3l0.8-0.1l0.7 0l0.8 0.1l0.5 0.3l0.3 0.3l0.2 0.5l0.2 0.8l0.1 0.8l0.3 0.7l0 0.1l0.4 0.8l0.4 0.4l0.3 0.4l0.4 0.3l0.8 0.4l0.7 0l0.1 0.1l0.1-0.1l0.7 0l0.8-0.2l0.8-0.2l0.7-0.2l0.8 0l0.8 0.2l0.5 0.4l0.3 0.3l0.6 0.5l0.2 0.2l0.7 0.5l0-0.7l0-0.8l0-0.7l0-0.8l0-0.8l0-0.8l0-0.8l0-0.8l0-0.8l0-0.8l0-0.8l0-0.8l0-0.8l0-0.8l0-0.8l0-0.8l0-0.3l-0.7 0.1l-0.8-0.1l-0.8 0l-0.8 0l-0.8-0.1l-0.7-0.1l-0.8-0.2l-0.4-0.1l-0.4-0.2l-0.8-0.3l-0.8-0.1l-0.8 0.5l0 0.1l-0.6 0.8l-0.1 0.3l-0.3 0.5l-0.5 0.8l-0.8 0.7l-0.1 0.1l-0.7 0.4l-0.7 0.4l-0.1 0l-0.7 0.3l-0.8 0.2l-0.8 0.3l-0.1 0l-0.7 0.4l-0.6 0.4l-0.2 0.2l-0.4 0.6l-0.3 0.8l0 0.8l0.1 0.8l0.3 0.8l0.2 0.8l0.1 0.8l-0.2 0.7l-0.4 0.8l-0.1 0.3l-0.8 0.5l-0.8-0.1l-0.8-0.6l0-0.1l-0.4-0.8l-0.2-0.7l-0.1-0.8l0-0.8l0-0.8l-0.1-0.3l-0.1-0.5l-0.5-0.8l-0.2-0.2l-0.7-0.5l-0.4-0.1l-0.4-0.1l-0.8-0.1l-0.8 0.1l-0.2 0.1l-0.6 0.2l-0.6 0.6l-0.1 0.2l-0.3 0.6l-0.2 0.8l-0.3 0.5l-0.5 0.3l-0.3 0l-0.3 0l-0.5-0.1l-0.8-0.2l-0.8-0.1l-0.7 0l-0.8 0l-0.8 0.2l-0.4 0.2l-0.4 0.1l-0.8 0.4l-0.3 0.3l-0.4 0.3l-0.6 0.5l-0.2 0.2l-0.4 0.5l-0.4 0.8l0 0.1l-0.3 0.7l-0.4 0.8l-0.1 0.2l-0.8 0.6l-0.1 0l-0.6 0.3l-0.8 0.3l-0.5 0.2l-0.3 0.3l-0.4 0.5l0.2 0.8l0.2 0.4l0.1 0.4l0.2 0.8l-0.2 0.8l-0.1 0.1l-0.8 0.7l-0.1 0l-0.7 0.1l-0.8-0.1l-0.5 0l-0.2 0l-0.8-0.2l-0.8 0l-0.8 0.1l-0.3 0.1l-0.5 0.2l-0.7 0.6l-0.8 0.7l-0.1 0.1l-0.7 0.5l-0.8 0.2l-0.8 0l-0.8-0.1l-0.7-0.3l-0.8-0.3l-0.8-0.5l-0.7-0.3l-0.1 0l-0.8-0.2l-0.7 0l-0.5 0.2l-0.3 0.1l-0.6 0.7l-0.2 0.3l-0.2 0.5l-0.4 0.8l-0.2 0.3l-0.2 0.5l-0.6 0.7l0 0.1l-0.5 0.8l-0.2 0.5l-0.1 0.2l0 0.8l0 0.8l-0.1 0.8l-0.3 0.8l-0.3 0.5l-0.2 0.3l-0.6 0.7l-0.1 0.1l-0.7 0.7l-0.4 0.1l-0.4 0.2l-0.5-0.2l-0.3-0.1l-0.5-0.7l-0.2-0.3l0 0.3l0 0.8l-0.8 0.8l-0.8 0l-0.8 0l-0.8 0.8l-0.7 0l-0.8 0l-0.8 0.8l-0.8-0.8l-0.8 0l-0.8-0.8l-0.7 0.8l-0.8 0l-0.6 0l-0.2 0.3l-0.3 0.5l0.3 0.6l0.1 0.2l0.6 0.8l0.1 0.1l0.8 0.6l0 0.1l0.7 0.3l0.8 0.2l0.8 0l0.8-0.2l0.8-0.2l0.8 0l0.3 0.7l0 0.8l-0.1 0.8l0.2 0.8l0.2 0.8l0.1 0.1l0.5 0.7l0.3 0.3l0.5 0.5l0.3 0.2l0.5 0.5l0.3 0.6l0.1 0.2l0 0.8l-0.1 0.8l0 0.1l-0.2 0.7l-0.3 0.8l-0.3 0.8l-0.4 0.8l-0.3 0.8l-0.1 0.2l-0.3 0.6l-0.5 0.6l-0.3 0.2l-0.4 0.2l-0.8 0.1l-0.8 0l-0.8 0l-0.3 0.5l-0.3 0.8l-0.2 0.8l-0.2 0.8l-0.3 0.8l-0.3 0.3l-0.7 0.3l-0.8-0.1l-0.8 0l-0.8 0l-0.8 0.2l-0.1 0.1l-0.6 0.2l-0.8 0.3l-0.6 0.3l-0.2 0l-0.8 0.3l-0.8 0.4l-0.2 0.1l-0.5 0.2l-0.8 0.4l-0.4 0.1l-0.4 0.2l-0.8 0.2l-0.8 0.1l-0.8-0.2l-0.7-0.3l-0.8-0.2l-0.8-0.1l-0.8 0.1l-0.8 0.2l0 0.1l-0.7 0.4l-0.5 0.3l-0.3 0.4l-0.7 0.4l-0.1 0.1l-0.8 0.3l-0.8 0l-0.8-0.1l-0.7-0.2l-0.4-0.1l-0.4-0.1l-0.8-0.1l-0.8 0.1l-0.3 0.1l-0.5 0.4l-0.3 0.4l-0.1 0.8l0 0.8l0 0.8l-0.1 0.8l-0.2 0.8l-0.1 0l-0.5 0.8l-0.2 0.3l-0.5 0.5l-0.3 0.3l-0.8 0.5l-0.8 0.1l-0.3-0.1l-0.4-0.3l-0.4-0.5l-0.2-0.8l-0.1-0.8l0.1-0.8l0.1-0.8l0.2-0.8l0.1-0.8l0-0.8l-0.2-0.8l-0.4-0.6l-0.2-0.2l-0.6-0.3l-0.8-0.2l-0.8 0l-0.8 0.1l-0.7 0.3l-0.3 0.1l-0.5 0.3l-0.8 0.1l-0.4-0.4l-0.3-0.8l-0.1-0.4l0-0.3l-0.3-0.8l-0.5-0.6l-0.3-0.2l-0.4-0.2l-0.8-0.2l-0.8 0l-0.8 0.1l-0.8-0.2l-0.1-0.3l0.1-0.6l0.1-0.2l0.2-0.8l0.1-0.8l-0.1-0.8l-0.3-0.7l0-0.1l-0.8-0.7l-0.1-0.1l-0.6-0.3l-0.8-0.2l-0.8 0l-0.8 0.1l-0.8 0.2l-0.7 0.2l-0.8 0.3l-0.8-0.2l-0.2-0.1l-0.6-0.5l-0.2-0.3l-0.4-0.8l-0.2-0.6l0-0.2l-0.2-0.8l-0.1-0.8l-0.2-0.8l-0.2-0.7l0-0.1l0-0.1l-0.4-0.7l-0.4-0.6l-0.2-0.2l-0.6-0.7l0-0.8l0.8-0.7l0.1-0.1l0.7-0.4l0.2-0.2l-0.2-0.2l-0.8-0.8l-0.8 0l-0.8 0l-0.8 0l-0.8-0.8l0-0.8l-0.7-0.8l-0.8-0.8l-0.8-0.8l-0.8-0.8l-0.8 0l-0.3 0.8l-0.1 0.8l0.1 0.8l0.3 0.8l0 0.1l0.5 0.7l0.3 0.5l0.4 0.3l0.4 0.3l0.5 0.5l0.3 0.6l0 0.2l0 0.3l-0.1 0.5l-0.6 0.8l-0.1 0l-0.8 0.1l-0.8 0l-0.7 0.3l-0.4 0.3l-0.4 0.4l-0.5 0.4l-0.3 0.4l-0.5 0.4l-0.3 0.4l-0.5 0.4l-0.3 0.8l0.3 0.8l0.5 0.7l0.2 0.1l0.6 0.3l0.8 0.1l0.8-0.1l0.4-0.3l0.3-0.2l0.7-0.6l0.1-0.1l0.8-0.5l0.5-0.2l0.3-0.1l0.8-0.1l0.7 0l0.8 0l0.8 0l0.5 0.2l0.3 0.3l0.2 0.5l0.1 0.8l0.1 0.8l0.1 0.8l-0.1 0.8l-0.1 0.8l-0.2 0.8l-0.1 0.4l-0.1 0.4l0.1 0.4l0.1 0.4l0.7 0.6l0.5 0.2l0.3 0l0.7 0.2l0.8 0.3l0.7 0.3l0.1 0l0.8 0.6l0.2 0.2l0.5 0.8l0.1 0.1l0.1 0.7l0 0.7l0 0.8l0.4 0.8l0.2 0.3l0.5 0.5l0.3 0.3l0.8 0.4l0.4 0.1l0.4 0.1l0.8 0l0.7-0.1l0.1 0l0.7-0.2l0.8-0.1l0.8-0.1l0.8 0.2l0.4 0.2l0.4 0.2l0.7 0.5l0.2 0.1l0.6 0.4l0.8 0.4l0.5 0l0.3 0l0.1 0l0.7-0.2l0.7-0.4l0.4-0.2l0.4-0.2l0.3 0.2l0.3 0.8l0.1 0.8l0.1 0.8l0 0.2l0 0.6l0.1 0.8l0.2 0.8l0.3 0.8l0.2 0.4l0.2 0.4l0.6 0.6l0.2 0.2zM421 68.4l-0.4-0.1l-0.8-0.6l-0.1-0.1l-0.3-0.8l-0.1-0.8l0-0.8l0.1-0.8l0.3-0.8l0.1-0.2l0.6-0.6l0.2-0.2l0.7-0.1l0.6 0.3l0.2 0.1l0.6 0.7l0.2 0.2l0.3 0.6l0.3 0.8l0.2 0.6l0 0.2l0 0.8l0 0.2l-0.3 0.6l-0.5 0.4l-0.8 0.3l-0.5 0.1l-0.3 0zM476 36.6l-0.7-0.3l-0.8-0.5l-0.1 0l-0.7-0.6l-0.3-0.2l-0.5-0.7l-0.1-0.1l-0.2-0.8l0.3-0.7l0-0.1l0.8-0.8l0.1 0l0.7-0.3l0.8-0.1l0.7 0.1l0.8 0.1l0.6 0.2l0.2 0.1l0.8 0.4l0.6 0.3l0.2 0.3l0.5 0.5l-0.4 0.8l-0.1 0.1l-0.3 0.7l-0.5 0.8l-0.8 0.7l-0.3 0.1l-0.5 0.1l-0.8-0.1zM479.9 98.8l0-0.2l0-0.8l0-0.8l0-0.8l0-0.4l-0.7 0.2l-0.6 0.2l-0.2 0.3l-0.4 0.5l0.4 0.8l0.8 0.7l0.1 0.1zM471.3 82.4l0.8-0.5l0.4-0.8l0.4-0.8l0.4-0.8l0.4-0.7l0.1-0.1l0.3-0.8l0.2-0.8l0.2-0.7l0-0.1l0.1-0.8l0.1-0.8l0.2-0.8l0.2-0.8l0.2-0.5l0.1-0.3l0.6-0.7l0-0.1l0.8-0.6l0.2-0.1l0.6-0.5l0.7-0.3l0.1-0.1l0.8-0.4l0.7-0.3l0-0.8l0-0.8l0-0.8l0-0.8l0-0.8l0-0.1l-0.7 0l-0.8 0.1l-0.8 0.4l-0.5 0.4l-0.3 0.4l-0.3 0.4l-0.4 0.8l-0.1 0.1l-0.3 0.7l-0.4 0.6l-0.2 0.2l-0.6 0.8l-0.8 0.5l-0.8 0.2l-0.8-0.2l-0.8-0.4l-0.1-0.1l-0.6-0.6l-0.2-0.2l-0.6-0.6l-0.3-0.2l-0.5-0.4l-0.8-0.3l-0.8-0.1l-0.7 0.1l-0.8 0.2l-0.8 0.4l0 0.1l-0.7 0.8l-0.1 0l-0.4 0.8l-0.3 0.8l-0.1 0l-0.3 0.8l-0.2 0.7l-0.1 0.8l0 0.8l0.1 0.8l0 0.8l0 0.8l-0.2 0.8l-0.1 0l-0.2 0.8l-0.3 0.8l0.5 0.8l0.1 0l0.7 0.2l0.8 0.1l0.8 0l0.8 0.1l0.8 0l0.7 0l0.8 0.2l0.6 0.2l0.2 0.1l0.8 0.6l0.1 0.1l0.7 0.6l0.3 0.2zM465.8 73.9l-0.2-0.8l0.1-0.8l0.2-0.4l0.2-0.3l0.6-0.7l0.2-0.1l0.5-0.2l0.6 0.2l0.2 0.1l0.5 0.7l0.2 0.7l-0.1 0.8l-0.4 0.8l-0.2 0.2l-0.8 0.5l-0.7 0l-0.8-0.5zM443.2 72.4l0.8 0.4l0.8 0.2l0.8 0.1l0.7-0.3l0.8-0.5l0.8-0.7l0-0.1l0.6-0.7l0.2-0.3l0.4-0.5l0.4-0.5l0.2-0.3l0.5-0.8l0-0.7l0.1-0.1l-0.1-0.1l-0.3-0.7l-0.4-0.5l-0.7-0.3l-0.1 0l-0.3 0l-0.5 0l-0.8 0.4l-0.6 0.4l-0.2 0l-0.7 0.5l-0.6 0.3l-0.2 0.1l-0.8 0.2l-0.8 0.1l-0.8-0.1l-0.7 0l-0.8 0.1l-0.5 0.4l-0.2 0.8l0.1 0.8l0.4 0.8l0.2 0.2l0.7 0.6l0.1 0l0.7 0.3l0.8 0.4zM453.4 72.4l0.8 0.2l0.7-0.2l0.2-0.1l0.3-0.7l-0.2-0.8l-0.3-0.6l-0.2-0.2l-0.5-0.8l0-0.2l-0.8 0.1l-0.1 0.1l-0.2 0.8l-0.2 0.8l0 0.8l0.3 0.7zM370.5 54.8l0.8-0.6l0.2-0.1l0.6-0.5l0.4-0.3l0.4-0.2l0.8-0.4l0.7-0.2l0.4 0l0.4-0.1l0.8-0.1l0.8-0.2l0.8-0.2l0.5-0.2l0.3-0.2l0.5-0.6l0.2-0.4l0.2-0.4l0.3-0.8l0.1-0.8l0.1-0.8l0-0.8l-0.1-0.8l0-0.8l0.1-0.8l0.1-0.2l0.4-0.6l0.4-0.3l0.8-0.2l0.8 0.2l0.5 0.3l0.2 0.2l0.8 0.2l0.7-0.4l0.1-0.1l0.1-0.7l-0.1-0.6l0-0.2l-0.3-0.8l-0.1-0.8l0.1-0.7l0.2-0.8l0.1-0.2l0.5-0.6l0.3-0.3l0.5-0.5l0.3-0.2l0.6-0.6l0.1-0.1l0.8-0.7l0.1 0l0.7-0.6l0.4-0.2l0.4-0.4l0.4-0.4l0.4-0.6l0.1-0.2l0.2-0.8l0-0.8l-0.1-0.8l-0.2-0.7l-0.2-0.1l-0.6-0.3l-0.4 0.3l-0.4 0.2l-0.8 0.6l-0.8 0.6l-0.2 0.2l-0.5 0.4l-0.8 0.4l-0.8 0.4l-0.8 0.2l-0.7 0.2l-0.1 0l-0.7 0.8l-0.8 0l-0.8 0l-0.8 0.8l-0.8 0l-0.7 0l-0.8 0l-0.8 0.8l-0.8 0l-0.8 0.8l-0.8 0l-0.7 0l-0.8 0.8l-0.8 0l-0.8 0l-0.4 0.4l-0.3 0.4l-0.1 0l-0.5 0.8l-0.2 0.6l-0.2 0.2l0.1 0.7l0.1 0.2l0.2 0.6l0.5 0.8l0 0.1l0.6 0.7l0.2 0.3l0.6 0.5l0.2 0.3l0.8 0.3l0.8 0l0.7-0.4l0.4-0.2l0.4-0.6l0.2-0.2l0.2-0.8l0.2-0.8l0.2-0.6l0-0.2l0.5-0.7l0.3-0.4l0.5-0.4l0.3-0.2l0.8-0.2l0.7-0.1l0.8 0.2l0.3 0.3l0.1 0.8l-0.4 0.5l-0.2 0.2l-0.6 0.4l-0.6 0.4l-0.1 0.2l-0.8 0.5l-0.3 0.1l-0.5 0.7l-0.2 0.1l-0.1 0.8l0.3 0.6l0 0.2l0.4 0.8l0.3 0.8l0.1 0.1l0.1 0.7l0.1 0.8l0 0.8l-0.2 0.7l-0.1 0.1l-0.6 0.8l-0.1 0.1l-0.8 0.5l-0.4 0.2l-0.4 0.1l-0.8 0.2l-0.7 0.2l-0.8 0.2l-0.3 0.1l-0.5 0.2l-0.8 0.4l-0.2 0.2l-0.6 0.3l-0.6 0.5l-0.1 0.1l-0.6 0.1l0.6 0.6l0.7 0.7zM410.4 53.5l0.5-0.2l0-0.8l-0.5 0l-0.8 0l0 0.1l0.3 0.7zM394 45.7l0.8 0.1l0.7-0.5l0.4-0.8l-0.1-0.8l-0.2-0.8l-0.1-0.2l-0.5-0.6l-0.2-0.2l-0.8 0.1l-0.2 0.1l-0.4 0.8l-0.2 0.8l0.1 0.8l0.3 0.8zM366.6 40.5l0.8-0.5l0.2-0.2l-0.1-0.1l-0.1 0.1l-0.8 0.7zM459.6 26.3l0.3-0.1l0.5-0.3l0.3-0.5l-0.1-0.8l-0.2-0.2l-0.8 0.2l-0.3 0.8l0.1 0.8zM394 24l0.8 0l0.7-0.1l0.4-0.1l0.4-0.1l0.8-0.4l0.4-0.2l0.4-0.5l0.2-0.3l0.1-0.8l-0.2-0.8l-0.1 0l-0.8 0.8l-0.8 0l-0.8 0.8l-0.7 0.8l-0.8 0.7l-0.1 0.2zM479.9 24.1l0-0.3l0-0.7l0-0.8l0-0.8l-0.7 0l-0.8-0.8l-0.8 0l-0.4 0l0.4 0.5l0.2 0.3l0.6 0.7l0 0.1l0.7 0.8l0.1 0.1l0.6 0.6zM469.8 21.7l0.8-0.1l0.2-0.1l0-0.8l-0.2-0.4l-0.8-0.3l-0.8 0.4l-0.3 0.3l0.3 0.7l0 0.1zM256.4 17.5l0.6 0l0.2 0l0.8-0.3l0.5-0.5l0.3-0.2l0.8-0.5l0.1-0.1l0.6-0.3l0.8-0.2l0.8-0.1l0.8-0.1l0.1-0.1l0.7-0.3l0.4-0.5l0.4-0.6l0-0.2l0.4-0.8l-0.4 0l-0.8 0l-0.8 0l-0.8 0l-0.8 0l-0.8 0l-0.7 0l-0.3 0l-0.5 0.4l-0.4 0.4l-0.4 0.3l-0.6 0.5l-0.2 0.1l-0.8 0.5l-0.6 0.2l-0.1 0.1l-0.8 0.1l0 0.6l0 0.8l0 0.8l0.8 0l0.2 0zM270.5 17.7l0.8 0.1l0.8-0.1l0.7-0.2l0.8-0.2l0.8-0.2l0.8-0.1l0.8-0.1l0.8-0.2l0.3 0l0.4-0.1l0.8-0.1l0.8 0l0.8 0.1l0.2 0.1l0.6 0.3l0.4 0.5l0.3 0l0.8-0.8l0.8-0.8l0.8-0.8l0-0.8l0-0.8l0-0.1l-0.1 0.1l-0.7 0.4l-0.8 0.3l-0.8 0.1l-0.7-0.2l-0.8-0.3l-0.6-0.3l-0.2-0.1l-0.8-0.4l-0.8-0.2l-0.7 0.3l-0.6 0.4l-0.2 0.2l-0.6 0.6l-0.2 0.1l-0.8 0.3l-0.8 0.2l-0.8 0.1l-0.7-0.3l-0.5-0.4l-0.3-0.4l-0.2-0.4l-0.3-0.8l-0.3 0l-0.8 0l-0.8 0l-0.3 0l0.3 0.8l0 0.4l0.1 0.4l0.1 0.8l0.1 0.8l0.2 0.8l0.3 0.5l0.4 0.3zM461.2 17.5l0.8 0.3l0.8-0.2l0.1-0.1l0.6-0.8l0.1 0l-0.1 0l-0.7 0l-0.8 0l-0.8 0l-0.5 0l0.4 0.8zM407.3 16.3l0.7-0.3l0.3-0.1l-0.3 0l-0.7 0l-0.6 0.5zM453.4 16.4l0.8 0.1l0.7-0.2l0.8-0.4l0.1 0l-0.1 0l-0.8 0l-0.7 0l-0.8-0.8l-0.8 0l-0.1 0l0.1 0.3l0.2 0.5zM409.6 15.6l0.8 0l0.8 0l0.8 0l0.7-0.2l0.7-0.3l0.1 0l0.8-0.6l0.3-0.2l0.5-0.6l0.1-0.2l-0.1 0l-0.8 0.8l-0.8 0l-0.8 0l-0.7 0l-0.8 0l-0.8 0.8l-0.8 0l-0.6 0.6zM442.4 14.6l0.8 0.2l0.8 0l0.8-0.1l0.5-0.4l0.3-0.2l0.2-0.6l0.2-0.8l-0.4 0l-0.8 0l-0.8 0l-0.8 0l-0.8 0l-0.7 0l-0.6 0l0.2 0.8l0.4 0.7l0.1 0.1zM423.7 13.6l0.8 0.2l0.7-0.1l0.4-0.2l0.4-0.4l0.2-0.4l-0.2 0l-0.8 0l-0.7 0l-0.8 0l-0.8 0l-0.2 0l0.2 0.3l0.6 0.5z"/>
<path fill="#7f1e6c" stroke="#7f1e6c" stroke-width="0.3" d="M452.6 125.1l0.8-0.1l0.7-0.2l0.1 0l0.7-0.3l0.8-0.3l0.4-0.2l0.4-0.3l0.4-0.5l0.1-0.8l-0.4-0.8l-0.1-0.1l-0.7-0.7l-0.1-0.1l-0.8-0.5l-0.3-0.2l-0.4-0.2l-0.8-0.4l-0.2-0.1l-0.4-0.8l0.5-0.8l0.1-0.1l0 0.1l0.8 0.7l0 0.1l0.7 0.7l0.3 0.1l0.5 0.3l0.8 0l0.8 0l0.8-0.2l0.7-0.1l0-0.1l0.8-0.1l0.8-0.2l0.8-0.3l0.3-0.1l0.5-0.3l0.8-0.4l0.4-0.1l0.3-0.2l0.8 0l0.4 0.2l0.4 0.1l0.8 0.3l0.8 0.2l0.7 0.1l0.1 0.1l0.7 0.1l0.8 0.3l0.8 0.2l0.8 0.1l0.7-0.1l0.8-0.4l0.4-0.2l0.4-0.4l0.8-0.3l0.8 0.1l0.8 0.2l0.7 0.1l0.8-0.1l0.8-0.1l0.8-0.3l0.8-0.5l0.7-0.3l0-0.1l0-0.7l0-0.8l0-0.8l0-0.8l0-0.8l0-0.8l0-0.2l-0.2-0.6l-0.2-0.8l0-0.8l0-0.8l0.1-0.8l0-0.8l0.2-0.8l0.1-0.3l0-0.5l0-0.8l0-0.8l0-0.7l0-0.5l-0.7 0.4l-0.1 0.1l-0.7 0.5l-0.2 0.2l-0.4 0.8l-0.1 0.8l0 0.8l-0.1 0.8l0 0.3l0 0.5l-0.2 0.8l-0.3 0.8l-0.3 0.5l-0.3 0.3l-0.5 0.4l-0.7 0.2l-0.8 0l-0.8-0.1l-0.8-0.1l-0.8-0.1l-0.6-0.3l-0.2-0.1l-0.7-0.6l-0.1-0.1l-0.5-0.8l-0.2-0.6l-0.1-0.2l-0.4-0.8l-0.3-0.5l-0.1-0.3l-0.6-0.8l-0.1-0.2l-0.5-0.6l-0.3-0.5l-0.3-0.3l-0.3-0.7l0.6-0.8l0.1 0l0.7-0.4l0.8-0.4l0.8-0.3l0.8-0.2l0.7 0l0.8 0.1l0.8 0l0.8 0l0.8-0.3l0.2-0.1l0.6-0.4l0.5-0.4l0.2-0.2l0.8-0.2l0.8 0.1l0.7 0.3l0.1 0l0.8 0.4l0.7 0.3l0-0.7l0-0.8l0-0.6l-0.6-0.2l-0.1-0.1l-0.8-0.7l-0.4-0.8l0.4-0.5l0.2-0.3l0.6-0.2l0.7-0.2l0-0.4l0-0.8l0-0.8l0-0.8l0-0.8l0-0.8l-0.7 0l-0.2 0l-0.6 0.1l-0.8 0.1l-0.8 0.2l-0.5 0.4l-0.3 0.6l0 0.2l-0.1 0.8l0.1 0.8l0 0.2l0.2 0.6l0 0.8l-0.2 0.3l-0.2 0.5l-0.5 0.5l-0.4 0.3l-0.4 0.3l-0.8 0.3l-0.8 0.1l-0.8-0.3l-0.8-0.4l-0.7-0.3l-0.8-0.1l-0.8 0l-0.8 0l-0.8 0.2l-0.7 0l-0.8 0l-0.8 0l-0.8 0l-0.8 0l-0.7 0l-0.8 0.1l-0.3 0.1l-0.5 0.1l-0.8 0.1l-0.8 0l-0.8 0l-0.7 0l-0.8 0.1l-0.8 0.3l-0.2 0.2l-0.5 0.8l-0.1 0.2l-0.1 0.6l0 0.8l0.1 0.8l-0.1 0.8l-0.2 0.8l-0.5 0.4l-0.4 0.3l-0.3 0.3l-0.8 0.2l-0.8 0.1l-0.8-0.1l-0.8-0.2l-0.7-0.3l-0.1 0l-0.7-0.3l-0.8-0.2l-0.8 0l-0.8 0.2l-0.4 0.3l-0.4 0.4l-0.3 0.4l-0.3 0.8l-0.1 0.3l-0.2 0.5l-0.2 0.8l-0.2 0.8l-0.2 0.6l-0.1 0.2l-0.4 0.8l-0.3 0.3l-0.5 0.5l-0.3 0.2l-0.8 0.3l-0.7 0.1l-0.8 0.2l-0.1 0l-0.7 0.2l-0.8 0.5l-0.1 0.1l-0.7 0.8l-0.3 0.8l0.1 0.8l0.2 0.5l0.2 0.3l0.6 0.8l0.6 0.8l0.2 0.2l0.4 0.6l0.4 0.5l0.1 0.3l0.5 0.8l0.2 0.3l0.2 0.4l0.5 0.8l0 0.1l0.5 0.7l0.3 0.6l0.1 0.2l0.6 0.8l0.1 0.2l0.8 0.4l0.8-0.1l0.7-0.3l0.4-0.2l0.4-0.3l0.8-0.5l0.8-0.4l0.8-0.1l0.7 0.5l0 0.1l0.5 0.7l0.3 0.7l0.1 0.1l0.6 0.8l0.1 0l0.1 0.1zM445.2 119.3l-0.4-0.1l-0.8-0.5l-0.4-0.2l-0.4-0.3l-0.5-0.5l-0.3-0.2l-0.5-0.6l-0.2-0.3l-0.5-0.5l-0.3-0.4l-0.3-0.4l-0.4-0.8l0.3-0.8l0.4-0.3l0.8-0.3l0.5-0.2l0.2-0.1l0.8-0.2l0.8-0.4l0.2-0.1l0.6-0.4l0.6-0.4l0.2-0.2l0.6-0.6l0.1-0.4l0.3-0.4l0.2-0.8l0.1-0.8l0.2-0.8l0.5-0.8l0.3-0.3l0.8-0.2l0.8 0.2l0.5 0.3l0.2 0.3l0.6 0.5l0.2 0.8l0 0.1l-0.2 0.7l-0.6 0.7l0 0.1l-0.7 0.8l-0.6 0.8l-0.2 0.8l0 0.3l0 0.5l-0.1 0.8l0 0.8l-0.1 0.8l-0.1 0.8l-0.3 0.8l-0.2 0.3l-0.2 0.5l-0.6 0.7l-0.1 0.1l-0.7 0.6l-0.4 0.2l-0.3 0.1zM457.9 117.7l-0.6-0.2l-0.8-0.4l-0.3-0.2l-0.5-0.8l0-0.2l-0.1-0.6l0.1-0.8l0.5-0.8l0.3-0.4l0.7-0.4l0.1-0.1l0.8-0.4l0.6-0.3l-0.6-0.8l-0.1 0l-0.7-0.6l-0.2-0.2l-0.6-0.5l-0.3-0.3l-0.5-0.5l-0.3-0.3l-0.4-0.8l0.2-0.8l0.5-0.5l0.3-0.3l0.5-0.3l0.7-0.5l0.1 0l0.8-0.4l0.7-0.2l0.8 0.1l0.8 0.2l0.5 0.3l0.3 0.2l0.5 0.6l0.3 0.5l0.1 0.3l0.4 0.8l0.3 0.5l0.1 0.3l0.3 0.8l0.1 0.8l-0.5 0.5l-0.4 0.3l-0.4 0.2l-0.8 0.4l-0.6 0.2l-0.2 0.8l0.5 0.8l0.3 0.8l0 0.3l0 0.5l0 0.2l-0.1 0.6l-0.6 0.8l-0.1 0.1l-0.8 0.4l-0.8 0.3l-0.7 0zM466.5 115.3l-0.6-0.5l-0.3-0.3l-0.5-0.8l-0.4-0.8l-0.2-0.8l-0.1-0.8l0.7-0.5l0.6-0.3l0.2 0l0.8-0.1l0.7 0l0.5 0.1l0.3 0.1l0.8 0.5l0.1 0.2l0.3 0.8l0 0.8l0 0.8l-0.2 0.8l-0.2 0.5l-0.2 0.3l-0.6 0.3l-0.8 0l-0.7-0.2zM472.3 115.3l-0.2-0.5l0-0.3l0-0.2l0.6-0.6l0.2-0.1l0.3 0.1l0.5 0.5l0.1 0.3l-0.1 0.5l-0.2 0.3l-0.6 0.5zM462.7 103.4l-0.7-0.6l-0.3-0.2l-0.5-0.5l-0.3-0.3l-0.5-0.8l-0.1 0l0.1-0.1l0.4-0.7l0.4-0.2l0.8-0.3l0.8-0.2l0.7 0.1l0.8 0.3l0.5 0.3l0.3 0.3l0.3 0.5l0.4 0.8l0.1 0.5l0.2 0.3l-0.2 0.3l-0.3 0.5l-0.5 0.1l-0.8 0.1l-0.8 0l-0.7-0.2zM340.1 108.5l0.7 0.2l0.8 0.1l0.8-0.1l0.8-0.2l0.5-0.4l0.3-0.3l0.2-0.5l0-0.8l-0.1-0.8l-0.1-0.3l-0.3-0.5l-0.5-0.4l-0.8-0.3l-0.8-0.1l-0.8 0.2l-0.7 0.4l-0.4 0.2l-0.4 0.7l-0.1 0.1l-0.2 0.8l0 0.8l0.3 0.8zM379.1 96.3l0.8-0.1l0.8-0.5l0.3-0.3l0.5-0.5l0.2-0.3l0.5-0.8l0.1 0l0.2-0.8l0.1-0.8l0-0.8l0-0.8l0.1-0.8l0.3-0.4l0.5-0.4l0.3-0.1l0.8-0.1l0.8 0.1l0.4 0.1l0.4 0.1l0.7 0.2l0.8 0.1l0.8 0l0.8-0.3l0.1-0.1l0.7-0.4l0.3-0.4l0.5-0.3l0.7-0.4l0-0.1l0.8-0.2l0.8-0.1l0.8 0.1l0.8 0.2l0.7 0.3l0.8 0.2l0.8-0.1l0.8-0.2l0.4-0.2l0.4-0.1l0.8-0.4l0.5-0.2l0.2-0.1l0.8-0.4l0.8-0.3l0.2 0l0.6-0.3l0.8-0.3l0.6-0.2l0.1-0.1l0.8-0.2l0.8 0l0.8 0l0.8 0.1l0.7-0.3l0.3-0.3l0.3-0.8l0.2-0.8l0.2-0.8l0.3-0.8l0.3-0.5l0.8 0l0.8 0l0.8-0.1l0.4-0.2l0.3-0.2l0.5-0.6l0.3-0.6l0.1-0.2l0.3-0.8l0.4-0.8l0.3-0.8l0.3-0.8l0.2-0.7l0-0.1l0.1-0.8l0-0.8l-0.1-0.2l-0.3-0.6l-0.5-0.5l-0.3-0.2l-0.5-0.5l-0.3-0.3l-0.5-0.7l-0.1-0.1l-0.2-0.8l-0.2-0.8l0.1-0.8l0-0.8l-0.3-0.7l-0.8 0l-0.8 0.2l-0.8 0.2l-0.8 0l-0.8-0.2l-0.7-0.3l0-0.1l-0.8-0.6l-0.1-0.1l-0.6-0.8l-0.1-0.2l-0.3-0.6l0.3-0.5l0.2-0.3l-0.2 0l-0.8 0l-0.8 0.8l-0.7 0l-0.8 0l-0.8 0l-0.7 0.7l0.1 0.1l0.6 0.4l0.7 0.4l0.1 0.1l0.8 0.4l0.5 0.3l0.2 0.1l0.8 0.4l0.4 0.3l0.4 0.2l0.8 0.5l0.1 0.1l0.7 0.4l0.7 0.4l0.8 0.4l0.8 0.3l0.1 0.1l0.7 0.7l0 0.1l0.5 0.8l0.3 0.3l0.3 0.5l0.5 0.4l0.3 0.3l0.4 0.4l0.4 0.4l0.4 0.7l0.1 0.1l0 0.8l-0.1 0.5l-0.1 0.3l-0.4 0.8l-0.3 0.4l-0.5 0.4l-0.2 0.2l-0.8-0.1l-0.2-0.1l-0.6-0.4l-0.5-0.4l-0.3-0.3l-0.6-0.5l-0.2-0.2l-0.8-0.5l-0.2-0.1l-0.5-0.2l-0.8 0l-0.8 0.2l-0.1 0l-0.5 0.8l0 0.8l0.2 0.8l0.1 0.8l0.1 0.8l0 0.8l-0.1 0.8l-0.3 0.8l-0.2 0.2l-0.4 0.6l-0.4 0.3l-0.5 0.5l-0.2 0.1l-0.8 0.6l-0.2 0.1l-0.6 0.3l-0.8 0.4l-0.1 0.1l-0.7 0.3l-0.6 0.5l-0.1 0l-0.8 0.5l-0.6 0.3l-0.2 0.1l-0.8 0.1l-0.8 0l-0.8-0.2l-0.2 0l-0.5-0.2l-0.8-0.2l-0.8-0.1l-0.8 0.1l-0.8 0.1l-0.7 0.3l-0.1 0l-0.7 0.2l-0.8 0.4l-0.4 0.2l-0.4 0.2l-0.8 0.2l-0.8 0l-0.7-0.2l-0.7-0.2l-0.1-0.1l-0.8-0.4l-0.6-0.3l-0.2-0.1l-0.8-0.4l-0.7-0.2l-0.8-0.1l-0.8 0.1l-0.8 0.1l-0.8 0.1l-0.7 0.1l-0.8 0.1l-0.8-0.1l-0.8-0.1l-0.8-0.2l-0.3-0.1l-0.5-0.4l-0.5-0.4l-0.2-0.3l-0.5-0.5l-0.3-0.3l-0.6-0.5l-0.2-0.2l-0.8-0.5l-0.2-0.1l-0.6-0.4l-0.4-0.4l-0.3-0.3l-0.5-0.5l-0.3-0.3l-0.5-0.5l-0.3-0.2l-0.8-0.6l-0.8-0.4l-0.8-0.3l-0.3-0.1l-0.4-0.1l-0.8-0.2l-0.8-0.1l-0.8-0.1l-0.8 0l-0.7-0.1l-0.8-0.2l-0.8-0.6l-0.1-0.2l-0.4-0.8l-0.2-0.8l-0.1-0.3l-0.1-0.4l-0.7 0.7l-0.7-0.7l0.2 0.7l0.2 0.8l0.1 0.8l0.2 0.8l0 0.2l0.2 0.6l0.4 0.8l0.2 0.3l0.6 0.5l0.2 0.1l0.8 0.2l0.8-0.3l0.7-0.2l0.8-0.2l0.8-0.1l0.8 0l0.8 0.2l0.6 0.3l0.1 0.1l0.8 0.7l0 0.1l0.3 0.7l0.1 0.8l-0.1 0.8l-0.2 0.8l-0.1 0.2l-0.1 0.6l0.1 0.3l0.8 0.2l0.8-0.1l0.8 0l0.8 0.2l0.4 0.2l0.3 0.2l0.5 0.6l0.3 0.8l0 0.3l0.1 0.4l0.3 0.8l0.4 0.4l0.8-0.1l0.5-0.3l0.3-0.1l0.7-0.3l0.8-0.1l0.8 0l0.8 0.2l0.6 0.3l0.2 0.2l0.4 0.6l0.2 0.8l0 0.8l-0.1 0.8l-0.2 0.8l-0.1 0.8l-0.1 0.8l0.1 0.8l0.2 0.8l0.4 0.5l0.4 0.3zM465.9 74.1l0.8 0.5l0.7 0l0.8-0.5l0.2-0.2l0.4-0.8l0.1-0.8l-0.2-0.7l-0.5-0.7l-0.2-0.1l-0.6-0.2l-0.5 0.2l-0.2 0.1l-0.6 0.7l-0.2 0.3l-0.2 0.4l-0.1 0.8l0.2 0.8zM357.3 73.8l0 0.1l0.7-0.8l0.5-0.4l-0.1-0.4l0-0.7l0.2-0.8l0.1-0.2l-0.7-0.6l-0.5-0.6l-0.2 0.2l-0.7 0.4l-0.1 0.1l-0.8 0.7l0 0.8l0.6 0.7l0.2 0.2l0.4 0.6zM398.7 61.8l0.1 0.2l0.7 0l0.7-0.8l0.8 0l0.8-0.8l0.7-0.7l-0.1-0.1l-0.6-0.3l-0.8-0.2l-0.8 0l-0.7 0.3l-0.4 0.2l-0.4 0.5l-0.2 0.3l0 0.8zM417.4 61.4l0.4-0.2l0.4-0.1l0.7-0.7l0.1-0.1l0.6-0.7l0.2-0.3l0.3-0.5l0.3-0.8l0.1-0.8l0-0.8l0-0.8l0.1-0.2l0.2-0.5l0.5-0.8l0-0.1l0.6-0.7l0.2-0.5l0.2-0.3l0.4-0.8l0.2-0.5l0.2-0.3l0.6-0.7l0.3-0.1l0.5-0.2l0.7 0l0.8 0.2l0.1 0l0.7 0.3l0.8 0.5l0.8 0.3l0.7 0.3l0.8 0.1l0.8 0l0.8-0.2l0.7-0.5l0.1-0.1l0.8-0.7l0.7-0.6l0.5-0.2l0.3-0.1l0.8-0.1l0.8 0l0.8 0.2l0.2 0l0.5 0l0.8 0.1l0.7-0.1l0.1 0l0.8-0.7l0.1-0.1l0.2-0.8l-0.2-0.8l-0.1-0.4l-0.2-0.4l-0.2-0.8l0.4-0.5l0.3-0.3l0.5-0.2l0.8-0.3l0.6-0.3l0.1 0l0.8-0.6l0.1-0.2l0.4-0.8l0.3-0.7l0-0.1l0.4-0.8l0.4-0.5l0.2-0.2l0.6-0.5l0.4-0.3l0.3-0.3l0.8-0.4l0.4-0.1l0.4-0.2l0.8-0.2l0.8 0l0.7 0l0.8 0.1l0.8 0.2l0.5 0.1l0.3 0l0.3 0l0.5-0.3l0.3-0.5l0.2-0.8l0.3-0.6l0.1-0.2l0.6-0.6l0.6-0.2l0.2-0.1l0.8-0.1l0.8 0.1l0.4 0.1l0.4 0.1l0.7 0.5l0.2 0.2l0.5 0.8l0.1 0.5l0.1 0.3l0 0.8l0 0.8l0.1 0.8l0.2 0.7l0.4 0.8l0 0.1l0.8 0.6l0.8 0.1l0.8-0.5l0.1-0.3l0.4-0.8l0.2-0.7l-0.1-0.8l-0.2-0.8l-0.3-0.8l-0.1-0.8l0-0.8l0.3-0.8l0.4-0.6l0.2-0.2l0.6-0.4l0.7-0.4l0.1 0l0.8-0.3l0.8-0.2l0.7-0.3l0.1 0l0.7-0.4l0.7-0.4l0.1-0.1l0.8-0.7l0.5-0.8l0.3-0.5l0.1-0.3l0.6-0.8l0-0.1l0.8-0.5l0.8 0.1l0.8 0.3l0.4 0.2l0.4 0.1l0.8 0.2l0.7 0.1l0.8 0.1l0.8 0l0.8 0l0.8 0.1l0.7-0.1l0-0.5l0-0.8l0-0.8l0-0.8l0-0.8l0-0.8l0-0.5l-0.1-0.3l-0.6-0.6l-0.1-0.1l-0.7-0.8l0-0.1l-0.6-0.7l-0.2-0.3l-0.4-0.5l-0.4 0l-0.8-0.8l-0.7 0l-0.8 0l-0.8-0.8l-0.8 0l-0.8 0l-0.8 0l-0.7-0.8l-0.8 0l-0.8 0l-0.8 0l-0.1-0.2l-0.4 0.2l-0.3 0.1l-0.7 0.1l-0.5-0.2l-0.3-0.5l-0.1-0.3l0-0.1l-0.7-0.7l-0.8 0l-0.7 0l-0.1 0l-0.6 0.8l-0.1 0.1l-0.8 0.2l-0.8-0.3l-0.1 0l-0.4-0.8l-0.3 0l-0.8 0l-0.8-0.8l-0.7 0l-0.8 0l-0.8 0l-0.7 0l-0.1 0l-0.8 0.4l-0.7 0.2l-0.8-0.1l-0.6-0.5l-0.2-0.5l-0.1-0.3l-0.7 0l-0.8 0l-0.2-0.2l-0.1 0.2l-0.3 0.8l-0.2 0.5l-0.4 0.3l-0.3 0.2l-0.2-0.2l-0.6-0.3l-0.5-0.5l-0.3-0.4l-0.2-0.4l-0.2-0.8l0-0.8l-0.4 0l-0.8-0.8l-0.3 0l-0.2 0.8l-0.2 0.6l-0.3 0.2l-0.5 0.4l-0.8 0.1l-0.8 0l-0.8-0.2l-0.6-0.3l-0.1-0.1l-0.4-0.7l-0.2-0.8l-0.2 0l-0.8 0l-0.8 0l-0.3 0l-0.1 0.8l-0.3 0.8l-0.1 0.2l-0.4 0.6l-0.4 0.5l-0.2 0.3l-0.5 0.6l-0.4 0.2l-0.4 0.5l-0.8 0.3l-0.8-0.4l-0.2-0.4l-0.6-0.6l-0.1-0.2l-0.6-0.8l0-0.1l-0.6-0.7l-0.2-0.5l-0.2-0.3l-0.2-0.8l-0.4 0l-0.8 0l-0.8 0l-0.8 0l-0.7 0l-0.8 0l-0.8 0l-0.6 0l-0.2 0.4l-0.4 0.4l-0.4 0.2l-0.7 0.1l-0.8-0.2l-0.2-0.1l-0.6-0.5l-0.2-0.3l-0.6 0l-0.8 0l-0.7 0l-0.8 0l-0.8 0l-0.8 0.8l-0.8 0l-0.8 0l-0.7 0l-0.7 0l-0.1 0.2l-0.5 0.6l-0.3 0.2l-0.8 0.6l-0.1 0l-0.7 0.3l-0.7 0.2l-0.8 0l-0.8 0l-0.8 0l-0.6 0.1l-0.2 0.2l-0.5 0l-0.3 0.1l-0.7 0.3l-0.6 0.1l-0.2 0.3l-0.8 0l-0.8 0.8l-0.8 0.8l-0.7 0l-0.8 0l-0.8 0.8l0.8-0.2l0.8 0.1l0.1 0.1l0.6 0.3l0.8 0.4l0.3 0.1l0.5 0.3l0.8 0.3l0.4 0.2l0.4 0.5l0.1 0.3l0 0.8l-0.1 0.2l-0.2 0.6l-0.3 0.7l-0.3 0.5l-0.2 0.3l-0.4 0.8l-0.2 0.4l-0.2 0.4l-0.6 0.8l0 0.1l-0.6 0.7l-0.2 0.2l-0.7 0.6l-0.1 0l-0.7 0.7l-0.1 0.1l-0.3 0.8l-0.1 0.8l0 0.8l-0.2 0.8l-0.1 0.3l-0.2 0.5l-0.6 0.8l-0.4 0.8l-0.4 0.8l0.2 0.8l0.6 0.4l0.8 0.1l0.8-0.3l0.4-0.2l0.4-0.4l0.5-0.4l0.2-0.3l0.6-0.5l0.2-0.2l0.7-0.6l0.1-0.2l0.4-0.6l0.4-0.5l0.2-0.3l0.6-0.7l0-0.1l0.7-0.6l0.2-0.2l0.6-0.5l0.4-0.3l0.4-0.5l0.3-0.3l0.5-0.8l0-0.1l0.3-0.7l0.1-0.8l0.1-0.8l-0.1-0.8l0-0.8l0-0.8l0.1-0.7l0-0.8l-0.2-0.8l-0.3-0.6l-0.2-0.2l-0.6-0.8l0-0.8l0.7-0.8l0.1 0l0.8-0.3l0.8-0.1l0.7-0.1l0.8 0l0.8 0.1l0.8-0.1l0.5-0.3l0.3-0.2l0.5-0.6l0.2-0.2l0.6-0.6l0.2-0.2l0.8-0.5l0.5-0.1l0.3 0l0.1 0l0.7 0.2l0.8 0.4l0.3 0.2l0.4 0.3l0.8 0.4l0.3 0.1l0.5 0.2l0.8 0l0.8-0.1l0.7-0.1l0.8-0.1l0.8 0.1l0.6 0.8l0.1 0.8l0.1 0.4l0 0.4l0.5 0.8l0.3 0.1l0.7 0.6l0.2 0.1l0.6 0.2l0.8 0.3l0.8 0.1l0.8 0.1l0.8-0.1l0.7-0.2l0.8-0.3l0.8-0.1l0.8 0.1l0.8 0.2l0.7 0.1l0.8 0l0.8 0.1l0.8 0.1l0.8 0.1l0.1 0.1l0.7 0.3l0.4 0.5l0.3 0.7l0 0.1l0.2 0.7l0 0.8l0.1 0.8l0.1 0.8l0.2 0.8l0.2 0.5l0.2 0.3l0.6 0.8l0.8 0.6l0.5 0.2l0.3 0.1l0.7 0.1l0.8-0.1l0.7-0.1l0.1 0l0.8-0.1l0.8 0.1l0.2-0.8l-0.2-0.1l-0.6-0.7l-0.2-0.2l-0.4-0.6l-0.4-0.8l-0.3-0.8l-0.2-0.8l-0.1-0.8l0-0.7l0-0.8l0.4-0.8l0.2-0.2l0.6-0.6l0.2-0.2l0.5-0.6l0.3-0.4l0.3-0.4l0.4-0.8l0.1 0l0.7-0.2l0.8 0.2l0.2 0l0.6 0.1l0.8 0.1l0.8 0l0.7 0l0.8-0.1l0.8 0.2l0.6 0.5l0.1 0.8l-0.2 0.8l-0.1 0.8l-0.1 0.8l-0.1 0.8l-0.1 0.7l-0.1 0.7l0 0.1l-0.2 0.8l-0.1 0.8l0.1 0.8l0.2 0.7l0.1 0.1l0.5 0.8l0.2 0.2l0.8 0.5l0.7 0.1l0.1 0l0.7-0.1l0.8-0.3l0.8-0.3l0.1-0.1l0.7-0.4l0.5-0.4l0.3-0.2l0.6-0.6l0.1-0.2l0.6-0.6l0.2-0.6l0.1-0.2l0.1-0.8l-0.2-0.4l-0.1-0.4l-0.5-0.7l-0.2-0.4l-0.1-0.4l0.1-0.4l0.8-0.2l0.4 0.6l0.4 0.6l0.1 0.2l0.7 0.6l0.4 0.1l0.4 0.1l0.7 0.1l0.8 0.2l0.8 0.4l0.1 0.8l-0.1 0.3l-0.3 0.5l-0.5 0.6l-0.1 0.2l-0.4 0.8l0 0.8l-0.1 0.8l-0.2 0.5l-0.1 0.3l-0.6 0.8l-0.8 0.5l-0.7 0.3l-0.1 0l-0.8 0.3l-0.8 0.3l-0.3 0.2l-0.4 0.3l-0.8 0.5l-0.1 0l-0.7 0.3l-0.8 0.1l-0.8-0.3l-0.3-0.1l-0.5-0.2l-0.7-0.3l-0.8-0.1l-0.8 0.1l-0.8 0.1l-0.8 0.1l-0.7 0.2l-0.5 0.1l-0.3 0.1l-0.8 0.4l-0.3 0.3l-0.5 0.6l-0.1 0.2l-0.7 0.7l-0.1 0.1l-0.7 0.3l-0.7 0.2l-0.8 0.2l-0.2 0.1l-0.6 0.1l-0.8 0.3l-0.7 0.4l-0.1 0l-0.7 0.4l-0.8 0.4l-0.8 0.4l-0.7 0.4l-0.1 0l-0.7 0.8l-0.1 0.1l-0.4 0.6l-0.3 0.6l-0.2 0.2l-0.6 0.5l-0.7 0.3l-0.1 0.1l-0.8 0.2l-0.8 0l-0.8 0l-0.7-0.1l-0.8 0l-0.8 0.1l-0.8 0.3l-0.4 0.2l-0.4 0.2l-0.7 0.5l-0.3 0.1l-0.5 0.3l-0.8 0.4l-0.5 0.1l-0.3 0.1l-0.8 0.1l-0.8 0.1l-0.7 0.2l-0.8 0.2l-0.3 0.1l-0.5 0.2l-0.8 0.4l-0.5 0.2l-0.3 0.1l-0.7 0.2l-0.8 0l-0.8-0.1l-0.8 0.3l-0.3 0.3l-0.3 0.8l-0.2 0.8l0.8 0.8l0 0.8l-0.8 0.8l-0.7 0.8l-0.8 0.8l-0.8 0.8l0.8 0.8l-0.8 0.8l-0.8 0.7l-0.8 0.8l-0.8 0.8l0 0.8l-0.7 0.8l0 0.8l0 0.5l0.2 0.3l0.5 0.7l0.3 0.1zM459.4 26.2l-0.1-0.8l0.3-0.8l0.8-0.2l0.2 0.2l0.1 0.8l-0.3 0.5l-0.5 0.3l-0.3 0.1zM469 21.5l0-0.1l-0.3-0.7l0.3-0.3l0.8-0.4l0.8 0.3l0.2 0.4l0 0.8l-0.2 0.1l-0.8 0.1zM410.4 58l0.8-0.8l0.8-0.8l0.7-0.8l0.8-0.7l-0.8-0.8l-0.7-0.8l-0.8-0.8l-0.3 0l0 0.8l-0.5 0.2l-0.5-0.2l-0.3-0.7l0-0.1l-0.8 0.8l-0.8 0.8l-0.3 0.3l0.3 0.3l0.2 0.2l0.6 0.5l0.4 0.2l0.4 0.5l0.5 0.3l0.3 0.8l-0.2 0.8zM372.1 55.3l0.4-0.4l0.4-0.4l0.7-0.4l0.1-0.1l0.7-0.2l0.8-0.1l0.8 0l0.8 0l0.8 0.1l0.8 0.1l0.7-0.2l0.8-0.4l0.7-0.8l0.1-0.2l0.3-0.6l0.2-0.8l0.2-0.8l0.1-0.1l0.2-0.7l0.3-0.8l0.3-0.4l0.5-0.4l0.2-0.2l0.8-0.3l0.8-0.3l0.8-0.4l0.6-0.4l0.2-0.1l0.6-0.7l0.1-0.3l0.3-0.5l0.1-0.8l0.1-0.8l0-0.8l0-0.8l0-0.8l0.2-0.7l0.1-0.2l0.5-0.6l0.3-0.4l0.7-0.4l0.1-0.1l0.8-0.3l0.8-0.2l0.4-0.2l0.3-0.4l0.1-0.4l0.2-0.8l0.1-0.8l0.2-0.8l0.2-0.8l0-0.2l0.1-0.6l0.1-0.8l0-0.8l0-0.8l0.1-0.8l0.2-0.8l0.2-0.8l0.1-0.2l0.4-0.6l0.4-0.4l0.5-0.4l0.3-0.1l0.7-0.3l0.8-0.3l0.2-0.1l0.6-0.2l0.8-0.2l0.8-0.4l0.8-0.4l0.3-0.4l0.4-0.5l0.2-0.2l0.3-0.8l0.2-0.8l0.1-0.8l0-0.2l0.2-0.6l0.6-0.8l-0.8 0l-0.8 0.8l-0.7 0l-0.8 0.8l-0.7 0l0.2 0.8l-0.1 0.8l-0.2 0.3l-0.4 0.5l-0.4 0.2l-0.8 0.4l-0.4 0.1l-0.4 0.1l-0.7 0.1l-0.8 0l-0.1 0l-0.7 0.6l-0.8 0.8l-0.8 0.8l-0.7 0.8l-0.8 0.8l-0.8 0.8l-0.8 0.8l-0.8 0.8l-0.8 0.8l-0.7 0l-0.8 0.8l-0.8 0l-0.8 0.8l-0.8 0.8l0.1 0l0.7-0.2l0.8-0.2l0.8-0.4l0.8-0.4l0.5-0.4l0.2-0.2l0.8-0.6l0.8-0.6l0.4-0.2l0.4-0.3l0.6 0.3l0.2 0.1l0.2 0.7l0.1 0.8l0 0.8l-0.2 0.8l-0.1 0.2l-0.4 0.6l-0.4 0.4l-0.4 0.4l-0.4 0.2l-0.7 0.6l-0.1 0l-0.8 0.7l-0.1 0.1l-0.6 0.6l-0.3 0.2l-0.5 0.5l-0.3 0.3l-0.5 0.6l-0.1 0.2l-0.2 0.8l-0.1 0.7l0.1 0.8l0.3 0.8l0 0.2l0.1 0.6l-0.1 0.7l-0.1 0.1l-0.7 0.4l-0.8-0.2l-0.2-0.2l-0.5-0.3l-0.8-0.2l-0.8 0.2l-0.4 0.3l-0.4 0.6l-0.1 0.2l-0.1 0.8l0 0.8l0.1 0.8l0 0.8l-0.1 0.8l-0.1 0.8l-0.3 0.8l-0.2 0.4l-0.2 0.4l-0.5 0.6l-0.3 0.2l-0.5 0.2l-0.8 0.2l-0.8 0.2l-0.8 0.1l-0.4 0.1l-0.4 0l-0.7 0.2l-0.8 0.4l-0.4 0.2l-0.4 0.3l-0.6 0.5l-0.2 0.1l-0.8 0.6l0 0.1l0.8 0l0.6 0.6zM406.9 52.8l0.4-0.3l0.7-0.8l0.8 0l0.8-0.8l0.8 0l0.8-0.8l0.8-0.8l0.7-0.8l-0.7-0.8l-0.8-0.8l-0.8-0.8l-0.5-0.5l-0.3 0l-0.8 0.3l-0.8 0.1l-0.7 0.1l-0.8 0.3l-0.4 0.5l0.4 0.8l0.5 0.8l0.2 0.8l0 0.8l-0.1 0.8l-0.1 0.8l-0.1 0.8zM390.9 50.1l0.7 0.7l0.8 0l0.8-0.3l0.6-0.4l0.2-0.1l0.7-0.7l0.1 0l0.7-0.8l0.8-0.8l0.8-0.6l0.3-0.2l0.5-0.5l0.3-0.3l0-0.8l-0.3-0.7l0-0.1l-0.3-0.8l-0.4-0.8l-0.1-0.4l-0.1-0.4l-0.3-0.8l-0.1-0.8l-0.3-0.6l-0.1-0.1l-0.7-0.6l-0.4-0.2l-0.3-0.2l-0.8-0.1l-0.8-0.1l-0.7 0.4l-0.1 0l-0.2 0.8l-0.2 0.7l-0.1 0.8l-0.1 0.8l-0.2 0.8l-0.1 0.8l-0.1 0.8l-0.2 0.8l-0.1 0.8l-0.2 0.8l0 0.4l-0.2 0.4l-0.1 0.8l0 0.8l0.2 0.8zM393.6 45.3l-0.3-0.8l-0.1-0.8l0.2-0.8l0.4-0.8l0.2-0.1l0.8-0.1l0.2 0.2l0.5 0.6l0.1 0.2l0.2 0.8l0.1 0.8l-0.4 0.8l-0.7 0.5l-0.8-0.1zM400.2 47.9l0.8 0.3l0.5-0.5l-0.3-0.8l-0.2-0.1l-0.8 0l-0.1 0.1l0 0.8zM412 39l0-0.1l-0.1 0.1zM418.2 27.1l0.1-0.1l0.7-0.1l0.8-0.4l0.3-0.3l0.5-0.3l0.6-0.5l0.1-0.1l0.8-0.5l0.2-0.2l0.6-0.7l0.1-0.1l-0.1-0.7l0-0.1l-0.8-0.6l-0.2-0.1l-0.6-0.3l-0.7-0.2l-0.8-0.3l-0.3 0l-0.5-0.2l-0.8-0.1l-0.8 0l-0.6 0.3l-0.2 0.1l-0.4 0.7l-0.3 0.8l0 0.2l-0.2 0.5l-0.1 0.8l0 0.8l0.3 0.5l0.2 0.3l0.5 0.4l0.8 0.3l0.6 0.1zM255.7 15.2l0.1-0.1l0.6-0.2l0.8-0.5l0.2-0.1l0.6-0.5l0.4-0.3l0.4-0.4l0.5-0.4l-0.5 0l-0.8 0l-0.8 0l-0.8 0l-0.7 0l-0.8 0l0 0.8l0 0.8l0 0.8l0 0.2zM272.1 14.7l0.7 0.3l0.8-0.1l0.8-0.2l0.8-0.3l0.2-0.1l0.6-0.6l0.2-0.2l0.6-0.4l0.7-0.3l0.8 0.2l0.8 0.4l0.2 0.1l0.6 0.3l0.8 0.3l0.7 0.2l0.8-0.1l0.8-0.3l0.7-0.4l0.1-0.1l0-0.7l-0.8 0l-0.8 0l-0.8 0l-0.7 0l-0.8 0l-0.8 0l-0.8 0l-0.8 0l-0.7 0l-0.8 0l-0.8 0l-0.8 0l-0.8 0l-0.8 0l-0.7 0l-0.8 0l-0.5 0l0.3 0.8l0.2 0.4l0.3 0.4z"/>
<path fill="#550f6d" stroke="#550f6d" stroke-width="0.3" d="M445.6 119.4l0.3-0.1l0.4-0.2l0.7-0.6l0.1-0.1l0.6-0.7l0.2-0.5l0.2-0.3l0.3-0.8l0.1-0.8l0.1-0.8l0-0.8l0.1-0.8l0-0.5l0-0.3l0.2-0.8l0.6-0.8l0.7-0.8l0-0.1l0.6-0.7l0.2-0.7l0-0.1l-0.2-0.8l-0.6-0.5l-0.2-0.3l-0.5-0.3l-0.8-0.2l-0.8 0.2l-0.3 0.3l-0.5 0.8l-0.2 0.8l-0.1 0.8l-0.2 0.8l-0.3 0.4l-0.1 0.4l-0.6 0.6l-0.2 0.2l-0.6 0.4l-0.6 0.4l-0.2 0.1l-0.8 0.4l-0.8 0.2l-0.2 0.1l-0.5 0.2l-0.8 0.3l-0.4 0.3l-0.3 0.8l0.4 0.8l0.3 0.4l0.3 0.4l0.5 0.5l0.2 0.3l0.5 0.6l0.3 0.2l0.5 0.5l0.4 0.3l0.4 0.2l0.8 0.5l0.4 0.1zM444.5 116.1l-0.5-0.6l-0.1-0.2l0.1-0.3l0.4-0.5l0.4-0.2l0.8-0.1l0.3 0.3l0.1 0.8l-0.4 0.7l-0.1 0.1l-0.7 0.1zM458.1 117.7l0.7 0l0.8-0.3l0.8-0.4l0.1-0.1l0.6-0.8l0.1-0.6l0-0.2l0-0.5l0-0.3l-0.3-0.8l-0.5-0.8l0.2-0.8l0.6-0.2l0.8-0.4l0.4-0.2l0.4-0.3l0.5-0.5l-0.1-0.8l-0.3-0.8l-0.1-0.3l-0.3-0.5l-0.4-0.8l-0.1-0.3l-0.3-0.5l-0.5-0.6l-0.3-0.2l-0.5-0.3l-0.8-0.2l-0.8-0.1l-0.7 0.2l-0.8 0.4l-0.1 0l-0.7 0.5l-0.5 0.3l-0.3 0.3l-0.5 0.5l-0.2 0.8l0.4 0.8l0.3 0.3l0.5 0.5l0.3 0.3l0.6 0.5l0.2 0.2l0.7 0.6l0.1 0l0.6 0.8l-0.6 0.3l-0.8 0.4l-0.1 0.1l-0.7 0.4l-0.3 0.4l-0.5 0.8l-0.1 0.8l0.1 0.6l0 0.2l0.5 0.8l0.3 0.2l0.8 0.4l0.6 0.2zM466.7 115.4l0.7 0.2l0.8 0l0.6-0.3l0.2-0.3l0.2-0.5l0.2-0.8l0-0.8l0-0.8l-0.3-0.8l-0.1-0.2l-0.8-0.5l-0.3-0.1l-0.5-0.1l-0.7 0l-0.8 0.1l-0.2 0l-0.6 0.3l-0.7 0.5l0.1 0.8l0.2 0.8l0.4 0.8l0.5 0.8l0.3 0.3l0.6 0.5zM472.1 110.8l0.8 0.1l0.8 0.1l0.8 0.1l0.8 0l0.7-0.2l0.5-0.4l0.3-0.3l0.3-0.5l0.3-0.8l0.2-0.8l0-0.5l0-0.3l0.1-0.8l0-0.8l0.1-0.8l0.4-0.8l0.2-0.2l0.7-0.5l0.1-0.1l0.7-0.4l0-0.3l0-0.8l0-0.8l0-0.1l-0.7-0.3l-0.8-0.4l-0.1 0l-0.7-0.3l-0.8-0.1l-0.8 0.2l-0.2 0.2l-0.5 0.4l-0.6 0.4l-0.2 0.1l-0.8 0.3l-0.8 0l-0.8 0l-0.8-0.1l-0.7 0l-0.8 0.2l-0.8 0.3l-0.8 0.4l-0.7 0.4l-0.1 0l-0.6 0.8l0.3 0.7l0.3 0.3l0.3 0.5l0.5 0.6l0.1 0.2l0.6 0.8l0.1 0.3l0.3 0.5l0.4 0.8l0.1 0.2l0.2 0.6l0.5 0.8l0.1 0.1l0.7 0.6l0.2 0.1zM472.9 108.9l-0.8-0.6l-0.1-0.2l-0.5-0.8l-0.2-0.4l-0.1-0.4l-0.2-0.8l0-0.8l0.3-0.7l0.1-0.1l0.7-0.3l0.8-0.1l0.8 0l0.8 0.1l0.8 0.3l0.6 0.8l0.1 0.5l0.1 0.3l0.1 0.8l0 0.8l-0.2 0.4l-0.1 0.4l-0.6 0.8l-0.2 0l-0.6 0.3l-0.8 0zM462.8 103.4l0.7 0.2l0.8 0l0.8-0.1l0.5-0.1l0.3-0.5l0.2-0.3l-0.2-0.3l-0.1-0.5l-0.4-0.8l-0.3-0.5l-0.3-0.3l-0.5-0.3l-0.8-0.3l-0.7-0.1l-0.8 0.2l-0.8 0.3l-0.4 0.2l-0.4 0.7l-0.1 0.1l0.1 0l0.5 0.8l0.3 0.3l0.5 0.5l0.3 0.2l0.7 0.6zM386.2 86.9l0.7 0.2l0.8 0l0.8-0.2l0.4-0.2l0.4-0.2l0.8-0.4l0.7-0.2l0.1 0l0.7-0.3l0.8-0.1l0.8-0.1l0.8 0.1l0.8 0.2l0.5 0.2l0.2 0l0.8 0.2l0.8 0l0.8-0.1l0.2-0.1l0.6-0.3l0.8-0.5l0.1 0l0.6-0.5l0.7-0.3l0.1-0.1l0.8-0.4l0.6-0.3l0.2-0.1l0.8-0.6l0.2-0.1l0.5-0.5l0.4-0.3l0.4-0.6l0.2-0.2l0.3-0.8l0.1-0.8l0-0.8l-0.1-0.8l-0.1-0.8l-0.2-0.8l0-0.8l0.5-0.8l0.1 0l0.8-0.2l0.8 0l0.5 0.2l0.2 0.1l0.8 0.5l0.2 0.2l0.6 0.5l0.3 0.3l0.5 0.4l0.6 0.4l0.2 0.1l0.8 0.1l0.2-0.2l0.5-0.4l0.3-0.4l0.4-0.8l0.1-0.3l0.1-0.5l0-0.8l-0.1-0.1l-0.4-0.7l-0.4-0.4l-0.4-0.4l-0.3-0.3l-0.5-0.4l-0.3-0.5l-0.3-0.3l-0.5-0.8l0-0.1l-0.7-0.7l-0.1-0.1l-0.8-0.3l-0.8-0.4l-0.7-0.4l-0.7-0.4l-0.1-0.1l-0.8-0.5l-0.4-0.2l-0.4-0.3l-0.8-0.4l-0.2-0.1l-0.5-0.3l-0.8-0.4l-0.1-0.1l-0.7-0.4l-0.6-0.4l-0.1-0.1l-0.1 0.1l-0.8 0l-0.7 0l-0.8 0l-0.8 0l-0.6 0.6l0 0.2l0.2 0.8l0.3 0.8l0.1 0.1l0.8 0.6l0.2 0.1l0.6 0.1l0.7 0l0.8 0.1l0.8 0.2l0.8 0.3l0.2 0.1l0.6 0.2l0.7 0.3l0.8 0.3l0.8 0.6l0.2 0.2l0.2 0.8l-0.4 0.3l-0.8 0.4l-0.2 0.1l-0.6 0.1l-0.7 0.6l-0.1 0l-0.6 0.8l-0.1 0.4l-0.2 0.4l-0.1 0.8l0.1 0.8l0.2 0.6l0.1 0.2l0.4 0.8l0.3 0.5l0.1 0.3l0.1 0.8l0 0.8l-0.2 0.6l-0.1 0.2l-0.7 0.8l-0.1 0l-0.7 0.4l-0.8 0.4l-0.8 0.2l-0.7 0.5l-0.2 0.1l-0.6 0.5l-0.3 0.3l-0.5 0.4l-0.6 0.4l-0.2 0l-0.8 0.1l-0.8-0.1l-0.2 0l-0.5-0.2l-0.8-0.2l-0.8-0.2l-0.8-0.1l-0.8 0l-0.7 0l-0.8-0.1l-0.8-0.5l-0.4-0.3l-0.4-0.4l-0.8-0.2l-0.8 0.1l-0.7 0.3l-0.8 0.2l-0.8 0.1l-0.8 0l-0.8-0.1l-0.7-0.1l-0.8-0.1l-0.8-0.2l-0.8-0.2l-0.4-0.2l-0.4-0.2l-0.7-0.6l-0.1 0l-0.7-0.5l-0.5-0.3l-0.3-0.2l-0.8-0.3l-0.8-0.3l-0.8-0.2l-0.7-0.3l-0.4-0.3l-0.4-0.2l-0.8-0.5l-0.3-0.1l-0.5-0.1l-0.8-0.1l-0.7-0.1l-0.8-0.1l-0.8-0.1l-0.8-0.2l-0.2-0.1l-0.6-0.1l-0.8-0.3l-0.7-0.2l-0.7-0.2l-0.1 0l-0.8-0.2l-0.8-0.1l-0.8-0.2l-0.6-0.3l-0.1-0.1l-0.7-0.7l-0.1-0.1l-0.3-0.7l-0.5 0l-0.8 0l-0.1 0.1l0.1 0.4l0.1 0.3l0.2 0.8l0.4 0.8l0.1 0.2l0.8 0.6l0.8 0.2l0.7 0.1l0.8 0l0.8 0.1l0.8 0.1l0.8 0.2l0.4 0.1l0.3 0.1l0.8 0.3l0.8 0.4l0.8 0.6l0.3 0.2l0.5 0.5l0.3 0.3l0.5 0.5l0.3 0.3l0.4 0.4l0.6 0.4l0.2 0.1l0.8 0.5l0.2 0.2l0.6 0.5l0.3 0.3l0.5 0.5l0.2 0.3l0.5 0.4l0.5 0.4l0.3 0.1l0.8 0.2l0.8 0.1l0.8 0.1l0.8-0.1l0.7-0.1l0.8-0.1l0.8-0.1l0.8-0.1l0.8 0.1l0.7 0.2l0.8 0.4l0.2 0.1l0.6 0.3l0.8 0.4l0.1 0.1zM358.5 72.7l0.3-0.4l0-0.7l0-0.8l-0.1-0.2l-0.1 0.2l-0.2 0.8l0 0.7zM377.6 63.5l0.8 0l0.7-0.7l0-0.8l-0.2-0.8l-0.2-0.8l-0.1-0.8l-0.2-0.8l0.3-0.8l0.4-0.2l0.8-0.6l0.8-0.6l0.1-0.2l0.7-0.7l0.7-0.8l0.1-0.1l0.6-0.7l0.1-0.2l0.7-0.6l0-0.1l-0.7-0.7l0.8-0.8l0.8 0.7l0.8-0.6l0.8-0.1l0.7 0.2l0.8 0.5l0.1 0.1l0.7 0.5l0.3 0.3l0.5 0.4l0.3 0.4l0.5 0.6l0.1 0.2l0.4 0.7l0.3 0.5l0.2 0.3l0.5 0.8l0.1 0l0.7 0.6l0.7 0.2l0.1 0.1l0.8 0.3l0.4 0.4l0.4 0.8l0.3 0.8l0.4 0.7l0.1 0.1l0.4 0.8l0.3 0.5l0.2 0.3l0.3 0.8l0.3 0l0.8-0.8l0.8-0.8l0.1 0l-0.1-0.2l-0.2-0.6l0-0.8l0.2-0.3l0.4-0.5l0.4-0.2l0.7-0.3l0.8 0l0.8 0.2l0.6 0.3l0.1 0.1l0.1-0.1l0.8-0.8l0.7-0.8l0-0.8l0.6-0.5l0-0.3l0.2-0.1l0-0.7l0.8-0.7l0-0.8l0.8-0.8l0.4-0.5l0-0.3l0.1-0.8l0.1-0.8l0.1-0.8l0-0.8l-0.2-0.8l-0.5-0.8l-0.4-0.8l0.4-0.5l0.8-0.3l0.7-0.1l0.8-0.1l0.8-0.3l0.3 0l-0.3-0.3l-0.8-0.8l-0.8 0l-0.7-0.8l0.7-0.8l0-0.8l0-0.8l0.8-0.8l0.8-0.7l0.8 0l0.8-0.8l0.7 0l0.1-0.1l0.7-0.7l0.8 0l0.8-0.8l0.4 0l-0.4-0.4l-0.5-0.4l-0.3-0.5l-0.3-0.3l-0.4-0.8l-0.1-0.3l-0.2-0.5l-0.2-0.8l0-0.8l0-0.8l0.2-0.8l0.2-0.5l0.1-0.3l0.6-0.8l0.1-0.2l0.8-0.5l0.1-0.1l0.7-0.2l0.8 0.1l0.6 0.1l0.1 0.1l0.8 0.2l0.8 0.3l0.8 0.1l0.8-0.3l0.4-0.4l0.4-0.3l0.5-0.5l0.2-0.2l0.8-0.5l0.3-0.1l0.5-0.2l0.8-0.2l0.8-0.2l0.4-0.2l0.3-0.1l0.8-0.4l0.4-0.3l0.4-0.4l0.3-0.4l0.5-0.5l0.3-0.3l0.5-0.2l0.7-0.1l0.8 0.1l0.4 0.2l0.4 0.7l0.1 0.1l-0.1 0.4l-0.1 0.4l-0.3 0.8l-0.3 0.8l0.3 0.8l0.4 0.3l0.8 0.4l0.3 0.1l0.5 0.2l0.8 0.4l0.5 0.2l0.2 0.1l0.8 0.3l0.8-0.1l0.5-0.3l0.3-0.2l0.7-0.6l0.1 0l0.7-0.7l0.3-0.1l0.5-0.6l0.5 0.6l0.3 0.2l0.6 0.6l0.2 0.2l0.6 0.6l0.2 0.2l0.6 0.6l0.2 0.2l0.7 0.6l0 0.1l0.8 0.6l0.2 0.1l0.6 0.5l0.4 0.3l0.4 0.3l0.6 0.5l0.2 0.2l0.4 0.6l0 0.8l-0.4 0.6l-0.2 0.2l-0.6 0.4l-0.8 0.3l-0.7 0.1l-0.1 0l-0.8 0l-0.7 0l-0.8 0.2l-0.5 0.6l-0.1 0.8l-0.2 0.8l-0.4 0.8l-0.4 0.2l-0.8 0.3l-0.8-0.1l-0.7-0.1l-0.8-0.2l-0.8 0l-0.8 0.3l-0.5 0.3l-0.3 0.2l-0.7 0.5l-0.4 0.1l-0.4 0.3l-0.8 0.3l-0.5 0.2l-0.3 0.1l-0.8 0.2l-0.8 0.2l-0.7 0.3l-0.2 0l-0.6 0.2l-0.8 0.2l-0.8 0.3l-0.8 0.1l-0.7-0.1l-0.8-0.1l-0.8-0.2l-0.8-0.1l-0.8-0.1l-0.4-0.2l-0.3-0.1l-0.8-0.6l0-0.1l-0.4-0.8l-0.2-0.8l-0.2-0.7l0-0.1l-0.4-0.7l-0.2-0.3l-0.2 0.3l-0.8 0.8l-0.8 0.7l0 0.8l0 0.8l0 0.8l0 0.8l0.8 0.8l0.8 0.8l0.8 0.8l0.8 0.8l0.8 0.8l0.7 0.8l0.2-0.8l0.3-0.8l0.3-0.3l0.8-0.3l0.8 0.1l0.8 0l0.7-0.2l0.3-0.1l0.5-0.2l0.8-0.4l0.5-0.2l0.3-0.1l0.8-0.2l0.7-0.2l0.8-0.1l0.8-0.1l0.3-0.1l0.5-0.1l0.8-0.4l0.5-0.3l0.3-0.1l0.7-0.5l0.4-0.2l0.4-0.2l0.8-0.3l0.8-0.1l0.8 0l0.7 0.1l0.8 0l0.8 0l0.8-0.2l0.1-0.1l0.7-0.3l0.6-0.5l0.2-0.2l0.3-0.6l0.4-0.6l0.1-0.1l0.7-0.8l0.1 0l0.7-0.4l0.8-0.4l0.8-0.4l0.7-0.4l0.1 0l0.7-0.4l0.8-0.3l0.6-0.1l0.2-0.1l0.8-0.2l0.7-0.2l0.7-0.3l0.1-0.1l0.7-0.7l0.1-0.2l0.5-0.6l0.3-0.3l0.8-0.4l0.3-0.1l0.5-0.1l0.7-0.2l0.8-0.1l0.8-0.1l0.8-0.1l0.8 0.1l0.7 0.3l0.5 0.2l0.3 0.1l0.8 0.3l0.8-0.1l0.7-0.3l0.1 0l0.8-0.5l0.4-0.3l0.3-0.2l0.8-0.3l0.8-0.3l0.1 0l0.7-0.3l0.8-0.5l0.6-0.8l0.1-0.3l0.2-0.5l0.1-0.8l0-0.8l0.4-0.8l0.1-0.2l0.5-0.6l0.3-0.5l0.1-0.3l-0.1-0.8l-0.8-0.4l-0.8-0.2l-0.7-0.1l-0.4-0.1l-0.4-0.1l-0.7-0.6l-0.1-0.2l-0.4-0.6l-0.4-0.6l-0.8 0.2l-0.1 0.4l0.1 0.4l0.2 0.4l0.5 0.7l0.1 0.4l0.2 0.4l-0.1 0.8l-0.1 0.2l-0.2 0.6l-0.6 0.6l-0.1 0.2l-0.6 0.6l-0.3 0.2l-0.5 0.4l-0.7 0.4l-0.1 0.1l-0.8 0.3l-0.8 0.3l-0.7 0.1l-0.1 0l-0.7-0.1l-0.8-0.5l-0.2-0.2l-0.5-0.8l-0.1-0.1l-0.2-0.7l-0.1-0.8l0.1-0.8l0.2-0.8l0-0.1l0.1-0.7l0.1-0.7l0.1-0.8l0.1-0.8l0.1-0.8l0.2-0.8l-0.1-0.8l-0.6-0.5l-0.8-0.2l-0.8 0.1l-0.7 0l-0.8 0l-0.8-0.1l-0.6-0.1l-0.2 0l-0.8-0.2l-0.7 0.2l-0.1 0l-0.4 0.8l-0.3 0.4l-0.3 0.4l-0.5 0.6l-0.2 0.2l-0.6 0.6l-0.2 0.2l-0.4 0.8l0 0.8l0 0.7l0.1 0.8l0.2 0.8l0.3 0.8l0.4 0.8l0.4 0.6l0.2 0.2l0.6 0.7l0.2 0.1l-0.2 0.8l-0.8-0.1l-0.8 0.1l-0.1 0l-0.7 0.1l-0.8 0.1l-0.7-0.1l-0.3-0.1l-0.5-0.2l-0.8-0.6l-0.6-0.8l-0.2-0.3l-0.2-0.5l-0.2-0.8l-0.1-0.8l-0.1-0.8l0-0.8l-0.2-0.7l0-0.1l-0.3-0.7l-0.4-0.5l-0.7-0.3l-0.1-0.1l-0.8-0.1l-0.8-0.1l-0.8-0.1l-0.8 0l-0.7-0.1l-0.8-0.2l-0.8-0.1l-0.8 0.1l-0.8 0.3l-0.7 0.2l-0.8 0.1l-0.8-0.1l-0.8-0.1l-0.8-0.3l-0.6-0.2l-0.2-0.1l-0.7-0.6l-0.3-0.1l-0.5-0.8l0-0.4l-0.1-0.4l-0.1-0.8l-0.6-0.8l-0.8-0.1l-0.8 0.1l-0.7 0.1l-0.8 0.1l-0.8 0l-0.5-0.2l-0.3-0.1l-0.8-0.4l-0.4-0.3l-0.3-0.2l-0.8-0.4l-0.7-0.2l-0.1 0l-0.3 0l-0.5 0.1l-0.8 0.5l-0.2 0.2l-0.6 0.6l-0.2 0.2l-0.5 0.6l-0.3 0.2l-0.5 0.3l-0.8 0.1l-0.8-0.1l-0.8 0l-0.7 0.1l-0.8 0.1l-0.8 0.3l-0.1 0l-0.7 0.8l0 0.8l0.6 0.8l0.2 0.2l0.3 0.6l0.2 0.8l0 0.8l-0.1 0.7l0 0.8l0 0.8l0.1 0.8l-0.1 0.8l-0.1 0.8l-0.3 0.7l0 0.1l-0.5 0.8l-0.3 0.3l-0.4 0.5l-0.4 0.3l-0.6 0.5l-0.2 0.2l-0.7 0.6l0 0.1l-0.6 0.7l-0.2 0.3l-0.4 0.5l-0.4 0.6l-0.1 0.2l-0.7 0.6l-0.2 0.2l-0.6 0.5l-0.2 0.3l-0.5 0.4l-0.4 0.4l-0.4 0.2l-0.8 0.3l-0.8-0.1l-0.6-0.4l-0.2-0.8l0.4-0.8l0.4-0.8l0.6-0.8l0.2-0.5l0.1-0.3l0.2-0.8l0-0.8l0.1-0.8l0.3-0.8l0.1-0.1l0.7-0.7l0.1 0l0.7-0.6l0.2-0.2l0.6-0.7l0-0.1l0.6-0.8l0.2-0.4l0.2-0.4l0.4-0.8l0.2-0.3l0.3-0.5l0.3-0.7l0.2-0.6l0.1-0.2l0-0.8l-0.1-0.3l-0.4-0.5l-0.4-0.2l-0.8-0.3l-0.5-0.3l-0.3-0.1l-0.8-0.4l-0.6-0.3l-0.1-0.1l-0.8-0.1l-0.8 0.2l-0.6 0.8l-0.2 0.6l0 0.2l-0.1 0.8l-0.2 0.8l-0.3 0.8l-0.2 0.2l-0.4 0.5l-0.3 0.4l-0.8 0.4l-0.8 0.4l-0.8 0.2l-0.6 0.2l-0.2 0.1l-0.8 0.3l-0.7 0.3l-0.3 0.1l-0.5 0.4l-0.4 0.4l-0.4 0.6l-0.1 0.2l-0.2 0.8l-0.2 0.8l-0.1 0.8l0 0.8l0 0.8l-0.1 0.8l-0.1 0.6l0 0.2l-0.2 0.8l-0.2 0.8l-0.1 0.8l-0.2 0.8l-0.1 0.4l-0.3 0.4l-0.4 0.2l-0.8 0.2l-0.8 0.3l-0.1 0.1l-0.7 0.4l-0.3 0.4l-0.5 0.6l-0.1 0.2l-0.2 0.7l0 0.8l0 0.8l0 0.8l-0.1 0.8l-0.1 0.8l-0.3 0.5l-0.1 0.3l-0.6 0.7l-0.2 0.1l-0.6 0.4l-0.8 0.4l-0.8 0.3l-0.8 0.3l-0.2 0.2l-0.5 0.4l-0.3 0.4l-0.3 0.8l-0.2 0.7l-0.1 0.1l-0.2 0.8l-0.2 0.8l-0.3 0.6l-0.1 0.2l-0.7 0.8l-0.8 0.4l-0.7 0.2l-0.8-0.1l-0.8-0.1l-0.8 0l-0.8 0l-0.8 0.1l-0.7 0.2l-0.1 0.1l-0.7 0.4l-0.4 0.4l-0.4 0.4l-0.2 0.2l0.2 0.1l0.8 0l0.8 0l0.7 0l0.8 0l0.8 0l0.8 0l0.8 0.8l-0.8 0.8l-0.8 0.8l0 0.8l0 0.8l-0.1 0.1l0.1 0.7l0 0.4l0 0.4l0.8 0.8l0 0.8l0 0.2zM395.1 57.2l-0.3-0.8l0-0.8l0.1-0.7l0.2-0.8l0.3-0.8l0.1-0.3l0.4-0.5l0.4-0.5l0.5-0.3l0.3-0.3l0.8 0.1l0.2 0.2l0.6 0.4l0.3 0.4l0.5 0.5l0.3 0.3l0.4 0.8l-0.1 0.8l-0.5 0.7l-0.1 0.1l-0.8 0.7l-0.1 0l-0.7 0.5l-0.7 0.3l-0.1 0.1l-0.8 0.2l-0.8 0zM390.8 50.1l-0.2-0.8l0-0.8l0.1-0.8l0.2-0.4l0-0.4l0.2-0.8l0.1-0.8l0.2-0.8l0.1-0.8l0.1-0.8l0.2-0.8l0.1-0.8l0.1-0.8l0.2-0.7l0.2-0.8l0.1 0l0.7-0.4l0.8 0.1l0.8 0.1l0.3 0.2l0.4 0.2l0.7 0.6l0.1 0.1l0.3 0.6l0.1 0.8l0.3 0.8l0.1 0.4l0.1 0.4l0.4 0.8l0.3 0.8l0 0.1l0.3 0.7l0 0.8l-0.3 0.3l-0.5 0.5l-0.3 0.2l-0.8 0.6l-0.8 0.8l-0.7 0.8l-0.1 0l-0.7 0.7l-0.2 0.1l-0.6 0.4l-0.8 0.3l-0.8 0l-0.7-0.7zM400.1 47.7l0-0.8l0.1-0.1l0.8 0l0.2 0.1l0.3 0.8l-0.5 0.5l-0.8-0.3zM399.5 43.7l-0.7-0.8l-0.1-0.2l-0.3-0.6l-0.1-0.8l0.1-0.8l0.3-0.6l0.1-0.2l0.7-0.4l0.7 0l0.8 0l0.8 0.1l0.8 0.1l0.8 0l0.7-0.2l0.8-0.3l0.1 0l0.7-0.4l0.8-0.2l0.8 0.2l0.4 0.4l0.3 0.5l0.1 0.3l0 0.7l-0.1 0.5l0 0.3l-0.4 0.8l-0.3 0.4l-0.6 0.4l-0.2 0.2l-0.8 0.2l-0.8 0.3l-0.2 0.1l-0.6 0.2l-0.7 0.3l-0.8 0.1l-0.8 0.1l-0.8-0.1l-0.8-0.2zM395.1 36.6l-0.3-0.4l-0.3-0.4l-0.1-0.8l0.1-0.8l0.3-0.8l0.3-0.8l0.2-0.8l0.1-0.8l0.1-0.6l0.1-0.2l0.3-0.8l0.4-0.8l0.8-0.8l0.8-0.2l0.8 0.1l0.1 0.1l0.4 0.8l0.2 0.8l0.1 0.5l0 0.3l0.1 0.8l-0.1 0.8l0 0.2l-0.3 0.6l-0.4 0.8l-0.1 0.3l-0.3 0.5l-0.3 0.8l-0.2 0.6l-0.1 0.2l-0.5 0.8l-0.2 0.1l-0.8 0.2l-0.8-0.1zM418 27l-0.6-0.1l-0.8-0.3l-0.5-0.4l-0.2-0.3l-0.3-0.5l0-0.8l0.1-0.8l0.2-0.5l0-0.2l0.3-0.8l0.4-0.7l0.2-0.1l0.6-0.3l0.8 0l0.8 0.1l0.5 0.2l0.3 0l0.8 0.3l0.7 0.2l0.6 0.3l0.2 0.1l0.8 0.6l0 0.1l0.1 0.7l-0.1 0.1l-0.6 0.7l-0.2 0.2l-0.8 0.5l-0.1 0.1l-0.6 0.5l-0.5 0.3l-0.3 0.3l-0.8 0.4l-0.7 0.1l-0.1 0.1zM437.9 26.2l-0.2-0.1l-0.3-0.7l-0.1-0.8l0.2-0.8l0.2-0.2l0.8-0.3l0.8 0l0.7 0.5l0.1 0.4l0.1 0.4l-0.1 0.4l-0.2 0.4l-0.5 0.8l-0.1 0.2l-0.8 0.5zM452.4 26.2l-0.6-0.1l-0.8-0.5l-0.2-0.2l-0.6-0.7l0-0.1l-0.2-0.8l0.2-0.7l0-0.1l0.7-0.7l0.1-0.2l0.8-0.3l0.8 0.2l0.3 0.3l0.5 0.6l0 0.2l0.3 0.7l0.1 0.8l-0.1 0.8l-0.3 0.7l-0.4 0.1l-0.4 0.1zM409.6 58l0.6 0l0.2-0.8l-0.3-0.8l-0.5-0.3l-0.4-0.5l-0.4-0.2l-0.6-0.5l-0.2-0.2l-0.3-0.3l-0.4 0.5l0 0.7l0.7 0.8l0.8 0.8zM423.7 38.2l0.8 0.3l0.7 0.1l0.8 0l0.8 0.1l0.8 0l0.6-0.5l0.2-0.2l0.2-0.6l0.3-0.8l0.2-0.8l-0.1-0.8l-0.6-0.7l-0.8-0.1l-0.8 0.2l-0.8 0.1l-0.8 0.1l-0.7-0.1l-0.8-0.1l-0.2 0l-0.6 0.6l-0.8 0l-0.8 0.8l-0.1 0.1l0.1 0.1l0.4 0.6l0.4 0.4l0.3 0.4l0.5 0.4l0.6 0.4zM466.7 18.5l0.7-0.1l0.3-0.1l0.4-0.2l-0.7-0.6l-0.7 0l-0.8 0l-0.1-0.1l0 0.1l0.1 0.3l0.3 0.5zM434.6 17.1l0.8 0.4l0.8-0.3l0.4-0.5l0.4-0.2l0.5-0.6l0.2-0.3l0.4-0.5l0.4-0.6l0.1-0.2l0.3-0.8l0.1-0.8l-0.5 0l-0.8 0l-0.4 0l-0.2 0.8l-0.1 0.2l-0.8 0.6l-0.8 0.1l-0.1-0.1l-0.7-0.4l-0.3-0.4l-0.3-0.8l-0.2 0l-0.7 0l-0.8 0l-0.4 0l0.2 0.8l0.2 0.3l0.2 0.5l0.6 0.7l0 0.1l0.6 0.8l0.1 0.2l0.6 0.6zM449.5 16.9l0.3-0.2l0.4-0.3l0.2-0.5l0.3-0.8l0.1-0.2l-0.6-0.6l-0.7 0l-0.8 0l-0.8-0.8l-0.4 0l0 0.8l0.2 0.8l0.2 0.4l0.3 0.4l0.5 0.5l0.6 0.3z"/>
<path fill="#2b0b57" stroke="#2b0b57" stroke-width="0.3" d="M444.8 116.2l0.7-0.1l0.1-0.1l0.4-0.7l-0.1-0.8l-0.3-0.3l-0.8 0.1l-0.4 0.2l-0.4 0.5l-0.1 0.3l0.1 0.2l0.5 0.6zM473.7 109.2l0.8 0l0.6-0.3l0.2 0l0.6-0.8l0.1-0.4l0.2-0.4l0-0.8l-0.1-0.8l-0.1-0.3l-0.1-0.5l-0.6-0.8l-0.8-0.3l-0.8-0.1l-0.8 0l-0.8 0.1l-0.7 0.3l-0.1 0.1l-0.3 0.7l0 0.8l0.2 0.8l0.1 0.4l0.2 0.4l0.5 0.8l0.1 0.2l0.8 0.6zM395.5 84.3l0.8 0.1l0.8-0.1l0.2 0l0.6-0.4l0.5-0.4l0.3-0.3l0.6-0.5l0.2-0.1l0.7-0.5l0.8-0.2l0.8-0.4l0.7-0.4l0.1 0l0.7-0.8l0.1-0.2l0.2-0.6l0-0.8l-0.1-0.8l-0.1-0.3l-0.3-0.5l-0.4-0.8l-0.1-0.2l-0.2-0.6l-0.1-0.8l0.1-0.8l0.2-0.4l0.1-0.4l0.6-0.8l0.1 0l0.7-0.6l0.6-0.1l0.2-0.1l0.8-0.4l0.4-0.3l-0.2-0.8l-0.2-0.2l-0.8-0.6l-0.8-0.3l-0.7-0.3l-0.6-0.2l-0.2-0.1l-0.8-0.3l-0.8-0.2l-0.8-0.1l-0.7 0l-0.6-0.1l-0.2-0.1l-0.8-0.6l-0.1-0.1l-0.3-0.8l-0.2-0.8l0-0.2l-0.2 0.2l-0.8 0l-0.8-0.8l0.8-0.8l0.5 0l-0.3-0.8l-0.2-0.3l-0.3-0.5l-0.4-0.8l-0.1-0.1l-0.4-0.7l-0.3-0.8l-0.4-0.8l-0.4-0.4l-0.8-0.3l-0.1-0.1l-0.7-0.2l-0.7-0.6l-0.1 0l-0.5-0.8l-0.2-0.3l-0.3-0.5l-0.4-0.7l-0.1-0.2l-0.5-0.6l-0.3-0.4l-0.5-0.4l-0.3-0.3l-0.7-0.5l-0.1-0.1l-0.8-0.5l-0.7-0.2l-0.8 0.1l-0.8 0.6l0 0.1l-0.8 0.8l-0.1-0.1l0 0.1l-0.7 0.6l-0.1 0.2l-0.6 0.7l-0.1 0.1l-0.7 0.7l0 0.1l-0.7 0.7l-0.1 0.2l-0.8 0.6l-0.8 0.6l-0.4 0.2l-0.3 0.8l0.2 0.8l0.1 0.8l0.2 0.8l0.2 0.8l0 0.8l-0.7 0.7l-0.8 0l-0.8-0.5l0 0.6l0.8 0.8l0 0.8l-0.8 0.8l-0.8 0l-0.8 0.8l-0.8 0l-0.7 0l-0.8 0l-0.8 0l-0.4 0l0.4 0.6l0.2 0.2l0.6 0.8l0.8 0.5l0.7-0.3l0.2-0.2l0.6-0.6l0.2-0.2l0.6-0.7l0.2-0.1l0.6-0.3l0.8-0.2l0.8 0.1l0.7 0.4l0.1 0l0.7 0.6l0.3 0.2l0.5 0.4l0.8 0.4l0.8 0.1l0.7-0.1l0.8 0l0.8 0l0.8-0.1l0.8-0.1l0.7-0.1l0.8-0.2l0.8-0.2l0.4-0.1l0.4-0.2l0.8-0.4l0.2-0.2l0.6-0.7l0.1-0.1l0.4-0.8l0.2-0.4l0.3-0.4l0.5-0.7l0.1-0.1l0.7-0.5l0.8 0.1l0.6 0.4l0.2 0.2l0.3 0.6l0.4 0.8l0 0.2l0.2 0.6l0.2 0.8l0.1 0.8l0.3 0.8l0 0.2l0.3 0.6l0.5 0.7l0.4 0.1l0.4 0.1l0.8 0l0.8 0.1l0.7 0.5l0.1 0.1l0.1 0.8l-0.1 0.7l-0.1 0.1l-0.5 0.7l-0.2 0.5l-0.5 0.3l-0.2 0.8l0.1 0.8l0.2 0.8l0 0.8l0 0.8l-0.2 0.8l-0.2 0.4l-0.2 0.4l-0.6 0.8l-0.8 0.8l-0.8 0.5l-0.8 0l-0.7-0.4l-0.2-0.1l-0.6-0.8l-0.1 0l-0.4-0.8l-0.3-0.8l-0.2-0.8l-0.1-0.8l0.1-0.8l0.2-0.4l0.3-0.4l0.5-0.2l0.8-0.3l0.7-0.2l0.3-0.1l0.5-0.1l0.8-0.3l0.6-0.4l0-0.8l-0.4-0.8l-0.2-0.3l-0.4-0.4l-0.4-0.3l-0.8 0.1l-0.3 0.2l-0.4 0.2l-0.8 0.5l-0.6 0.8l-0.2 0.3l-0.3 0.5l-0.5 0.8l-0.1 0l-0.7 0.5l-0.7 0.2l-0.4 0.1l-0.4 0.2l-0.8 0.3l-0.6 0.3l-0.2 0.2l-0.7 0.6l-0.1 0.1l-0.4 0.7l-0.4 0.6l-0.1 0.2l-0.5 0.8l-0.1 0.1l-0.7 0.7l-0.1 0l-0.8 0.5l-0.8 0.3l-0.1 0l-0.7 0.1l-0.7-0.1l-0.1 0l-0.7-0.2l-0.8-0.4l-0.3-0.2l-0.5-0.4l-0.4-0.4l-0.4-0.5l-0.3-0.3l-0.4-0.5l-0.4-0.3l-0.4-0.3l-0.8-0.4l-0.1-0.1l-0.7-0.3l-0.8-0.4l-0.1-0.1l-0.7-0.5l-0.2-0.3l-0.5-0.6l-0.1-0.2l-0.4-0.8l-0.1-0.8l0-0.8l0-0.7l-0.1-0.8l-0.1-0.5l-0.8-0.3l-0.8 0.2l-0.8 0l-0.7 0.1l-0.8-0.2l-0.3-0.1l-0.5-0.3l-0.5-0.5l-0.3-0.3l-0.3-0.5l-0.2-0.3l-0.3 0.3l-0.8 0.8l-0.7 0.8l-0.8 0.7l0.1 0.1l0.7 0.4l0.4 0.4l0.3 0.3l0.6 0.4l0.2 0.2l0.8 0.4l0.3 0.2l0.5 0.6l0.2 0.2l-0.1 0.8l-0.1 0.1l-0.8 0.1l-0.8-0.1l-0.5-0.1l-0.3-0.1l-0.7-0.2l-0.8-0.2l-0.8-0.2l-0.4-0.1l-0.4-0.1l-0.8-0.6l0-0.1l-0.7 0.8l-0.8 0l-0.3 0l0.3 0.7l0.1 0.1l0.7 0.7l0.1 0.1l0.6 0.3l0.8 0.2l0.8 0.1l0.8 0.2l0.1 0l0.7 0.2l0.7 0.2l0.8 0.3l0.6 0.1l0.2 0.1l0.8 0.2l0.8 0.1l0.8 0.1l0.7 0.1l0.8 0.1l0.5 0.1l0.3 0.1l0.8 0.5l0.4 0.2l0.4 0.3l0.7 0.3l0.8 0.2l0.8 0.3l0.8 0.3l0.3 0.2l0.5 0.3l0.7 0.5l0.1 0l0.7 0.6l0.4 0.2l0.4 0.2l0.8 0.2l0.8 0.2l0.8 0.1l0.7 0.1l0.8 0.1l0.8 0l0.8-0.1l0.8-0.2l0.7-0.3l0.8-0.1l0.8 0.2l0.4 0.4l0.4 0.3l0.8 0.5l0.8 0.1l0.7 0l0.8 0l0.8 0.1l0.8 0.2l0.8 0.2l0.5 0.2zM382.2 62.8l-0.1-0.8l0.2-0.5l0.2-0.3l0.5-0.4l0.8-0.2l0.8 0.3l0.1 0.3l0.1 0.8l-0.1 0.8l-0.1 0.1l-0.8 0.6l-0.8 0l-0.7-0.6zM385.2 59.6l-0.5-0.8l-0.1-0.7l0-0.1l0-0.5l0-0.3l0.2-0.8l0.6-0.7l0.1-0.1l0.7-0.3l0.7 0l0.7 0.3l0.1 0.2l0.5 0.6l0.3 0.7l0.1 0.1l0 0.8l-0.1 0.2l-0.4 0.6l-0.4 0.3l-0.8 0.4l-0.4 0.1l-0.3 0.1l-0.8 0.1zM376 61.2l0-0.4l0-0.4l-0.1-0.7l-0.7 0.7l0.8 0.8zM395.5 57.5l0.8 0l0.8-0.2l0.1-0.1l0.7-0.3l0.7-0.5l0.1 0l0.8-0.7l0.1-0.1l0.5-0.7l0.1-0.8l-0.4-0.8l-0.3-0.3l-0.5-0.5l-0.3-0.4l-0.6-0.4l-0.2-0.2l-0.8-0.1l-0.3 0.3l-0.5 0.3l-0.4 0.5l-0.4 0.5l-0.1 0.3l-0.3 0.8l-0.2 0.8l-0.1 0.7l0 0.8l0.3 0.8zM404.7 56.7l0.2-0.3l0-0.1l-0.2 0.1zM400.2 44.1l0.8 0.2l0.8 0.1l0.8-0.1l0.8-0.1l0.7-0.3l0.6-0.2l0.2-0.1l0.8-0.3l0.8-0.2l0.2-0.2l0.6-0.4l0.3-0.4l0.4-0.8l0-0.3l0.1-0.5l0-0.7l-0.1-0.3l-0.3-0.5l-0.4-0.4l-0.8-0.2l-0.8 0.2l-0.7 0.4l-0.1 0l-0.8 0.3l-0.7 0.2l-0.8 0l-0.8-0.1l-0.8-0.1l-0.8 0l-0.7 0l-0.7 0.5l-0.1 0.1l-0.3 0.6l-0.1 0.8l0.1 0.8l0.3 0.6l0.1 0.2l0.7 0.8zM421.3 43.1l0.8 0.1l0.8 0.1l0.8 0.2l0.8 0.1l0.7 0.1l0.8-0.1l0.8-0.3l0.8-0.2l0.6-0.2l0.2 0l0.7-0.3l0.8-0.2l0.8-0.2l0.3-0.1l0.5-0.2l0.8-0.3l0.4-0.3l0.4-0.1l0.7-0.5l0.3-0.2l0.5-0.3l0.8-0.3l0.8 0l0.8 0.2l0.7 0.1l0.8 0.1l0.8-0.3l0.4-0.2l0.4-0.8l0.2-0.8l0.1-0.8l0.5-0.6l0.8-0.2l0.7 0l0.8 0l0.1 0l0.7-0.1l0.8-0.3l0.6-0.4l0.2-0.2l0.4-0.6l0-0.8l-0.4-0.6l-0.2-0.2l-0.6-0.5l-0.4-0.3l-0.4-0.3l-0.6-0.5l-0.2-0.1l-0.8-0.6l0-0.1l-0.7-0.6l-0.2-0.2l-0.6-0.6l-0.2-0.2l-0.6-0.6l-0.2-0.2l-0.6-0.6l-0.3-0.2l-0.5-0.6l-0.5 0.6l-0.3 0.1l-0.7 0.7l-0.1 0l-0.7 0.6l-0.3 0.2l-0.5 0.3l-0.8 0.1l-0.8-0.3l-0.2-0.1l-0.5-0.2l-0.8-0.4l-0.5-0.2l-0.3-0.1l-0.8-0.4l-0.4-0.3l-0.3-0.8l0.3-0.8l0.3-0.8l0.1-0.4l0.1-0.4l-0.1-0.1l-0.4-0.7l-0.4-0.2l-0.8-0.1l-0.7 0.1l-0.5 0.2l-0.3 0.3l-0.5 0.5l-0.3 0.4l-0.4 0.4l-0.4 0.3l-0.8 0.4l-0.3 0.1l-0.4 0.2l-0.8 0.2l-0.8 0.2l-0.5 0.2l-0.3 0.1l-0.8 0.5l-0.2 0.2l-0.5 0.5l-0.4 0.3l-0.4 0.4l-0.8 0.3l-0.8-0.1l-0.8-0.3l-0.8-0.2l-0.1-0.1l-0.6-0.1l-0.8-0.1l-0.7 0.2l-0.1 0.1l-0.8 0.5l-0.1 0.2l-0.6 0.8l-0.1 0.3l-0.2 0.5l-0.2 0.8l0 0.8l0 0.8l0.2 0.8l0.2 0.5l0.1 0.3l0.4 0.8l0.3 0.3l0.3 0.5l0.5 0.4l0.4 0.4l0.4 0l0.8-0.8l0.7 0l0.8-0.8l0.8-0.8l0.8-0.8l0.8-0.8l0.8-0.8l0.7-0.8l0.8 0l0.8 0l0.5 0l-0.5-0.4l-0.3-0.4l-0.3-0.8l0.2-0.8l0.4-0.4l0.6-0.4l0.2 0l0.8-0.1l0.6 0.1l0.1 0.1l0.8 0.7l0.3 0.8l0.1 0.8l0.4 0l0.8 0.8l-0.8 0.8l-0.8 0l-0.8 0.8l-0.7 0.8l-0.8 0l-0.2 0.2l0.2 0l0.8 0.1l0.7 0.1l0.8-0.1l0.8-0.1l0.8-0.2l0.8 0.1l0.6 0.7l0.1 0.8l-0.2 0.8l-0.3 0.8l-0.2 0.6l-0.2 0.2l-0.6 0.5l-0.8 0l-0.8-0.1l-0.8 0l-0.7-0.1l-0.8-0.3l-0.2 0l-0.6-0.4l-0.5-0.4l-0.3-0.4l-0.4-0.4l-0.4-0.6l-0.1-0.1l-0.6 0.7l-0.8 0.8l-0.8 0.8l-0.6 0.5l0.2 0.3l0.4 0.7l0 0.1l0.2 0.7l0.2 0.8l0.4 0.8l0 0.1l0.8 0.6l0.3 0.1zM415 35l-0.5-0.8l-0.2-0.7l0-0.1l-0.1-0.8l0.1-0.7l0-0.1l0.5-0.8l0.3-0.3l0.8-0.1l0.7 0.2l0.2 0.2l0.5 0.8l0.1 0.5l0.1 0.3l0 0.8l-0.1 0.6l0 0.2l-0.3 0.8l-0.5 0.5l-0.7 0.1l-0.8-0.5zM395.5 36.8l0.8 0.1l0.8-0.2l0.2-0.1l0.5-0.8l0.1-0.2l0.2-0.6l0.3-0.8l0.3-0.5l0.1-0.3l0.4-0.8l0.3-0.6l0-0.2l0.1-0.8l-0.1-0.8l0-0.3l-0.1-0.5l-0.2-0.8l-0.4-0.8l-0.1-0.1l-0.8-0.1l-0.8 0.2l-0.8 0.8l-0.4 0.8l-0.3 0.8l-0.1 0.2l-0.1 0.6l-0.1 0.8l-0.2 0.8l-0.3 0.8l-0.3 0.8l-0.1 0.8l0.1 0.8l0.3 0.4l0.3 0.4zM438.5 26.9l0.8-0.5l0.1-0.2l0.5-0.8l0.2-0.4l0.1-0.4l-0.1-0.4l-0.1-0.4l-0.7-0.5l-0.8 0l-0.8 0.3l-0.2 0.2l-0.2 0.8l0.1 0.8l0.3 0.7l0.2 0.1zM452.6 26.3l0.4-0.1l0.4-0.1l0.3-0.7l0.1-0.8l-0.1-0.8l-0.3-0.7l0-0.2l-0.5-0.6l-0.3-0.3l-0.8-0.2l-0.8 0.3l-0.1 0.2l-0.7 0.7l0 0.1l-0.2 0.7l0.2 0.8l0 0.1l0.6 0.7l0.2 0.2l0.8 0.5l0.6 0.1zM435.4 14.4l0.8-0.1l0.8-0.6l0.1-0.2l0.2-0.8l-0.3 0l-0.8 0l-0.8 0l-0.8 0l-0.6 0l0.3 0.8l0.3 0.4l0.7 0.4z"/>
<path fill="#07051b" stroke="#07051b" stroke-width="0.3" d="M382.3 81.1l0.7 0.1l0.7-0.1l0.1 0l0.8-0.3l0.8-0.5l0.1 0l0.7-0.7l0.1-0.1l0.5-0.8l0.1-0.2l0.4-0.6l0.4-0.7l0.1-0.1l0.7-0.6l0.2-0.2l0.6-0.3l0.8-0.3l0.4-0.2l0.4-0.1l0.7-0.2l0.7-0.5l0.1 0l0.5-0.8l0.3-0.5l0.2-0.3l0.6-0.8l0.8-0.5l0.4-0.2l0.3-0.2l0.8-0.1l0.4 0.3l0.4 0.4l0.2 0.3l0.4 0.8l0 0.8l-0.6 0.4l-0.8 0.3l-0.5 0.1l-0.3 0.1l-0.7 0.2l-0.8 0.3l-0.5 0.2l-0.3 0.4l-0.2 0.4l-0.1 0.8l0.1 0.8l0.2 0.8l0.3 0.8l0.4 0.8l0.1 0l0.6 0.8l0.2 0.1l0.7 0.4l0.8 0l0.8-0.5l0.8-0.8l0.6-0.8l0.2-0.4l0.2-0.4l0.2-0.8l0-0.8l0-0.8l-0.2-0.8l-0.1-0.8l0.2-0.8l0.5-0.3l0.2-0.5l0.5-0.7l0.1-0.1l0.1-0.7l-0.1-0.8l-0.1-0.1l-0.7-0.5l-0.8-0.1l-0.8 0l-0.4-0.1l-0.4-0.1l-0.5-0.7l-0.3-0.6l0-0.2l-0.3-0.8l-0.1-0.8l-0.2-0.8l-0.2-0.6l0-0.2l-0.4-0.8l-0.3-0.6l-0.2-0.2l-0.6-0.4l-0.8-0.1l-0.7 0.5l-0.1 0.1l-0.5 0.7l-0.3 0.4l-0.2 0.4l-0.4 0.8l-0.1 0.1l-0.6 0.7l-0.2 0.2l-0.8 0.4l-0.4 0.2l-0.4 0.1l-0.8 0.2l-0.8 0.2l-0.7 0.1l-0.8 0.1l-0.8 0.1l-0.8 0l-0.8 0l-0.7 0.1l-0.8-0.1l-0.8-0.4l-0.5-0.4l-0.3-0.2l-0.7-0.6l-0.1 0l-0.7-0.4l-0.8-0.1l-0.8 0.2l-0.6 0.3l-0.2 0.1l-0.6 0.7l-0.2 0.2l-0.6 0.6l-0.2 0.2l-0.7 0.3l-0.8-0.5l-0.6-0.8l-0.2-0.2l-0.4-0.6l-0.4 0l-0.8 0l-0.7 0l-0.8 0l-0.8 0.8l-0.8 0l-0.5 0.5l0.2 0.3l0.3 0.5l0.3 0.3l0.5 0.5l0.5 0.3l0.3 0.1l0.8 0.2l0.7-0.1l0.8 0l0.8-0.2l0.8 0.3l0.1 0.5l0.1 0.8l0 0.7l0 0.8l0.1 0.8l0.4 0.8l0.1 0.2l0.5 0.6l0.2 0.3l0.7 0.5l0.1 0.1l0.8 0.4l0.7 0.3l0.1 0.1l0.8 0.4l0.4 0.3l0.4 0.3l0.4 0.5l0.3 0.3l0.4 0.5l0.4 0.4l0.5 0.4l0.3 0.2l0.8 0.4l0.7 0.2zM382.2 78.7l-0.1-0.8l0.2-0.1l0.7-0.2l0.6 0.3l-0.3 0.8l-0.3 0.1l-0.7-0.1zM377.5 74.7l-0.7-0.1l-0.8-0.7l-0.2-0.8l0.1-0.8l0.1-0.1l0.7-0.6l0.1-0.1l0.8-0.2l0.7 0.3l0.1 0l0.5 0.7l0.1 0.8l-0.1 0.8l-0.5 0.6l-0.7 0.2l-0.1 0.1zM386.4 73.9l-0.2-0.1l-0.5-0.7l-0.2-0.8l0.2-0.7l0.5-0.8l0.7-0.6l0.4-0.2l0.4-0.2l0.8-0.3l0.8-0.3l0.3 0l0.5-0.1l0.8-0.3l0.7-0.3l0.3-0.1l0.5-0.4l0.8-0.2l0.3 0.6l-0.1 0.8l-0.2 0.3l-0.3 0.5l-0.5 0.6l-0.1 0.2l-0.6 0.8l-0.1 0l-0.6 0.7l-0.1 0.2l-0.7 0.6l-0.1 0.1l-0.8 0.5l-0.6 0.2l-0.2 0.1l-0.8 0.2l-0.8 0zM366.6 74.8l0.8 0.1l0.8-0.1l0.1-0.1l0.1-0.8l-0.2-0.2l-0.5-0.6l-0.3-0.2l-0.8-0.4l-0.2-0.2l-0.6-0.4l-0.3-0.3l-0.4-0.4l-0.7-0.4l-0.1-0.1l0 0.1l0 0.8l-0.8 0.7l-0.8 0.8l-0.8 0l0 0.1l0.8 0.6l0.4 0.1l0.4 0.1l0.8 0.2l0.8 0.2l0.7 0.2l0.3 0.1zM382.3 62.9l0.7 0.6l0.8 0l0.8-0.6l0.1-0.1l0.1-0.8l-0.1-0.8l-0.1-0.3l-0.8-0.3l-0.8 0.2l-0.5 0.4l-0.2 0.3l-0.2 0.5l0.1 0.8zM385.4 59.8l0.8-0.1l0.3-0.1l0.4-0.1l0.8-0.4l0.4-0.3l0.4-0.6l0.1-0.2l0-0.8l-0.1-0.1l-0.3-0.7l-0.5-0.6l-0.1-0.2l-0.7-0.3l-0.7 0l-0.7 0.3l-0.1 0.1l-0.6 0.7l-0.2 0.8l0 0.3l0 0.5l0 0.1l0.1 0.7l0.5 0.8zM386.9 58.8l-0.7-0.8l0-0.8l0.7-0.8l0.8 0.8l0.8 0.8l-0.8 0.8zM415.1 35.1l0.8 0.5l0.7-0.1l0.5-0.5l0.3-0.8l0-0.2l0.1-0.6l0-0.8l-0.1-0.3l-0.1-0.5l-0.5-0.8l-0.2-0.2l-0.7-0.2l-0.8 0.1l-0.3 0.3l-0.5 0.8l0 0.1l-0.1 0.7l0.1 0.8l0 0.1l0.2 0.7l0.5 0.8zM422.9 31.4l0.5 0.4l0.3 0l0.8 0l0.7 0l0.8-0.8l0.4 0l-0.1-0.8l-0.3-0.8l-0.8-0.7l-0.1-0.1l-0.6-0.1l-0.8 0.1l-0.2 0l-0.6 0.4l-0.4 0.4l-0.2 0.8l0.3 0.8z"/>
<path fill="#000004" stroke="#000004" stroke-width="0.3" d="M382.3 78.7l0.7 0.1l0.3-0.1l0.3-0.8l-0.6-0.3l-0.7 0.2l-0.2 0.1l0.1 0.8zM377.6 74.8l0.1-0.1l0.7-0.2l0.5-0.6l0.1-0.8l-0.1-0.8l-0.5-0.7l-0.1 0l-0.7-0.3l-0.8 0.2l-0.1 0.1l-0.7 0.6l-0.1 0.1l-0.1 0.8l0.2 0.8l0.8 0.7l0.7 0.1zM386.9 74.2l0.8 0l0.8-0.2l0.2-0.1l0.6-0.2l0.8-0.5l0.1-0.1l0.7-0.6l0.1-0.2l0.6-0.7l0.1 0l0.6-0.8l0.1-0.2l0.5-0.6l0.3-0.5l0.2-0.3l0.1-0.8l-0.3-0.6l-0.8 0.2l-0.5 0.4l-0.3 0.1l-0.7 0.3l-0.8 0.3l-0.5 0.1l-0.3 0l-0.8 0.3l-0.8 0.3l-0.4 0.2l-0.4 0.2l-0.7 0.6l-0.5 0.8l-0.2 0.7l0.2 0.8l0.5 0.7l0.2 0.1z"/>

</g>
<path d="M437.7 103.4L439 101.1L441.5 97.9L444.6 94.8L447.7 90.6L450.2 90.3L453.4 94.1L456.5 96.7L458.7 97L462.4 95.4L465.9 94.4L466.8 95.1L469.9 96.4L474 98.3L475.9 99.9L479.9 101.8L481.8 104.6L481.8 106.2L478.4 108.1L475.9 108.1L470.3 108.1L465.3 107.2L461.8 104.9L458.1 104.9L454.9 105.3L452.7 105.9L448.7 107.5L442.7 107.5L439.9 106.5L439.3 104.9ZM461.2 94.1L462.8 94.4L466.2 94.1L471.2 91.9L474.3 88.7L470.6 89L465.9 90L461.8 90.9L460.6 92.9ZM435.2 109.7L437.7 108.4L442.4 108.1L445.2 109.1L442.4 110L437.7 110.3L435.2 110ZM460.6 33.1L465.9 34.7L468.4 35.6L470.6 34L469.3 32.4L466.2 32.1L472.1 31.5L476.8 33.1L478.7 31.8L481.5 28L483.1 27L483.1 24.8L480.6 26.1L477.8 27.7L472.1 28.3L461.8 27.7L456.5 26.7L454.3 25.1L453.1 27L457.4 29.3L460.6 31.8ZM444.9 43.9L447.4 42.3L451.2 42.6L454.3 44.5L454.3 46.1L450.2 47.7L447.1 47.1L444.9 45.5ZM459.6 43.9L462.1 41L463.1 38.8L464.9 39.8L465.6 42.6L463.7 44.5L461.2 44.5ZM390.2 51.2L393 49.6L395.5 50.2L394.3 52.2L391.2 52.8ZM395.9 54.7L398 51.2L398.7 51.8L396.8 54.7Z" fill="#fff"/><g fill="#fff"><circle cx="438.8" cy="18.5" r="1.5"/><circle cx="447.3" cy="26.5" r="1.2"/><circle cx="450.8" cy="29.3" r="1.0"/><circle cx="436.2" cy="33.9" r="1.1"/><circle cx="443.6" cy="40.2" r="1.6"/><circle cx="459.8" cy="36.6" r="1.3"/><circle cx="473.5" cy="46.2" r="1.5"/><circle cx="471" cy="51.5" r="1.0"/><circle cx="454.3" cy="80.7" r="0.9"/><circle cx="441.2" cy="39.3" r="1.0"/><circle cx="461.5" cy="41.8" r="1.8"/></g>
<path fill="none" stroke="#000" stroke-width="1.15" stroke-linejoin="round" d="M334.3 124L333.6 122.6L332.1 122.4L331.2 121.3L329.5 121.4L328.6 120.2L326.8 120.8L325.4 121L324 120.8L324.9 119.3L324.3 117.7L323.3 116.5L322.1 115.4L322.9 114.2L323.6 112.9L324.6 111.9L323.8 110.4L324.6 109.4L325.1 108.2L324.5 107.1L324.1 106.1L324 104.9L323.5 103.5L322.7 102.1L323.7 101.3L324.6 100.4L325.8 100.2L327.1 99.2L328.6 100.4L329.9 99.9L331.1 99.6L332.4 99.5L333.6 99.9L334.9 100.3L336.1 100.9L337.4 99.1L338.6 100.5L339.9 100.2L341.1 100.6L342.4 99.6L343.7 100.2L344.9 100.5L346.2 100.5L346.2 99.1L348 98.5L347.7 97L347.4 95.8L348.1 94.6L348.7 93.5L348 92.2L347 91.6L345.9 91L346.1 89.2L344.9 88.7L343.7 88.6L342.7 87.6L341.3 88L340.2 87.6L339.3 86.4L338 86.5L336.9 85.9L336.8 84.6L338 83.9L339.4 83.4L340.8 83.3L342.1 82.9L343.2 83.8L344.4 83.3L345.5 84L345.3 82.5L347.1 81.9L346.8 80.5L348 81.4L349.1 80.7L350.2 81.5L351.3 81.2L352.4 81.1L353.8 81.1L354.4 79.6L355.9 79.8L356.8 78.9L356.8 76.6L358 75.6L359.6 76L360.9 76.1L361.9 75.3L363 75L364.3 74.1L365.2 72.8L365.8 71.3L366.8 70L368.1 70.1L369.3 69.7L370.2 68.7L371.4 68.2L372.5 68.2L373.7 68.7L375.2 68.2L376.8 68.1L378.7 67.1L378.2 65.8L379.3 64.9L379.5 63.5L378.7 62.3L377.5 61.7L377.4 60.4L378.4 59.5L377.4 57.8L378.7 56.9L379.8 56.3L381.1 56L382.2 54.9L383.5 54.9L384.9 55L384.6 56.6L384.8 57.9L384 58.8L385.9 59.5L384.5 59.4L383.8 60.5L383 61.4L382 62.3L382.4 63.6L383.4 64.9L384.3 66.3L385.9 66.8L387.2 67.1L388.2 65.7L389.6 66.1L390.9 66.6L392 66L393.1 65.4L394.3 65.2L395.7 65.7L396.2 67.1L397.1 66L398.3 66.2L399.7 66.9L400.7 66L401.8 65.8L403 65.1L404.5 66L405.5 64.5L406.9 64.8L408 64.2L409.2 64.7L410.2 65.5L411.4 64.7L412.6 64.2L414 63.9L415.3 63.6L416.7 63.2L418.1 63L418.5 61.6L417.9 60.4L417.7 59.1L418.9 58.4L418.8 57L419.3 56L420.8 55.4L422.4 55L423.8 55.3L424.4 56.7L425.6 57.2L427 57.6L427.7 56.3L427.8 54.7L428.1 53.1L427.4 52L425.9 52.2L425.2 51.2L426.5 50.6L427.4 49.6L428.8 49.6L430 48.4L431.5 49L432.6 49.2L433.7 49.4L434.8 49.4L436 49.2L437 50L438.2 49.2L439.3 49.3L440.3 48.3L441.6 48.7L442.7 48.2L443.7 47.6L444.9 47.6L446.2 48L444.8 48.2L443.5 48L442.4 47.1L441.1 47.5L440 46.2L438.7 46.5L437.5 46L436.2 46.1L434.9 45.9L433.7 46.6L432.4 46.3L431.2 47.1L429.9 47.1L428.7 47.4L427.3 46.7L426.2 47.5L424.9 47.6L423.7 48L422.2 47.6L421.2 46.4L420.9 45.1L419.9 44.5L418.7 44.2L418.7 43.1L419 42L418.6 40.8L419 39.8L420.2 39.2L421.4 38.5L422.1 37.2L422.7 35.9L424.4 36.4L425.6 35.9L426.5 35L427.5 34.3L428.4 33.4L430 33.1L431.2 31.8L430.9 29.9L429.7 29.7L428.4 30.3L427.4 29.3L426.1 28.7L424.9 29.3L423.7 30L422.5 30.5L421.2 29.9L420.9 31.5L418.9 31.1L418.4 32.4L417.6 33.3L417.2 34.6L415.9 35L414.3 34.8L413.6 36.2L412.1 36.1L411.2 37.2L410.1 38.3L409 39.2L407.4 39.1L407 40.2L405.6 40.8L405.9 42.3L404.7 43.5L405.2 45.2L406.5 45.8L408.2 45.6L409.3 46.7L409.7 47.9L410.9 48.3L409.6 49.4L408 49.9L406.8 50.5L405.5 51L404.6 52.2L404.6 53.5L403.4 54.4L403.4 55.6L402.4 57L401.8 58.5L401 59.5L399.7 59.6L398.7 60.1L397.9 61.3L396.5 61.7L395.1 61.9L393.7 61.5L392.4 62.3L392.2 61L391.8 59.8L390.4 59.3L390 58L389.3 56.9L388.1 56.1L388.7 54.7L388.4 53L386.8 52.5L386.8 51.3L386.2 50.2L384.6 49.9L384.9 48L384.7 49.3L384 50.1L383 50.9L382 51.4L381.1 52L379.9 52.2L379.2 53.3L378 53.5L376.8 53.7L375.2 54L373.7 54.1L372.6 53.7L371.5 53.4L370.8 52.3L369.6 52.2L369.1 51.1L369.3 49.9L368.5 48.9L367.6 47.9L367.4 46.4L367.4 45.3L368.3 44.1L367.4 42.9L367.8 41.6L368.3 40.4L369.6 39.4L371 39.5L372.4 39.4L373.4 38.7L374.7 38.7L375.8 38.3L376.8 37.5L377.9 36.8L379.5 37.7L380.4 35.9L381.8 36.3L382.4 34.8L383.3 33.9L384.9 33.7L386.3 33.8L387.4 33.3L387.9 31.4L389.3 31.5L390.1 30.6L390.9 29.8L391.2 28.6L392.1 28L392.5 26.8L394 26.7L394.3 25.4L395.4 24.6L396.2 23.5L397.4 22.9L398.3 22L399.9 22.7L400.5 21.3L401.8 20.3L403.4 20.4L404.4 19.9L405.4 19.3L406.4 18.6L407.4 18.1L408.8 18L409.6 16.4L411.2 16.5L412.4 16.8L413.4 16L414.6 16.5L415.6 15.4L416.6 14.6L417.7 14.5L419 14.9L420.3 15.3L421.2 14.1L422.2 13.3L423.7 14.2L424.8 13.5L425.9 13L426.9 12.5L428 12.4L429.2 12.8L430.2 12.4L431.3 12.2L432.4 12.4L433.6 12.7L434.7 12.2L435.9 12.4L437 12.2L438.2 12.6L439.3 12.7L440.5 13.4L441.8 13.6L443.3 13.1L444.1 14.8L445.6 14.6L446.5 15.7L447.6 16.4L449.3 15.4L450.2 16.5L451.7 16L452.5 17.7L453.7 17.9L454.9 17.8L456.1 18.5L457.3 17.9L458.5 18.2L459.7 17.7L460.7 19L462 17.8L463.1 18.7L464.3 18.8L465.6 18.5L466.7 18.8L467.9 19L468.8 20L470 20.2L471 20.6L472.1 21L473.2 21.9L474.6 21.7L476.1 21.4L477.4 21.8L478.4 22.9L479.4 24L480.8 23.1L481.8 23.9L483.1 23.9L482.4 25L482.4 26.1L483.6 27.2L483.9 28.3L483.1 29.5L482.9 30.6L483.1 31.7L483.7 32.8L483.5 33.9L482.3 35.1L482.5 36.2L483.8 37.3L483.1 38.4L483.4 39.5L483.6 40.7L483.3 41.8L483.5 42.9L483.2 44L482.6 45.2L482.5 46.3L484 47.4L482.2 48.5L483.4 49.6L483.8 50.8L482.6 51.9L482.2 53L482.9 54.1L482.8 55.2L483 56.4L482.9 57.5L483.9 58.6L482.4 59.7L483.9 60.9L482.2 62L483.9 63.1L482.8 64.2L483.5 65.3L482.1 66.5L483 67.6L483.4 68.7L483.3 69.8L483.6 70.9L482.4 72.1L482.9 73.2L483.3 74.3L482.2 75.4L483.7 76.6L482.9 77.7L482.6 78.8L482.6 79.9L483.4 81L482.2 82.2L482.6 83.3L482.7 84.4L482.6 85.5L483.5 86.6L483.2 87.8L483.8 88.9L483.4 90L482.7 91.1L482.7 92.3L482.4 93.4L482.6 94.5L483.3 95.6L483.5 96.7L482.7 97.9L482.8 99L483.6 100.1L483.9 101.2L482.3 102.3L482.3 103.5L483.6 104.6L483.1 105.7L482.9 106.8L483.3 108L483.6 109.1L482.3 110.2L483.9 111.3L483.9 112.4L482.9 113.6L483 114.7L482.6 115.8L483.2 116.9L482.5 118L483.1 119.2L483.8 120.3L483.1 121.4L483.7 122.5L482.5 123.7L483.8 124.8L482.4 125.9L482.5 127L483.5 128.1L482.7 129.3L483.1 130.4L482 129.7L480.8 129.6L479.7 130.9L478.6 129.5L477.5 129.5L476.3 131.2L475.2 130.9L474.1 130.1L473 129.8L471.9 131.1L470.7 130.9L469.6 130.7L468.5 130.4L467.4 130.4L466.2 131.3L465.1 130.4L464 130.4L464.8 128.8L464 127.2L465 125.7L464.3 124L464.9 122.1L463.1 122.1L461.5 122L459.9 121.5L459 122.5L457.8 123L456.5 123.4L455 124L453.4 123.7L452.4 122.8L451.1 122.4L450 121.6L448.7 121.5L447.1 122.7L445.7 122.8L444.3 123.4L443.5 122.5L442 123L441.5 121.3L440.2 121.5L439.1 120.6L437.7 120.8L436.9 119.5L436.8 118L435.6 117.2L434.3 116.7L435.3 115.9L435.9 114.8L434.2 114.5L433.7 112.9L433.3 111.6L434.3 110.7L435.5 111L436.7 110.9L437.7 110L438.9 109.6L440 109.1L441.4 109.1L442.4 108.4L440.9 108.1L439.7 108.5L438.4 109L437.2 109.5L435.8 108.7L434.6 109.4L433.1 108.8L431.7 108.9L430.4 107.7L429 108.4L427.5 108.4L426.5 109L425.9 110.3L426.8 111.3L425.4 110.3L423.7 110.7L423.4 109.4L422.4 111.3L423.6 111.8L423.7 113.2L424.6 113.8L424 114.8L423.4 115.8L424.5 116.3L425.5 117.1L426.8 117L425.9 118L424.4 118.1L424 119.6L422.8 120.8L422.7 122.4L421.8 122.7L420.4 122.7L419.6 121.5L419.2 120.4L418.5 119.5L417.7 118.6L418.9 117.9L419.3 116.7L417.7 116.4L416.7 115.7L416.5 114.5L415.4 113.8L414.9 112.6L414.2 111.6L413.2 110.9L412.4 110L412.8 108.6L412.7 107.2L412.4 105.3L411 104.6L409.6 103.7L408.5 103.2L407.5 102.5L406.5 101.8L405 101.9L403.8 101.5L403 100.2L402.2 98.7L400.7 98.5L399.3 97.9L399 96.3L397.6 95.7L396.5 94.8L395.5 95.5L394.3 95.1L394.6 93.2L393.6 93.7L392.4 93.8L391.2 93.1L390.2 94.1L391 95.5L390.5 97L391.6 97.6L392.2 98.9L393.7 99L394.3 100.2L394.4 101.9L395.5 102.9L396.8 103.7L398.2 103.9L398.7 105.8L400 106.4L401.5 106.5L401.8 105.3L402.8 106.1L404.1 106.6L404.9 107.8L406 108.3L406.3 109.8L407.5 110.1L408.9 110L409.6 111L407.7 111.3L406.8 110.4L405.5 110L404.2 110.8L403.7 112.3L403.7 113.9L405.2 114.5L404.1 115L404.2 116.7L402.3 116.3L402.1 117.7L400.9 116.7L401.6 115.5L402.4 114.5L401.2 113.8L401 112.5L400.9 111.3L399.8 110.4L398.4 110.3L397.2 109.8L396.5 108.8L395.4 107.5L393.8 107.7L392.4 107.2L391.6 106.1L390 106.5L389.3 105.3L388 105.2L387.1 104.4L386.5 103.4L386.1 102.2L384.8 101.5L384.6 100.2L382.9 99.9L382.4 98.3L380.9 97.5L379.3 97.3L378.3 97.8L377 97.7L375.9 98.1L375.2 99.2L374.5 100.2L372.9 99.8L372.4 101.1L371 101.2L369.8 100.2L368.3 100.8L367 100.8L365.8 100.2L364.7 100.9L363.5 101.4L362.1 100.8L361.6 102.2L361.5 103.7L361.8 105.3L360.6 105.6L359.6 106.1L358.7 106.8L357.4 107.6L356.1 108.2L354.6 108.1L353.3 108.5L352.9 109.6L352.4 110.7L350.9 111.5L350.8 113.2L351.2 114.6L352.4 115.4L351.5 116.5L350.2 116.7L350.5 118.1L349.3 118.9L348.2 120.3L346.5 119.9L345.1 120.3L344.9 121.8L343.8 121.6L342.6 122.5L341.5 121.8L340.3 121.5L339.2 122.3L338 121.8L337.3 123L335.6 122.5L334.9 123.7ZM334 79.3L335.3 79.8L336.4 79.3L337.4 77.9L338.7 78.2L339.9 77.8L341.2 77.6L342.3 78.3L343.3 77.6L344.4 77.4L345.5 77.3L347.2 77.8L348.7 77L350 76.5L351.4 77.7L352.7 77L353.9 76.7L355 76.1L356.2 75.7L354.6 74.7L355.8 73.9L356.8 72.8L357.1 70.9L355.5 70.1L354.1 70.4L352.7 70.3L352.7 68.7L352.1 68.1L350.9 67.2L350.5 65.8L349 66.2L348 64.9L347.1 63L346.6 61.7L345.5 61.1L343.7 60.1L344 58.8L344.5 57.6L345.1 56.5L346.2 55.6L345.2 55L344.1 54.6L343 54.1L341.9 55.9L340.8 55L339.3 55.3L340.5 54.5L341.4 53.4L342.1 52.2L340.9 52.9L339.7 52.3L338.5 52.1L337.3 52.7L336.1 52.2L334.7 52.5L334.6 54.1L334.5 55.3L333.6 56.3L333.7 57.5L334.3 58.5L332.4 59.5L332.4 60.9L333.9 61.2L334.3 62.3L335 61.1L336.5 61.4L335.6 62.5L335.8 63.9L337 64L338 64.6L339.4 64.6L340.5 63.9L341.5 65.2L342.4 66.8L342.7 68.7L341.5 69L340.1 69.5L338.8 69.4L337.4 69L337.7 70.6L339 72.2L337.6 72.2L336.9 73.8L335.5 73.8L337.1 73.8L338.7 74.4L340.3 74.4L341.8 75L342.4 75.7L341.2 76.3L339.9 75.5L338.7 75.7L337.4 76.6L335.8 76.6L335.5 78.4ZM320.5 74.4L321.7 73.7L322 72.5L322.1 71.2L321 70.2L320.8 68.7L320.4 67.5L320.2 66.1L321.4 66.8L322.6 66.1L323.7 65.9L324.9 65.8L325.7 64.8L325.2 63.6L326.3 62.8L327.9 63.5L329 62.3L330.1 62.7L331.3 62.7L332.4 63L333.4 64.2L334.6 65.2L333.9 66.3L333 67.1L332.7 69L332.9 70.3L333.1 71.5L332.1 72.5L330.7 72.4L329.7 73.4L328.3 73.5L326.9 74.3L325.2 74.4L323.8 74.2L322.4 73.9L321.1 75ZM275.2 30.2L276.6 30.3L277.5 29.4L278.3 28.3L279.3 27.4L280.6 27.5L281.8 27.3L282.4 28.8L283.9 29L285 29.8L286.1 30.5L287.5 30.7L288.3 29.2L289.9 29.8L290.8 28.6L292.2 28.6L293.5 28.2L294.9 28L296.1 28L297.2 27.5L298.3 27.1L299.4 26.5L300.7 27.6L301.8 27L302.9 26.9L304 27L305 27.9L306.1 27.7L304.9 28.5L305.5 29.9L307.1 29.6L307.9 31.3L309.3 31.5L308.1 31.9L307.8 33.6L306.5 33.7L305.4 34L304.3 34L303.2 34.7L302.1 34.3L300.6 33.9L299.8 35.5L298.4 35.3L297.1 35.1L296.1 36.3L294.9 36.8L293.8 37.5L292.4 36.9L291.2 36.1L289.8 36.6L288.7 35.7L287.3 36.3L286.1 35.6L284.8 36L283.5 35.1L282.1 36.2L280.8 35.6L281.7 34.6L283 34L281.7 34L280.4 34L279.3 32.9L277.9 33.2L276.8 32.4L278 31.6L279.5 32.9L280.7 31.3L282.1 31.8L281 31.3L279.8 31.2L278.8 30.3L277.4 31.1L276.4 30.1ZM248.6 9.5L247.8 10.7L248.1 11.8L249.2 12.9L248.8 14L247.9 15.2L248.5 16.3L248.6 17.4L248 18.6L249.1 19.7L247.9 20.8L248.6 21.9L249.8 22.1L251 21.8L252.1 21.8L253.3 21.5L254.5 21.1L255.6 20.6L256.9 21.8L258 21.3L259.1 20.8L260.3 20.5L261.6 21.1L262.8 21.4L263.7 19.4L265.1 20.5L266.3 20.3L267.4 19.7L268.3 18.7L269.6 18.9L270.7 18.8L271.7 17.9L273.2 19L274 17.4L275.2 17.5L276.5 17.3L277.9 17.5L278.9 16.1L280 15.2L281.4 15.6L282.3 14.5L281.8 13.1L282.7 12.1L282.3 10.6L283 9.5L281.9 10L280.8 9L279.7 10.2L278.6 9.8L277.5 9.9L276.4 10.2L275.2 9.4L274.1 10L273 10.3L271.9 8.8L270.8 10.2L269.7 9.3L268.6 9.5L267.5 8.9L266.4 9.9L265.3 9.1L264.2 10.2L263 9.1L261.9 9.7L260.8 9.3L259.7 9.8L258.6 9L257.5 8.9L256.4 10L255.3 10L254.2 9.7L253.1 10.3L251.9 9L250.8 10.2L249.7 8.9ZM378.7 106.8L380.5 106.8L381.7 106L381.5 104.6L381.8 103.1L381.2 101.8L380.7 102.9L379.6 103.4L378.7 104L379 105.9ZM378 114.5L379.9 114.5L381.8 113.8L382.8 112.6L382.7 111.2L382.4 109.7L381.4 108.8L381.5 107.5L380.3 107.9L378.9 107.1L377.7 108.1L377.9 109.3L378.4 110.3L378.2 111.5L378 112.6ZM390.5 118L392.2 118.3L393.4 117L394.6 117.5L395.7 116.3L396.9 116.7L398.2 117.6L399.4 116.9L400.5 116.7L400 117.7L398.9 118.5L399 119.9L399.3 121.8L397.7 121.7L396.5 120.8L395.7 119.8L394.4 119.9L393.3 119.7L392.3 119.2L391.2 118.9ZM425.2 126.2L426.8 125.3L427.8 126.3L429.1 126.3L430.4 125.4L431.5 126.2L432.8 126.2L434 126.6L433.4 127.2L432.3 126.4L431.2 127.1L430.1 127.2L429 127.2L427.9 126.3L426.4 127ZM359.3 112.6L360.7 112.8L361.5 111.6L362.7 112.3L361.8 113.5L360.2 112.9ZM386.2 62.6L386.9 63.8L388.1 64L389.3 63.9L389.8 62.4L391.2 61.7L390.2 60.1L389 60.5L387.6 59.8L386.5 60.7ZM382.4 62.6L383.8 63.7L385.5 63.3L384.9 61.7L383 62ZM408.4 56.6L409.9 56.9L410.9 55.6L411.5 54.4L409.6 54.4L408.6 55.2ZM420.6 53.1L422.1 52.2L423.3 53.1L424.6 52.5L423.2 52.9L422.4 54.1ZM452.7 127.2L454.2 127.4L454.9 126.1L456.3 126.3L457.3 125L458.7 125.1L459.9 125L458.5 125.4L458.1 126.9L457 127.3L456 127.9L454.9 128.5L454.2 127.3ZM329.9 130.4L331.3 129.8L331.8 128.5L332.1 127.2L332.2 125.7L333.3 124.7L335.2 124.3L336.1 125L336.4 126.4L337.7 126.6L338.9 126.6L340.1 126.4L341.3 127L342.4 126.2L344.1 126.1L345.5 126.9L346.9 126.9L347.7 125.8L348.7 125L349.8 124.7L351 124.7L352.1 124.3L353.1 123.7L354.1 123L355 122.1L356.5 122.4L357.7 122.6L358.8 121.7L359.9 121.3L361.2 121.5L362.4 121.9L363.7 122.4L364.9 120.6L366.2 121.9L367.4 121.5L368.7 121.6L369.8 120.3L371.1 120.6L372.4 120.5L373.7 120.7L375 120.3L376.1 121.8L377.5 120.6L378.7 121.2L380 121L381.4 121.1L382.4 119.9L384 121.2L385.2 120.5L386.5 120.5L386.2 122.3L384.6 123.1L384.6 124.4L385.5 125.3L386.5 126.6L385.7 128L384.6 129.1L385.1 130.3L386.2 131L387.9 131.1L389.3 132L389.3 133.6L388.2 133.9L387.1 132.9L386 134L384.9 133.6L383.8 133.6L382.7 133.8L381.6 133L380.5 133.6L379.4 133.8L378.3 132.2L377.2 133.6L376.1 132.7L375 132.8L373.9 132.1L372.8 133.1L371.7 132.2L370.6 133.3L369.5 132.1L368.4 132.6L367.3 132.2L366.2 132.5L365.1 131.7L364 131.6L362.9 132.6L361.8 132.6L360.7 132.2L359.6 132.8L358.5 131.4L357.4 132.5L356.3 131.2L355.1 132.6L354.1 131.9L353 131.8L351.8 132.5L350.8 132L349.7 132L348.6 130.5L347.5 131.1L346.4 130.5L345.3 130.6L344.2 130.6L343.1 131.8L342 130.3L340.9 130.6L339.8 130.9L338.7 131.5L337.6 131.7L336.5 131.1L335.4 130.1L334.3 130.7L333.2 130.9L332.1 129.6L331 130.8ZM329 41.3L330.4 41.6L331.1 40.4L331.5 41.7L330.3 41ZM347.4 48L348.7 47.5L348.7 46.1L346.8 46.4ZM328.3 57.2L329.7 56.9L330.3 55.8L330.4 54.2L331.5 53.6L332.4 52.8L331 52.6L330.2 53.7L329.5 54.8L328.9 56.1ZM423.7 114.8L424.3 116L425.5 116.3L426.9 115.8L427.7 116.7L428.7 117.3L427.4 116.4L426.5 115.1L425 115.2ZM432.7 114.2L434.1 114.6L434.9 113.5L433.7 114.5ZM438.7 123.7L439.9 122.7L439.6 124ZM271.1 118.3L273.3 118.3L273 118.6ZM266.1 115.4L267.4 115.1L267.1 115.8ZM262.4 116.1L264.3 116.2L263 116.4ZM437.7 103.4L439 102.6L439 101.1L440.2 100.4L440.2 98.6L441.5 97.9L442.2 97L443.6 96.9L443.9 95.6L444.6 94.8L445.4 93.8L446.7 93.1L446.6 91.4L447.7 90.6L449.1 91.2L450.2 90.3L450.9 91.4L451.8 92.2L452.5 93.3L453.4 94.1L454.5 94.8L455.7 95.5L456.5 96.7L457.7 96L458.7 97L460.1 96.8L461.1 95.7L462.4 95.4L463.5 94.7L464.8 95.1L465.9 94.4L466.8 95.1L467.5 96.4L469.2 95.1L469.9 96.4L470.8 97.2L471.8 97.6L473.3 97.1L474 98.3L475 98.9L475.9 99.9L476.9 100.4L478.1 100.3L478.6 102.1L479.9 101.8L480.9 102.5L481 103.8L481.8 104.6L481.8 106.2L480.3 106.2L479.7 107.8L478.4 108.1L477.1 108.9L475.9 108.1L474.8 107.6L473.6 108.4L472.5 107.7L471.4 108.6L470.3 108.1L468.9 108.3L467.9 107.1L466.4 108L465.3 107.2L463.9 106.7L462.8 106L461.8 104.9L460.6 105.6L459.3 104.8L458.1 104.9L456.5 105.6L454.9 105.3L454 106.3L452.7 105.9L451.1 105.7L450.3 107.6L448.7 107.5L447.5 107.3L446.3 107.4L445.1 106.8L443.9 107.9L442.7 107.5L441.5 106.6L439.9 106.5L439.3 104.9L438 104.6ZM461.2 94.1L462.8 94.4L464 95.1L465.1 94.7L466.2 94.1L467.2 93L468.6 92.9L470.2 93.2L471.2 91.9L472.1 91.2L472.8 90.3L474 90L474.3 88.7L473.1 89.3L471.8 88.2L470.6 89L469.4 89.1L468.2 89.5L467 89.6L465.9 90L464.6 90.5L463.3 91.1L461.8 90.9L461.9 92.4L460.6 92.9ZM435.2 109.7L436.8 109.8L437.7 108.4L439 108.9L440.1 107.7L441.3 108L442.4 108.1L443.6 109.3L445.2 109.1L443.8 109.4L442.4 110L441.3 110.1L440 109.5L438.9 110.7L437.7 110.3L436.6 109.5L435.2 110ZM460.6 33.1L461.4 34.1L462.6 34.2L463.9 33.5L464.9 34.2L465.9 34.7L466.9 35.9L468.4 35.6L469.5 34.9L470.6 34L469.3 32.4L467.8 32.2L466.2 32.1L467.4 32.6L468.5 31.4L469.8 32.5L471 31.8L472.1 31.5L473.3 31.8L474.4 32.4L475.7 32.5L476.8 33.1L477.5 32.1L478.7 31.8L478.7 30.3L480.4 30.1L480.6 28.8L481.5 28L483.1 27L482.7 25.9L483.1 24.8L481.6 25.1L480.6 26.1L478.7 26L477.8 27.7L476.7 28.7L475.5 27.5L474.3 27.7L473.3 28.9L472.1 28.3L471 28.4L469.8 28.1L468.7 28.6L467.6 27.1L466.4 28.3L465.3 27.6L464.2 27L462.9 28L461.8 27.7L460.3 28.2L459.3 26.6L457.8 27.2L456.5 26.7L455.6 25.6L454.3 25.1L454.1 26.3L453.1 27L454.3 27.2L455 28.6L456.6 28.1L457.4 29.3L458.7 29.9L459.7 30.7L460.6 31.8ZM444.9 43.9L446.6 43.8L447.4 42.3L448.6 42.9L450 41.9L451.2 42.6L452.3 43.1L452.9 44.5L454.3 44.5L454.3 46.1L452.9 46.5L451.6 47.1L450.2 47.7L448.8 46.7L447.1 47.1L445.8 46.6L444.9 45.5ZM459.6 43.9L461 43.5L461.7 42.3L462.1 41L462.1 39.7L463.1 38.8L464.9 39.8L465.4 41.1L465.6 42.6L464.1 43L463.7 44.5L462.4 44.4L461.2 44.5ZM390.2 51.2L392 51.1L393 49.6L394.2 50.4L395.5 50.2L395.4 51.5L394.3 52.2L392.8 52.6L391.2 52.8ZM395.9 54.7L397.2 54L397.7 52.6L398 51.2L398.7 51.8L398.5 53.1L397.5 53.8L396.8 54.7Z"/>
<g stroke="#999" stroke-width="0.5" stroke-dasharray="1.5,1.5">
<line x1="289.3" y1="15.5" x2="289.3" y2="127"/><line x1="320.5" y1="15.5" x2="320.5" y2="127"/><line x1="351.8" y1="15.5" x2="351.8" y2="127"/><line x1="383" y1="15.5" x2="383" y2="127"/><line x1="414.3" y1="15.5" x2="414.3" y2="127"/><line x1="445.6" y1="15.5" x2="445.6" y2="127"/><line x1="258" y1="111.3" x2="477" y2="111.3"/><line x1="258" y1="95.4" x2="477" y2="95.4"/><line x1="258" y1="79.5" x2="477" y2="79.5"/><line x1="258" y1="63.6" x2="477" y2="63.6"/><line x1="258" y1="47.7" x2="477" y2="47.7"/><line x1="258" y1="31.8" x2="477" y2="31.8"/></g>
<rect x="361.2" y="63.6" width="46.9" height="31.8" fill="none" stroke="#0000ff" stroke-width="1.5"/>
</g>
<rect x="258.4" y="15.5" width="218.3" height="111.3" fill="none" stroke="#555" stroke-width="0.75"/>
<g fill="#262626"><text x="26.1" y="12.5" font-size="9.7" textLength="8.8" lengthAdjust="spacingAndGlyphs">a)</text><text x="43.2" y="12.5" font-size="9.7" textLength="207.3" lengthAdjust="spacingAndGlyphs">gph@500hpa July 24th - Aug 10th 2018 (ERA5)</text><text x="271.6" y="12.5" font-size="9.7" textLength="9" lengthAdjust="spacingAndGlyphs">b)</text><text x="286.5" y="12.5" font-size="9.7" textLength="176.6" lengthAdjust="spacingAndGlyphs">HW tmax anomaly vs. 1985–2014 mean</text><text x="132.5" y="191.9" font-size="9.7" textLength="8.3" lengthAdjust="spacingAndGlyphs">c)</text><text x="148.8" y="191.9" font-size="9.7" textLength="223.9" lengthAdjust="spacingAndGlyphs">Storylines of the 2018 Central European Heatwave</text></g>
<g fill="#262626"><text x="26.3" y="113.6" font-size="6.7" text-anchor="end" textLength="15.4" lengthAdjust="spacingAndGlyphs">40°N</text><text x="479.6" y="113.6" font-size="6.7" textLength="15.4" lengthAdjust="spacingAndGlyphs">40°N</text><text x="26.3" y="97.7" font-size="6.7" text-anchor="end" textLength="15.4" lengthAdjust="spacingAndGlyphs">45°N</text><text x="479.6" y="97.7" font-size="6.7" textLength="15.4" lengthAdjust="spacingAndGlyphs">45°N</text><text x="26.3" y="81.8" font-size="6.7" text-anchor="end" textLength="15.4" lengthAdjust="spacingAndGlyphs">50°N</text><text x="479.6" y="81.8" font-size="6.7" textLength="15.4" lengthAdjust="spacingAndGlyphs">50°N</text><text x="26.3" y="65.9" font-size="6.7" text-anchor="end" textLength="15.4" lengthAdjust="spacingAndGlyphs">55°N</text><text x="479.6" y="65.9" font-size="6.7" textLength="15.4" lengthAdjust="spacingAndGlyphs">55°N</text><text x="26.3" y="50" font-size="6.7" text-anchor="end" textLength="15.4" lengthAdjust="spacingAndGlyphs">60°N</text><text x="479.6" y="50" font-size="6.7" textLength="15.4" lengthAdjust="spacingAndGlyphs">60°N</text><text x="26.3" y="34.1" font-size="6.7" text-anchor="end" textLength="15.4" lengthAdjust="spacingAndGlyphs">65°N</text><text x="479.6" y="34.1" font-size="6.7" textLength="15.4" lengthAdjust="spacingAndGlyphs">65°N</text><text x="60.7" y="134.8" font-size="6.7" text-anchor="middle" textLength="16.8" lengthAdjust="spacingAndGlyphs">20°W</text><text x="289.3" y="134.8" font-size="6.7" text-anchor="middle" textLength="16.8" lengthAdjust="spacingAndGlyphs">20°W</text><text x="91.9" y="134.8" font-size="6.7" text-anchor="middle" textLength="16.8" lengthAdjust="spacingAndGlyphs">10°W</text><text x="320.5" y="134.8" font-size="6.7" text-anchor="middle" textLength="16.8" lengthAdjust="spacingAndGlyphs">10°W</text><text x="123.1" y="134.8" font-size="6.7" text-anchor="middle" textLength="6.9" lengthAdjust="spacingAndGlyphs">0°</text><text x="351.8" y="134.8" font-size="6.7" text-anchor="middle" textLength="6.9" lengthAdjust="spacingAndGlyphs">0°</text><text x="154.3" y="134.8" font-size="6.7" text-anchor="middle" textLength="14.7" lengthAdjust="spacingAndGlyphs">10°E</text><text x="383" y="134.8" font-size="6.7" text-anchor="middle" textLength="14.7" lengthAdjust="spacingAndGlyphs">10°E</text><text x="185.6" y="134.8" font-size="6.7" text-anchor="middle" textLength="14.7" lengthAdjust="spacingAndGlyphs">20°E</text><text x="414.3" y="134.8" font-size="6.7" text-anchor="middle" textLength="14.7" lengthAdjust="spacingAndGlyphs">20°E</text><text x="216.8" y="134.8" font-size="6.7" text-anchor="middle" textLength="14.7" lengthAdjust="spacingAndGlyphs">30°E</text><text x="445.6" y="134.8" font-size="6.7" text-anchor="middle" textLength="14.7" lengthAdjust="spacingAndGlyphs">30°E</text></g>
<rect x="49.4" y="143.4" width="7.7" height="6" fill="#114680"/><rect x="56.8" y="143.4" width="7.7" height="6" fill="#1c5da0"/><rect x="64.3" y="143.4" width="7.7" height="6" fill="#2a71b2"/><rect x="71.7" y="143.4" width="7.7" height="6" fill="#3884bb"/><rect x="79.1" y="143.4" width="7.7" height="6" fill="#4a97c5"/><rect x="86.5" y="143.4" width="7.7" height="6" fill="#6bacd0"/><rect x="94" y="143.4" width="7.7" height="6" fill="#8bc1dc"/><rect x="101.4" y="143.4" width="7.7" height="6" fill="#a7d0e4"/><rect x="108.8" y="143.4" width="7.7" height="6" fill="#c1ddec"/><rect x="116.3" y="143.4" width="7.7" height="6" fill="#d7e8f1"/><rect x="123.7" y="143.4" width="7.7" height="6" fill="#e7f0f4"/><rect x="131.1" y="143.4" width="7.7" height="6" fill="#f7f7f7"/><rect x="138.5" y="143.4" width="7.7" height="6" fill="#f7f7f7"/><rect x="146" y="143.4" width="7.7" height="6" fill="#faebe3"/><rect x="153.4" y="143.4" width="7.7" height="6" fill="#fce0cf"/><rect x="160.8" y="143.4" width="7.7" height="6" fill="#fbcdb6"/><rect x="168.3" y="143.4" width="7.7" height="6" fill="#f7b799"/><rect x="175.7" y="143.4" width="7.7" height="6" fill="#f29f7e"/><rect x="183.1" y="143.4" width="7.7" height="6" fill="#e58268"/><rect x="190.6" y="143.4" width="7.7" height="6" fill="#d96651"/><rect x="198" y="143.4" width="7.7" height="6" fill="#ca4842"/><rect x="205.4" y="143.4" width="7.7" height="6" fill="#bb2a34"/><rect x="212.8" y="143.4" width="7.7" height="6" fill="#a61429"/><rect x="220.3" y="143.4" width="7.7" height="6" fill="#860a24"/><path d="M49.4 143.4L41 146.4L49.4 149.4Z" fill="#053061"/><path d="M227.7 143.4L236.1 146.4L227.7 149.4Z" fill="#67001f"/><path d="M49.4 143.4L41 146.4L49.4 149.4L227.7 149.4L236.1 146.4L227.7 143.4Z" fill="none" stroke="#444" stroke-width="0.6"/>
<rect x="278.5" y="143.4" width="18.1" height="6" fill="#f1ef75"/><rect x="296.3" y="143.4" width="18.1" height="6" fill="#fbbe23"/><rect x="314.1" y="143.4" width="18.1" height="6" fill="#f98c0a"/><rect x="331.9" y="143.4" width="18.1" height="6" fill="#ea632a"/><rect x="349.7" y="143.4" width="18.1" height="6" fill="#cc4248"/><rect x="367.5" y="143.4" width="18.1" height="6" fill="#a82e5f"/><rect x="385.3" y="143.4" width="18.1" height="6" fill="#7f1e6c"/><rect x="403.1" y="143.4" width="18.1" height="6" fill="#550f6d"/><rect x="420.9" y="143.4" width="18.1" height="6" fill="#2b0b57"/><rect x="438.7" y="143.4" width="18.1" height="6" fill="#07051b"/><path d="M278.5 143.4L269.2 146.4L278.5 149.4Z" fill="#fcffa4"/><path d="M456.5 143.4L464.4 146.4L456.5 149.4Z" fill="#000004"/><path d="M278.5 143.4L269.2 146.4L278.5 149.4L456.5 149.4L464.4 146.4L456.5 143.4Z" fill="none" stroke="#444" stroke-width="0.6"/>
<g stroke="#262626" stroke-width="0.6"><line x1="49.4" y1="149.4" x2="49.4" y2="151.3"/><line x1="71.7" y1="149.4" x2="71.7" y2="151.3"/><line x1="94" y1="149.4" x2="94" y2="151.3"/><line x1="116.3" y1="149.4" x2="116.3" y2="151.3"/><line x1="138.6" y1="149.4" x2="138.6" y2="151.3"/><line x1="160.8" y1="149.4" x2="160.8" y2="151.3"/><line x1="183.1" y1="149.4" x2="183.1" y2="151.3"/><line x1="205.4" y1="149.4" x2="205.4" y2="151.3"/><line x1="227.7" y1="149.4" x2="227.7" y2="151.3"/><line x1="278.5" y1="149.4" x2="278.5" y2="151.3"/><line x1="314.1" y1="149.4" x2="314.1" y2="151.3"/><line x1="349.7" y1="149.4" x2="349.7" y2="151.3"/><line x1="385.3" y1="149.4" x2="385.3" y2="151.3"/><line x1="420.9" y1="149.4" x2="420.9" y2="151.3"/><line x1="456.5" y1="149.4" x2="456.5" y2="151.3"/></g>
<g fill="#262626"><text x="49.4" y="160.7" font-size="8.9" text-anchor="middle" textLength="22.2" lengthAdjust="spacingAndGlyphs">−120</text><text x="71.7" y="160.7" font-size="8.9" text-anchor="middle" textLength="17.1" lengthAdjust="spacingAndGlyphs">−90</text><text x="94" y="160.7" font-size="8.9" text-anchor="middle" textLength="17.1" lengthAdjust="spacingAndGlyphs">−60</text><text x="116.3" y="160.7" font-size="8.9" text-anchor="middle" textLength="17.1" lengthAdjust="spacingAndGlyphs">−30</text><text x="138.6" y="160.7" font-size="8.9" text-anchor="middle" textLength="5.2" lengthAdjust="spacingAndGlyphs">0</text><text x="160.8" y="160.7" font-size="8.9" text-anchor="middle" textLength="10.3" lengthAdjust="spacingAndGlyphs">30</text><text x="183.1" y="160.7" font-size="8.9" text-anchor="middle" textLength="10.3" lengthAdjust="spacingAndGlyphs">60</text><text x="205.4" y="160.7" font-size="8.9" text-anchor="middle" textLength="10.3" lengthAdjust="spacingAndGlyphs">90</text><text x="227.7" y="160.7" font-size="8.9" text-anchor="middle" textLength="15.5" lengthAdjust="spacingAndGlyphs">120</text><text x="278.5" y="160.7" font-size="8.9" text-anchor="middle" textLength="5.2" lengthAdjust="spacingAndGlyphs">0</text><text x="314.1" y="160.7" font-size="8.9" text-anchor="middle" textLength="5.2" lengthAdjust="spacingAndGlyphs">2</text><text x="349.7" y="160.7" font-size="8.9" text-anchor="middle" textLength="5.2" lengthAdjust="spacingAndGlyphs">4</text><text x="385.3" y="160.7" font-size="8.9" text-anchor="middle" textLength="5.2" lengthAdjust="spacingAndGlyphs">6</text><text x="420.9" y="160.7" font-size="8.9" text-anchor="middle" textLength="5.2" lengthAdjust="spacingAndGlyphs">8</text><text x="456.5" y="160.7" font-size="8.9" text-anchor="middle" textLength="10.3" lengthAdjust="spacingAndGlyphs">10</text><text x="138.5" y="170.6" font-size="8.9" text-anchor="middle" textLength="100.3" lengthAdjust="spacingAndGlyphs">GPH@500hPa anom. [m]</text><text x="367.5" y="170.6" font-size="8.9" text-anchor="middle" textLength="62.9" lengthAdjust="spacingAndGlyphs">t2m anom. [°C]</text></g>
<rect x="195" y="196.3" width="122.9" height="108.7" fill="#fffbc9"/>
<g stroke="#c2c2c2" stroke-width="0.8"><line x1="80.1" y1="196.3" x2="80.1" y2="305"/><line x1="130.6" y1="196.3" x2="130.6" y2="305"/><line x1="181" y1="196.3" x2="181" y2="305"/><line x1="253.1" y1="196.3" x2="253.1" y2="305"/><line x1="303.5" y1="196.3" x2="303.5" y2="305"/><line x1="353.9" y1="196.3" x2="353.9" y2="305"/><line x1="404.4" y1="196.3" x2="404.4" y2="305"/><line x1="29.7" y1="300.5" x2="476.4" y2="300.5"/><line x1="29.7" y1="276.6" x2="476.4" y2="276.6"/><line x1="29.7" y1="252.8" x2="476.4" y2="252.8"/><line x1="29.7" y1="228.9" x2="476.4" y2="228.9"/><line x1="29.7" y1="205" x2="476.4" y2="205"/></g>
<g clip-path="url(#cc)"><polyline points="26.1,264.2 33.3,265.6 40.5,262.9 47.7,260.2 54.9,258.6 62.1,263.9 69.3,269.1 76.5,265.5 83.7,263.6 90.9,265 98.1,272.8 105.4,274.1 112.6,267.9 119.8,261.7 127,259.3 134.2,260.2 141.4,261.3 148.6,262.6 155.8,259.9 163,257.2 170.2,254.8 177.4,257.5 184.6,260.1 191.8,254.6 199,249.1 206.2,247.2 213.4,245.5 220.6,245.1 227.8,249.2 235,249.8 242.2,243.2 249.5,239.1 256.7,242.5 263.9,243 271.1,239.6 278.3,239.9 285.5,244.3 292.7,240.4 299.9,236.5 307.1,236.8 314.3,240.3 321.5,258.5 328.7,258.5 335.9,247.7 343.1,250.5 350.3,263.3 357.5,254.7 364.7,246.6 371.9,249.3 379.1,251.5 386.3,247.4 393.6,248.1 400.8,247.5 408,241.3 415.2,243.6 422.4,261.7 429.6,278.7 436.8,281.6 444,272.4 451.2,263.1 458.4,253.9 465.6,270.3 472.8,278.3 480,282.9" fill="none" stroke="#2ca02c" stroke-opacity="0.35" stroke-width="0.6" stroke-linejoin="round"/>
<polyline points="26.1,266.2 33.3,267.6 40.5,264.9 47.7,262.2 54.9,260.6 62.1,265.9 69.3,271.1 76.5,267.5 83.7,265.6 90.9,267 98.1,274.8 105.4,276.1 112.6,269.9 119.8,263.7 127,261.3 134.2,262.2 141.4,263.3 148.6,264.6 155.8,261.9 163,259.2 170.2,256.8 177.4,259.5 184.6,262.1 191.8,256.6 199,251.1 206.2,249.2 213.4,247.5 220.6,247.1 227.8,251.2 235,251.8 242.2,245.2 249.5,241.1 256.7,244.5 263.9,245 271.1,241.6 278.3,241.9 285.5,246.3 292.7,242.4 299.9,238.5 307.1,238.8 314.3,242.3 321.5,260.5 328.7,260.5 335.9,249.7 343.1,252.5 350.3,265.3 357.5,256.7 364.7,248.6 371.9,251.3 379.1,253.5 386.3,249.4 393.6,250.1 400.8,249.5 408,243.3 415.2,245.6 422.4,263.7 429.6,280.7 436.8,283.6 444,274.4 451.2,265.1 458.4,255.9 465.6,272.3 472.8,280.3 480,284.9" fill="none" stroke="#2ca02c" stroke-opacity="0.35" stroke-width="0.6" stroke-linejoin="round"/>
<polyline points="26.1,257 33.3,258.9 40.5,256 47.7,253 54.9,251.3 62.1,256.7 69.3,262.1 76.5,258.8 83.7,257.4 90.9,258.6 98.1,267.2 105.4,268.9 112.6,261.6 119.8,254.2 127,251.6 134.2,253.1 141.4,254.7 148.6,253.7 155.8,252.2 163,249.2 170.2,247.3 177.4,252.7 184.6,255.4 191.8,249.3 199,240.6 206.2,238.5 213.4,236.7 220.6,236.3 227.8,240.3 235,238.7 242.2,232.7 249.5,229.8 256.7,233.3 263.9,233.1 271.1,228.5 278.3,229.7 285.5,235.2 292.7,230.6 299.9,226.6 307.1,226.8 314.3,229 321.5,248.7 328.7,251.1 335.9,241.5 343.1,242.6 350.3,257 357.5,247.3 364.7,238 371.9,241.2 379.1,243.8 386.3,239.2 393.6,240.3 400.8,238.3 408,232.3 415.2,235 422.4,255.4 429.6,274.4 436.8,275.3 444,266.5 451.2,257.7 458.4,245.5 465.6,259.8 472.8,268.8 480,273.5" fill="none" stroke="#3333ff" stroke-opacity="0.35" stroke-width="0.6" stroke-linejoin="round"/>
<polyline points="26.1,259 33.3,260.9 40.5,258 47.7,255 54.9,253.3 62.1,258.7 69.3,264.1 76.5,260.8 83.7,259.4 90.9,260.6 98.1,269.2 105.4,270.9 112.6,263.6 119.8,256.2 127,253.6 134.2,255.1 141.4,256.7 148.6,255.7 155.8,254.2 163,251.2 170.2,249.3 177.4,254.7 184.6,257.4 191.8,251.3 199,242.6 206.2,240.5 213.4,238.7 220.6,238.3 227.8,242.3 235,240.7 242.2,234.7 249.5,231.8 256.7,235.3 263.9,235.1 271.1,230.5 278.3,231.7 285.5,237.2 292.7,232.6 299.9,228.6 307.1,228.8 314.3,231 321.5,250.7 328.7,253.1 335.9,243.5 343.1,244.6 350.3,259 357.5,249.3 364.7,240 371.9,243.2 379.1,245.8 386.3,241.2 393.6,242.3 400.8,240.3 408,234.3 415.2,237 422.4,257.4 429.6,276.4 436.8,277.3 444,268.5 451.2,259.7 458.4,247.5 465.6,261.8 472.8,270.8 480,275.5" fill="none" stroke="#3333ff" stroke-opacity="0.35" stroke-width="0.6" stroke-linejoin="round"/>
<polyline points="26.1,249.1 33.3,250.7 40.5,247.8 47.7,244.9 54.9,243.1 62.1,248.8 69.3,254.4 76.5,251.4 83.7,249.5 90.9,249.6 98.1,258.8 105.4,261.2 112.6,253.3 119.8,245.5 127,242.9 134.2,244.3 141.4,245.9 148.6,245.2 155.8,243.7 163,240.5 170.2,238.1 177.4,243.4 184.6,247.2 191.8,240.7 199,231.2 206.2,229.2 213.4,227.5 220.6,228 227.8,232 235,229.7 242.2,223.2 249.5,220 256.7,222.9 263.9,223.2 271.1,218.9 278.3,220.2 285.5,226.9 292.7,222.7 299.9,218.1 307.1,217.4 314.3,218.9 321.5,239.8 328.7,242.6 335.9,234 343.1,234.2 350.3,249.9 357.5,240.6 364.7,229.9 371.9,233.2 379.1,236.4 386.3,232.1 393.6,232.8 400.8,230.3 408,224.6 415.2,227.2 422.4,247.8 429.6,267.5 436.8,270.2 444,260.1 451.2,250.1 458.4,238.2 465.6,251.9 472.8,260.7 480,265.3" fill="none" stroke="#ff4444" stroke-opacity="0.35" stroke-width="0.6" stroke-linejoin="round"/>
<polyline points="26.1,251.1 33.3,252.7 40.5,249.8 47.7,246.9 54.9,245.1 62.1,250.8 69.3,256.4 76.5,253.4 83.7,251.5 90.9,251.6 98.1,260.8 105.4,263.2 112.6,255.3 119.8,247.5 127,244.9 134.2,246.3 141.4,247.9 148.6,247.2 155.8,245.7 163,242.5 170.2,240.1 177.4,245.4 184.6,249.2 191.8,242.7 199,233.2 206.2,231.2 213.4,229.5 220.6,230 227.8,234 235,231.7 242.2,225.2 249.5,222 256.7,224.9 263.9,225.2 271.1,220.9 278.3,222.2 285.5,228.9 292.7,224.7 299.9,220.1 307.1,219.4 314.3,220.9 321.5,241.8 328.7,244.6 335.9,236 343.1,236.2 350.3,251.9 357.5,242.6 364.7,231.9 371.9,235.2 379.1,238.4 386.3,234.1 393.6,234.8 400.8,232.3 408,226.6 415.2,229.2 422.4,249.8 429.6,269.5 436.8,272.2 444,262.1 451.2,252.1 458.4,240.2 465.6,253.9 472.8,262.7 480,267.3" fill="none" stroke="#ff4444" stroke-opacity="0.35" stroke-width="0.6" stroke-linejoin="round"/>
<polyline points="26.1,243.7 33.3,245.1 40.5,242.3 47.7,239.4 54.9,237.5 62.1,243.4 69.3,249.1 76.5,246.4 83.7,244.2 90.9,243.5 98.1,253.1 105.4,255.9 112.6,247.7 119.8,239.5 127,236.9 134.2,238.2 141.4,240 148.6,239.3 155.8,237.9 163,234.5 170.2,231.8 177.4,237.1 184.6,241.6 191.8,234.9 199,224.8 206.2,222.9 213.4,221.2 220.6,222.2 227.8,226.3 235,223.6 242.2,216.8 249.5,213.2 256.7,215.8 263.9,216.5 271.1,212.4 278.3,213.7 285.5,221.3 292.7,217.4 299.9,212.3 307.1,211 314.3,212 321.5,233.7 328.7,236.7 335.9,228.9 343.1,228.5 350.3,245.1 357.5,236.1 364.7,224.4 371.9,227.8 379.1,231.4 386.3,227.3 393.6,227.8 400.8,224.9 408,219.3 415.2,221.8 422.4,242.7 429.6,262.8 436.8,266.6 444,255.8 451.2,244.9 458.4,233.2 465.6,246.6 472.8,255.2 480,259.8" fill="none" stroke="#a040c0" stroke-opacity="0.35" stroke-width="0.6" stroke-linejoin="round"/>
<polyline points="26.1,245.7 33.3,247.1 40.5,244.3 47.7,241.4 54.9,239.5 62.1,245.4 69.3,251.1 76.5,248.4 83.7,246.2 90.9,245.5 98.1,255.1 105.4,257.9 112.6,249.7 119.8,241.5 127,238.9 134.2,240.2 141.4,242 148.6,241.3 155.8,239.9 163,236.5 170.2,233.8 177.4,239.1 184.6,243.6 191.8,236.9 199,226.8 206.2,224.9 213.4,223.2 220.6,224.2 227.8,228.3 235,225.6 242.2,218.8 249.5,215.2 256.7,217.8 263.9,218.5 271.1,214.4 278.3,215.7 285.5,223.3 292.7,219.4 299.9,214.3 307.1,213 314.3,214 321.5,235.7 328.7,238.7 335.9,230.9 343.1,230.5 350.3,247.1 357.5,238.1 364.7,226.4 371.9,229.8 379.1,233.4 386.3,229.3 393.6,229.8 400.8,226.9 408,221.3 415.2,223.8 422.4,244.7 429.6,264.8 436.8,268.6 444,257.8 451.2,246.9 458.4,235.2 465.6,248.6 472.8,257.2 480,261.8" fill="none" stroke="#a040c0" stroke-opacity="0.35" stroke-width="0.6" stroke-linejoin="round"/>
<polyline points="26.1,239 33.3,240.3 40.5,237.5 47.7,234.6 54.9,232.7 62.1,238.7 69.3,244.6 76.5,242 83.7,239.5 90.9,238.2 98.1,248.2 105.4,251.3 112.6,242.8 119.8,234.3 127,231.8 134.2,233 141.4,234.8 148.6,234.3 155.8,232.9 163,229.4 170.2,226.3 177.4,231.6 184.6,236.7 191.8,229.8 199,219.3 206.2,217.3 213.4,215.7 220.6,217.3 227.8,221.4 235,218.4 242.2,211.2 249.5,207.4 256.7,209.7 263.9,210.7 271.1,206.8 278.3,208 285.5,216.4 292.7,212.8 299.9,207.2 307.1,205.4 314.3,206 321.5,228.4 328.7,231.7 335.9,224.5 343.1,223.6 350.3,240.9 357.5,232.1 364.7,219.6 371.9,223.1 379.1,227 386.3,223.1 393.6,223.4 400.8,220.2 408,214.8 415.2,217.2 422.4,238.2 429.6,258.7 436.8,263.5 444,252 451.2,240.5 458.4,228.9 465.6,241.9 472.8,250.3 480,255" fill="none" stroke="#cd5c5c" stroke-opacity="0.35" stroke-width="0.6" stroke-linejoin="round"/>
<polyline points="26.1,241 33.3,242.3 40.5,239.5 47.7,236.6 54.9,234.7 62.1,240.7 69.3,246.6 76.5,244 83.7,241.5 90.9,240.2 98.1,250.2 105.4,253.3 112.6,244.8 119.8,236.3 127,233.8 134.2,235 141.4,236.8 148.6,236.3 155.8,234.9 163,231.4 170.2,228.3 177.4,233.6 184.6,238.7 191.8,231.8 199,221.3 206.2,219.3 213.4,217.7 220.6,219.3 227.8,223.4 235,220.4 242.2,213.2 249.5,209.4 256.7,211.7 263.9,212.7 271.1,208.8 278.3,210 285.5,218.4 292.7,214.8 299.9,209.2 307.1,207.4 314.3,208 321.5,230.4 328.7,233.7 335.9,226.5 343.1,225.6 350.3,242.9 357.5,234.1 364.7,221.6 371.9,225.1 379.1,229 386.3,225.1 393.6,225.4 400.8,222.2 408,216.8 415.2,219.2 422.4,240.2 429.6,260.7 436.8,265.5 444,254 451.2,242.5 458.4,230.9 465.6,243.9 472.8,252.3 480,257" fill="none" stroke="#cd5c5c" stroke-opacity="0.35" stroke-width="0.6" stroke-linejoin="round"/>
<polyline points="26.1,265.2 33.3,266.6 40.5,263.9 47.7,261.2 54.9,259.6 62.1,264.9 69.3,270.1 76.5,266.5 83.7,264.6 90.9,266 98.1,273.8 105.4,275.1 112.6,268.9 119.8,262.7 127,260.3 134.2,261.2 141.4,262.3 148.6,263.6 155.8,260.9 163,258.2 170.2,255.8 177.4,258.5 184.6,261.1 191.8,255.6 199,250.1 206.2,248.2 213.4,246.5 220.6,246.1 227.8,250.2 235,250.8 242.2,244.2 249.5,240.1 256.7,243.5 263.9,244 271.1,240.6 278.3,240.9 285.5,245.3 292.7,241.4 299.9,237.5 307.1,237.8 314.3,241.3 321.5,259.5 328.7,259.5 335.9,248.7 343.1,251.5 350.3,264.3 357.5,255.7 364.7,247.6 371.9,250.3 379.1,252.5 386.3,248.4 393.6,249.1 400.8,248.5 408,242.3 415.2,244.6 422.4,262.7 429.6,279.7 436.8,282.6 444,273.4 451.2,264.1 458.4,254.9 465.6,271.3 472.8,279.3 480,283.9" fill="none" stroke="#2ca02c" stroke-width="0.9" stroke-linejoin="round"/>
<polyline points="26.1,258 33.3,259.9 40.5,257 47.7,254 54.9,252.3 62.1,257.7 69.3,263.1 76.5,259.8 83.7,258.4 90.9,259.6 98.1,268.2 105.4,269.9 112.6,262.6 119.8,255.2 127,252.6 134.2,254.1 141.4,255.7 148.6,254.7 155.8,253.2 163,250.2 170.2,248.3 177.4,253.7 184.6,256.4 191.8,250.3 199,241.6 206.2,239.5 213.4,237.7 220.6,237.3 227.8,241.3 235,239.7 242.2,233.7 249.5,230.8 256.7,234.3 263.9,234.1 271.1,229.5 278.3,230.7 285.5,236.2 292.7,231.6 299.9,227.6 307.1,227.8 314.3,230 321.5,249.7 328.7,252.1 335.9,242.5 343.1,243.6 350.3,258 357.5,248.3 364.7,239 371.9,242.2 379.1,244.8 386.3,240.2 393.6,241.3 400.8,239.3 408,233.3 415.2,236 422.4,256.4 429.6,275.4 436.8,276.3 444,267.5 451.2,258.7 458.4,246.5 465.6,260.8 472.8,269.8 480,274.5" fill="none" stroke="#0000ff" stroke-width="0.9" stroke-linejoin="round"/>
<polyline points="26.1,250.1 33.3,251.7 40.5,248.8 47.7,245.9 54.9,244.1 62.1,249.8 69.3,255.4 76.5,252.4 83.7,250.5 90.9,250.6 98.1,259.8 105.4,262.2 112.6,254.3 119.8,246.5 127,243.9 134.2,245.3 141.4,246.9 148.6,246.2 155.8,244.7 163,241.5 170.2,239.1 177.4,244.4 184.6,248.2 191.8,241.7 199,232.2 206.2,230.2 213.4,228.5 220.6,229 227.8,233 235,230.7 242.2,224.2 249.5,221 256.7,223.9 263.9,224.2 271.1,219.9 278.3,221.2 285.5,227.9 292.7,223.7 299.9,219.1 307.1,218.4 314.3,219.9 321.5,240.8 328.7,243.6 335.9,235 343.1,235.2 350.3,250.9 357.5,241.6 364.7,230.9 371.9,234.2 379.1,237.4 386.3,233.1 393.6,233.8 400.8,231.3 408,225.6 415.2,228.2 422.4,248.8 429.6,268.5 436.8,271.2 444,261.1 451.2,251.1 458.4,239.2 465.6,252.9 472.8,261.7 480,266.3" fill="none" stroke="#ff2a2a" stroke-width="0.9" stroke-linejoin="round"/>
<polyline points="26.1,244.7 33.3,246.1 40.5,243.3 47.7,240.4 54.9,238.5 62.1,244.4 69.3,250.1 76.5,247.4 83.7,245.2 90.9,244.5 98.1,254.1 105.4,256.9 112.6,248.7 119.8,240.5 127,237.9 134.2,239.2 141.4,241 148.6,240.3 155.8,238.9 163,235.5 170.2,232.8 177.4,238.1 184.6,242.6 191.8,235.9 199,225.8 206.2,223.9 213.4,222.2 220.6,223.2 227.8,227.3 235,224.6 242.2,217.8 249.5,214.2 256.7,216.8 263.9,217.5 271.1,213.4 278.3,214.7 285.5,222.3 292.7,218.4 299.9,213.3 307.1,212 314.3,213 321.5,234.7 328.7,237.7 335.9,229.9 343.1,229.5 350.3,246.1 357.5,237.1 364.7,225.4 371.9,228.8 379.1,232.4 386.3,228.3 393.6,228.8 400.8,225.9 408,220.3 415.2,222.8 422.4,243.7 429.6,263.8 436.8,267.6 444,256.8 451.2,245.9 458.4,234.2 465.6,247.6 472.8,256.2 480,260.8" fill="none" stroke="#9b30b5" stroke-width="0.9" stroke-linejoin="round"/>
<polyline points="26.1,240 33.3,241.3 40.5,238.5 47.7,235.6 54.9,233.7 62.1,239.7 69.3,245.6 76.5,243 83.7,240.5 90.9,239.2 98.1,249.2 105.4,252.3 112.6,243.8 119.8,235.3 127,232.8 134.2,234 141.4,235.8 148.6,235.3 155.8,233.9 163,230.4 170.2,227.3 177.4,232.6 184.6,237.7 191.8,230.8 199,220.3 206.2,218.3 213.4,216.7 220.6,218.3 227.8,222.4 235,219.4 242.2,212.2 249.5,208.4 256.7,210.7 263.9,211.7 271.1,207.8 278.3,209 285.5,217.4 292.7,213.8 299.9,208.2 307.1,206.4 314.3,207 321.5,229.4 328.7,232.7 335.9,225.5 343.1,224.6 350.3,241.9 357.5,233.1 364.7,220.6 371.9,224.1 379.1,228 386.3,224.1 393.6,224.4 400.8,221.2 408,215.8 415.2,218.2 422.4,239.2 429.6,259.7 436.8,264.5 444,253 451.2,241.5 458.4,229.9 465.6,242.9 472.8,251.3 480,256" fill="none" stroke="#c85050" stroke-width="0.9" stroke-linejoin="round"/>
<polyline points="26.1,258.9 33.3,260.7 40.5,256.4 47.7,252.1 54.9,249.5 62.1,257.4 69.3,263.9 76.5,258.1 83.7,256.6 90.9,260.2 98.1,270.5 105.4,273.3 112.6,264.2 119.8,255.2 127,252.6 134.2,252.2 141.4,251.8 148.6,252.5 155.8,252.9 163,249.8 170.2,249.4 177.4,256.4 184.6,256.9 191.8,250.4 199,237.7 206.2,235.1 213.4,232.9 220.6,233.5 227.8,242.7 235,238.9 242.2,231.1 249.5,226.3 256.7,233.1 263.9,234 271.1,228.8 278.3,230.5 285.5,239.6 292.7,232.4 299.9,225.3 307.1,233.8 314.3,238.1 321.5,258.8 328.7,260 335.9,247.4 343.1,250.3 350.3,265.6 357.5,255.8 364.7,246.4 371.9,248.3 379.1,249.5 386.3,242.9 393.6,247 400.8,246.1 408,239.5 415.2,240 422.4,264.1 429.6,286.3 436.8,283.7 444,271.9 451.2,260.1 458.4,253.5 465.6,271.7 472.8,278.6 480,282.5" fill="none" stroke="#000000" stroke-width="1.1" stroke-linejoin="round"/>
<polyline points="26.1,262.5 33.3,261.3 40.5,258.5 47.7,254.6 54.9,252.1 62.1,259.8 69.3,269.4 76.5,266.9 83.7,263.6 90.9,262.2 98.1,268.5 105.4,275.5 112.6,266.6 119.8,261.9 127,257.5 134.2,259.8 141.4,262.3 148.6,260.7 155.8,258.6 163,255.2 170.2,252.9 177.4,258 184.6,261.2 191.8,254.7 199,247.7 206.2,246.4 213.4,245.5 220.6,245.8 227.8,255.9 235,253.3 242.2,240.2 249.5,237.5 256.7,244.3 263.9,244 271.1,239.5 278.3,241.2 285.5,251.2 292.7,244.8 299.9,238.3 307.1,249.6 314.3,253.2 321.5,270.7 328.7,267.2 335.9,255.8 343.1,260.6 350.3,273.3 357.5,261.5 364.7,250.2 371.9,255.4 379.1,259.7 386.3,251.4 393.6,253.4 400.8,252.8 408,243.8 415.2,251.2 422.4,272.4 429.6,291.9 436.8,290 444,278.1 451.2,266.1 458.4,254.2 465.6,274.7 472.8,281.4 480,285" fill="none" stroke="#000000" stroke-width="1.1" stroke-linejoin="round" stroke-dasharray="1,1.6"/>
<polyline points="26.1,252 33.3,251.9 40.5,251.6 47.7,251.3 54.9,251 62.1,250.8 69.3,250.5 76.5,250.2 83.7,249.9 90.9,249.7 98.1,249.4 105.4,249.2 112.6,248.9 119.8,248.7 127,248.5 134.2,248.2 141.4,248 148.6,247.8 155.8,247.5 163,247.3 170.2,247.1 177.4,247 184.6,246.8 191.8,246.6 199,246.4 206.2,246.3 213.4,246.1 220.6,245.9 227.8,245.8 235,245.7 242.2,245.6 249.5,245.6 256.7,245.5 263.9,245.4 271.1,245.4 278.3,245.3 285.5,245.2 292.7,245.3 299.9,245.5 307.1,245.7 314.3,245.9 321.5,246.1 328.7,246.3 335.9,246.5 343.1,246.7 350.3,246.9 357.5,247.2 364.7,247.6 371.9,248 379.1,248.5 386.3,248.9 393.6,249.4 400.8,249.8 408,250.3 415.2,250.7 422.4,251.1 429.6,251.5 436.8,251.9 444,252.4 451.2,252.8 458.4,253.2 465.6,253.6 472.8,254 480,254.2" fill="none" stroke="#000" stroke-width="1.1" stroke-dasharray="4,2"/>
</g>
<rect x="29.7" y="196.3" width="446.7" height="108.7" fill="none" stroke="#7a7a7a" stroke-width="0.85"/>
<g stroke="#222" stroke-width="0.7"><line x1="27.2" y1="300.5" x2="29.7" y2="300.5"/><line x1="27.2" y1="276.6" x2="29.7" y2="276.6"/><line x1="27.2" y1="252.8" x2="29.7" y2="252.8"/><line x1="27.2" y1="228.9" x2="29.7" y2="228.9"/><line x1="27.2" y1="205" x2="29.7" y2="205"/><line x1="29.7" y1="305" x2="29.7" y2="307.5"/><line x1="80.1" y1="305" x2="80.1" y2="307.5"/><line x1="130.6" y1="305" x2="130.6" y2="307.5"/><line x1="181" y1="305" x2="181" y2="307.5"/><line x1="253.1" y1="305" x2="253.1" y2="307.5"/><line x1="303.5" y1="305" x2="303.5" y2="307.5"/><line x1="353.9" y1="305" x2="353.9" y2="307.5"/><line x1="404.4" y1="305" x2="404.4" y2="307.5"/><line x1="476.4" y1="305" x2="476.4" y2="307.5"/></g>
<g fill="#262626"><text x="25.2" y="303.4" font-size="8.9" text-anchor="end" textLength="10.3" lengthAdjust="spacingAndGlyphs">15</text><text x="25.2" y="279.5" font-size="8.9" text-anchor="end" textLength="10.3" lengthAdjust="spacingAndGlyphs">20</text><text x="25.2" y="255.7" font-size="8.9" text-anchor="end" textLength="10.3" lengthAdjust="spacingAndGlyphs">25</text><text x="25.2" y="231.8" font-size="8.9" text-anchor="end" textLength="10.3" lengthAdjust="spacingAndGlyphs">30</text><text x="25.2" y="207.9" font-size="8.9" text-anchor="end" textLength="10.3" lengthAdjust="spacingAndGlyphs">35</text><text x="29.7" y="316.2" font-size="8.9" text-anchor="middle" textLength="23" lengthAdjust="spacingAndGlyphs">Jul-01</text><text x="80.1" y="316.2" font-size="8.9" text-anchor="middle" textLength="23" lengthAdjust="spacingAndGlyphs">Jul-08</text><text x="130.6" y="316.2" font-size="8.9" text-anchor="middle" textLength="23" lengthAdjust="spacingAndGlyphs">Jul-15</text><text x="181" y="316.2" font-size="8.9" text-anchor="middle" textLength="23" lengthAdjust="spacingAndGlyphs">Jul-22</text><text x="253.1" y="316.2" font-size="8.9" text-anchor="middle" textLength="29" lengthAdjust="spacingAndGlyphs">Aug-01</text><text x="303.5" y="316.2" font-size="8.9" text-anchor="middle" textLength="29" lengthAdjust="spacingAndGlyphs">Aug-08</text><text x="353.9" y="316.2" font-size="8.9" text-anchor="middle" textLength="29" lengthAdjust="spacingAndGlyphs">Aug-15</text><text x="404.4" y="316.2" font-size="8.9" text-anchor="middle" textLength="29" lengthAdjust="spacingAndGlyphs">Aug-22</text><text x="476.4" y="316.2" font-size="8.9" text-anchor="middle" textLength="28.5" lengthAdjust="spacingAndGlyphs">Sep-01</text><text x="0" y="0" font-size="8.9" text-anchor="middle" textLength="55" lengthAdjust="spacingAndGlyphs" transform="translate(12,251) rotate(-90)">max t2m [°C]</text></g>
<rect x="33.5" y="273.4" width="254.3" height="26.8" rx="2" fill="#fff" fill-opacity="0.8" stroke="#cccccc" stroke-width="0.8"/>
<g fill="#262626"><line x1="37" y1="280.5" x2="53.5" y2="280.5" stroke="#000" stroke-width="1.2" stroke-dasharray="4,2"/><text x="59.5" y="283.5" font-size="8.9" textLength="36.2" lengthAdjust="spacingAndGlyphs">95th pctl</text><line x1="37" y1="292.8" x2="53.5" y2="292.8" stroke="#2ca02c" stroke-width="1.2"/><text x="59.5" y="295.8" font-size="8.9" textLength="10.3" lengthAdjust="spacingAndGlyphs">CF</text><line x1="113" y1="280.5" x2="130.2" y2="280.5" stroke="#0000ff" stroke-width="1.2"/><text x="136" y="283.5" font-size="8.9" textLength="28.9" lengthAdjust="spacingAndGlyphs">Factual</text><line x1="113" y1="292.8" x2="130.2" y2="292.8" stroke="#ff3333" stroke-width="1.2"/><text x="136" y="295.8" font-size="8.9" textLength="17.3" lengthAdjust="spacingAndGlyphs">+2K</text><line x1="181.8" y1="280.5" x2="199" y2="280.5" stroke="#9b30b5" stroke-width="1.2"/><text x="206" y="283.5" font-size="8.9" textLength="17.3" lengthAdjust="spacingAndGlyphs">+3K</text><line x1="181.8" y1="292.8" x2="199" y2="292.8" stroke="#cd5c5c" stroke-width="1.2"/><text x="206" y="295.8" font-size="8.9" textLength="17.3" lengthAdjust="spacingAndGlyphs">+4K</text><line x1="239.2" y1="280.5" x2="256" y2="280.5" stroke="#000" stroke-width="1.2"/><text x="261.5" y="283.5" font-size="8.9" textLength="21.1" lengthAdjust="spacingAndGlyphs">ERA5</text><line x1="239.2" y1="292.8" x2="256" y2="292.8" stroke="#000" stroke-width="1.2" stroke-dasharray="1,1.6"/><text x="261.5" y="295.8" font-size="8.9" textLength="21.7" lengthAdjust="spacingAndGlyphs">NCEP</text></g>
</svg>
</body></html>
